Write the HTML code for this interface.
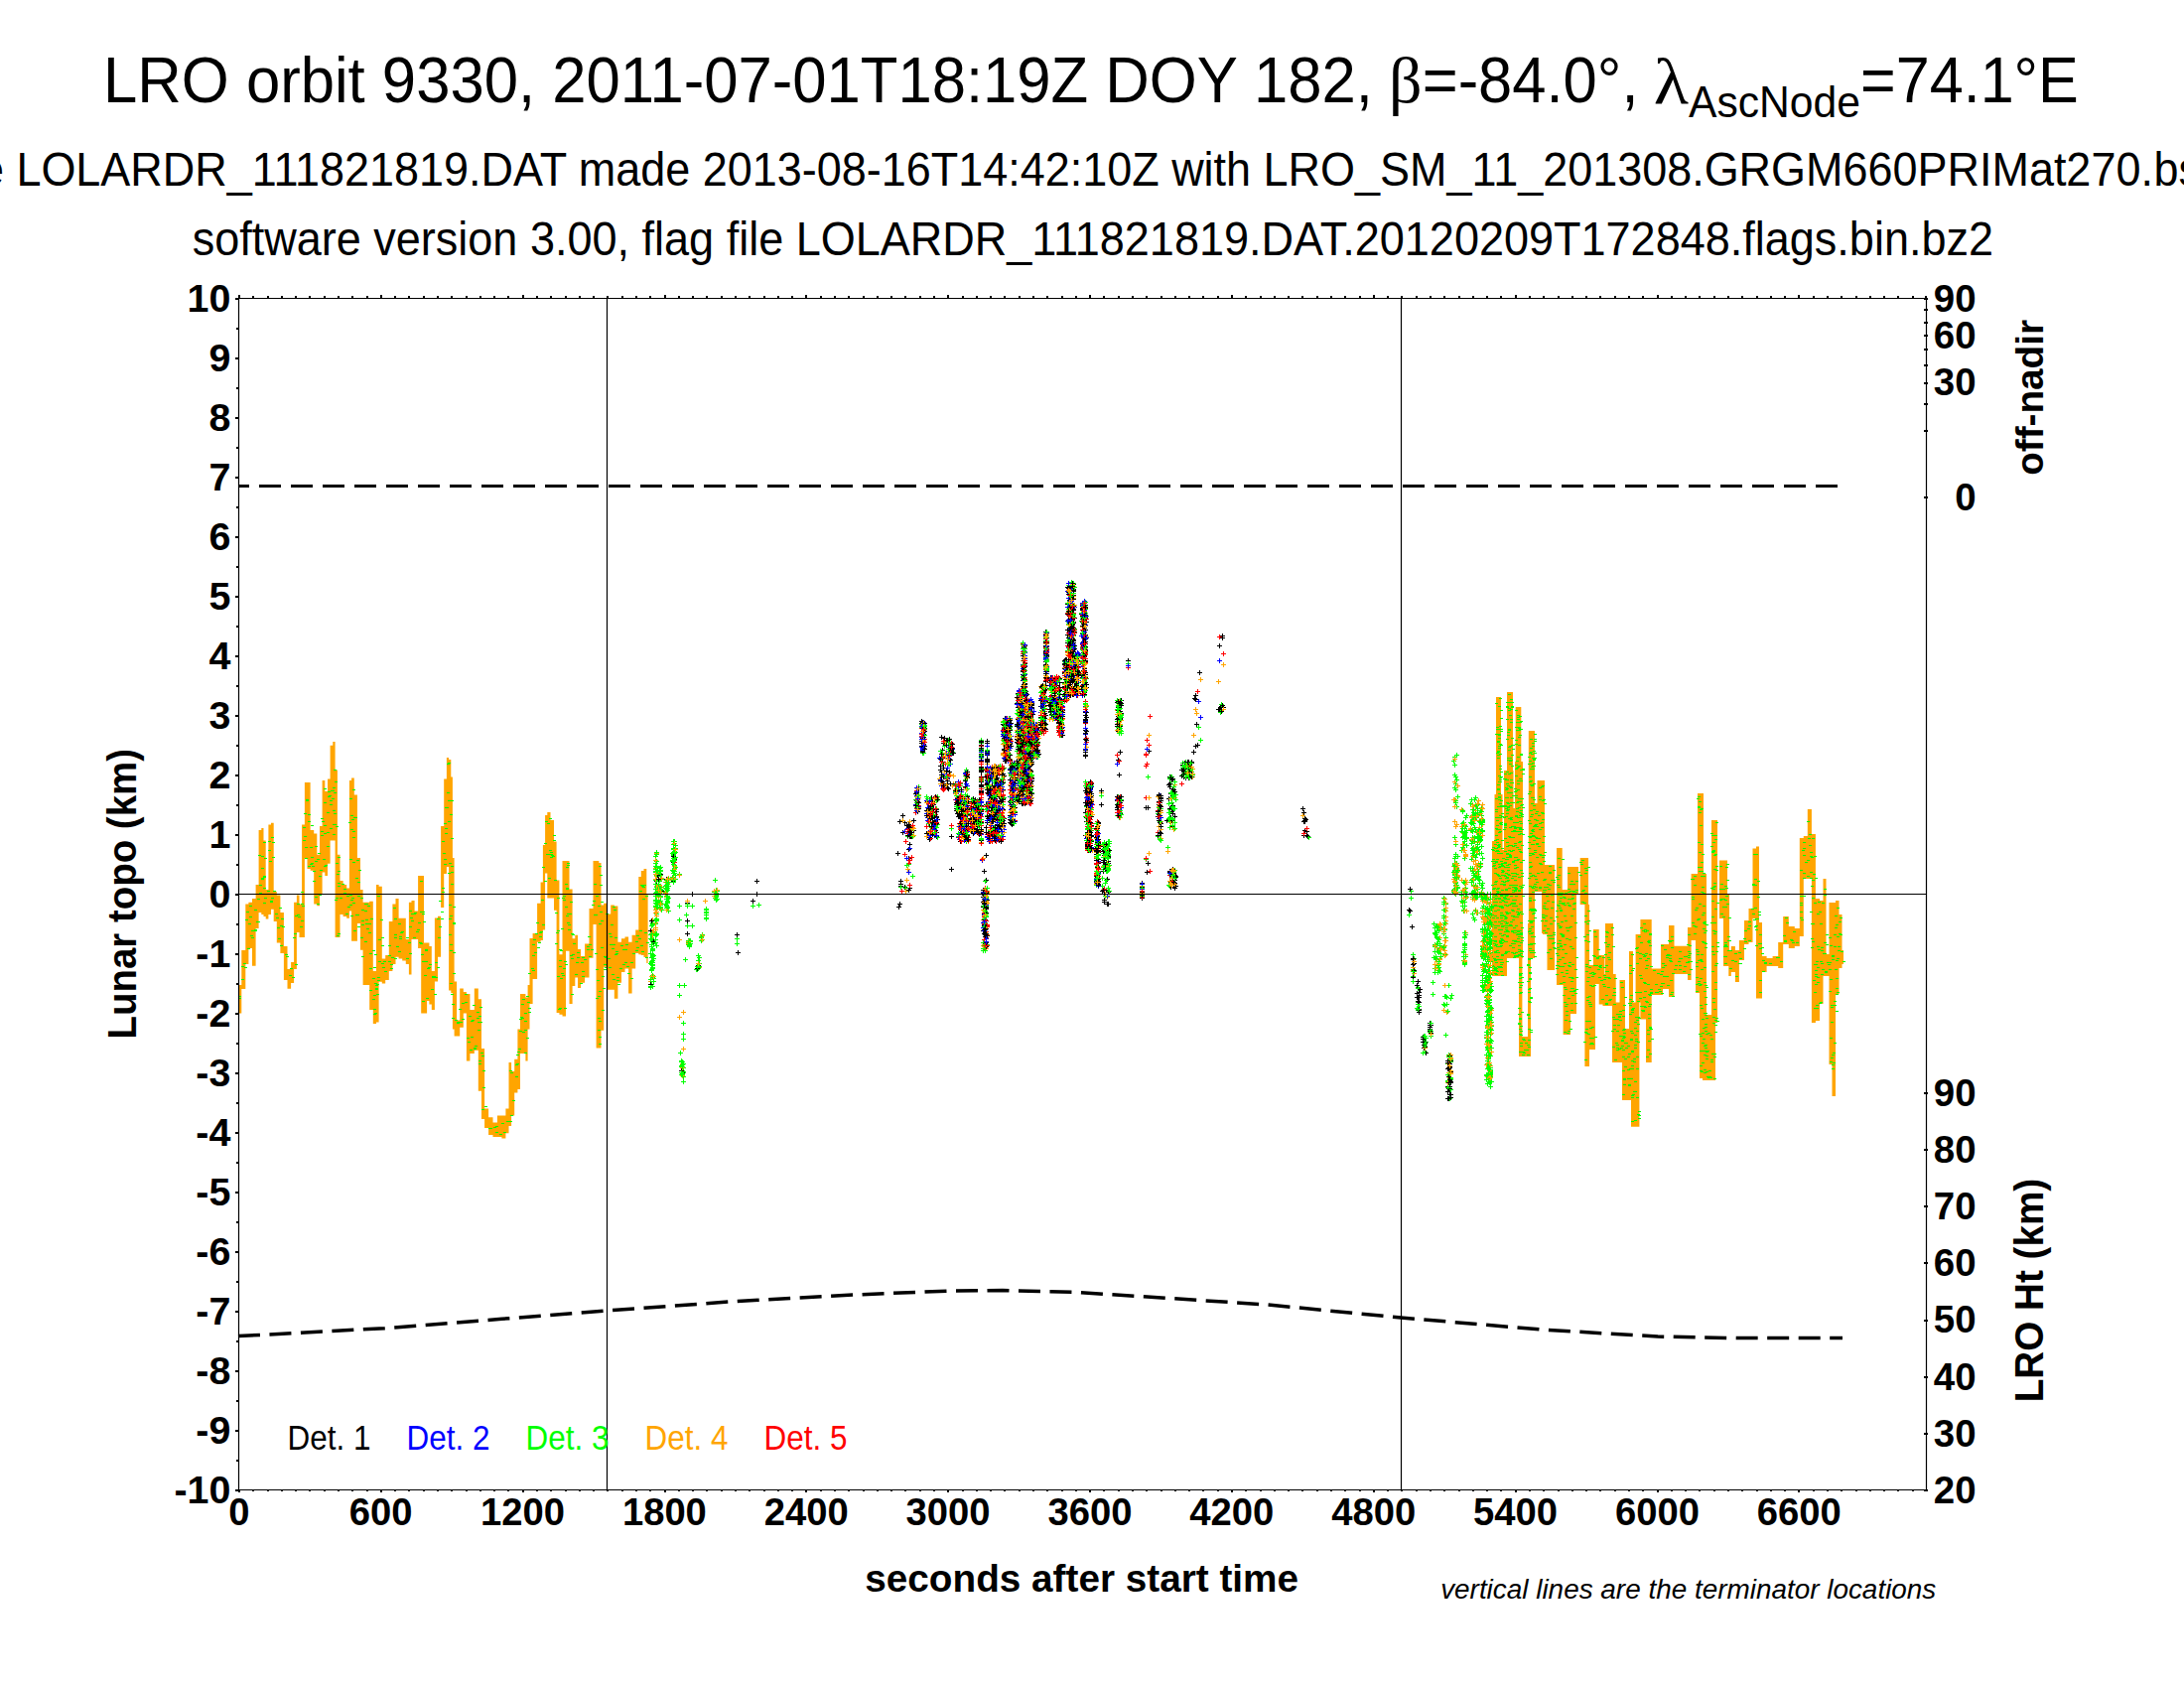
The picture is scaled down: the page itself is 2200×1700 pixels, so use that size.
<!DOCTYPE html><html><head><meta charset="utf-8"><style>html,body{margin:0;padding:0;width:2200px;height:1700px;overflow:hidden;background:#fff}</style></head><body><svg width="2200" height="1700" viewBox="0 0 2200 1700" style="position:absolute;left:0;top:0"><rect width="2200" height="1700" fill="#fff"/><g transform="matrix(0.61623,0,0,0.65217,104.07,103.00)" font-family="Liberation Sans" font-weight="normal" font-style="normal" font-size="100" fill="#000"><text x="0" y="0">LRO orbit 9330, 2011-07-01T18:19Z DOY 182,</text></g><text transform="matrix(0.65854,0,0,0.64945,1399.05,103.36)" font-family="Liberation Serif" font-weight="normal" font-style="normal" font-size="100">β</text><g transform="matrix(0.61529,0,0,0.65217,1432.72,103.00)" font-family="Liberation Sans" font-weight="normal" font-style="normal" font-size="100" fill="#000"><text x="0" y="0">=-84.0°,</text></g><text transform="matrix(0.72667,0,0,0.65429,1665.82,103.70)" font-family="Liberation Serif" font-weight="normal" font-style="normal" font-size="100">λ</text><g transform="matrix(0.42643,0,0,0.44928,1701.00,118.00)" font-family="Liberation Sans" font-weight="normal" font-style="normal" font-size="100" fill="#000"><text x="0" y="0">AscNode</text></g><g transform="matrix(0.61143,0,0,0.65217,1873.94,103.00)" font-family="Liberation Sans" font-weight="normal" font-style="normal" font-size="100" fill="#000"><text x="0" y="0">=74.1°E</text></g><g transform="matrix(0.44968,0,0,0.47826,16.40,187.00)" font-family="Liberation Sans" font-weight="normal" font-style="normal" font-size="100" fill="#000"><text x="0" y="0" text-anchor="end">file&#160;</text><text x="0" y="0">LOLARDR_111821819.DAT made 2013-08-16T14:42:10Z with LRO_SM_11_201308.GRGM660PRIMat270.</text><text x="4788.00" y="0">bsp</text></g><g transform="matrix(0.45027,0,0,0.47826,193.65,257.00)" font-family="Liberation Sans" font-weight="normal" font-style="normal" font-size="100" fill="#000"><text x="0" y="0">software version 3.00, flag file LOLARDR_111821819.DAT.20120209T172848.flags.bin.bz2</text></g><polygon points="240.0,1000.0 240.3,1000.0 240.3,992.0 243.3,992.0 243.3,957.0 247.3,957.0 247.3,910.5 250.4,910.5 250.4,908.7 254.0,908.7 254.0,905.0 257.6,905.0 257.6,891.0 260.6,891.0 260.6,836.0 263.3,836.0 263.3,834.0 265.5,834.0 265.5,846.6 267.7,846.6 267.7,896.0 270.4,896.0 270.4,830.6 273.0,830.6 273.0,828.8 275.7,828.8 275.7,898.0 278.8,898.0 278.8,901.6 282.4,901.6 282.4,919.0 285.9,919.0 285.9,953.0 289.5,953.0 289.5,976.0 293.1,976.0 293.1,969.0 296.1,969.0 296.1,908.7 298.9,908.7 298.9,901.6 301.5,901.6 301.5,910.5 304.1,910.5 304.1,830.6 306.9,830.6 306.9,788.0 309.5,788.0 309.5,788.0 312.6,788.0 312.6,836.0 316.2,836.0 316.2,839.5 319.3,839.5 319.3,860.8 322.0,860.8 322.0,832.0 324.6,832.0 324.6,786.0 327.3,786.0 327.3,797.0 330.0,797.0 330.0,784.4 332.6,784.4 332.6,750.7 335.3,750.7 335.3,747.0 337.6,747.0 337.6,775.5 339.9,775.5 339.9,860.8 342.5,860.8 342.5,887.0 345.6,887.0 345.6,891.0 349.2,891.0 349.2,894.5 351.9,894.5 351.9,786.0 354.1,786.0 354.1,783.5 356.8,783.5 356.8,800.4 359.9,800.4 359.9,864.0 363.0,864.0 363.0,896.0 365.6,896.0 365.6,908.7 368.8,908.7 368.8,908.7 372.2,908.7 372.2,907.8 375.8,907.8 375.8,978.0 379.0,978.0 379.0,891.0 381.6,891.0 381.6,892.8 384.8,892.8 384.8,965.6 388.2,965.6 388.2,962.0 391.8,962.0 391.8,928.0 395.4,928.0 395.4,910.5 398.5,910.5 398.5,905.0 401.6,905.0 401.6,924.7 405.2,924.7 405.2,924.7 408.8,924.7 408.8,946.0 411.9,946.0 411.9,908.7 414.5,908.7 414.5,907.0 417.6,907.0 417.6,917.6 421.1,917.6 421.1,882.0 424.2,882.0 424.2,882.0 427.0,882.0 427.0,949.6 430.1,949.6 430.1,949.6 432.4,949.6 432.4,953.0 434.8,953.0 434.8,978.0 437.9,978.0 437.9,924.6 441.0,924.6 441.0,922.8 444.1,922.8 444.1,832.0 447.2,832.0 447.2,784.4 449.9,784.4 449.9,763.0 452.1,763.0 452.1,765.0 454.3,765.0 454.3,782.6 455.9,782.6 455.9,864.0 457.6,864.0 457.6,988.5 460.1,988.5 460.1,1027.6 463.2,1027.6 463.2,995.6 466.8,995.6 466.8,999.0 469.9,999.0 469.9,1001.0 473.4,1001.0 473.4,1017.0 477.8,1017.0 477.8,995.6 481.8,995.6 481.8,1006.3 485.0,1006.3 485.0,1056.0 488.1,1056.0 488.1,1116.4 492.1,1116.4 492.1,1125.3 496.5,1125.3 496.5,1130.6 500.9,1130.6 500.9,1123.5 505.4,1123.5 505.4,1123.5 509.4,1123.5 509.4,1116.4 512.5,1116.4 512.5,1070.0 515.1,1070.0 515.1,1079.0 518.2,1079.0 518.2,1066.7 521.4,1066.7 521.4,1036.5 524.0,1036.5 524.0,1001.0 526.7,1001.0 526.7,1001.0 529.4,1001.0 529.4,1004.5 531.6,1004.5 531.6,992.0 533.5,992.0 533.5,945.0 536.6,945.0 536.6,940.0 541.1,940.0 541.1,909.7 544.6,909.7 544.6,888.4 546.9,888.4 546.9,851.0 549.1,851.0 549.1,820.9 551.3,820.9 551.3,818.0 554.5,818.0 554.5,826.0 558.0,826.0 558.0,847.5 560.6,847.5 560.6,886.6 563.4,886.6 563.4,961.3 566.5,961.3 566.5,867.0 570.0,867.0 570.0,867.0 573.5,867.0 573.5,895.5 576.6,895.5 576.6,945.3 579.3,945.3 579.3,941.7 582.0,941.7 582.0,956.0 585.1,956.0 585.1,963.0 589.1,963.0 589.1,950.6 593.5,950.6 593.5,915.0 597.5,915.0 597.5,867.0 600.6,867.0 600.6,867.0 603.3,867.0 603.3,868.9 605.5,868.9 605.5,911.5 608.2,911.5 608.2,909.7 611.8,909.7 611.8,920.4 615.2,920.4 615.2,911.5 618.8,911.5 618.8,912.4 622.4,912.4 622.4,948.8 626.0,948.8 626.0,945.3 629.5,945.3 629.5,943.5 633.1,943.5 633.1,948.8 636.6,948.8 636.6,941.7 640.2,941.7 640.2,936.4 643.3,936.4 643.3,883.0 645.8,883.0 645.8,877.0 648.5,877.0 648.5,875.0 651.3,875.0 651.3,900.0 652.6,900.0 652.6,970.0 651.3,970.0 651.3,964.0 648.5,964.0 648.5,962.0 645.8,962.0 645.8,961.3 643.3,961.3 643.3,960.0 640.2,960.0 640.2,975.5 636.6,975.5 636.6,1000.4 633.1,1000.4 633.1,975.5 629.5,975.5 629.5,979.0 626.0,979.0 626.0,989.7 622.4,989.7 622.4,1005.7 618.8,1005.7 618.8,996.8 615.2,996.8 615.2,996.8 611.8,996.8 611.8,973.7 608.2,973.7 608.2,1037.7 605.5,1037.7 605.5,1055.5 603.3,1055.5 603.3,1055.5 600.6,1055.5 600.6,931.0 597.5,931.0 597.5,964.8 593.5,964.8 593.5,984.4 589.1,984.4 589.1,989.7 585.1,989.7 585.1,995.0 582.0,995.0 582.0,984.4 579.3,984.4 579.3,993.0 576.6,993.0 576.6,1011.0 573.5,1011.0 573.5,957.7 570.0,957.7 570.0,1023.5 566.5,1023.5 566.5,1021.7 563.4,1021.7 563.4,1020.0 560.6,1020.0 560.6,916.8 558.0,916.8 558.0,904.4 554.5,904.4 554.5,904.4 551.3,904.4 551.3,879.5 549.1,879.5 549.1,936.4 546.9,936.4 546.9,947.0 544.6,947.0 544.6,948.8 541.1,948.8 541.1,986.0 536.6,986.0 536.6,1011.0 533.5,1011.0 533.5,1036.5 531.6,1036.5 531.6,1068.5 529.4,1068.5 529.4,1061.0 526.7,1061.0 526.7,1061.0 524.0,1061.0 524.0,1097.0 521.4,1097.0 521.4,1100.4 518.2,1100.4 518.2,1123.5 515.1,1123.5 515.1,1134.0 512.5,1134.0 512.5,1141.3 509.4,1141.3 509.4,1146.6 505.4,1146.6 505.4,1145.0 500.9,1145.0 500.9,1145.0 496.5,1145.0 496.5,1143.0 492.1,1143.0 492.1,1136.0 488.1,1136.0 488.1,1127.0 485.0,1127.0 485.0,1098.7 481.8,1098.7 481.8,1057.8 477.8,1057.8 477.8,1061.0 473.4,1061.0 473.4,1068.5 469.9,1068.5 469.9,1020.5 466.8,1020.5 466.8,1034.7 463.2,1034.7 463.2,1043.6 460.1,1043.6 460.1,1043.6 457.6,1043.6 457.6,1036.5 455.9,1036.5 455.9,1000.0 454.3,1000.0 454.3,997.4 452.1,997.4 452.1,873.0 449.9,873.0 449.9,880.0 447.2,880.0 447.2,914.0 444.1,914.0 444.1,963.7 441.0,963.7 441.0,988.5 437.9,988.5 437.9,1017.0 434.8,1017.0 434.8,1011.6 432.4,1011.6 432.4,1008.0 430.1,1008.0 430.1,1020.6 427.0,1020.6 427.0,1020.6 424.2,1020.6 424.2,955.0 421.1,955.0 421.1,946.0 417.6,946.0 417.6,946.0 414.5,946.0 414.5,981.6 411.9,981.6 411.9,971.0 408.8,971.0 408.8,967.4 405.2,967.4 405.2,965.6 401.6,965.6 401.6,963.8 398.5,963.8 398.5,971.0 395.4,971.0 395.4,978.0 391.8,978.0 391.8,987.0 388.2,987.0 388.2,990.4 384.8,990.4 384.8,988.7 381.6,988.7 381.6,1029.5 379.0,1029.5 379.0,1031.0 375.8,1031.0 375.8,1017.0 372.2,1017.0 372.2,992.0 368.8,992.0 368.8,992.0 365.6,992.0 365.6,956.7 363.0,956.7 363.0,930.0 359.9,930.0 359.9,947.8 356.8,947.8 356.8,947.8 354.1,947.8 354.1,917.6 351.9,917.6 351.9,924.7 349.2,924.7 349.2,923.0 345.6,923.0 345.6,921.0 342.5,921.0 342.5,944.0 339.9,944.0 339.9,944.0 337.6,944.0 337.6,846.6 335.3,846.6 335.3,846.6 332.6,846.6 332.6,869.7 330.0,869.7 330.0,882.0 327.3,882.0 327.3,878.5 324.6,878.5 324.6,900.0 322.0,900.0 322.0,912.3 319.3,912.3 319.3,910.5 316.2,910.5 316.2,876.8 312.6,876.8 312.6,875.0 309.5,875.0 309.5,864.0 306.9,864.0 306.9,944.0 304.1,944.0 304.1,944.0 301.5,944.0 301.5,939.0 298.9,939.0 298.9,976.0 296.1,976.0 296.1,990.0 293.1,990.0 293.1,995.8 289.5,995.8 289.5,987.0 285.9,987.0 285.9,960.0 282.4,960.0 282.4,949.6 278.8,949.6 278.8,928.0 275.7,928.0 275.7,915.8 273.0,915.8 273.0,921.0 270.4,921.0 270.4,925.6 267.7,925.6 267.7,923.0 265.5,923.0 265.5,921.0 263.3,921.0 263.3,919.0 260.6,919.0 260.6,935.0 257.6,935.0 257.6,972.7 254.0,972.7 254.0,955.0 250.4,955.0 250.4,971.0 247.3,971.0 247.3,996.0 243.3,996.0 243.3,1020.6 240.3,1020.6 240.3,1021.0 240.0,1021.0" fill="#ffa500"/><polygon points="1741.3,957.0 1743.8,957.0 1743.8,953.0 1747.9,953.0 1747.9,957.0 1751.9,957.0 1751.9,947.0 1757.0,947.0 1757.0,927.0 1761.5,927.0 1761.5,915.0 1765.5,915.0 1765.5,854.5 1769.0,854.5 1769.0,852.5 1772.0,852.5 1772.0,929.0 1775.0,929.0 1775.0,963.0 1779.6,963.0 1779.6,965.0 1785.6,965.0 1785.6,963.0 1791.2,963.0 1791.2,949.0 1796.2,949.0 1796.2,923.0 1801.8,923.0 1801.8,933.0 1807.8,933.0 1807.8,935.0 1812.8,935.0 1812.8,844.0 1816.8,844.0 1816.8,842.0 1820.8,842.0 1820.8,815.0 1824.9,815.0 1824.9,840.0 1828.9,840.0 1828.9,905.0 1833.0,905.0 1833.0,907.0 1836.5,907.0 1836.5,885.0 1839.5,885.0 1839.5,961.0 1842.5,961.0 1842.5,909.0 1845.5,909.0 1845.5,909.0 1849.0,909.0 1849.0,907.0 1852.5,907.0 1852.5,921.0 1855.5,921.0 1855.5,957.0 1857.0,957.0 1857.0,971.0 1855.5,971.0 1855.5,975.0 1852.5,975.0 1852.5,1001.0 1849.0,1001.0 1849.0,1104.0 1845.5,1104.0 1845.5,1072.0 1842.5,1072.0 1842.5,983.0 1839.5,983.0 1839.5,983.0 1836.5,983.0 1836.5,1011.0 1833.0,1011.0 1833.0,1028.0 1828.9,1028.0 1828.9,1030.0 1824.9,1030.0 1824.9,885.0 1820.8,885.0 1820.8,885.0 1816.8,885.0 1816.8,943.0 1812.8,943.0 1812.8,953.0 1807.8,953.0 1807.8,955.0 1801.8,955.0 1801.8,951.0 1796.2,951.0 1796.2,975.0 1791.2,975.0 1791.2,973.0 1785.6,973.0 1785.6,973.0 1779.6,973.0 1779.6,979.0 1775.0,979.0 1775.0,1005.5 1772.0,1005.5 1772.0,1005.5 1769.0,1005.5 1769.0,925.0 1765.5,925.0 1765.5,949.0 1761.5,949.0 1761.5,951.0 1757.0,951.0 1757.0,967.0 1751.9,967.0 1751.9,989.0 1747.9,989.0 1747.9,979.0 1743.8,979.0 1743.8,983.0 1741.3,983.0" fill="#ffa500"/><path fill="#ffa500" d="M1503,847H1507V983H1503ZM1505.5,800H1513.5V983H1505.5ZM1507,702H1512V800H1507ZM1511,856H1518V983H1511ZM1515,776H1524.5V965H1515ZM1518,697H1524V776H1518ZM1526,767H1534V965H1526ZM1526.7,712H1532.3V767H1526.7ZM1524,814H1527V965H1524ZM1530,930H1533.4V1064H1530ZM1539,930H1542V1064H1539ZM1533.4,1044H1539V1064H1533.4ZM1539.8,736H1546V965H1539.8ZM1546,809H1548.5V898H1546ZM1548.5,786H1556V898H1548.5ZM1553,871H1559V940H1553ZM1554,898H1558.5V941H1554ZM1558.5,871H1566V977H1558.5ZM1568,854H1573.7V991H1568ZM1568,896H1575V992H1568ZM1574.6,896H1588V1021H1574.6ZM1574.6,1021H1582V1042H1574.6ZM1579,873H1590V900H1579ZM1591.7,864H1600V911H1591.7ZM1596.4,911H1601V1074H1596.4ZM1601,972H1607V1057H1601ZM1605,936H1610.7V991H1605ZM1610.7,962H1616.4V1011.5H1610.7ZM1617,930H1625V981H1617ZM1614.5,981H1627.7V1013H1614.5ZM1624,1009.6H1631.5V1070H1624ZM1631.5,987H1637V1070H1631.5ZM1634,1036H1643V1108H1634ZM1641,958H1645V1040H1641ZM1643,1009.6H1651.4V1134.7H1643ZM1647.6,941H1653V1009.6H1647.6ZM1652.4,926H1663.7V1026.6H1652.4ZM1658,1026.6H1663.7V1070H1658ZM1663.7,975.4H1675V1002H1663.7ZM1673,951H1681V996H1673ZM1681,932H1686.5V1004H1681ZM1686.5,952.7H1701.7V981H1686.5ZM1700,934H1703.6V987H1700ZM1703.6,880H1708V947H1703.6ZM1710,799H1716V880H1710ZM1708,880H1719V1000H1708ZM1712,1000H1719V1086H1712ZM1715,1022H1728V1088H1715ZM1724,826H1730V1030H1724ZM1732,866.6H1740V925H1732ZM1736,901H1742V973H1736Z"/><path d="M243,973.5h3M243,986.5h3M240,1005.5h3M240,1003.5h3M245,970.5h3M247,926.5h3M246,974.5h3M250,930.5h3M251,912.5h3M251,923.5h3M248,918.5h3M249,955.5h3M253,944.5h3M253,937.5h3M251,912.5h3M252,942.5h3M256,936.5h3M256,916.5h3M258,928.5h3M256,937.5h3M261,899.5h3M259,928.5h3M259,905.5h3M260,861.5h3M261,891.5h3M263,884.5h3M263,862.5h3M263,885.5h3M263,874.5h3M265,882.5h3M265,848.5h3M265,894.5h3M265,909.5h3M266,904.5h3M265,883.5h3M266,864.5h3M270,856.5h3M269,897.5h3M270,847.5h3M272,907.5h3M273,904.5h3M271,867.5h3M272,908.5h3M273,843.5h3M274,863.5h3M275,897.5h3M274,848.5h3M277,920.5h3M279,934.5h3M278,924.5h3M280,945.5h3M282,952.5h3M282,932.5h3M281,914.5h3M283,925.5h3M284,933.5h3M284,933.5h3M287,961.5h3M288,963.5h3M292,975.5h3M291,982.5h3M294,984.5h3M296,940.5h3M295,944.5h3M297,922.5h3M299,910.5h3M297,971.5h3M300,923.5h3M299,921.5h3M304,912.5h3M303,910.5h3M302,933.5h3M303,927.5h3M303,898.5h3M307,853.5h3M307,864.5h3M306,819.5h3M306,842.5h3M305,833.5h3M305,846.5h3M310,827.5h3M310,872.5h3M310,820.5h3M308,806.5h3M308,805.5h3M313,869.5h3M312,853.5h3M313,831.5h3M312,870.5h3M313,863.5h3M314,872.5h3M315,877.5h3M317,867.5h3M315,887.5h3M317,852.5h3M317,903.5h3M319,865.5h3M319,910.5h3M321,882.5h3M320,859.5h3M322,876.5h3M321,901.5h3M325,865.5h3M323,841.5h3M323,837.5h3M324,827.5h3M323,824.5h3M326,831.5h3M327,871.5h3M326,872.5h3M326,839.5h3M326,794.5h3M326,808.5h3M330,802.5h3M329,852.5h3M329,818.5h3M329,838.5h3M330,797.5h3M331,801.5h3M332,806.5h3M332,834.5h3M333,796.5h3M332,810.5h3M335,793.5h3M334,796.5h3M335,816.5h3M335,840.5h3M334,804.5h3M335,830.5h3M336,798.5h3M336,775.5h3M336,819.5h3M337,906.5h3M336,830.5h3M337,787.5h3M340,877.5h3M340,892.5h3M339,942.5h3M340,863.5h3M339,880.5h3M338,832.5h3M338,904.5h3M338,869.5h3M340,889.5h3M342,904.5h3M340,940.5h3M346,895.5h3M344,890.5h3M346,899.5h3M348,920.5h3M349,902.5h3M352,865.5h3M351,828.5h3M350,913.5h3M352,911.5h3M353,906.5h3M352,900.5h3M352,901.5h3M353,835.5h3M353,922.5h3M352,804.5h3M353,821.5h3M355,795.5h3M355,837.5h3M355,909.5h3M355,868.5h3M355,843.5h3M354,825.5h3M354,904.5h3M356,823.5h3M356,937.5h3M360,888.5h3M359,921.5h3M358,884.5h3M360,933.5h3M358,921.5h3M360,902.5h3M359,866.5h3M357,823.5h3M363,904.5h3M361,876.5h3M363,944.5h3M364,916.5h3M364,931.5h3M364,927.5h3M364,963.5h3M368,930.5h3M369,935.5h3M367,910.5h3M367,948.5h3M368,926.5h3M368,910.5h3M367,917.5h3M370,912.5h3M371,930.5h3M372,960.5h3M372,975.5h3M372,997.5h3M371,939.5h3M373,925.5h3M375,957.5h3M376,1021.5h3M375,1006.5h3M376,974.5h3M375,985.5h3M376,1016.5h3M376,1002.5h3M378,995.5h3M377,961.5h3M377,990.5h3M377,1020.5h3M378,992.5h3M378,996.5h3M379,1001.5h3M381,946.5h3M381,968.5h3M379,991.5h3M380,902.5h3M380,984.5h3M380,987.5h3M384,952.5h3M384,970.5h3M385,974.5h3M384,944.5h3M383,926.5h3M387,978.5h3M386,968.5h3M391,968.5h3M391,952.5h3M391,962.5h3M393,971.5h3M393,975.5h3M396,914.5h3M394,964.5h3M397,925.5h3M397,965.5h3M397,944.5h3M397,941.5h3M399,953.5h3M401,958.5h3M401,930.5h3M402,943.5h3M402,945.5h3M404,938.5h3M403,939.5h3M409,944.5h3M409,965.5h3M412,960.5h3M412,933.5h3M411,949.5h3M414,927.5h3M413,924.5h3M412,917.5h3M414,920.5h3M416,920.5h3M417,919.5h3M416,944.5h3M421,929.5h3M422,949.5h3M420,936.5h3M419,938.5h3M424,961.5h3M423,887.5h3M424,900.5h3M423,918.5h3M423,950.5h3M425,918.5h3M425,968.5h3M426,928.5h3M425,920.5h3M427,982.5h3M425,1008.5h3M427,982.5h3M428,957.5h3M428,956.5h3M428,968.5h3M429,1005.5h3M430,975.5h3M431,974.5h3M432,971.5h3M435,983.5h3M434,996.5h3M435,984.5h3M436,983.5h3M437,1001.5h3M438,984.5h3M438,969.5h3M441,944.5h3M440,925.5h3M440,974.5h3M444,918.5h3M442,907.5h3M442,933.5h3M444,925.5h3M447,870.5h3M446,859.5h3M445,894.5h3M445,898.5h3M447,829.5h3M445,847.5h3M447,865.5h3M448,834.5h3M449,813.5h3M448,839.5h3M448,813.5h3M452,911.5h3M452,869.5h3M450,798.5h3M452,925.5h3M451,768.5h3M451,879.5h3M451,806.5h3M452,941.5h3M450,769.5h3M451,827.5h3M453,951.5h3M454,890.5h3M453,990.5h3M453,957.5h3M453,820.5h3M454,844.5h3M454,890.5h3M453,820.5h3M453,922.5h3M454,878.5h3M454,1001.5h3M454,806.5h3M454,872.5h3M455,1011.5h3M455,1025.5h3M456,930.5h3M458,1027.5h3M456,980.5h3M456,959.5h3M456,929.5h3M456,913.5h3M460,1029.5h3M460,1030.5h3M463,1029.5h3M462,1016.5h3M465,1026.5h3M465,1010.5h3M468,1009.5h3M470,1045.5h3M468,1001.5h3M474,1028.5h3M473,1057.5h3M472,1023.5h3M474,1044.5h3M471,1049.5h3M476,1012.5h3M478,1053.5h3M477,1055.5h3M475,1027.5h3M477,1056.5h3M480,1019.5h3M481,1037.5h3M482,1023.5h3M482,1068.5h3M482,1071.5h3M481,1029.5h3M480,1025.5h3M483,1029.5h3M485,1063.5h3M483,1014.5h3M484,1060.5h3M485,1117.5h3M486,1078.5h3M486,1095.5h3M488,1114.5h3M486,1095.5h3M492,1136.5h3M493,1136.5h3M497,1135.5h3M499,1140.5h3M499,1134.5h3M503,1142.5h3M505,1131.5h3M510,1129.5h3M507,1140.5h3M513,1078.5h3M511,1129.5h3M512,1129.5h3M514,1080.5h3M513,1129.5h3M514,1123.5h3M519,1084.5h3M516,1108.5h3M519,1072.5h3M521,1059.5h3M520,1062.5h3M520,1071.5h3M523,1026.5h3M522,1056.5h3M524,1024.5h3M523,1038.5h3M526,1006.5h3M525,1025.5h3M526,1039.5h3M525,1011.5h3M528,1020.5h3M528,1060.5h3M528,1037.5h3M528,1028.5h3M531,1009.5h3M530,1045.5h3M530,1003.5h3M532,1015.5h3M532,1019.5h3M532,980.5h3M536,977.5h3M537,946.5h3M536,962.5h3M536,951.5h3M535,975.5h3M538,959.5h3M541,954.5h3M539,940.5h3M542,949.5h3M540,929.5h3M543,943.5h3M544,938.5h3M543,939.5h3M546,931.5h3M546,873.5h3M545,906.5h3M548,849.5h3M547,900.5h3M549,827.5h3M548,887.5h3M551,829.5h3M550,860.5h3M553,856.5h3M554,858.5h3M554,860.5h3M553,824.5h3M554,863.5h3M552,884.5h3M555,861.5h3M552,860.5h3M556,862.5h3M556,862.5h3M557,841.5h3M557,846.5h3M560,939.5h3M558,886.5h3M559,950.5h3M559,919.5h3M561,983.5h3M561,904.5h3M562,1016.5h3M563,967.5h3M563,1015.5h3M561,937.5h3M563,956.5h3M563,973.5h3M564,985.5h3M567,906.5h3M565,980.5h3M565,935.5h3M564,957.5h3M567,975.5h3M567,902.5h3M566,904.5h3M566,982.5h3M570,922.5h3M569,971.5h3M568,1015.5h3M569,913.5h3M570,895.5h3M571,920.5h3M568,968.5h3M569,890.5h3M570,873.5h3M570,894.5h3M574,962.5h3M573,920.5h3M571,871.5h3M571,929.5h3M572,931.5h3M574,908.5h3M572,936.5h3M571,869.5h3M575,940.5h3M575,965.5h3M576,941.5h3M576,961.5h3M575,1001.5h3M577,950.5h3M579,981.5h3M581,959.5h3M580,969.5h3M581,964.5h3M584,990.5h3M585,969.5h3M586,964.5h3M588,966.5h3M586,983.5h3M586,978.5h3M591,953.5h3M593,951.5h3M593,963.5h3M591,956.5h3M592,943.5h3M598,921.5h3M595,956.5h3M597,907.5h3M597,907.5h3M596,911.5h3M598,890.5h3M600,976.5h3M601,987.5h3M599,921.5h3M599,960.5h3M600,902.5h3M600,1005.5h3M603,872.5h3M602,912.5h3M603,1044.5h3M603,930.5h3M603,930.5h3M602,1037.5h3M603,998.5h3M603,1051.5h3M602,1025.5h3M603,1028.5h3M602,1003.5h3M604,918.5h3M605,908.5h3M605,927.5h3M604,891.5h3M605,954.5h3M604,881.5h3M608,963.5h3M608,971.5h3M606,983.5h3M607,995.5h3M608,976.5h3M606,1017.5h3M609,974.5h3M610,920.5h3M609,964.5h3M612,965.5h3M612,965.5h3M610,920.5h3M615,931.5h3M614,951.5h3M613,940.5h3M613,974.5h3M614,943.5h3M616,955.5h3M618,916.5h3M617,951.5h3M619,944.5h3M619,961.5h3M617,986.5h3M616,981.5h3M617,913.5h3M622,991.5h3M620,958.5h3M621,984.5h3M620,960.5h3M621,987.5h3M627,956.5h3M624,975.5h3M625,952.5h3M627,971.5h3M629,969.5h3M629,956.5h3M632,980.5h3M631,973.5h3M630,951.5h3M637,960.5h3M635,985.5h3M635,969.5h3M640,957.5h3M640,948.5h3M641,954.5h3M643,945.5h3M641,942.5h3M645,891.5h3M645,952.5h3M644,897.5h3M644,937.5h3M646,892.5h3M647,905.5h3M648,891.5h3M647,893.5h3M649,939.5h3M646,958.5h3M650,964.5h3M651,949.5h3M650,902.5h3M651,900.5h3M1742,957.5h3M1742,975.5h3M1744,967.5h3M1747,960.5h3M1747,968.5h3M1748,983.5h3M1751,970.5h3M1751,959.5h3M1752,970.5h3M1752,965.5h3M1757,948.5h3M1756,945.5h3M1757,937.5h3M1756,955.5h3M1761,928.5h3M1760,935.5h3M1761,932.5h3M1761,947.5h3M1765,920.5h3M1764,915.5h3M1766,860.5h3M1765,891.5h3M1766,926.5h3M1765,890.5h3M1768,936.5h3M1768,925.5h3M1769,925.5h3M1768,952.5h3M1767,914.5h3M1768,932.5h3M1767,933.5h3M1768,860.5h3M1767,891.5h3M1767,885.5h3M1772,941.5h3M1770,903.5h3M1772,999.5h3M1771,918.5h3M1772,950.5h3M1770,887.5h3M1772,987.5h3M1771,950.5h3M1771,921.5h3M1772,955.5h3M1775,978.5h3M1774,960.5h3M1774,954.5h3M1775,967.5h3M1777,969.5h3M1777,970.5h3M1782,970.5h3M1789,964.5h3M1790,964.5h3M1796,942.5h3M1797,948.5h3M1793,968.5h3M1797,947.5h3M1803,946.5h3M1798,924.5h3M1804,947.5h3M1799,929.5h3M1805,949.5h3M1806,938.5h3M1809,949.5h3M1813,909.5h3M1813,918.5h3M1813,924.5h3M1813,876.5h3M1813,911.5h3M1813,902.5h3M1816,861.5h3M1815,856.5h3M1816,848.5h3M1816,854.5h3M1816,879.5h3M1816,902.5h3M1814,926.5h3M1816,884.5h3M1821,844.5h3M1820,882.5h3M1818,868.5h3M1820,827.5h3M1820,866.5h3M1822,840.5h3M1822,851.5h3M1825,844.5h3M1825,930.5h3M1823,918.5h3M1823,878.5h3M1824,930.5h3M1823,862.5h3M1824,892.5h3M1825,886.5h3M1825,904.5h3M1824,863.5h3M1824,954.5h3M1825,948.5h3M1823,858.5h3M1823,884.5h3M1824,945.5h3M1829,1012.5h3M1828,884.5h3M1827,862.5h3M1827,1015.5h3M1828,977.5h3M1829,1015.5h3M1828,971.5h3M1828,983.5h3M1828,981.5h3M1827,971.5h3M1828,991.5h3M1826,880.5h3M1826,987.5h3M1830,984.5h3M1827,999.5h3M1829,968.5h3M1827,909.5h3M1831,956.5h3M1833,1009.5h3M1830,974.5h3M1830,920.5h3M1833,968.5h3M1834,954.5h3M1830,953.5h3M1832,1010.5h3M1834,957.5h3M1832,918.5h3M1833,930.5h3M1831,908.5h3M1830,989.5h3M1837,895.5h3M1837,901.5h3M1834,981.5h3M1835,976.5h3M1835,909.5h3M1836,960.5h3M1837,960.5h3M1834,970.5h3M1838,978.5h3M1838,979.5h3M1839,941.5h3M1837,949.5h3M1839,951.5h3M1842,944.5h3M1843,986.5h3M1840,969.5h3M1842,976.5h3M1842,944.5h3M1842,969.5h3M1842,998.5h3M1841,971.5h3M1846,1060.5h3M1845,962.5h3M1843,1069.5h3M1845,1062.5h3M1844,1014.5h3M1846,1070.5h3M1845,966.5h3M1844,1065.5h3M1844,1029.5h3M1845,1072.5h3M1845,963.5h3M1843,952.5h3M1844,1012.5h3M1845,1076.5h3M1843,1045.5h3M1845,1072.5h3M1847,1050.5h3M1849,985.5h3M1850,943.5h3M1846,1012.5h3M1849,931.5h3M1849,1018.5h3M1847,1012.5h3M1849,967.5h3M1847,953.5h3M1849,1001.5h3M1848,922.5h3M1849,995.5h3M1847,1008.5h3M1850,999.5h3M1848,976.5h3M1848,934.5h3M1847,941.5h3M1851,957.5h3M1851,953.5h3M1850,914.5h3M1853,941.5h3M1850,965.5h3M1852,928.5h3M1852,940.5h3M1853,924.5h3M1856,968.5h3M1854,958.5h3M1505,905.5h3M1506,951.5h3M1505,977.5h3M1503,853.5h3M1503,872.5h3M1502,855.5h3M1504,965.5h3M1504,975.5h3M1506,857.5h3M1504,901.5h3M1502,977.5h3M1503,924.5h3M1505,976.5h3M1505,901.5h3M1504,869.5h3M1506,981.5h3M1503,853.5h3M1503,895.5h3M1506,969.5h3M1505,854.5h3M1505,943.5h3M1505,980.5h3M1502,867.5h3M1505,974.5h3M1505,888.5h3M1504,950.5h3M1502,891.5h3M1503,865.5h3M1504,871.5h3M1503,867.5h3M1505,850.5h3M1505,874.5h3M1502,972.5h3M1503,973.5h3M1505,967.5h3M1503,908.5h3M1502,972.5h3M1505,932.5h3M1504,894.5h3M1505,912.5h3M1505,867.5h3M1503,856.5h3M1505,922.5h3M1503,965.5h3M1503,903.5h3M1507,953.5h3M1507,831.5h3M1508,859.5h3M1512,822.5h3M1512,811.5h3M1512,922.5h3M1506,887.5h3M1507,848.5h3M1506,867.5h3M1512,982.5h3M1512,819.5h3M1507,963.5h3M1505,932.5h3M1507,978.5h3M1505,947.5h3M1507,826.5h3M1505,952.5h3M1509,835.5h3M1508,966.5h3M1506,904.5h3M1506,834.5h3M1511,930.5h3M1506,815.5h3M1505,911.5h3M1508,851.5h3M1506,912.5h3M1510,948.5h3M1509,838.5h3M1505,934.5h3M1508,932.5h3M1505,948.5h3M1507,953.5h3M1511,890.5h3M1505,966.5h3M1508,959.5h3M1507,835.5h3M1511,867.5h3M1506,868.5h3M1509,802.5h3M1509,882.5h3M1509,823.5h3M1510,949.5h3M1511,859.5h3M1510,870.5h3M1511,812.5h3M1511,974.5h3M1508,894.5h3M1509,898.5h3M1505,976.5h3M1506,834.5h3M1505,846.5h3M1511,806.5h3M1505,928.5h3M1506,804.5h3M1509,905.5h3M1509,928.5h3M1505,958.5h3M1510,809.5h3M1505,890.5h3M1509,852.5h3M1505,874.5h3M1506,908.5h3M1511,828.5h3M1509,936.5h3M1506,951.5h3M1512,871.5h3M1508,953.5h3M1509,873.5h3M1512,942.5h3M1507,845.5h3M1507,880.5h3M1512,947.5h3M1512,949.5h3M1511,811.5h3M1509,974.5h3M1512,846.5h3M1508,916.5h3M1507,897.5h3M1505,879.5h3M1509,805.5h3M1506,977.5h3M1511,971.5h3M1510,947.5h3M1512,961.5h3M1505,917.5h3M1507,924.5h3M1507,899.5h3M1512,913.5h3M1507,895.5h3M1508,973.5h3M1507,856.5h3M1510,823.5h3M1509,974.5h3M1509,850.5h3M1508,898.5h3M1506,823.5h3M1506,854.5h3M1508,853.5h3M1506,817.5h3M1509,953.5h3M1509,904.5h3M1510,837.5h3M1510,884.5h3M1509,912.5h3M1508,857.5h3M1506,841.5h3M1509,870.5h3M1509,803.5h3M1507,957.5h3M1506,902.5h3M1508,853.5h3M1512,854.5h3M1511,830.5h3M1505,959.5h3M1508,812.5h3M1508,881.5h3M1510,821.5h3M1506,975.5h3M1510,829.5h3M1507,865.5h3M1510,913.5h3M1511,950.5h3M1510,774.5h3M1510,749.5h3M1510,771.5h3M1511,715.5h3M1510,703.5h3M1510,759.5h3M1508,795.5h3M1509,743.5h3M1510,787.5h3M1509,739.5h3M1508,747.5h3M1510,731.5h3M1508,756.5h3M1508,734.5h3M1510,785.5h3M1508,746.5h3M1507,732.5h3M1507,758.5h3M1509,711.5h3M1511,734.5h3M1510,783.5h3M1511,723.5h3M1508,790.5h3M1506,708.5h3M1509,751.5h3M1511,777.5h3M1509,799.5h3M1509,753.5h3M1509,740.5h3M1508,760.5h3M1508,794.5h3M1509,753.5h3M1506,739.5h3M1508,757.5h3M1509,787.5h3M1511,750.5h3M1508,763.5h3M1511,736.5h3M1509,781.5h3M1507,734.5h3M1511,782.5h3M1511,969.5h3M1515,960.5h3M1517,968.5h3M1513,877.5h3M1512,921.5h3M1514,881.5h3M1511,936.5h3M1514,901.5h3M1517,937.5h3M1510,908.5h3M1516,895.5h3M1515,857.5h3M1512,962.5h3M1514,941.5h3M1511,919.5h3M1514,890.5h3M1515,923.5h3M1517,929.5h3M1513,872.5h3M1511,952.5h3M1511,870.5h3M1511,922.5h3M1516,934.5h3M1516,865.5h3M1510,953.5h3M1512,946.5h3M1512,878.5h3M1512,869.5h3M1516,930.5h3M1512,913.5h3M1513,864.5h3M1516,930.5h3M1517,912.5h3M1514,888.5h3M1510,973.5h3M1516,896.5h3M1516,959.5h3M1512,932.5h3M1517,919.5h3M1517,887.5h3M1513,947.5h3M1512,896.5h3M1516,918.5h3M1516,887.5h3M1511,902.5h3M1511,978.5h3M1512,927.5h3M1511,924.5h3M1513,907.5h3M1510,872.5h3M1516,901.5h3M1512,881.5h3M1512,887.5h3M1510,940.5h3M1512,876.5h3M1515,869.5h3M1512,961.5h3M1511,912.5h3M1516,958.5h3M1511,901.5h3M1515,904.5h3M1517,883.5h3M1517,920.5h3M1512,914.5h3M1511,945.5h3M1512,969.5h3M1514,903.5h3M1512,933.5h3M1511,966.5h3M1511,921.5h3M1514,891.5h3M1515,905.5h3M1515,928.5h3M1512,906.5h3M1516,936.5h3M1517,901.5h3M1515,882.5h3M1517,871.5h3M1517,789.5h3M1517,819.5h3M1515,911.5h3M1517,852.5h3M1523,922.5h3M1522,938.5h3M1515,829.5h3M1514,904.5h3M1520,843.5h3M1518,900.5h3M1521,823.5h3M1522,843.5h3M1520,811.5h3M1515,948.5h3M1521,910.5h3M1514,784.5h3M1516,814.5h3M1517,848.5h3M1514,835.5h3M1520,811.5h3M1522,884.5h3M1521,825.5h3M1518,905.5h3M1517,777.5h3M1522,922.5h3M1517,785.5h3M1522,891.5h3M1514,823.5h3M1515,925.5h3M1516,948.5h3M1521,793.5h3M1521,851.5h3M1521,932.5h3M1517,794.5h3M1523,856.5h3M1523,906.5h3M1521,932.5h3M1520,862.5h3M1515,908.5h3M1518,873.5h3M1523,801.5h3M1521,785.5h3M1521,928.5h3M1516,879.5h3M1523,896.5h3M1519,824.5h3M1515,844.5h3M1518,815.5h3M1517,803.5h3M1521,902.5h3M1516,822.5h3M1519,860.5h3M1523,843.5h3M1517,942.5h3M1515,882.5h3M1517,929.5h3M1519,919.5h3M1516,902.5h3M1520,863.5h3M1521,932.5h3M1515,831.5h3M1517,816.5h3M1515,830.5h3M1516,908.5h3M1518,798.5h3M1517,865.5h3M1517,808.5h3M1515,779.5h3M1523,917.5h3M1515,911.5h3M1523,882.5h3M1515,868.5h3M1518,812.5h3M1519,779.5h3M1523,898.5h3M1520,952.5h3M1520,824.5h3M1516,803.5h3M1514,922.5h3M1522,832.5h3M1516,896.5h3M1522,950.5h3M1516,924.5h3M1522,916.5h3M1517,812.5h3M1522,837.5h3M1518,880.5h3M1518,932.5h3M1516,785.5h3M1519,894.5h3M1522,909.5h3M1523,954.5h3M1519,870.5h3M1515,833.5h3M1520,792.5h3M1521,808.5h3M1518,958.5h3M1515,784.5h3M1518,813.5h3M1521,778.5h3M1522,937.5h3M1521,857.5h3M1517,901.5h3M1519,856.5h3M1517,859.5h3M1520,931.5h3M1523,808.5h3M1517,860.5h3M1519,842.5h3M1516,793.5h3M1517,863.5h3M1523,947.5h3M1522,959.5h3M1523,893.5h3M1522,788.5h3M1520,891.5h3M1517,884.5h3M1523,867.5h3M1520,833.5h3M1517,943.5h3M1514,812.5h3M1520,861.5h3M1515,901.5h3M1518,886.5h3M1518,876.5h3M1519,851.5h3M1515,811.5h3M1522,879.5h3M1515,938.5h3M1516,795.5h3M1519,824.5h3M1519,881.5h3M1516,884.5h3M1515,873.5h3M1520,792.5h3M1518,791.5h3M1518,938.5h3M1519,911.5h3M1521,798.5h3M1523,912.5h3M1515,932.5h3M1518,809.5h3M1523,882.5h3M1521,803.5h3M1521,788.5h3M1519,699.5h3M1521,714.5h3M1519,752.5h3M1520,766.5h3M1521,765.5h3M1520,769.5h3M1522,711.5h3M1521,724.5h3M1522,750.5h3M1522,707.5h3M1519,755.5h3M1523,754.5h3M1517,744.5h3M1518,740.5h3M1522,707.5h3M1523,750.5h3M1519,713.5h3M1520,763.5h3M1520,707.5h3M1517,707.5h3M1522,712.5h3M1520,720.5h3M1521,727.5h3M1518,765.5h3M1520,751.5h3M1522,771.5h3M1517,724.5h3M1518,737.5h3M1522,760.5h3M1517,712.5h3M1522,750.5h3M1519,735.5h3M1518,763.5h3M1519,765.5h3M1521,704.5h3M1519,715.5h3M1522,743.5h3M1517,711.5h3M1519,734.5h3M1528,837.5h3M1525,882.5h3M1528,772.5h3M1529,961.5h3M1525,797.5h3M1530,821.5h3M1527,866.5h3M1527,880.5h3M1529,956.5h3M1533,775.5h3M1529,919.5h3M1532,920.5h3M1530,892.5h3M1528,823.5h3M1531,939.5h3M1533,902.5h3M1527,918.5h3M1531,868.5h3M1530,837.5h3M1529,848.5h3M1525,834.5h3M1528,962.5h3M1529,840.5h3M1527,814.5h3M1528,795.5h3M1525,939.5h3M1529,855.5h3M1530,827.5h3M1526,781.5h3M1527,828.5h3M1531,876.5h3M1532,835.5h3M1532,882.5h3M1526,803.5h3M1530,962.5h3M1528,920.5h3M1528,938.5h3M1526,863.5h3M1532,822.5h3M1527,773.5h3M1526,821.5h3M1531,811.5h3M1528,807.5h3M1530,937.5h3M1530,807.5h3M1531,957.5h3M1530,784.5h3M1531,940.5h3M1528,795.5h3M1527,873.5h3M1532,893.5h3M1532,810.5h3M1528,915.5h3M1530,847.5h3M1530,834.5h3M1525,849.5h3M1525,891.5h3M1528,865.5h3M1530,818.5h3M1529,771.5h3M1532,879.5h3M1533,779.5h3M1530,910.5h3M1528,786.5h3M1526,796.5h3M1531,786.5h3M1532,851.5h3M1529,883.5h3M1529,897.5h3M1530,833.5h3M1531,819.5h3M1531,918.5h3M1531,829.5h3M1531,960.5h3M1529,823.5h3M1529,952.5h3M1526,770.5h3M1529,896.5h3M1531,839.5h3M1533,813.5h3M1531,786.5h3M1525,794.5h3M1525,866.5h3M1529,804.5h3M1533,840.5h3M1526,803.5h3M1531,949.5h3M1526,774.5h3M1531,816.5h3M1533,866.5h3M1530,835.5h3M1531,858.5h3M1528,945.5h3M1526,912.5h3M1526,895.5h3M1528,937.5h3M1525,879.5h3M1528,948.5h3M1533,891.5h3M1527,817.5h3M1527,853.5h3M1527,808.5h3M1531,894.5h3M1527,963.5h3M1527,880.5h3M1526,937.5h3M1532,820.5h3M1531,929.5h3M1527,833.5h3M1529,943.5h3M1526,902.5h3M1530,857.5h3M1530,941.5h3M1527,941.5h3M1528,921.5h3M1532,804.5h3M1532,963.5h3M1527,773.5h3M1526,959.5h3M1525,947.5h3M1526,912.5h3M1526,801.5h3M1530,786.5h3M1528,948.5h3M1531,941.5h3M1533,774.5h3M1527,923.5h3M1531,775.5h3M1529,813.5h3M1528,789.5h3M1525,962.5h3M1528,940.5h3M1528,720.5h3M1528,722.5h3M1530,721.5h3M1530,740.5h3M1526,732.5h3M1528,762.5h3M1528,724.5h3M1531,760.5h3M1530,727.5h3M1527,727.5h3M1526,715.5h3M1529,735.5h3M1529,732.5h3M1526,749.5h3M1529,742.5h3M1529,750.5h3M1531,759.5h3M1530,734.5h3M1527,735.5h3M1531,734.5h3M1528,735.5h3M1527,766.5h3M1526,745.5h3M1531,726.5h3M1529,733.5h3M1524,832.5h3M1526,932.5h3M1526,822.5h3M1525,863.5h3M1525,897.5h3M1524,960.5h3M1523,926.5h3M1526,891.5h3M1525,963.5h3M1524,909.5h3M1525,871.5h3M1525,874.5h3M1525,906.5h3M1525,863.5h3M1525,896.5h3M1524,906.5h3M1524,950.5h3M1524,923.5h3M1525,886.5h3M1524,836.5h3M1526,894.5h3M1525,894.5h3M1525,851.5h3M1524,937.5h3M1524,910.5h3M1525,948.5h3M1526,821.5h3M1524,939.5h3M1525,833.5h3M1523,852.5h3M1523,868.5h3M1525,893.5h3M1524,828.5h3M1524,964.5h3M1525,882.5h3M1524,934.5h3M1525,837.5h3M1530,1000.5h3M1530,980.5h3M1530,981.5h3M1529,958.5h3M1531,939.5h3M1530,1026.5h3M1530,974.5h3M1530,1041.5h3M1529,1015.5h3M1532,958.5h3M1530,1036.5h3M1531,980.5h3M1529,989.5h3M1530,1025.5h3M1530,985.5h3M1531,1038.5h3M1530,982.5h3M1531,1053.5h3M1530,1059.5h3M1531,980.5h3M1531,974.5h3M1529,1031.5h3M1530,1000.5h3M1531,1050.5h3M1532,934.5h3M1531,992.5h3M1531,1042.5h3M1530,994.5h3M1532,989.5h3M1531,999.5h3M1532,1019.5h3M1532,984.5h3M1529,1021.5h3M1531,1033.5h3M1532,947.5h3M1530,941.5h3M1532,944.5h3M1529,1030.5h3M1538,1021.5h3M1540,995.5h3M1538,1022.5h3M1539,1008.5h3M1541,1039.5h3M1541,950.5h3M1539,999.5h3M1538,1062.5h3M1539,966.5h3M1539,965.5h3M1541,1004.5h3M1540,986.5h3M1538,971.5h3M1541,1037.5h3M1541,965.5h3M1539,938.5h3M1540,980.5h3M1539,996.5h3M1540,979.5h3M1540,957.5h3M1541,1004.5h3M1538,972.5h3M1540,985.5h3M1540,974.5h3M1539,1036.5h3M1539,1025.5h3M1540,1009.5h3M1539,1054.5h3M1539,1047.5h3M1538,988.5h3M1540,937.5h3M1541,940.5h3M1540,955.5h3M1541,1005.5h3M1535,1057.5h3M1536,1050.5h3M1534,1060.5h3M1533,1062.5h3M1534,1047.5h3M1533,1059.5h3M1538,1052.5h3M1536,1050.5h3M1537,1057.5h3M1533,1046.5h3M1539,927.5h3M1541,790.5h3M1542,809.5h3M1542,772.5h3M1544,811.5h3M1544,771.5h3M1544,959.5h3M1541,744.5h3M1541,882.5h3M1540,861.5h3M1539,842.5h3M1543,835.5h3M1543,763.5h3M1544,765.5h3M1545,963.5h3M1545,856.5h3M1541,816.5h3M1543,850.5h3M1545,758.5h3M1542,933.5h3M1543,860.5h3M1539,769.5h3M1540,940.5h3M1544,789.5h3M1545,744.5h3M1543,957.5h3M1541,951.5h3M1543,748.5h3M1541,839.5h3M1540,906.5h3M1540,916.5h3M1541,753.5h3M1542,759.5h3M1542,916.5h3M1542,842.5h3M1539,854.5h3M1539,884.5h3M1540,868.5h3M1541,822.5h3M1543,774.5h3M1540,951.5h3M1541,928.5h3M1544,846.5h3M1540,758.5h3M1544,764.5h3M1542,859.5h3M1540,843.5h3M1540,859.5h3M1542,820.5h3M1540,829.5h3M1540,766.5h3M1540,935.5h3M1542,939.5h3M1539,951.5h3M1542,917.5h3M1542,893.5h3M1540,907.5h3M1540,797.5h3M1539,826.5h3M1542,803.5h3M1544,756.5h3M1542,790.5h3M1542,915.5h3M1543,751.5h3M1540,873.5h3M1545,746.5h3M1543,894.5h3M1544,815.5h3M1544,842.5h3M1545,739.5h3M1545,831.5h3M1541,757.5h3M1540,904.5h3M1543,771.5h3M1541,769.5h3M1540,787.5h3M1541,959.5h3M1545,917.5h3M1542,850.5h3M1544,943.5h3M1543,881.5h3M1540,879.5h3M1544,916.5h3M1539,900.5h3M1541,774.5h3M1545,890.5h3M1543,768.5h3M1544,950.5h3M1544,906.5h3M1544,919.5h3M1542,836.5h3M1544,915.5h3M1544,805.5h3M1545,858.5h3M1545,763.5h3M1545,916.5h3M1540,927.5h3M1540,782.5h3M1542,791.5h3M1542,943.5h3M1543,898.5h3M1541,915.5h3M1544,892.5h3M1545,924.5h3M1541,757.5h3M1543,927.5h3M1541,872.5h3M1544,917.5h3M1539,848.5h3M1539,762.5h3M1544,832.5h3M1543,841.5h3M1541,786.5h3M1541,929.5h3M1543,803.5h3M1539,799.5h3M1543,837.5h3M1543,920.5h3M1540,892.5h3M1547,826.5h3M1546,893.5h3M1546,830.5h3M1547,863.5h3M1547,844.5h3M1546,893.5h3M1546,896.5h3M1545,882.5h3M1545,856.5h3M1545,825.5h3M1547,850.5h3M1547,832.5h3M1546,819.5h3M1546,885.5h3M1546,843.5h3M1547,888.5h3M1547,817.5h3M1547,849.5h3M1550,860.5h3M1552,828.5h3M1551,861.5h3M1554,842.5h3M1550,894.5h3M1548,879.5h3M1553,848.5h3M1551,870.5h3M1554,867.5h3M1553,791.5h3M1550,802.5h3M1555,885.5h3M1549,852.5h3M1552,792.5h3M1550,869.5h3M1552,818.5h3M1553,819.5h3M1552,833.5h3M1555,858.5h3M1554,861.5h3M1550,893.5h3M1553,863.5h3M1550,805.5h3M1552,878.5h3M1553,825.5h3M1549,844.5h3M1554,805.5h3M1553,806.5h3M1550,793.5h3M1550,829.5h3M1555,893.5h3M1549,821.5h3M1555,809.5h3M1550,835.5h3M1554,898.5h3M1554,937.5h3M1554,886.5h3M1557,902.5h3M1557,915.5h3M1557,893.5h3M1553,923.5h3M1555,909.5h3M1556,922.5h3M1554,896.5h3M1558,907.5h3M1554,914.5h3M1554,924.5h3M1552,927.5h3M1555,896.5h3M1558,890.5h3M1553,921.5h3M1556,927.5h3M1555,932.5h3M1554,912.5h3M1556,939.5h3M1556,927.5h3M1556,915.5h3M1563,908.5h3M1560,956.5h3M1560,891.5h3M1564,927.5h3M1561,942.5h3M1564,886.5h3M1560,879.5h3M1561,924.5h3M1564,941.5h3M1562,914.5h3M1562,900.5h3M1564,954.5h3M1564,888.5h3M1563,950.5h3M1561,965.5h3M1564,949.5h3M1564,939.5h3M1564,886.5h3M1563,945.5h3M1562,901.5h3M1558,935.5h3M1564,900.5h3M1559,895.5h3M1558,942.5h3M1565,955.5h3M1560,945.5h3M1558,959.5h3M1560,872.5h3M1562,886.5h3M1560,878.5h3M1561,930.5h3M1564,876.5h3M1568,885.5h3M1571,901.5h3M1569,932.5h3M1568,962.5h3M1568,968.5h3M1572,928.5h3M1567,960.5h3M1567,923.5h3M1569,864.5h3M1571,953.5h3M1570,909.5h3M1570,934.5h3M1568,972.5h3M1573,964.5h3M1572,899.5h3M1573,865.5h3M1570,873.5h3M1570,947.5h3M1571,916.5h3M1569,881.5h3M1569,893.5h3M1568,954.5h3M1570,914.5h3M1568,950.5h3M1568,891.5h3M1570,950.5h3M1573,956.5h3M1572,979.5h3M1571,952.5h3M1567,883.5h3M1567,972.5h3M1571,940.5h3M1569,912.5h3M1571,990.5h3M1569,901.5h3M1568,930.5h3M1573,973.5h3M1570,907.5h3M1568,911.5h3M1572,941.5h3M1574,983.5h3M1573,942.5h3M1573,909.5h3M1568,950.5h3M1571,917.5h3M1569,899.5h3M1573,964.5h3M1574,989.5h3M1570,966.5h3M1570,973.5h3M1573,910.5h3M1567,917.5h3M1571,933.5h3M1567,975.5h3M1573,941.5h3M1567,981.5h3M1571,904.5h3M1569,956.5h3M1573,943.5h3M1576,927.5h3M1586,944.5h3M1575,970.5h3M1575,922.5h3M1580,969.5h3M1582,984.5h3M1579,905.5h3M1583,904.5h3M1580,946.5h3M1583,985.5h3M1577,977.5h3M1583,955.5h3M1575,1009.5h3M1582,905.5h3M1577,1018.5h3M1577,945.5h3M1584,998.5h3M1582,988.5h3M1574,909.5h3M1587,996.5h3M1574,903.5h3M1577,1011.5h3M1577,980.5h3M1586,976.5h3M1586,929.5h3M1576,899.5h3M1584,910.5h3M1587,984.5h3M1576,996.5h3M1576,960.5h3M1575,994.5h3M1586,1010.5h3M1574,1002.5h3M1581,998.5h3M1580,973.5h3M1582,995.5h3M1575,904.5h3M1581,933.5h3M1579,898.5h3M1584,900.5h3M1585,997.5h3M1580,912.5h3M1582,922.5h3M1579,911.5h3M1587,964.5h3M1578,909.5h3M1583,1002.5h3M1585,909.5h3M1579,934.5h3M1584,915.5h3M1582,1017.5h3M1584,898.5h3M1575,911.5h3M1583,971.5h3M1581,953.5h3M1579,972.5h3M1582,1010.5h3M1583,995.5h3M1586,1000.5h3M1583,901.5h3M1583,1002.5h3M1579,1005.5h3M1576,1013.5h3M1580,984.5h3M1577,934.5h3M1578,937.5h3M1575,951.5h3M1578,1040.5h3M1579,1038.5h3M1581,1036.5h3M1576,1027.5h3M1577,1022.5h3M1575,1039.5h3M1580,1028.5h3M1587,896.5h3M1587,887.5h3M1579,895.5h3M1581,890.5h3M1582,887.5h3M1589,878.5h3M1584,890.5h3M1584,897.5h3M1582,897.5h3M1586,898.5h3M1579,879.5h3M1581,897.5h3M1593,897.5h3M1599,873.5h3M1594,896.5h3M1596,899.5h3M1597,876.5h3M1593,866.5h3M1596,874.5h3M1593,908.5h3M1596,892.5h3M1596,892.5h3M1596,879.5h3M1591,868.5h3M1591,881.5h3M1592,870.5h3M1595,909.5h3M1597,1036.5h3M1596,928.5h3M1597,978.5h3M1599,984.5h3M1599,927.5h3M1600,967.5h3M1599,917.5h3M1599,948.5h3M1599,1041.5h3M1598,957.5h3M1595,943.5h3M1600,937.5h3M1598,1007.5h3M1598,941.5h3M1596,928.5h3M1600,974.5h3M1598,1004.5h3M1596,922.5h3M1595,1049.5h3M1596,1067.5h3M1597,1028.5h3M1596,1039.5h3M1597,971.5h3M1598,930.5h3M1597,1040.5h3M1597,973.5h3M1599,948.5h3M1596,947.5h3M1597,971.5h3M1598,988.5h3M1600,1028.5h3M1605,992.5h3M1600,1009.5h3M1601,1011.5h3M1604,981.5h3M1601,1013.5h3M1601,992.5h3M1603,983.5h3M1600,1003.5h3M1603,1051.5h3M1603,979.5h3M1601,1035.5h3M1603,1045.5h3M1606,1044.5h3M1601,1051.5h3M1603,993.5h3M1601,1045.5h3M1601,980.5h3M1602,1050.5h3M1603,1034.5h3M1600,1011.5h3M1605,972.5h3M1606,943.5h3M1610,963.5h3M1605,938.5h3M1608,964.5h3M1604,962.5h3M1608,965.5h3M1605,963.5h3M1607,972.5h3M1605,980.5h3M1609,976.5h3M1609,956.5h3M1611,974.5h3M1613,1006.5h3M1610,973.5h3M1610,984.5h3M1611,972.5h3M1614,991.5h3M1615,982.5h3M1614,964.5h3M1615,974.5h3M1612,987.5h3M1615,986.5h3M1615,993.5h3M1623,941.5h3M1624,953.5h3M1618,978.5h3M1619,951.5h3M1619,964.5h3M1616,949.5h3M1617,972.5h3M1616,961.5h3M1618,953.5h3M1620,966.5h3M1617,943.5h3M1617,978.5h3M1617,938.5h3M1620,959.5h3M1623,934.5h3M1618,939.5h3M1619,994.5h3M1625,1002.5h3M1625,1011.5h3M1617,1010.5h3M1619,984.5h3M1626,985.5h3M1614,991.5h3M1617,1011.5h3M1625,995.5h3M1620,1007.5h3M1624,1002.5h3M1620,985.5h3M1617,1002.5h3M1621,1006.5h3M1625,1011.5h3M1616,984.5h3M1625,999.5h3M1628,1026.5h3M1625,1032.5h3M1627,1050.5h3M1624,1054.5h3M1628,1038.5h3M1628,1057.5h3M1623,1038.5h3M1628,1052.5h3M1628,1021.5h3M1630,1056.5h3M1625,1036.5h3M1630,1023.5h3M1626,1067.5h3M1630,1024.5h3M1629,1032.5h3M1628,1055.5h3M1624,1024.5h3M1625,1026.5h3M1631,1021.5h3M1633,994.5h3M1634,1064.5h3M1634,1017.5h3M1634,1023.5h3M1631,1027.5h3M1631,1043.5h3M1631,1018.5h3M1636,1050.5h3M1635,1040.5h3M1634,1045.5h3M1636,1004.5h3M1635,1012.5h3M1632,1055.5h3M1634,1057.5h3M1635,1036.5h3M1632,989.5h3M1633,1047.5h3M1634,1037.5h3M1635,1086.5h3M1633,1053.5h3M1635,1087.5h3M1642,1038.5h3M1634,1102.5h3M1642,1047.5h3M1636,1074.5h3M1636,1066.5h3M1637,1055.5h3M1633,1043.5h3M1634,1043.5h3M1639,1086.5h3M1635,1092.5h3M1640,1061.5h3M1637,1050.5h3M1641,1076.5h3M1633,1048.5h3M1639,1064.5h3M1639,1053.5h3M1640,1093.5h3M1634,1078.5h3M1635,1087.5h3M1640,1092.5h3M1635,1044.5h3M1639,1077.5h3M1641,1006.5h3M1640,1010.5h3M1641,980.5h3M1642,1002.5h3M1643,961.5h3M1643,977.5h3M1641,1010.5h3M1643,1008.5h3M1644,975.5h3M1641,1012.5h3M1641,972.5h3M1641,1021.5h3M1643,1016.5h3M1649,1049.5h3M1645,1099.5h3M1642,1086.5h3M1643,1017.5h3M1646,1029.5h3M1650,1119.5h3M1646,1035.5h3M1643,1073.5h3M1646,1055.5h3M1648,1076.5h3M1649,1024.5h3M1643,1058.5h3M1646,1042.5h3M1648,1038.5h3M1645,1069.5h3M1648,1105.5h3M1645,1066.5h3M1650,1126.5h3M1647,1024.5h3M1646,1089.5h3M1644,1015.5h3M1650,1123.5h3M1643,1068.5h3M1647,1048.5h3M1643,1103.5h3M1648,1064.5h3M1643,1059.5h3M1643,1129.5h3M1642,1046.5h3M1648,1027.5h3M1643,1019.5h3M1643,1076.5h3M1649,1031.5h3M1643,1105.5h3M1646,1052.5h3M1643,1040.5h3M1650,1025.5h3M1644,1102.5h3M1649,1122.5h3M1646,1128.5h3M1647,1046.5h3M1646,1099.5h3M1647,955.5h3M1652,949.5h3M1651,965.5h3M1648,959.5h3M1649,1008.5h3M1647,999.5h3M1648,954.5h3M1651,965.5h3M1648,970.5h3M1651,999.5h3M1650,943.5h3M1651,982.5h3M1651,1005.5h3M1648,999.5h3M1651,960.5h3M1656,962.5h3M1656,938.5h3M1654,1017.5h3M1656,990.5h3M1661,1002.5h3M1654,1018.5h3M1660,1025.5h3M1660,1001.5h3M1661,952.5h3M1659,965.5h3M1661,940.5h3M1657,960.5h3M1661,961.5h3M1661,1011.5h3M1661,941.5h3M1662,1000.5h3M1659,991.5h3M1652,1013.5h3M1658,972.5h3M1655,1004.5h3M1660,1013.5h3M1654,961.5h3M1654,937.5h3M1655,930.5h3M1660,949.5h3M1652,934.5h3M1660,947.5h3M1657,967.5h3M1660,1021.5h3M1655,989.5h3M1662,973.5h3M1662,999.5h3M1655,1013.5h3M1658,937.5h3M1658,1009.5h3M1657,975.5h3M1656,1014.5h3M1659,948.5h3M1655,963.5h3M1662,996.5h3M1653,1017.5h3M1652,985.5h3M1656,998.5h3M1656,936.5h3M1657,1008.5h3M1659,1037.5h3M1661,1061.5h3M1658,1064.5h3M1663,1046.5h3M1659,1057.5h3M1662,1036.5h3M1659,1041.5h3M1661,1035.5h3M1660,1048.5h3M1661,1034.5h3M1674,990.5h3M1672,981.5h3M1673,990.5h3M1671,998.5h3M1667,999.5h3M1665,977.5h3M1668,999.5h3M1673,1000.5h3M1668,999.5h3M1669,980.5h3M1670,996.5h3M1667,991.5h3M1674,970.5h3M1676,972.5h3M1673,952.5h3M1675,983.5h3M1678,962.5h3M1674,974.5h3M1673,978.5h3M1679,961.5h3M1677,983.5h3M1678,983.5h3M1678,964.5h3M1679,992.5h3M1672,993.5h3M1676,956.5h3M1684,980.5h3M1681,965.5h3M1684,1003.5h3M1682,987.5h3M1681,947.5h3M1681,962.5h3M1683,954.5h3M1681,948.5h3M1680,947.5h3M1682,968.5h3M1681,967.5h3M1682,1001.5h3M1683,999.5h3M1683,947.5h3M1683,943.5h3M1687,972.5h3M1700,964.5h3M1691,965.5h3M1691,972.5h3M1691,958.5h3M1699,969.5h3M1686,976.5h3M1697,963.5h3M1695,978.5h3M1692,965.5h3M1690,968.5h3M1696,973.5h3M1700,958.5h3M1691,976.5h3M1698,969.5h3M1696,963.5h3M1700,968.5h3M1700,941.5h3M1702,976.5h3M1699,951.5h3M1701,960.5h3M1700,981.5h3M1700,962.5h3M1702,968.5h3M1701,952.5h3M1705,932.5h3M1704,905.5h3M1704,905.5h3M1707,916.5h3M1704,903.5h3M1706,891.5h3M1706,882.5h3M1703,885.5h3M1706,891.5h3M1704,885.5h3M1704,929.5h3M1706,940.5h3M1712,873.5h3M1710,873.5h3M1712,815.5h3M1713,868.5h3M1711,807.5h3M1714,860.5h3M1713,877.5h3M1709,804.5h3M1710,802.5h3M1713,850.5h3M1710,813.5h3M1710,848.5h3M1713,877.5h3M1711,877.5h3M1712,831.5h3M1711,818.5h3M1715,879.5h3M1713,814.5h3M1710,812.5h3M1711,858.5h3M1713,961.5h3M1707,933.5h3M1716,949.5h3M1712,985.5h3M1714,921.5h3M1711,992.5h3M1716,989.5h3M1713,898.5h3M1709,926.5h3M1715,882.5h3M1716,974.5h3M1713,882.5h3M1716,930.5h3M1714,948.5h3M1715,929.5h3M1718,994.5h3M1717,954.5h3M1710,925.5h3M1710,988.5h3M1716,974.5h3M1716,998.5h3M1715,919.5h3M1715,912.5h3M1714,900.5h3M1716,939.5h3M1710,990.5h3M1708,991.5h3M1715,899.5h3M1715,949.5h3M1717,950.5h3M1712,991.5h3M1708,973.5h3M1708,914.5h3M1708,984.5h3M1712,967.5h3M1710,967.5h3M1714,893.5h3M1712,966.5h3M1709,958.5h3M1710,925.5h3M1717,992.5h3M1718,931.5h3M1713,976.5h3M1715,935.5h3M1716,928.5h3M1717,937.5h3M1708,969.5h3M1709,961.5h3M1708,998.5h3M1713,968.5h3M1708,956.5h3M1711,910.5h3M1711,1041.5h3M1712,1073.5h3M1717,1004.5h3M1714,1040.5h3M1716,1062.5h3M1713,1079.5h3M1712,1012.5h3M1717,1011.5h3M1712,1043.5h3M1713,1015.5h3M1718,1041.5h3M1717,1022.5h3M1717,1020.5h3M1717,1052.5h3M1718,1066.5h3M1715,1046.5h3M1717,1038.5h3M1712,1078.5h3M1717,1058.5h3M1716,1020.5h3M1714,1070.5h3M1718,1079.5h3M1712,1058.5h3M1715,1035.5h3M1716,1053.5h3M1720,1040.5h3M1719,1058.5h3M1724,1061.5h3M1716,1080.5h3M1719,1084.5h3M1727,1032.5h3M1722,1085.5h3M1719,1058.5h3M1718,1025.5h3M1717,1031.5h3M1718,1063.5h3M1721,1084.5h3M1723,1046.5h3M1726,1064.5h3M1721,1078.5h3M1723,1046.5h3M1722,1042.5h3M1727,1039.5h3M1727,1027.5h3M1714,1058.5h3M1717,1055.5h3M1716,1077.5h3M1723,1067.5h3M1726,1086.5h3M1723,1069.5h3M1714,1026.5h3M1720,1085.5h3M1718,1059.5h3M1714,1050.5h3M1726,1061.5h3M1725,1024.5h3M1717,1034.5h3M1725,1030.5h3M1725,1005.5h3M1726,892.5h3M1729,909.5h3M1727,841.5h3M1728,1025.5h3M1724,978.5h3M1725,857.5h3M1725,961.5h3M1729,1028.5h3M1729,953.5h3M1727,860.5h3M1727,938.5h3M1725,1009.5h3M1725,856.5h3M1724,857.5h3M1727,989.5h3M1724,929.5h3M1726,940.5h3M1725,937.5h3M1723,839.5h3M1726,875.5h3M1728,876.5h3M1728,876.5h3M1724,923.5h3M1725,895.5h3M1728,872.5h3M1727,996.5h3M1726,929.5h3M1729,949.5h3M1724,841.5h3M1723,894.5h3M1724,958.5h3M1726,889.5h3M1726,1016.5h3M1724,858.5h3M1725,893.5h3M1728,970.5h3M1726,861.5h3M1723,852.5h3M1728,958.5h3M1724,953.5h3M1723,929.5h3M1725,848.5h3M1727,972.5h3M1726,861.5h3M1727,915.5h3M1727,845.5h3M1728,828.5h3M1724,907.5h3M1732,906.5h3M1739,886.5h3M1733,905.5h3M1733,890.5h3M1737,892.5h3M1732,872.5h3M1735,923.5h3M1738,873.5h3M1735,895.5h3M1733,905.5h3M1735,913.5h3M1733,920.5h3M1738,894.5h3M1732,895.5h3M1732,906.5h3M1737,900.5h3M1739,870.5h3M1737,913.5h3M1737,906.5h3M1738,953.5h3M1737,951.5h3M1737,952.5h3M1737,970.5h3M1738,902.5h3M1736,953.5h3M1740,947.5h3M1736,963.5h3M1739,910.5h3M1737,949.5h3M1735,905.5h3M1737,963.5h3M1741,924.5h3M1740,957.5h3M1740,943.5h3M1741,947.5h3" stroke="#0f0" stroke-width="1" shape-rendering="crispEdges" fill="none"/><path d="M655,956.5h5M657.5,954v5M664,897.5h5M666.5,895v5M676,887.5h5M678.5,885v5M918,836.5h5M920.5,834v5M913,855.5h5M915.5,853v5M909,893.5h5M911.5,891v5M914,894.5h5M916.5,892v5M913,830.5h5M915.5,828v5M928,728.5h5M930.5,726v5M928,739.5h5M930.5,737v5M931,816.5h5M933.5,814v5M940,836.5h5M942.5,834v5M934,845.5h5M936.5,843v5M935,824.5h5M937.5,822v5M955,749.5h5M957.5,747v5M948,748.5h5M950.5,746v5M953,794.5h5M955.5,792v5M947,767.5h5M949.5,765v5M948,769.5h5M950.5,767v5M947,763.5h5M949.5,761v5M945,775.5h5M947.5,773v5M952,784.5h5M954.5,782v5M966,815.5h5M968.5,813v5M966,812.5h5M968.5,810v5M965,824.5h5M967.5,822v5M968,834.5h5M970.5,832v5M965,815.5h5M967.5,813v5M970,812.5h5M972.5,810v5M967,831.5h5M969.5,829v5M967,823.5h5M969.5,821v5M970,807.5h5M972.5,805v5M970,812.5h5M972.5,810v5M972,832.5h5M974.5,830v5M971,817.5h5M973.5,815v5M971,811.5h5M973.5,809v5M972,782.5h5M974.5,780v5M983,829.5h5M985.5,827v5M982,823.5h5M984.5,821v5M980,830.5h5M982.5,828v5M982,806.5h5M984.5,804v5M978,830.5h5M980.5,828v5M983,837.5h5M985.5,835v5M981,812.5h5M983.5,810v5M977,831.5h5M979.5,829v5M981,837.5h5M983.5,835v5M978,838.5h5M980.5,836v5M986,798.5h5M988.5,796v5M986,796.5h5M988.5,794v5M986,748.5h5M988.5,746v5M986,837.5h5M988.5,835v5M986,840.5h5M988.5,838v5M986,811.5h5M988.5,809v5M991,886.5h5M993.5,884v5M991,941.5h5M993.5,939v5M990,913.5h5M992.5,911v5M990,931.5h5M992.5,929v5M990,919.5h5M992.5,917v5M990,926.5h5M992.5,924v5M991,935.5h5M993.5,933v5M990,921.5h5M992.5,919v5M990,941.5h5M992.5,939v5M989,907.5h5M991.5,905v5M988,908.5h5M990.5,906v5M989,933.5h5M991.5,931v5M991,933.5h5M993.5,931v5M990,920.5h5M992.5,918v5M992,766.5h5M994.5,764v5M992,758.5h5M994.5,756v5M1004,793.5h5M1006.5,791v5M1001,815.5h5M1003.5,813v5M1008,807.5h5M1010.5,805v5M1006,773.5h5M1008.5,771v5M996,823.5h5M998.5,821v5M1002,821.5h5M1004.5,819v5M1006,837.5h5M1008.5,835v5M999,781.5h5M1001.5,779v5M998,833.5h5M1000.5,831v5M1002,800.5h5M1004.5,798v5M1002,780.5h5M1004.5,778v5M997,801.5h5M999.5,799v5M997,810.5h5M999.5,808v5M1002,794.5h5M1004.5,792v5M994,782.5h5M996.5,780v5M993,809.5h5M995.5,807v5M1000,783.5h5M1002.5,781v5M996,782.5h5M998.5,780v5M1006,845.5h5M1008.5,843v5M994,800.5h5M996.5,798v5M999,841.5h5M1001.5,839v5M1002,838.5h5M1004.5,836v5M1011,754.5h5M1013.5,752v5M1015,748.5h5M1017.5,746v5M1009,754.5h5M1011.5,752v5M1010,766.5h5M1012.5,764v5M1011,739.5h5M1013.5,737v5M1008,729.5h5M1010.5,727v5M1014,755.5h5M1016.5,753v5M1013,744.5h5M1015.5,742v5M1011,755.5h5M1013.5,753v5M1019,793.5h5M1021.5,791v5M1020,784.5h5M1022.5,782v5M1017,830.5h5M1019.5,828v5M1020,826.5h5M1022.5,824v5M1017,796.5h5M1019.5,794v5M1017,781.5h5M1019.5,779v5M1015,825.5h5M1017.5,823v5M1016,791.5h5M1018.5,789v5M1020,791.5h5M1022.5,789v5M1026,715.5h5M1028.5,713v5M1028,712.5h5M1030.5,710v5M1025,758.5h5M1027.5,756v5M1024,782.5h5M1026.5,780v5M1028,716.5h5M1030.5,714v5M1030,774.5h5M1032.5,772v5M1025,736.5h5M1027.5,734v5M1028,717.5h5M1030.5,715v5M1027,699.5h5M1029.5,697v5M1024,715.5h5M1026.5,713v5M1027,705.5h5M1029.5,703v5M1031,709.5h5M1033.5,707v5M1023,702.5h5M1025.5,700v5M1023,698.5h5M1025.5,696v5M1028,734.5h5M1030.5,732v5M1025,777.5h5M1027.5,775v5M1029,705.5h5M1031.5,703v5M1030,697.5h5M1032.5,695v5M1024,734.5h5M1026.5,732v5M1026,757.5h5M1028.5,755v5M1028,809.5h5M1030.5,807v5M1030,700.5h5M1032.5,698v5M1029,674.5h5M1031.5,672v5M1028,673.5h5M1030.5,671v5M1029,683.5h5M1031.5,681v5M1030,656.5h5M1032.5,654v5M1029,683.5h5M1031.5,681v5M1029,663.5h5M1031.5,661v5M1029,652.5h5M1031.5,650v5M1035,790.5h5M1037.5,788v5M1034,771.5h5M1036.5,769v5M1035,766.5h5M1037.5,764v5M1033,728.5h5M1035.5,726v5M1033,803.5h5M1035.5,801v5M1034,737.5h5M1036.5,735v5M1035,707.5h5M1037.5,705v5M1036,787.5h5M1038.5,785v5M1033,794.5h5M1035.5,792v5M1033,724.5h5M1035.5,722v5M1035,768.5h5M1037.5,766v5M1037,783.5h5M1039.5,781v5M1037,713.5h5M1039.5,711v5M1033,799.5h5M1035.5,797v5M1036,776.5h5M1038.5,774v5M1035,713.5h5M1037.5,711v5M1036,741.5h5M1038.5,739v5M1040,751.5h5M1042.5,749v5M1043,743.5h5M1045.5,741v5M1043,757.5h5M1045.5,755v5M1039,737.5h5M1041.5,735v5M1042,749.5h5M1044.5,747v5M1038,749.5h5M1040.5,747v5M1037,747.5h5M1039.5,745v5M1050,723.5h5M1052.5,721v5M1049,693.5h5M1051.5,691v5M1047,701.5h5M1049.5,699v5M1048,701.5h5M1050.5,699v5M1052,650.5h5M1054.5,648v5M1051,639.5h5M1053.5,637v5M1051,651.5h5M1053.5,649v5M1052,674.5h5M1054.5,672v5M1051,640.5h5M1053.5,638v5M1052,661.5h5M1054.5,659v5M1051,673.5h5M1053.5,671v5M1051,672.5h5M1053.5,670v5M1051,682.5h5M1053.5,680v5M1051,650.5h5M1053.5,648v5M1052,642.5h5M1054.5,640v5M1051,656.5h5M1053.5,654v5M1065,695.5h5M1067.5,693v5M1055,714.5h5M1057.5,712v5M1065,694.5h5M1067.5,692v5M1057,687.5h5M1059.5,685v5M1057,700.5h5M1059.5,698v5M1061,688.5h5M1063.5,686v5M1058,722.5h5M1060.5,720v5M1064,721.5h5M1066.5,719v5M1065,732.5h5M1067.5,730v5M1066,708.5h5M1068.5,706v5M1064,727.5h5M1066.5,725v5M1072,703.5h5M1074.5,701v5M1070,669.5h5M1072.5,667v5M1070,680.5h5M1072.5,678v5M1080,653.5h5M1082.5,651v5M1076,642.5h5M1078.5,640v5M1080,622.5h5M1082.5,620v5M1074,674.5h5M1076.5,672v5M1073,680.5h5M1075.5,678v5M1074,683.5h5M1076.5,681v5M1079,699.5h5M1081.5,697v5M1075,598.5h5M1077.5,596v5M1079,588.5h5M1081.5,586v5M1076,637.5h5M1078.5,635v5M1080,653.5h5M1082.5,651v5M1075,643.5h5M1077.5,641v5M1073,639.5h5M1075.5,637v5M1073,608.5h5M1075.5,606v5M1075,689.5h5M1077.5,687v5M1076,646.5h5M1078.5,644v5M1077,640.5h5M1079.5,638v5M1074,587.5h5M1076.5,585v5M1076,692.5h5M1078.5,690v5M1077,642.5h5M1079.5,640v5M1078,655.5h5M1080.5,653v5M1075,684.5h5M1077.5,682v5M1075,626.5h5M1077.5,624v5M1077,586.5h5M1079.5,584v5M1078,603.5h5M1080.5,601v5M1084,660.5h5M1086.5,658v5M1082,689.5h5M1084.5,687v5M1082,674.5h5M1084.5,672v5M1082,691.5h5M1084.5,689v5M1083,657.5h5M1085.5,655v5M1083,669.5h5M1085.5,667v5M1082,694.5h5M1084.5,692v5M1091,683.5h5M1093.5,681v5M1089,610.5h5M1091.5,608v5M1088,691.5h5M1090.5,689v5M1090,636.5h5M1092.5,634v5M1090,699.5h5M1092.5,697v5M1089,650.5h5M1091.5,648v5M1088,610.5h5M1090.5,608v5M1091,626.5h5M1093.5,624v5M1089,666.5h5M1091.5,664v5M1088,612.5h5M1090.5,610v5M1089,678.5h5M1091.5,676v5M1089,635.5h5M1091.5,633v5M1089,642.5h5M1091.5,640v5M1092,692.5h5M1094.5,690v5M1088,614.5h5M1090.5,612v5M1089,670.5h5M1091.5,668v5M1091,796.5h5M1093.5,794v5M1091,841.5h5M1093.5,839v5M1094,814.5h5M1096.5,812v5M1092,827.5h5M1094.5,825v5M1096,849.5h5M1098.5,847v5M1094,829.5h5M1096.5,827v5M1096,841.5h5M1098.5,839v5M1096,807.5h5M1098.5,805v5M1092,823.5h5M1094.5,821v5M1093,809.5h5M1095.5,807v5M1094,840.5h5M1096.5,838v5M1093,822.5h5M1095.5,820v5M1094,789.5h5M1096.5,787v5M1093,851.5h5M1095.5,849v5M1102,843.5h5M1104.5,841v5M1102,834.5h5M1104.5,832v5M1102,891.5h5M1104.5,889v5M1103,853.5h5M1105.5,851v5M1104,847.5h5M1106.5,845v5M1102,882.5h5M1104.5,880v5M1104,849.5h5M1106.5,847v5M1109,877.5h5M1111.5,875v5M1110,861.5h5M1112.5,859v5M1111,859.5h5M1113.5,857v5M1113,856.5h5M1115.5,854v5M1112,896.5h5M1114.5,894v5M1114,898.5h5M1116.5,896v5M1113,885.5h5M1115.5,883v5M1126,723.5h5M1128.5,721v5M1126,720.5h5M1128.5,718v5M1123,707.5h5M1125.5,705v5M1124,723.5h5M1126.5,721v5M1124,715.5h5M1126.5,713v5M1126,723.5h5M1128.5,721v5M1125,821.5h5M1127.5,819v5M1125,806.5h5M1127.5,804v5M1124,806.5h5M1126.5,804v5M1126,823.5h5M1128.5,821v5M1125,819.5h5M1127.5,817v5M1165,800.5h5M1167.5,798v5M1166,821.5h5M1168.5,819v5M1167,829.5h5M1169.5,827v5M1176,792.5h5M1178.5,790v5M1176,782.5h5M1178.5,780v5M1179,814.5h5M1181.5,812v5M1177,824.5h5M1179.5,822v5M1196,773.5h5M1198.5,771v5M1195,783.5h5M1197.5,781v5M1202,751.5h5M1204.5,749v5M1202,704.5h5M1204.5,702v5M1311,818.5h5M1313.5,816v5M1311,841.5h5M1313.5,839v5M1427,1002.5h5M1429.5,1000v5M1427,999.5h5M1429.5,997v5M1433,1050.5h5M1435.5,1048v5M1433,1054.5h5M1435.5,1052v5M1458,1075.5h5M1460.5,1073v5M1459,1067.5h5M1461.5,1065v5M1456,1106.5h5M1458.5,1104v5M1458,1074.5h5M1460.5,1072v5M1458,1094.5h5M1460.5,1092v5M685,1078.5h5M687.5,1076v5M760,887.5h5M762.5,885v5M904,827.5h5M906.5,825v5M907,838.5h5M909.5,836v5M914,850.5h5M916.5,848v5M1312,827.5h5M1314.5,825v5M1315,842.5h5M1317.5,840v5M1420,933.5h5M1422.5,931v5" stroke="#000" stroke-width="1" shape-rendering="crispEdges" fill="none"/><path d="M920,810.5h5M922.5,808v5M923,812.5h5M925.5,810v5M939,841.5h5M941.5,839v5M935,813.5h5M937.5,811v5M931,819.5h5M933.5,817v5M932,839.5h5M934.5,837v5M955,769.5h5M957.5,767v5M957,754.5h5M959.5,752v5M963,792.5h5M965.5,790v5M970,825.5h5M972.5,823v5M972,841.5h5M974.5,839v5M975,819.5h5M977.5,817v5M983,810.5h5M985.5,808v5M975,820.5h5M977.5,818v5M977,834.5h5M979.5,832v5M986,769.5h5M988.5,767v5M986,816.5h5M988.5,814v5M989,921.5h5M991.5,919v5M990,898.5h5M992.5,896v5M988,929.5h5M990.5,927v5M990,907.5h5M992.5,905v5M1009,835.5h5M1011.5,833v5M1005,790.5h5M1007.5,788v5M1008,842.5h5M1010.5,840v5M997,795.5h5M999.5,793v5M1010,760.5h5M1012.5,758v5M1011,743.5h5M1013.5,741v5M1015,723.5h5M1017.5,721v5M1018,789.5h5M1020.5,787v5M1019,771.5h5M1021.5,769v5M1015,802.5h5M1017.5,800v5M1016,815.5h5M1018.5,813v5M1019,768.5h5M1021.5,766v5M1018,794.5h5M1020.5,792v5M1032,739.5h5M1034.5,737v5M1031,719.5h5M1033.5,717v5M1025,720.5h5M1027.5,718v5M1025,709.5h5M1027.5,707v5M1029,721.5h5M1031.5,719v5M1023,715.5h5M1025.5,713v5M1030,713.5h5M1032.5,711v5M1025,701.5h5M1027.5,699v5M1029,656.5h5M1031.5,654v5M1028,673.5h5M1030.5,671v5M1029,693.5h5M1031.5,691v5M1033,781.5h5M1035.5,779v5M1035,805.5h5M1037.5,803v5M1036,733.5h5M1038.5,731v5M1035,713.5h5M1037.5,711v5M1035,775.5h5M1037.5,773v5M1049,725.5h5M1051.5,723v5M1046,717.5h5M1048.5,715v5M1047,704.5h5M1049.5,702v5M1051,676.5h5M1053.5,674v5M1058,692.5h5M1060.5,690v5M1063,711.5h5M1065.5,709v5M1064,719.5h5M1066.5,717v5M1065,708.5h5M1067.5,706v5M1071,671.5h5M1073.5,669v5M1078,589.5h5M1080.5,587v5M1073,595.5h5M1075.5,593v5M1075,680.5h5M1077.5,678v5M1080,611.5h5M1082.5,609v5M1078,665.5h5M1080.5,663v5M1073,611.5h5M1075.5,609v5M1077,676.5h5M1079.5,674v5M1076,614.5h5M1078.5,612v5M1083,659.5h5M1085.5,657v5M1083,683.5h5M1085.5,681v5M1083,676.5h5M1085.5,674v5M1082,698.5h5M1084.5,696v5M1091,668.5h5M1093.5,666v5M1091,621.5h5M1093.5,619v5M1091,612.5h5M1093.5,610v5M1090,607.5h5M1092.5,605v5M1091,757.5h5M1093.5,755v5M1093,792.5h5M1095.5,790v5M1095,848.5h5M1097.5,846v5M1097,853.5h5M1099.5,851v5M1097,855.5h5M1099.5,853v5M1104,878.5h5M1106.5,876v5M1104,831.5h5M1106.5,829v5M1126,819.5h5M1128.5,817v5M1123,805.5h5M1125.5,803v5M1124,809.5h5M1126.5,807v5M1178,889.5h5M1180.5,887v5M913,878.5h5M915.5,876v5" stroke="#00f" stroke-width="1" shape-rendering="crispEdges" fill="none"/><path d="M655,969.5h5M657.5,967v5M655,972.5h5M657.5,970v5M656,950.5h5M658.5,948v5M655,967.5h5M657.5,965v5M654,964.5h5M656.5,962v5M655,969.5h5M657.5,967v5M654,983.5h5M656.5,981v5M659,927.5h5M661.5,925v5M659,900.5h5M661.5,898v5M659,867.5h5M661.5,865v5M659,920.5h5M661.5,918v5M661,897.5h5M663.5,895v5M662,892.5h5M664.5,890v5M660,895.5h5M662.5,893v5M664,916.5h5M666.5,914v5M661,900.5h5M663.5,898v5M661,893.5h5M663.5,891v5M662,894.5h5M664.5,892v5M670,914.5h5M672.5,912v5M675,867.5h5M677.5,865v5M675,883.5h5M677.5,881v5M676,861.5h5M678.5,859v5M677,863.5h5M679.5,861v5M682,881.5h5M684.5,879v5M690,907.5h5M692.5,905v5M690,910.5h5M692.5,908v5M686,1079.5h5M688.5,1077v5M684,1069.5h5M686.5,1067v5M686,1080.5h5M688.5,1078v5M702,964.5h5M704.5,962v5M704,943.5h5M706.5,941v5M719,897.5h5M721.5,895v5M719,903.5h5M721.5,901v5M717,898.5h5M719.5,896v5M719,905.5h5M721.5,903v5M912,842.5h5M914.5,840v5M923,792.5h5M925.5,790v5M928,727.5h5M930.5,725v5M929,740.5h5M931.5,738v5M927,732.5h5M929.5,730v5M936,818.5h5M938.5,816v5M942,830.5h5M944.5,828v5M954,756.5h5M956.5,754v5M954,769.5h5M956.5,767v5M947,769.5h5M949.5,767v5M954,750.5h5M956.5,748v5M963,789.5h5M965.5,787v5M973,827.5h5M975.5,825v5M967,816.5h5M969.5,814v5M971,832.5h5M973.5,830v5M967,828.5h5M969.5,826v5M972,835.5h5M974.5,833v5M971,847.5h5M973.5,845v5M982,820.5h5M984.5,818v5M984,833.5h5M986.5,831v5M978,824.5h5M980.5,822v5M976,813.5h5M978.5,811v5M985,808.5h5M987.5,806v5M977,815.5h5M979.5,813v5M984,835.5h5M986.5,833v5M986,786.5h5M988.5,784v5M986,745.5h5M988.5,743v5M986,767.5h5M988.5,765v5M986,748.5h5M988.5,746v5M990,914.5h5M992.5,912v5M989,912.5h5M991.5,910v5M992,931.5h5M994.5,929v5M992,951.5h5M994.5,949v5M990,918.5h5M992.5,916v5M990,902.5h5M992.5,900v5M1002,787.5h5M1004.5,785v5M1008,807.5h5M1010.5,805v5M1000,796.5h5M1002.5,794v5M1002,843.5h5M1004.5,841v5M1014,737.5h5M1016.5,735v5M1015,734.5h5M1017.5,732v5M1014,724.5h5M1016.5,722v5M1015,732.5h5M1017.5,730v5M1010,738.5h5M1012.5,736v5M1015,778.5h5M1017.5,776v5M1018,786.5h5M1020.5,784v5M1028,747.5h5M1030.5,745v5M1022,730.5h5M1024.5,728v5M1024,714.5h5M1026.5,712v5M1028,751.5h5M1030.5,749v5M1030,698.5h5M1032.5,696v5M1027,751.5h5M1029.5,749v5M1023,707.5h5M1025.5,705v5M1023,768.5h5M1025.5,766v5M1029,754.5h5M1031.5,752v5M1024,774.5h5M1026.5,772v5M1027,807.5h5M1029.5,805v5M1029,785.5h5M1031.5,783v5M1024,759.5h5M1026.5,757v5M1026,737.5h5M1028.5,735v5M1031,759.5h5M1033.5,757v5M1028,776.5h5M1030.5,774v5M1029,656.5h5M1031.5,654v5M1032,747.5h5M1034.5,745v5M1037,798.5h5M1039.5,796v5M1032,807.5h5M1034.5,805v5M1034,807.5h5M1036.5,805v5M1037,725.5h5M1039.5,723v5M1036,732.5h5M1038.5,730v5M1038,749.5h5M1040.5,747v5M1039,732.5h5M1041.5,730v5M1042,729.5h5M1044.5,727v5M1047,728.5h5M1049.5,726v5M1051,703.5h5M1053.5,701v5M1052,654.5h5M1054.5,652v5M1052,636.5h5M1054.5,634v5M1052,675.5h5M1054.5,673v5M1051,647.5h5M1053.5,645v5M1051,642.5h5M1053.5,640v5M1060,682.5h5M1062.5,680v5M1057,686.5h5M1059.5,684v5M1065,684.5h5M1067.5,682v5M1065,694.5h5M1067.5,692v5M1056,694.5h5M1058.5,692v5M1060,709.5h5M1062.5,707v5M1060,684.5h5M1062.5,682v5M1058,687.5h5M1060.5,685v5M1067,727.5h5M1069.5,725v5M1067,730.5h5M1069.5,728v5M1064,732.5h5M1066.5,730v5M1070,666.5h5M1072.5,664v5M1072,679.5h5M1074.5,677v5M1071,668.5h5M1073.5,666v5M1079,677.5h5M1081.5,675v5M1080,683.5h5M1082.5,681v5M1080,686.5h5M1082.5,684v5M1080,683.5h5M1082.5,681v5M1080,663.5h5M1082.5,661v5M1077,617.5h5M1079.5,615v5M1074,626.5h5M1076.5,624v5M1074,628.5h5M1076.5,626v5M1077,684.5h5M1079.5,682v5M1090,610.5h5M1092.5,608v5M1090,627.5h5M1092.5,625v5M1090,617.5h5M1092.5,615v5M1089,657.5h5M1091.5,655v5M1091,709.5h5M1093.5,707v5M1091,822.5h5M1093.5,820v5M1093,796.5h5M1095.5,794v5M1095,842.5h5M1097.5,840v5M1094,828.5h5M1096.5,826v5M1104,877.5h5M1106.5,875v5M1103,849.5h5M1105.5,847v5M1104,861.5h5M1106.5,859v5M1109,872.5h5M1111.5,870v5M1114,857.5h5M1116.5,855v5M1109,866.5h5M1111.5,864v5M1110,859.5h5M1112.5,857v5M1111,870.5h5M1113.5,868v5M1112,851.5h5M1114.5,849v5M1148,894.5h5M1150.5,892v5M1126,730.5h5M1128.5,728v5M1125,707.5h5M1127.5,705v5M1123,821.5h5M1125.5,819v5M1124,802.5h5M1126.5,800v5M1181,828.5h5M1183.5,826v5M1176,815.5h5M1178.5,813v5M1176,833.5h5M1178.5,831v5M1178,804.5h5M1180.5,802v5M1177,782.5h5M1179.5,780v5M1176,827.5h5M1178.5,825v5M1177,803.5h5M1179.5,801v5M1181,876.5h5M1183.5,874v5M1179,883.5h5M1181.5,881v5M1177,880.5h5M1179.5,878v5M1191,772.5h5M1193.5,770v5M1189,773.5h5M1191.5,771v5M1192,777.5h5M1194.5,775v5M1192,767.5h5M1194.5,765v5M1421,961.5h5M1423.5,959v5M1426,1009.5h5M1428.5,1007v5M1426,995.5h5M1428.5,993v5M1427,1013.5h5M1429.5,1011v5M1439,1043.5h5M1441.5,1041v5M1438,1039.5h5M1440.5,1037v5M1443,975.5h5M1445.5,973v5M1446,975.5h5M1448.5,973v5M1448,935.5h5M1450.5,933v5M1448,955.5h5M1450.5,953v5M1445,932.5h5M1447.5,930v5M1445,937.5h5M1447.5,935v5M1441,1001.5h5M1443.5,999v5M1441,989.5h5M1443.5,987v5M1454,1042.5h5M1456.5,1040v5M1452,940.5h5M1454.5,938v5M1453,936.5h5M1455.5,934v5M1452,924.5h5M1454.5,922v5M1452,936.5h5M1454.5,934v5M1456,1094.5h5M1458.5,1092v5M1456,1071.5h5M1458.5,1069v5M1458,1089.5h5M1460.5,1087v5M1457,1062.5h5M1459.5,1060v5M1463,793.5h5M1465.5,791v5M1463,885.5h5M1465.5,883v5M1465,869.5h5M1467.5,867v5M1463,871.5h5M1465.5,869v5M1463,870.5h5M1465.5,868v5M1463,895.5h5M1465.5,893v5M1465,884.5h5M1467.5,882v5M1474,823.5h5M1476.5,821v5M1473,843.5h5M1475.5,841v5M1472,898.5h5M1474.5,896v5M1474,894.5h5M1476.5,892v5M1473,912.5h5M1475.5,910v5M1473,968.5h5M1475.5,966v5M1472,963.5h5M1474.5,961v5M1473,943.5h5M1475.5,941v5M1473,971.5h5M1475.5,969v5M1473,956.5h5M1475.5,954v5M1481,828.5h5M1483.5,826v5M1482,886.5h5M1484.5,884v5M1483,896.5h5M1485.5,894v5M1485,860.5h5M1487.5,858v5M1482,898.5h5M1484.5,896v5M1481,899.5h5M1483.5,897v5M1488,847.5h5M1490.5,845v5M1481,815.5h5M1483.5,813v5M1483,825.5h5M1485.5,823v5M1482,818.5h5M1484.5,816v5M1491,825.5h5M1493.5,823v5M1486,872.5h5M1488.5,870v5M1484,880.5h5M1486.5,878v5M1481,920.5h5M1483.5,918v5M1498,953.5h5M1500.5,951v5M1499,917.5h5M1501.5,915v5M1495,928.5h5M1497.5,926v5M1497,989.5h5M1499.5,987v5M1491,900.5h5M1493.5,898v5M1499,998.5h5M1501.5,996v5M1494,958.5h5M1496.5,956v5M1494,961.5h5M1496.5,959v5M1498,985.5h5M1500.5,983v5M1497,955.5h5M1499.5,953v5M1491,958.5h5M1493.5,956v5M1491,993.5h5M1493.5,991v5M1492,948.5h5M1494.5,946v5M1492,964.5h5M1494.5,962v5M1492,955.5h5M1494.5,953v5M1498,928.5h5M1500.5,926v5M1497,923.5h5M1499.5,921v5M1498,980.5h5M1500.5,978v5M1491,920.5h5M1493.5,918v5M1498,955.5h5M1500.5,953v5M1497,973.5h5M1499.5,971v5M1500,913.5h5M1502.5,911v5M1498,910.5h5M1500.5,908v5M1495,979.5h5M1497.5,977v5M1497,946.5h5M1499.5,944v5M1497,929.5h5M1499.5,927v5M1495,1039.5h5M1497.5,1037v5M1498,1027.5h5M1500.5,1025v5M1498,1082.5h5M1500.5,1080v5M1496,1084.5h5M1498.5,1082v5M1497,1060.5h5M1499.5,1058v5M1499,1080.5h5M1501.5,1078v5M1498,1019.5h5M1500.5,1017v5M1497,1023.5h5M1499.5,1021v5M1499,1079.5h5M1501.5,1077v5M1495,1087.5h5M1497.5,1085v5M1497,1068.5h5M1499.5,1066v5M1499,1047.5h5M1501.5,1045v5M1496,1068.5h5M1498.5,1066v5M682,926.5h5M684.5,924v5M687,992.5h5M689.5,990v5M1174,853.5h5M1176.5,851v5M1316,843.5h5M1318.5,841v5" stroke="#0f0" stroke-width="1" shape-rendering="crispEdges" fill="none"/><path d="M655,942.5h5M657.5,940v5M653,988.5h5M655.5,986v5M659,910.5h5M661.5,908v5M662,874.5h5M664.5,872v5M668,888.5h5M670.5,886v5M691,949.5h5M693.5,947v5M692,950.5h5M694.5,948v5M702,974.5h5M704.5,972v5M917,833.5h5M919.5,831v5M923,800.5h5M925.5,798v5M936,839.5h5M938.5,837v5M936,836.5h5M938.5,834v5M949,781.5h5M951.5,779v5M956,831.5h5M958.5,829v5M966,801.5h5M968.5,799v5M972,777.5h5M974.5,775v5M978,831.5h5M980.5,829v5M977,824.5h5M979.5,822v5M986,805.5h5M988.5,803v5M989,909.5h5M991.5,907v5M989,908.5h5M991.5,906v5M990,920.5h5M992.5,918v5M991,955.5h5M993.5,953v5M997,793.5h5M999.5,791v5M1000,812.5h5M1002.5,810v5M991,774.5h5M993.5,772v5M1003,796.5h5M1005.5,794v5M999,843.5h5M1001.5,841v5M1004,772.5h5M1006.5,770v5M1000,833.5h5M1002.5,831v5M995,809.5h5M997.5,807v5M996,792.5h5M998.5,790v5M1011,730.5h5M1013.5,728v5M1014,746.5h5M1016.5,744v5M1008,758.5h5M1010.5,756v5M1015,764.5h5M1017.5,762v5M1010,751.5h5M1012.5,749v5M1018,803.5h5M1020.5,801v5M1016,775.5h5M1018.5,773v5M1017,771.5h5M1019.5,769v5M1020,820.5h5M1022.5,818v5M1027,752.5h5M1029.5,750v5M1031,717.5h5M1033.5,715v5M1025,769.5h5M1027.5,767v5M1031,806.5h5M1033.5,804v5M1028,770.5h5M1030.5,768v5M1031,716.5h5M1033.5,714v5M1025,787.5h5M1027.5,785v5M1031,710.5h5M1033.5,708v5M1028,694.5h5M1030.5,692v5M1035,731.5h5M1037.5,729v5M1032,744.5h5M1034.5,742v5M1037,717.5h5M1039.5,715v5M1046,691.5h5M1048.5,689v5M1049,710.5h5M1051.5,708v5M1051,694.5h5M1053.5,692v5M1052,678.5h5M1054.5,676v5M1051,673.5h5M1053.5,671v5M1062,694.5h5M1064.5,692v5M1060,686.5h5M1062.5,684v5M1066,718.5h5M1068.5,716v5M1065,737.5h5M1067.5,735v5M1072,676.5h5M1074.5,674v5M1072,690.5h5M1074.5,688v5M1070,673.5h5M1072.5,671v5M1071,678.5h5M1073.5,676v5M1080,668.5h5M1082.5,666v5M1078,698.5h5M1080.5,696v5M1074,642.5h5M1076.5,640v5M1076,663.5h5M1078.5,661v5M1078,626.5h5M1080.5,624v5M1076,639.5h5M1078.5,637v5M1079,611.5h5M1081.5,609v5M1079,602.5h5M1081.5,600v5M1080,609.5h5M1082.5,607v5M1084,683.5h5M1086.5,681v5M1084,694.5h5M1086.5,692v5M1088,659.5h5M1090.5,657v5M1090,637.5h5M1092.5,635v5M1088,663.5h5M1090.5,661v5M1089,637.5h5M1091.5,635v5M1090,625.5h5M1092.5,623v5M1097,805.5h5M1099.5,803v5M1098,820.5h5M1100.5,818v5M1102,890.5h5M1104.5,888v5M1102,880.5h5M1104.5,878v5M1111,864.5h5M1113.5,862v5M1112,852.5h5M1114.5,850v5M1107,798.5h5M1109.5,796v5M1123,715.5h5M1125.5,713v5M1125,735.5h5M1127.5,733v5M1127,710.5h5M1129.5,708v5M1127,820.5h5M1129.5,818v5M1155,740.5h5M1157.5,738v5M1199,774.5h5M1201.5,772v5M1228,715.5h5M1230.5,713v5M1448,944.5h5M1450.5,942v5M1453,947.5h5M1455.5,945v5M1454,917.5h5M1456.5,915v5M1452,938.5h5M1454.5,936v5M1453,905.5h5M1455.5,903v5M1456,1095.5h5M1458.5,1093v5M1459,1065.5h5M1461.5,1063v5M1459,1062.5h5M1461.5,1060v5M1458,1085.5h5M1460.5,1083v5M1463,805.5h5M1465.5,803v5M1464,896.5h5M1466.5,894v5M1462,885.5h5M1464.5,883v5M1465,874.5h5M1467.5,872v5M1465,875.5h5M1467.5,873v5M1466,882.5h5M1468.5,880v5M1470,815.5h5M1472.5,813v5M1484,811.5h5M1486.5,809v5M1491,830.5h5M1493.5,828v5M1479,836.5h5M1481.5,834v5M1490,836.5h5M1492.5,834v5M1488,845.5h5M1490.5,843v5M1486,848.5h5M1488.5,846v5M1484,870.5h5M1486.5,868v5M1481,874.5h5M1483.5,872v5M1481,854.5h5M1483.5,852v5M1493,926.5h5M1495.5,924v5M1497,971.5h5M1499.5,969v5M1495,949.5h5M1497.5,947v5M1497,963.5h5M1499.5,961v5M1499,972.5h5M1501.5,970v5M1498,912.5h5M1500.5,910v5M1500,938.5h5M1502.5,936v5M1496,931.5h5M1498.5,929v5M1493,907.5h5M1495.5,905v5M1491,948.5h5M1493.5,946v5M1491,972.5h5M1493.5,970v5M708,907.5h5M710.5,905v5" stroke="#ffa500" stroke-width="1" shape-rendering="crispEdges" fill="none"/><path d="M915,841.5h5M917.5,839v5M921,796.5h5M923.5,794v5M928,744.5h5M930.5,742v5M927,733.5h5M929.5,731v5M927,730.5h5M929.5,728v5M929,744.5h5M931.5,742v5M931,832.5h5M933.5,830v5M935,844.5h5M937.5,842v5M941,803.5h5M943.5,801v5M956,748.5h5M958.5,746v5M954,780.5h5M956.5,778v5M946,767.5h5M948.5,765v5M948,790.5h5M950.5,788v5M957,749.5h5M959.5,747v5M950,769.5h5M952.5,767v5M966,801.5h5M968.5,799v5M960,805.5h5M962.5,803v5M961,794.5h5M963.5,792v5M968,814.5h5M970.5,812v5M970,845.5h5M972.5,843v5M972,842.5h5M974.5,840v5M967,802.5h5M969.5,800v5M970,793.5h5M972.5,791v5M979,818.5h5M981.5,816v5M976,827.5h5M978.5,825v5M979,812.5h5M981.5,810v5M986,772.5h5M988.5,770v5M986,774.5h5M988.5,772v5M986,831.5h5M988.5,829v5M992,933.5h5M994.5,931v5M989,898.5h5M991.5,896v5M989,955.5h5M991.5,953v5M992,932.5h5M994.5,930v5M989,901.5h5M991.5,899v5M990,894.5h5M992.5,892v5M992,772.5h5M994.5,770v5M1001,818.5h5M1003.5,816v5M1004,779.5h5M1006.5,777v5M1002,815.5h5M1004.5,813v5M992,798.5h5M994.5,796v5M996,826.5h5M998.5,824v5M991,790.5h5M993.5,788v5M1006,800.5h5M1008.5,798v5M1005,806.5h5M1007.5,804v5M1008,807.5h5M1010.5,805v5M1000,807.5h5M1002.5,805v5M995,845.5h5M997.5,843v5M995,773.5h5M997.5,771v5M993,810.5h5M995.5,808v5M1015,729.5h5M1017.5,727v5M1013,730.5h5M1015.5,728v5M1011,742.5h5M1013.5,740v5M1018,777.5h5M1020.5,775v5M1018,798.5h5M1020.5,796v5M1020,770.5h5M1022.5,768v5M1017,817.5h5M1019.5,815v5M1016,770.5h5M1018.5,768v5M1031,708.5h5M1033.5,706v5M1032,704.5h5M1034.5,702v5M1026,746.5h5M1028.5,744v5M1023,729.5h5M1025.5,727v5M1028,755.5h5M1030.5,753v5M1022,741.5h5M1024.5,739v5M1028,681.5h5M1030.5,679v5M1030,650.5h5M1032.5,648v5M1028,671.5h5M1030.5,669v5M1033,731.5h5M1035.5,729v5M1033,765.5h5M1035.5,763v5M1032,807.5h5M1034.5,805v5M1036,782.5h5M1038.5,780v5M1035,733.5h5M1037.5,731v5M1033,720.5h5M1035.5,718v5M1035,809.5h5M1037.5,807v5M1033,708.5h5M1035.5,706v5M1035,803.5h5M1037.5,801v5M1034,705.5h5M1036.5,703v5M1033,804.5h5M1035.5,802v5M1042,744.5h5M1044.5,742v5M1042,740.5h5M1044.5,738v5M1051,670.5h5M1053.5,668v5M1052,655.5h5M1054.5,653v5M1051,674.5h5M1053.5,672v5M1059,702.5h5M1061.5,700v5M1064,733.5h5M1066.5,731v5M1065,730.5h5M1067.5,728v5M1066,705.5h5M1068.5,703v5M1065,740.5h5M1067.5,738v5M1067,711.5h5M1069.5,709v5M1072,670.5h5M1074.5,668v5M1071,682.5h5M1073.5,680v5M1074,651.5h5M1076.5,649v5M1076,621.5h5M1078.5,619v5M1076,658.5h5M1078.5,656v5M1076,664.5h5M1078.5,662v5M1078,656.5h5M1080.5,654v5M1073,617.5h5M1075.5,615v5M1078,652.5h5M1080.5,650v5M1074,655.5h5M1076.5,653v5M1073,650.5h5M1075.5,648v5M1076,606.5h5M1078.5,604v5M1091,659.5h5M1093.5,657v5M1088,699.5h5M1090.5,697v5M1088,608.5h5M1090.5,606v5M1090,627.5h5M1092.5,625v5M1091,728.5h5M1093.5,726v5M1093,799.5h5M1095.5,797v5M1096,788.5h5M1098.5,786v5M1097,813.5h5M1099.5,811v5M1094,800.5h5M1096.5,798v5M1094,798.5h5M1096.5,796v5M1104,847.5h5M1106.5,845v5M1102,843.5h5M1104.5,841v5M1148,893.5h5M1150.5,891v5M1124,811.5h5M1126.5,809v5M1152,803.5h5M1154.5,801v5M1156,877.5h5M1158.5,875v5M1165,801.5h5M1167.5,799v5M1311,839.5h5M1313.5,837v5" stroke="#f00" stroke-width="1" shape-rendering="crispEdges" fill="none"/><path d="M659,887.5h5M661.5,885v5M677,849.5h5M679.5,847v5M690,909.5h5M692.5,907v5M915,842.5h5M917.5,840v5M915,833.5h5M917.5,831v5M914,841.5h5M916.5,839v5M920,799.5h5M922.5,797v5M921,806.5h5M923.5,804v5M928,746.5h5M930.5,744v5M927,732.5h5M929.5,730v5M928,733.5h5M930.5,731v5M928,750.5h5M930.5,748v5M926,746.5h5M928.5,744v5M927,757.5h5M929.5,755v5M927,727.5h5M929.5,725v5M928,749.5h5M930.5,747v5M941,842.5h5M943.5,840v5M933,827.5h5M935.5,825v5M941,829.5h5M943.5,827v5M938,818.5h5M940.5,816v5M934,819.5h5M936.5,817v5M941,815.5h5M943.5,813v5M932,804.5h5M934.5,802v5M940,830.5h5M942.5,828v5M934,829.5h5M936.5,827v5M935,838.5h5M937.5,836v5M933,843.5h5M935.5,841v5M940,802.5h5M942.5,800v5M937,821.5h5M939.5,819v5M937,817.5h5M939.5,815v5M946,782.5h5M948.5,780v5M946,742.5h5M948.5,740v5M955,765.5h5M957.5,763v5M947,755.5h5M949.5,753v5M947,787.5h5M949.5,785v5M961,816.5h5M963.5,814v5M970,843.5h5M972.5,841v5M964,820.5h5M966.5,818v5M965,847.5h5M967.5,845v5M971,814.5h5M973.5,812v5M967,840.5h5M969.5,838v5M968,809.5h5M970.5,807v5M970,841.5h5M972.5,839v5M964,814.5h5M966.5,812v5M965,804.5h5M967.5,802v5M969,838.5h5M971.5,836v5M968,819.5h5M970.5,817v5M971,808.5h5M973.5,806v5M967,827.5h5M969.5,825v5M972,783.5h5M974.5,781v5M980,806.5h5M982.5,804v5M980,820.5h5M982.5,818v5M980,821.5h5M982.5,819v5M978,836.5h5M980.5,834v5M983,820.5h5M985.5,818v5M982,813.5h5M984.5,811v5M982,832.5h5M984.5,830v5M986,817.5h5M988.5,815v5M986,746.5h5M988.5,744v5M986,792.5h5M988.5,790v5M986,792.5h5M988.5,790v5M989,877.5h5M991.5,875v5M989,920.5h5M991.5,918v5M989,901.5h5M991.5,899v5M990,926.5h5M992.5,924v5M990,927.5h5M992.5,925v5M988,955.5h5M990.5,953v5M1005,844.5h5M1007.5,842v5M1002,783.5h5M1004.5,781v5M1004,815.5h5M1006.5,813v5M999,818.5h5M1001.5,816v5M1002,823.5h5M1004.5,821v5M1000,779.5h5M1002.5,777v5M994,777.5h5M996.5,775v5M996,816.5h5M998.5,814v5M997,791.5h5M999.5,789v5M991,833.5h5M993.5,831v5M1002,789.5h5M1004.5,787v5M999,815.5h5M1001.5,813v5M992,843.5h5M994.5,841v5M1009,781.5h5M1011.5,779v5M1003,775.5h5M1005.5,773v5M1003,844.5h5M1005.5,842v5M1002,830.5h5M1004.5,828v5M995,844.5h5M997.5,842v5M1013,732.5h5M1015.5,730v5M1011,740.5h5M1013.5,738v5M1010,723.5h5M1012.5,721v5M1011,753.5h5M1013.5,751v5M1011,759.5h5M1013.5,757v5M1014,724.5h5M1016.5,722v5M1011,742.5h5M1013.5,740v5M1018,820.5h5M1020.5,818v5M1019,789.5h5M1021.5,787v5M1016,826.5h5M1018.5,824v5M1017,788.5h5M1019.5,786v5M1017,776.5h5M1019.5,774v5M1018,827.5h5M1020.5,825v5M1016,829.5h5M1018.5,827v5M1017,827.5h5M1019.5,825v5M1018,812.5h5M1020.5,810v5M1016,806.5h5M1018.5,804v5M1015,828.5h5M1017.5,826v5M1018,826.5h5M1020.5,824v5M1031,699.5h5M1033.5,697v5M1031,800.5h5M1033.5,798v5M1031,803.5h5M1033.5,801v5M1025,769.5h5M1027.5,767v5M1026,792.5h5M1028.5,790v5M1022,766.5h5M1024.5,764v5M1027,750.5h5M1029.5,748v5M1025,719.5h5M1027.5,717v5M1028,789.5h5M1030.5,787v5M1027,809.5h5M1029.5,807v5M1023,741.5h5M1025.5,739v5M1023,806.5h5M1025.5,804v5M1024,769.5h5M1026.5,767v5M1022,747.5h5M1024.5,745v5M1026,781.5h5M1028.5,779v5M1024,772.5h5M1026.5,770v5M1023,712.5h5M1025.5,710v5M1024,798.5h5M1026.5,796v5M1026,733.5h5M1028.5,731v5M1030,689.5h5M1032.5,687v5M1030,668.5h5M1032.5,666v5M1029,684.5h5M1031.5,682v5M1028,679.5h5M1030.5,677v5M1030,650.5h5M1032.5,648v5M1034,720.5h5M1036.5,718v5M1036,789.5h5M1038.5,787v5M1036,722.5h5M1038.5,720v5M1034,796.5h5M1036.5,794v5M1035,743.5h5M1037.5,741v5M1034,804.5h5M1036.5,802v5M1035,736.5h5M1037.5,734v5M1036,795.5h5M1038.5,793v5M1032,710.5h5M1034.5,708v5M1035,790.5h5M1037.5,788v5M1032,778.5h5M1034.5,776v5M1033,780.5h5M1035.5,778v5M1032,771.5h5M1034.5,769v5M1032,787.5h5M1034.5,785v5M1037,783.5h5M1039.5,781v5M1037,732.5h5M1039.5,730v5M1032,741.5h5M1034.5,739v5M1035,807.5h5M1037.5,805v5M1036,754.5h5M1038.5,752v5M1035,762.5h5M1037.5,760v5M1035,740.5h5M1037.5,738v5M1036,734.5h5M1038.5,732v5M1032,708.5h5M1034.5,706v5M1039,739.5h5M1041.5,737v5M1038,746.5h5M1040.5,744v5M1037,748.5h5M1039.5,746v5M1043,760.5h5M1045.5,758v5M1040,735.5h5M1042.5,733v5M1038,745.5h5M1040.5,743v5M1040,758.5h5M1042.5,756v5M1050,695.5h5M1052.5,693v5M1050,694.5h5M1052.5,692v5M1049,707.5h5M1051.5,705v5M1050,734.5h5M1052.5,732v5M1046,722.5h5M1048.5,720v5M1049,693.5h5M1051.5,691v5M1047,730.5h5M1049.5,728v5M1051,706.5h5M1053.5,704v5M1048,703.5h5M1050.5,701v5M1049,734.5h5M1051.5,732v5M1049,721.5h5M1051.5,719v5M1052,674.5h5M1054.5,672v5M1052,659.5h5M1054.5,657v5M1052,653.5h5M1054.5,651v5M1052,647.5h5M1054.5,645v5M1052,670.5h5M1054.5,668v5M1055,693.5h5M1057.5,691v5M1065,683.5h5M1067.5,681v5M1055,705.5h5M1057.5,703v5M1055,707.5h5M1057.5,705v5M1062,682.5h5M1064.5,680v5M1060,706.5h5M1062.5,704v5M1065,704.5h5M1067.5,702v5M1064,695.5h5M1066.5,693v5M1061,693.5h5M1063.5,691v5M1060,689.5h5M1062.5,687v5M1066,734.5h5M1068.5,732v5M1066,739.5h5M1068.5,737v5M1065,736.5h5M1067.5,734v5M1068,719.5h5M1070.5,717v5M1071,684.5h5M1073.5,682v5M1071,680.5h5M1073.5,678v5M1072,699.5h5M1074.5,697v5M1070,677.5h5M1072.5,675v5M1073,591.5h5M1075.5,589v5M1079,613.5h5M1081.5,611v5M1073,697.5h5M1075.5,695v5M1074,592.5h5M1076.5,590v5M1079,603.5h5M1081.5,601v5M1077,625.5h5M1079.5,623v5M1075,644.5h5M1077.5,642v5M1079,679.5h5M1081.5,677v5M1077,656.5h5M1079.5,654v5M1078,628.5h5M1080.5,626v5M1079,626.5h5M1081.5,624v5M1078,678.5h5M1080.5,676v5M1079,654.5h5M1081.5,652v5M1079,639.5h5M1081.5,637v5M1074,596.5h5M1076.5,594v5M1076,672.5h5M1078.5,670v5M1074,642.5h5M1076.5,640v5M1078,640.5h5M1080.5,638v5M1077,595.5h5M1079.5,593v5M1074,683.5h5M1076.5,681v5M1078,699.5h5M1080.5,697v5M1075,667.5h5M1077.5,665v5M1074,669.5h5M1076.5,667v5M1078,699.5h5M1080.5,697v5M1081,695.5h5M1083.5,693v5M1084,693.5h5M1086.5,691v5M1082,680.5h5M1084.5,678v5M1084,694.5h5M1086.5,692v5M1083,677.5h5M1085.5,675v5M1083,668.5h5M1085.5,666v5M1091,681.5h5M1093.5,679v5M1091,634.5h5M1093.5,632v5M1088,620.5h5M1090.5,618v5M1091,620.5h5M1093.5,618v5M1090,668.5h5M1092.5,666v5M1090,673.5h5M1092.5,671v5M1089,662.5h5M1091.5,660v5M1091,612.5h5M1093.5,610v5M1090,626.5h5M1092.5,624v5M1090,630.5h5M1092.5,628v5M1090,624.5h5M1092.5,622v5M1089,622.5h5M1091.5,620v5M1089,680.5h5M1091.5,678v5M1091,622.5h5M1093.5,620v5M1091,646.5h5M1093.5,644v5M1089,681.5h5M1091.5,679v5M1091,744.5h5M1093.5,742v5M1091,726.5h5M1093.5,724v5M1091,760.5h5M1093.5,758v5M1091,818.5h5M1093.5,816v5M1093,846.5h5M1095.5,844v5M1095,792.5h5M1097.5,790v5M1095,843.5h5M1097.5,841v5M1096,828.5h5M1098.5,826v5M1096,793.5h5M1098.5,791v5M1096,856.5h5M1098.5,854v5M1094,825.5h5M1096.5,823v5M1094,790.5h5M1096.5,788v5M1096,834.5h5M1098.5,832v5M1093,852.5h5M1095.5,850v5M1104,868.5h5M1106.5,866v5M1104,878.5h5M1106.5,876v5M1103,838.5h5M1105.5,836v5M1102,844.5h5M1104.5,842v5M1104,858.5h5M1106.5,856v5M1103,838.5h5M1105.5,836v5M1109,877.5h5M1111.5,875v5M1114,867.5h5M1116.5,865v5M1111,870.5h5M1113.5,868v5M1111,855.5h5M1113.5,853v5M1114,863.5h5M1116.5,861v5M1113,862.5h5M1115.5,860v5M1110,861.5h5M1112.5,859v5M1110,900.5h5M1112.5,898v5M1110,906.5h5M1112.5,904v5M1108,897.5h5M1110.5,895v5M1107,796.5h5M1109.5,794v5M1148,898.5h5M1150.5,896v5M1123,731.5h5M1125.5,729v5M1124,710.5h5M1126.5,708v5M1126,705.5h5M1128.5,703v5M1124,708.5h5M1126.5,706v5M1124,714.5h5M1126.5,712v5M1123,806.5h5M1125.5,804v5M1134,665.5h5M1136.5,663v5M1165,810.5h5M1167.5,808v5M1177,799.5h5M1179.5,797v5M1177,824.5h5M1179.5,822v5M1181,822.5h5M1183.5,820v5M1181,881.5h5M1183.5,879v5M1177,888.5h5M1179.5,886v5M1180,879.5h5M1182.5,877v5M1196,774.5h5M1198.5,772v5M1191,768.5h5M1193.5,766v5M1188,775.5h5M1190.5,773v5M1195,782.5h5M1197.5,780v5M1226,650.5h5M1228.5,648v5M1226,714.5h5M1228.5,712v5M1312,826.5h5M1314.5,824v5M1310,821.5h5M1312.5,819v5M1421,984.5h5M1423.5,982v5M1438,1036.5h5M1440.5,1034v5M1431,1049.5h5M1433.5,1047v5M1432,1055.5h5M1434.5,1053v5M1457,1090.5h5M1459.5,1088v5M1458,1088.5h5M1460.5,1086v5M1457,1070.5h5M1459.5,1068v5M741,959.5h5M743.5,957v5" stroke="#000" stroke-width="1" shape-rendering="crispEdges" fill="none"/><path d="M912,834.5h5M914.5,832v5M926,752.5h5M928.5,750v5M933,838.5h5M935.5,836v5M960,798.5h5M962.5,796v5M963,797.5h5M965.5,795v5M972,845.5h5M974.5,843v5M971,821.5h5M973.5,819v5M966,816.5h5M968.5,814v5M968,839.5h5M970.5,837v5M968,842.5h5M970.5,840v5M971,789.5h5M973.5,787v5M979,822.5h5M981.5,820v5M985,821.5h5M987.5,819v5M986,767.5h5M988.5,765v5M989,928.5h5M991.5,926v5M989,936.5h5M991.5,934v5M990,922.5h5M992.5,920v5M989,913.5h5M991.5,911v5M996,794.5h5M998.5,792v5M999,843.5h5M1001.5,841v5M1004,796.5h5M1006.5,794v5M1008,832.5h5M1010.5,830v5M999,779.5h5M1001.5,777v5M993,845.5h5M995.5,843v5M1001,795.5h5M1003.5,793v5M993,787.5h5M995.5,785v5M1005,815.5h5M1007.5,813v5M996,825.5h5M998.5,823v5M996,831.5h5M998.5,829v5M997,775.5h5M999.5,773v5M998,776.5h5M1000.5,774v5M1015,729.5h5M1017.5,727v5M1011,739.5h5M1013.5,737v5M1019,790.5h5M1021.5,788v5M1015,823.5h5M1017.5,821v5M1031,713.5h5M1033.5,711v5M1030,707.5h5M1032.5,705v5M1030,772.5h5M1032.5,770v5M1022,802.5h5M1024.5,800v5M1026,772.5h5M1028.5,770v5M1025,718.5h5M1027.5,716v5M1030,776.5h5M1032.5,774v5M1027,733.5h5M1029.5,731v5M1030,808.5h5M1032.5,806v5M1027,782.5h5M1029.5,780v5M1028,734.5h5M1030.5,732v5M1029,721.5h5M1031.5,719v5M1030,660.5h5M1032.5,658v5M1030,670.5h5M1032.5,668v5M1029,653.5h5M1031.5,651v5M1028,669.5h5M1030.5,667v5M1036,743.5h5M1038.5,741v5M1032,756.5h5M1034.5,754v5M1033,771.5h5M1035.5,769v5M1033,762.5h5M1035.5,760v5M1037,742.5h5M1039.5,740v5M1042,730.5h5M1044.5,728v5M1042,743.5h5M1044.5,741v5M1040,761.5h5M1042.5,759v5M1041,756.5h5M1043.5,754v5M1039,729.5h5M1041.5,727v5M1049,692.5h5M1051.5,690v5M1052,671.5h5M1054.5,669v5M1056,716.5h5M1058.5,714v5M1063,683.5h5M1065.5,681v5M1058,707.5h5M1060.5,705v5M1064,719.5h5M1066.5,717v5M1071,699.5h5M1073.5,697v5M1071,670.5h5M1073.5,668v5M1073,682.5h5M1075.5,680v5M1075,676.5h5M1077.5,674v5M1074,611.5h5M1076.5,609v5M1078,659.5h5M1080.5,657v5M1075,664.5h5M1077.5,662v5M1078,611.5h5M1080.5,609v5M1077,634.5h5M1079.5,632v5M1074,652.5h5M1076.5,650v5M1083,672.5h5M1085.5,670v5M1091,695.5h5M1093.5,693v5M1088,609.5h5M1090.5,607v5M1088,671.5h5M1090.5,669v5M1091,739.5h5M1093.5,737v5M1092,844.5h5M1094.5,842v5M1094,855.5h5M1096.5,853v5M1095,796.5h5M1097.5,794v5M1094,798.5h5M1096.5,796v5M1104,867.5h5M1106.5,865v5M1104,839.5h5M1106.5,837v5M1125,817.5h5M1127.5,815v5M1166,838.5h5M1168.5,836v5M1166,801.5h5M1168.5,799v5M909,837.5h5M911.5,835v5" stroke="#00f" stroke-width="1" shape-rendering="crispEdges" fill="none"/><path d="M655,938.5h5M657.5,936v5M655,975.5h5M657.5,973v5M655,963.5h5M657.5,961v5M653,945.5h5M655.5,943v5M655,931.5h5M657.5,929v5M659,886.5h5M661.5,884v5M658,886.5h5M660.5,884v5M659,881.5h5M661.5,879v5M659,873.5h5M661.5,871v5M659,925.5h5M661.5,923v5M658,942.5h5M660.5,940v5M659,893.5h5M661.5,891v5M658,877.5h5M660.5,875v5M659,918.5h5M661.5,916v5M659,899.5h5M661.5,897v5M658,872.5h5M660.5,870v5M659,910.5h5M661.5,908v5M659,886.5h5M661.5,884v5M663,877.5h5M665.5,875v5M664,896.5h5M666.5,894v5M660,877.5h5M662.5,875v5M662,893.5h5M664.5,891v5M661,887.5h5M663.5,885v5M663,907.5h5M665.5,905v5M671,892.5h5M673.5,890v5M670,902.5h5M672.5,900v5M669,914.5h5M671.5,912v5M668,898.5h5M670.5,896v5M669,905.5h5M671.5,903v5M671,917.5h5M673.5,915v5M670,896.5h5M672.5,894v5M677,847.5h5M679.5,845v5M678,863.5h5M680.5,861v5M678,881.5h5M680.5,879v5M675,859.5h5M677.5,857v5M677,874.5h5M679.5,872v5M676,850.5h5M678.5,848v5M678,854.5h5M680.5,852v5M692,951.5h5M694.5,949v5M692,953.5h5M694.5,951v5M691,949.5h5M693.5,947v5M693,947.5h5M695.5,945v5M700,975.5h5M702.5,973v5M701,974.5h5M703.5,972v5M701,962.5h5M703.5,960v5M700,976.5h5M702.5,974v5M709,925.5h5M711.5,923v5M709,919.5h5M711.5,917v5M709,916.5h5M711.5,914v5M719,896.5h5M721.5,894v5M910,894.5h5M912.5,892v5M920,805.5h5M922.5,803v5M929,730.5h5M931.5,728v5M926,729.5h5M928.5,727v5M928,758.5h5M930.5,756v5M928,727.5h5M930.5,725v5M931,802.5h5M933.5,800v5M949,781.5h5M951.5,779v5M946,763.5h5M948.5,761v5M957,757.5h5M959.5,755v5M970,806.5h5M972.5,804v5M968,839.5h5M970.5,837v5M972,814.5h5M974.5,812v5M971,835.5h5M973.5,833v5M967,837.5h5M969.5,835v5M976,805.5h5M978.5,803v5M984,812.5h5M986.5,810v5M982,827.5h5M984.5,825v5M986,763.5h5M988.5,761v5M986,774.5h5M988.5,772v5M989,928.5h5M991.5,926v5M1008,787.5h5M1010.5,785v5M1000,771.5h5M1002.5,769v5M999,833.5h5M1001.5,831v5M997,837.5h5M999.5,835v5M1002,836.5h5M1004.5,834v5M1000,842.5h5M1002.5,840v5M993,795.5h5M995.5,793v5M1001,802.5h5M1003.5,800v5M997,780.5h5M999.5,778v5M1014,727.5h5M1016.5,725v5M1009,741.5h5M1011.5,739v5M1019,827.5h5M1021.5,825v5M1020,804.5h5M1022.5,802v5M1018,777.5h5M1020.5,775v5M1025,781.5h5M1027.5,779v5M1031,747.5h5M1033.5,745v5M1026,750.5h5M1028.5,748v5M1028,753.5h5M1030.5,751v5M1028,799.5h5M1030.5,797v5M1028,701.5h5M1030.5,699v5M1027,773.5h5M1029.5,771v5M1030,794.5h5M1032.5,792v5M1029,649.5h5M1031.5,647v5M1028,676.5h5M1030.5,674v5M1037,753.5h5M1039.5,751v5M1032,711.5h5M1034.5,709v5M1033,728.5h5M1035.5,726v5M1036,707.5h5M1038.5,705v5M1032,741.5h5M1034.5,739v5M1032,712.5h5M1034.5,710v5M1034,711.5h5M1036.5,709v5M1037,741.5h5M1039.5,739v5M1037,753.5h5M1039.5,751v5M1043,759.5h5M1045.5,757v5M1044,759.5h5M1046.5,757v5M1038,748.5h5M1040.5,746v5M1041,746.5h5M1043.5,744v5M1049,704.5h5M1051.5,702v5M1051,636.5h5M1053.5,634v5M1052,645.5h5M1054.5,643v5M1052,665.5h5M1054.5,663v5M1052,676.5h5M1054.5,674v5M1065,683.5h5M1067.5,681v5M1062,704.5h5M1064.5,702v5M1062,721.5h5M1064.5,719v5M1065,717.5h5M1067.5,715v5M1072,673.5h5M1074.5,671v5M1070,665.5h5M1072.5,663v5M1072,693.5h5M1074.5,691v5M1077,695.5h5M1079.5,693v5M1077,595.5h5M1079.5,593v5M1074,673.5h5M1076.5,671v5M1080,633.5h5M1082.5,631v5M1079,587.5h5M1081.5,585v5M1078,659.5h5M1080.5,657v5M1076,641.5h5M1078.5,639v5M1074,616.5h5M1076.5,614v5M1083,678.5h5M1085.5,676v5M1084,678.5h5M1086.5,676v5M1082,682.5h5M1084.5,680v5M1082,665.5h5M1084.5,663v5M1088,647.5h5M1090.5,645v5M1087,625.5h5M1089.5,623v5M1091,657.5h5M1093.5,655v5M1090,700.5h5M1092.5,698v5M1089,655.5h5M1091.5,653v5M1091,640.5h5M1093.5,638v5M1089,610.5h5M1091.5,608v5M1097,822.5h5M1099.5,820v5M1093,819.5h5M1095.5,817v5M1097,836.5h5M1099.5,834v5M1093,834.5h5M1095.5,832v5M1096,854.5h5M1098.5,852v5M1092,812.5h5M1094.5,810v5M1102,866.5h5M1104.5,864v5M1103,878.5h5M1105.5,876v5M1102,891.5h5M1104.5,889v5M1102,886.5h5M1104.5,884v5M1112,854.5h5M1114.5,852v5M1114,861.5h5M1116.5,859v5M1112,853.5h5M1114.5,851v5M1112,869.5h5M1114.5,867v5M1109,859.5h5M1111.5,857v5M1113,862.5h5M1115.5,860v5M1114,856.5h5M1116.5,854v5M1111,871.5h5M1113.5,869v5M1112,874.5h5M1114.5,872v5M1148,897.5h5M1150.5,895v5M1148,893.5h5M1150.5,891v5M1148,890.5h5M1150.5,888v5M1125,730.5h5M1127.5,728v5M1125,713.5h5M1127.5,711v5M1124,734.5h5M1126.5,732v5M1126,709.5h5M1128.5,707v5M1126,713.5h5M1128.5,711v5M1124,710.5h5M1126.5,708v5M1152,865.5h5M1154.5,863v5M1176,783.5h5M1178.5,781v5M1179,802.5h5M1181.5,800v5M1175,818.5h5M1177.5,816v5M1177,890.5h5M1179.5,888v5M1195,777.5h5M1197.5,775v5M1195,781.5h5M1197.5,779v5M1199,782.5h5M1201.5,780v5M1196,783.5h5M1198.5,781v5M1196,779.5h5M1198.5,777v5M1207,745.5h5M1209.5,743v5M1421,974.5h5M1423.5,972v5M1427,1016.5h5M1429.5,1014v5M1439,1032.5h5M1441.5,1030v5M1434,1049.5h5M1436.5,1047v5M1443,940.5h5M1445.5,938v5M1447,956.5h5M1449.5,954v5M1447,956.5h5M1449.5,954v5M1457,992.5h5M1459.5,990v5M1455,1004.5h5M1457.5,1002v5M1452,904.5h5M1454.5,902v5M1453,960.5h5M1455.5,958v5M1452,916.5h5M1454.5,914v5M1459,1087.5h5M1461.5,1085v5M1459,1069.5h5M1461.5,1067v5M1456,1089.5h5M1458.5,1087v5M1459,1086.5h5M1461.5,1084v5M1459,1086.5h5M1461.5,1084v5M1458,1081.5h5M1460.5,1079v5M1463,864.5h5M1465.5,862v5M1466,862.5h5M1468.5,860v5M1466,802.5h5M1468.5,800v5M1463,871.5h5M1465.5,869v5M1464,883.5h5M1466.5,881v5M1464,888.5h5M1466.5,886v5M1465,885.5h5M1467.5,883v5M1464,889.5h5M1466.5,887v5M1462,878.5h5M1464.5,876v5M1463,881.5h5M1465.5,879v5M1465,873.5h5M1467.5,871v5M1470,856.5h5M1472.5,854v5M1473,847.5h5M1475.5,845v5M1473,864.5h5M1475.5,862v5M1472,917.5h5M1474.5,915v5M1474,903.5h5M1476.5,901v5M1473,889.5h5M1475.5,887v5M1473,950.5h5M1475.5,948v5M1473,954.5h5M1475.5,952v5M1473,939.5h5M1475.5,937v5M1473,969.5h5M1475.5,967v5M1489,837.5h5M1491.5,835v5M1484,810.5h5M1486.5,808v5M1484,835.5h5M1486.5,833v5M1483,833.5h5M1485.5,831v5M1488,835.5h5M1490.5,833v5M1488,859.5h5M1490.5,857v5M1482,829.5h5M1484.5,827v5M1489,846.5h5M1491.5,844v5M1481,885.5h5M1483.5,883v5M1480,886.5h5M1482.5,884v5M1486,850.5h5M1488.5,848v5M1487,806.5h5M1489.5,804v5M1490,826.5h5M1492.5,824v5M1491,827.5h5M1493.5,825v5M1486,919.5h5M1488.5,917v5M1492,997.5h5M1494.5,995v5M1491,992.5h5M1493.5,990v5M1499,963.5h5M1501.5,961v5M1491,952.5h5M1493.5,950v5M1492,965.5h5M1494.5,963v5M1491,936.5h5M1493.5,934v5M1491,938.5h5M1493.5,936v5M1491,923.5h5M1493.5,921v5M1498,943.5h5M1500.5,941v5M1492,956.5h5M1494.5,954v5M1497,980.5h5M1499.5,978v5M1494,955.5h5M1496.5,953v5M1498,974.5h5M1500.5,972v5M1494,985.5h5M1496.5,983v5M1494,959.5h5M1496.5,957v5M1494,929.5h5M1496.5,927v5M1492,925.5h5M1494.5,923v5M1493,936.5h5M1495.5,934v5M1491,971.5h5M1493.5,969v5M1496,903.5h5M1498.5,901v5M1492,960.5h5M1494.5,958v5M1493,942.5h5M1495.5,940v5M1496,1071.5h5M1498.5,1069v5M1495,1007.5h5M1497.5,1005v5M1497,1014.5h5M1499.5,1012v5M1496,1045.5h5M1498.5,1043v5M1496,1057.5h5M1498.5,1055v5M1496,1054.5h5M1498.5,1052v5M1496,1004.5h5M1498.5,1002v5M1496,1076.5h5M1498.5,1074v5M1498,1006.5h5M1500.5,1004v5M1497,1070.5h5M1499.5,1068v5M1500,1033.5h5M1502.5,1031v5M1498,1078.5h5M1500.5,1076v5M1498,1003.5h5M1500.5,1001v5M689,921.5h5M691.5,919v5M695,912.5h5M697.5,910v5M740,945.5h5M742.5,943v5" stroke="#0f0" stroke-width="1" shape-rendering="crispEdges" fill="none"/><path d="M654,932.5h5M656.5,930v5M654,977.5h5M656.5,975v5M659,892.5h5M661.5,890v5M670,889.5h5M672.5,887v5M669,903.5h5M671.5,901v5M670,889.5h5M672.5,887v5M685,1071.5h5M687.5,1069v5M704,943.5h5M706.5,941v5M717,897.5h5M719.5,895v5M923,813.5h5M925.5,811v5M927,751.5h5M929.5,749v5M955,780.5h5M957.5,778v5M958,789.5h5M960.5,787v5M955,758.5h5M957.5,756v5M949,779.5h5M951.5,777v5M962,808.5h5M964.5,806v5M970,824.5h5M972.5,822v5M963,832.5h5M965.5,830v5M965,808.5h5M967.5,806v5M973,847.5h5M975.5,845v5M984,826.5h5M986.5,824v5M982,806.5h5M984.5,804v5M975,833.5h5M977.5,831v5M978,839.5h5M980.5,837v5M986,796.5h5M988.5,794v5M986,829.5h5M988.5,827v5M991,908.5h5M993.5,906v5M988,916.5h5M990.5,914v5M990,931.5h5M992.5,929v5M990,917.5h5M992.5,915v5M1004,797.5h5M1006.5,795v5M1000,778.5h5M1002.5,776v5M996,826.5h5M998.5,824v5M1003,774.5h5M1005.5,772v5M998,799.5h5M1000.5,797v5M1008,796.5h5M1010.5,794v5M1006,820.5h5M1008.5,818v5M1001,776.5h5M1003.5,774v5M1000,826.5h5M1002.5,824v5M997,776.5h5M999.5,774v5M998,795.5h5M1000.5,793v5M1015,745.5h5M1017.5,743v5M1012,754.5h5M1014.5,752v5M1015,790.5h5M1017.5,788v5M1024,739.5h5M1026.5,737v5M1027,698.5h5M1029.5,696v5M1025,732.5h5M1027.5,730v5M1032,775.5h5M1034.5,773v5M1026,718.5h5M1028.5,716v5M1029,705.5h5M1031.5,703v5M1027,771.5h5M1029.5,769v5M1030,768.5h5M1032.5,766v5M1037,791.5h5M1039.5,789v5M1032,768.5h5M1034.5,766v5M1035,756.5h5M1037.5,754v5M1043,733.5h5M1045.5,731v5M1041,733.5h5M1043.5,731v5M1049,736.5h5M1051.5,734v5M1051,648.5h5M1053.5,646v5M1052,673.5h5M1054.5,671v5M1063,724.5h5M1065.5,722v5M1065,705.5h5M1067.5,703v5M1056,695.5h5M1058.5,693v5M1058,723.5h5M1060.5,721v5M1059,696.5h5M1061.5,694v5M1067,716.5h5M1069.5,714v5M1072,688.5h5M1074.5,686v5M1079,635.5h5M1081.5,633v5M1074,678.5h5M1076.5,676v5M1076,609.5h5M1078.5,607v5M1079,593.5h5M1081.5,591v5M1073,675.5h5M1075.5,673v5M1078,660.5h5M1080.5,658v5M1074,629.5h5M1076.5,627v5M1084,666.5h5M1086.5,664v5M1090,612.5h5M1092.5,610v5M1088,653.5h5M1090.5,651v5M1088,626.5h5M1090.5,624v5M1091,712.5h5M1093.5,710v5M1092,752.5h5M1094.5,750v5M1093,804.5h5M1095.5,802v5M1093,822.5h5M1095.5,820v5M1097,820.5h5M1099.5,818v5M1113,869.5h5M1115.5,867v5M1109,872.5h5M1111.5,870v5M1167,816.5h5M1169.5,814v5M1165,832.5h5M1167.5,830v5M1167,844.5h5M1169.5,842v5M1167,835.5h5M1169.5,833v5M1181,803.5h5M1183.5,801v5M1181,882.5h5M1183.5,880v5M1176,887.5h5M1178.5,885v5M1180,877.5h5M1182.5,875v5M1197,775.5h5M1199.5,773v5M1190,782.5h5M1192.5,780v5M1230,669.5h5M1232.5,667v5M1447,968.5h5M1449.5,966v5M1448,966.5h5M1450.5,964v5M1446,977.5h5M1448.5,975v5M1452,1017.5h5M1454.5,1015v5M1453,962.5h5M1455.5,960v5M1454,930.5h5M1456.5,928v5M1459,1080.5h5M1461.5,1078v5M1466,871.5h5M1468.5,869v5M1463,885.5h5M1465.5,883v5M1462,872.5h5M1464.5,870v5M1463,899.5h5M1465.5,897v5M1466,883.5h5M1468.5,881v5M1475,888.5h5M1477.5,886v5M1473,968.5h5M1475.5,966v5M1485,872.5h5M1487.5,870v5M1488,826.5h5M1490.5,824v5M1486,877.5h5M1488.5,875v5M1487,806.5h5M1489.5,804v5M1479,835.5h5M1481.5,833v5M1490,813.5h5M1492.5,811v5M1484,916.5h5M1486.5,914v5M1496,957.5h5M1498.5,955v5M1498,989.5h5M1500.5,987v5M1492,952.5h5M1494.5,950v5M1493,925.5h5M1495.5,923v5M1496,918.5h5M1498.5,916v5M1491,907.5h5M1493.5,905v5M1493,940.5h5M1495.5,938v5M1494,991.5h5M1496.5,989v5M1494,928.5h5M1496.5,926v5M1498,1086.5h5M1500.5,1084v5M1496,1065.5h5M1498.5,1063v5M1497,1012.5h5M1499.5,1010v5M686,1056.5h5M688.5,1054v5M1200,740.5h5M1202.5,738v5" stroke="#ffa500" stroke-width="1" shape-rendering="crispEdges" fill="none"/><path d="M910,847.5h5M912.5,845v5M926,733.5h5M928.5,731v5M940,820.5h5M942.5,818v5M947,794.5h5M949.5,792v5M951,784.5h5M953.5,782v5M953,781.5h5M955.5,779v5M964,829.5h5M966.5,827v5M973,846.5h5M975.5,844v5M973,843.5h5M975.5,841v5M967,826.5h5M969.5,824v5M977,828.5h5M979.5,826v5M977,830.5h5M979.5,828v5M978,806.5h5M980.5,804v5M978,813.5h5M980.5,811v5M985,805.5h5M987.5,803v5M986,827.5h5M988.5,825v5M986,769.5h5M988.5,767v5M986,803.5h5M988.5,801v5M989,923.5h5M991.5,921v5M989,951.5h5M991.5,949v5M992,931.5h5M994.5,929v5M991,938.5h5M993.5,936v5M991,902.5h5M993.5,900v5M1007,774.5h5M1009.5,772v5M997,847.5h5M999.5,845v5M1000,805.5h5M1002.5,803v5M1001,847.5h5M1003.5,845v5M992,788.5h5M994.5,786v5M995,776.5h5M997.5,774v5M992,811.5h5M994.5,809v5M1001,791.5h5M1003.5,789v5M1006,800.5h5M1008.5,798v5M1016,746.5h5M1018.5,744v5M1012,750.5h5M1014.5,748v5M1010,727.5h5M1012.5,725v5M1019,773.5h5M1021.5,771v5M1017,769.5h5M1019.5,767v5M1018,785.5h5M1020.5,783v5M1020,768.5h5M1022.5,766v5M1032,732.5h5M1034.5,730v5M1025,722.5h5M1027.5,720v5M1023,709.5h5M1025.5,707v5M1032,717.5h5M1034.5,715v5M1029,771.5h5M1031.5,769v5M1029,755.5h5M1031.5,753v5M1026,711.5h5M1028.5,709v5M1029,692.5h5M1031.5,690v5M1029,695.5h5M1031.5,693v5M1030,682.5h5M1032.5,680v5M1029,670.5h5M1031.5,668v5M1032,710.5h5M1034.5,708v5M1032,736.5h5M1034.5,734v5M1034,769.5h5M1036.5,767v5M1033,737.5h5M1035.5,735v5M1032,785.5h5M1034.5,783v5M1036,806.5h5M1038.5,804v5M1035,758.5h5M1037.5,756v5M1034,774.5h5M1036.5,772v5M1036,761.5h5M1038.5,759v5M1039,738.5h5M1041.5,736v5M1041,747.5h5M1043.5,745v5M1043,755.5h5M1045.5,753v5M1038,754.5h5M1040.5,752v5M1050,716.5h5M1052.5,714v5M1051,705.5h5M1053.5,703v5M1047,733.5h5M1049.5,731v5M1052,672.5h5M1054.5,670v5M1051,646.5h5M1053.5,644v5M1058,686.5h5M1060.5,684v5M1067,716.5h5M1069.5,714v5M1070,672.5h5M1072.5,670v5M1073,693.5h5M1075.5,691v5M1075,661.5h5M1077.5,659v5M1074,637.5h5M1076.5,635v5M1075,627.5h5M1077.5,625v5M1077,648.5h5M1079.5,646v5M1079,636.5h5M1081.5,634v5M1083,700.5h5M1085.5,698v5M1084,696.5h5M1086.5,694v5M1082,687.5h5M1084.5,685v5M1088,665.5h5M1090.5,663v5M1088,651.5h5M1090.5,649v5M1090,672.5h5M1092.5,670v5M1090,647.5h5M1092.5,645v5M1090,653.5h5M1092.5,651v5M1090,661.5h5M1092.5,659v5M1090,605.5h5M1092.5,603v5M1088,690.5h5M1090.5,688v5M1092,747.5h5M1094.5,745v5M1092,743.5h5M1094.5,741v5M1092,808.5h5M1094.5,806v5M1104,882.5h5M1106.5,880v5M1103,827.5h5M1105.5,825v5M1110,895.5h5M1112.5,893v5M1152,771.5h5M1154.5,769v5M1164,816.5h5M1166.5,814v5M1164,838.5h5M1166.5,836v5M1166,838.5h5M1168.5,836v5M1177,879.5h5M1179.5,877v5" stroke="#f00" stroke-width="1" shape-rendering="crispEdges" fill="none"/><path d="M663,880.5h5M665.5,878v5M676,868.5h5M678.5,866v5M909,828.5h5M911.5,826v5M922,807.5h5M924.5,805v5M927,757.5h5M929.5,755v5M926,742.5h5M928.5,740v5M928,728.5h5M930.5,726v5M929,733.5h5M931.5,731v5M941,805.5h5M943.5,803v5M934,843.5h5M936.5,841v5M941,838.5h5M943.5,836v5M941,823.5h5M943.5,821v5M932,839.5h5M934.5,837v5M935,822.5h5M937.5,820v5M949,791.5h5M951.5,789v5M952,789.5h5M954.5,787v5M951,746.5h5M953.5,744v5M946,777.5h5M948.5,775v5M952,793.5h5M954.5,791v5M948,793.5h5M950.5,791v5M956,758.5h5M958.5,756v5M956,842.5h5M958.5,840v5M960,789.5h5M962.5,787v5M962,819.5h5M964.5,817v5M962,796.5h5M964.5,794v5M961,801.5h5M963.5,799v5M963,822.5h5M965.5,820v5M965,807.5h5M967.5,805v5M967,840.5h5M969.5,838v5M972,811.5h5M974.5,809v5M968,802.5h5M970.5,800v5M973,805.5h5M975.5,803v5M967,830.5h5M969.5,828v5M972,841.5h5M974.5,839v5M963,804.5h5M965.5,802v5M966,815.5h5M968.5,813v5M969,829.5h5M971.5,827v5M970,845.5h5M972.5,843v5M972,780.5h5M974.5,778v5M978,837.5h5M980.5,835v5M980,837.5h5M982.5,835v5M984,819.5h5M986.5,817v5M979,808.5h5M981.5,806v5M986,790.5h5M988.5,788v5M986,836.5h5M988.5,834v5M986,792.5h5M988.5,790v5M986,777.5h5M988.5,775v5M990,936.5h5M992.5,934v5M988,903.5h5M990.5,901v5M992,906.5h5M994.5,904v5M988,913.5h5M990.5,911v5M991,919.5h5M993.5,917v5M992,789.5h5M994.5,787v5M992,760.5h5M994.5,758v5M992,748.5h5M994.5,746v5M992,764.5h5M994.5,762v5M992,746.5h5M994.5,744v5M1004,810.5h5M1006.5,808v5M996,805.5h5M998.5,803v5M1001,818.5h5M1003.5,816v5M1000,835.5h5M1002.5,833v5M1008,795.5h5M1010.5,793v5M994,807.5h5M996.5,805v5M1000,833.5h5M1002.5,831v5M1000,774.5h5M1002.5,772v5M1002,776.5h5M1004.5,774v5M1002,787.5h5M1004.5,785v5M1008,804.5h5M1010.5,802v5M1009,737.5h5M1011.5,735v5M1015,760.5h5M1017.5,758v5M1012,727.5h5M1014.5,725v5M1015,765.5h5M1017.5,763v5M1011,735.5h5M1013.5,733v5M1009,740.5h5M1011.5,738v5M1011,766.5h5M1013.5,764v5M1016,751.5h5M1018.5,749v5M1015,811.5h5M1017.5,809v5M1018,810.5h5M1020.5,808v5M1016,802.5h5M1018.5,800v5M1018,772.5h5M1020.5,770v5M1019,800.5h5M1021.5,798v5M1018,815.5h5M1020.5,813v5M1020,778.5h5M1022.5,776v5M1017,768.5h5M1019.5,766v5M1016,807.5h5M1018.5,805v5M1017,826.5h5M1019.5,824v5M1018,826.5h5M1020.5,824v5M1032,718.5h5M1034.5,716v5M1025,805.5h5M1027.5,803v5M1030,761.5h5M1032.5,759v5M1027,730.5h5M1029.5,728v5M1031,696.5h5M1033.5,694v5M1028,719.5h5M1030.5,717v5M1023,745.5h5M1025.5,743v5M1025,758.5h5M1027.5,756v5M1026,797.5h5M1028.5,795v5M1022,771.5h5M1024.5,769v5M1030,695.5h5M1032.5,693v5M1024,805.5h5M1026.5,803v5M1027,722.5h5M1029.5,720v5M1031,732.5h5M1033.5,730v5M1023,779.5h5M1025.5,777v5M1025,728.5h5M1027.5,726v5M1023,730.5h5M1025.5,728v5M1026,768.5h5M1028.5,766v5M1030,809.5h5M1032.5,807v5M1028,760.5h5M1030.5,758v5M1024,709.5h5M1026.5,707v5M1026,729.5h5M1028.5,727v5M1025,744.5h5M1027.5,742v5M1024,733.5h5M1026.5,731v5M1029,663.5h5M1031.5,661v5M1029,669.5h5M1031.5,667v5M1028,685.5h5M1030.5,683v5M1028,685.5h5M1030.5,683v5M1028,676.5h5M1030.5,674v5M1029,699.5h5M1031.5,697v5M1029,685.5h5M1031.5,683v5M1033,718.5h5M1035.5,716v5M1035,718.5h5M1037.5,716v5M1036,792.5h5M1038.5,790v5M1033,754.5h5M1035.5,752v5M1033,747.5h5M1035.5,745v5M1032,749.5h5M1034.5,747v5M1032,716.5h5M1034.5,714v5M1036,777.5h5M1038.5,775v5M1033,760.5h5M1035.5,758v5M1036,720.5h5M1038.5,718v5M1035,714.5h5M1037.5,712v5M1032,727.5h5M1034.5,725v5M1034,738.5h5M1036.5,736v5M1036,786.5h5M1038.5,784v5M1037,760.5h5M1039.5,758v5M1033,775.5h5M1035.5,773v5M1033,782.5h5M1035.5,780v5M1033,754.5h5M1035.5,752v5M1035,723.5h5M1037.5,721v5M1037,743.5h5M1039.5,741v5M1038,731.5h5M1040.5,729v5M1041,753.5h5M1043.5,751v5M1042,732.5h5M1044.5,730v5M1037,759.5h5M1039.5,757v5M1039,729.5h5M1041.5,727v5M1037,741.5h5M1039.5,739v5M1043,759.5h5M1045.5,757v5M1042,735.5h5M1044.5,733v5M1036,730.5h5M1038.5,728v5M1039,739.5h5M1041.5,737v5M1040,749.5h5M1042.5,747v5M1038,761.5h5M1040.5,759v5M1042,733.5h5M1044.5,731v5M1048,699.5h5M1050.5,697v5M1049,707.5h5M1051.5,705v5M1049,696.5h5M1051.5,694v5M1047,692.5h5M1049.5,690v5M1048,734.5h5M1050.5,732v5M1047,700.5h5M1049.5,698v5M1049,718.5h5M1051.5,716v5M1051,639.5h5M1053.5,637v5M1051,670.5h5M1053.5,668v5M1051,666.5h5M1053.5,664v5M1052,674.5h5M1054.5,672v5M1051,640.5h5M1053.5,638v5M1051,664.5h5M1053.5,662v5M1051,655.5h5M1053.5,653v5M1062,707.5h5M1064.5,705v5M1061,706.5h5M1063.5,704v5M1063,719.5h5M1065.5,717v5M1062,708.5h5M1064.5,706v5M1060,721.5h5M1062.5,719v5M1064,718.5h5M1066.5,716v5M1060,706.5h5M1062.5,704v5M1060,683.5h5M1062.5,681v5M1056,704.5h5M1058.5,702v5M1065,683.5h5M1067.5,681v5M1065,703.5h5M1067.5,701v5M1065,706.5h5M1067.5,704v5M1065,728.5h5M1067.5,726v5M1068,715.5h5M1070.5,713v5M1064,728.5h5M1066.5,726v5M1066,708.5h5M1068.5,706v5M1067,714.5h5M1069.5,712v5M1072,674.5h5M1074.5,672v5M1071,698.5h5M1073.5,696v5M1071,704.5h5M1073.5,702v5M1070,668.5h5M1072.5,666v5M1070,678.5h5M1072.5,676v5M1071,673.5h5M1073.5,671v5M1070,672.5h5M1072.5,670v5M1070,691.5h5M1072.5,689v5M1074,685.5h5M1076.5,683v5M1079,593.5h5M1081.5,591v5M1074,651.5h5M1076.5,649v5M1075,595.5h5M1077.5,593v5M1077,590.5h5M1079.5,588v5M1078,600.5h5M1080.5,598v5M1075,612.5h5M1077.5,610v5M1077,594.5h5M1079.5,592v5M1076,654.5h5M1078.5,652v5M1077,626.5h5M1079.5,624v5M1074,625.5h5M1076.5,623v5M1079,695.5h5M1081.5,693v5M1074,686.5h5M1076.5,684v5M1076,599.5h5M1078.5,597v5M1079,632.5h5M1081.5,630v5M1078,691.5h5M1080.5,689v5M1077,598.5h5M1079.5,596v5M1078,654.5h5M1080.5,652v5M1077,653.5h5M1079.5,651v5M1084,687.5h5M1086.5,685v5M1084,687.5h5M1086.5,685v5M1083,671.5h5M1085.5,669v5M1083,697.5h5M1085.5,695v5M1083,671.5h5M1085.5,669v5M1090,629.5h5M1092.5,627v5M1090,619.5h5M1092.5,617v5M1089,637.5h5M1091.5,635v5M1089,698.5h5M1091.5,696v5M1090,623.5h5M1092.5,621v5M1089,694.5h5M1091.5,692v5M1089,657.5h5M1091.5,655v5M1089,689.5h5M1091.5,687v5M1091,619.5h5M1093.5,617v5M1088,626.5h5M1090.5,624v5M1091,609.5h5M1093.5,607v5M1089,622.5h5M1091.5,620v5M1090,626.5h5M1092.5,624v5M1090,675.5h5M1092.5,673v5M1090,697.5h5M1092.5,695v5M1091,679.5h5M1093.5,677v5M1091,654.5h5M1093.5,652v5M1091,639.5h5M1093.5,637v5M1090,683.5h5M1092.5,681v5M1090,665.5h5M1092.5,663v5M1088,648.5h5M1090.5,646v5M1092,745.5h5M1094.5,743v5M1093,838.5h5M1095.5,836v5M1092,796.5h5M1094.5,794v5M1094,791.5h5M1096.5,789v5M1093,796.5h5M1095.5,794v5M1096,790.5h5M1098.5,788v5M1095,798.5h5M1097.5,796v5M1104,878.5h5M1106.5,876v5M1102,854.5h5M1104.5,852v5M1103,881.5h5M1105.5,879v5M1103,845.5h5M1105.5,843v5M1102,860.5h5M1104.5,858v5M1102,887.5h5M1104.5,885v5M1104,829.5h5M1106.5,827v5M1103,841.5h5M1105.5,839v5M1104,860.5h5M1106.5,858v5M1104,885.5h5M1106.5,883v5M1104,865.5h5M1106.5,863v5M1110,868.5h5M1112.5,866v5M1109,866.5h5M1111.5,864v5M1111,864.5h5M1113.5,862v5M1114,852.5h5M1116.5,850v5M1109,877.5h5M1111.5,875v5M1110,866.5h5M1112.5,864v5M1111,902.5h5M1113.5,900v5M1148,894.5h5M1150.5,892v5M1124,706.5h5M1126.5,704v5M1126,729.5h5M1128.5,727v5M1123,729.5h5M1125.5,727v5M1127,718.5h5M1129.5,716v5M1126,707.5h5M1128.5,705v5M1126,718.5h5M1128.5,716v5M1124,765.5h5M1126.5,763v5M1123,802.5h5M1125.5,800v5M1152,813.5h5M1154.5,811v5M1166,816.5h5M1168.5,814v5M1166,828.5h5M1168.5,826v5M1175,804.5h5M1177.5,802v5M1176,814.5h5M1178.5,812v5M1178,812.5h5M1180.5,810v5M1178,880.5h5M1180.5,878v5M1179,875.5h5M1181.5,873v5M1182,892.5h5M1184.5,890v5M1196,779.5h5M1198.5,777v5M1191,774.5h5M1193.5,772v5M1198,777.5h5M1200.5,775v5M1194,769.5h5M1196.5,767v5M1189,768.5h5M1191.5,766v5M1201,703.5h5M1203.5,701v5M1202,700.5h5M1204.5,698v5M1206,677.5h5M1208.5,675v5M1225,714.5h5M1227.5,712v5M1421,966.5h5M1423.5,964v5M1425,1004.5h5M1427.5,1002v5M1439,1040.5h5M1441.5,1038v5M1432,1043.5h5M1434.5,1041v5M1432,1052.5h5M1434.5,1050v5M1433,1049.5h5M1435.5,1047v5M1457,1084.5h5M1459.5,1082v5M1458,1102.5h5M1460.5,1100v5M1458,1071.5h5M1460.5,1069v5M1458,1096.5h5M1460.5,1094v5M1459,1068.5h5M1461.5,1066v5M1459,1067.5h5M1461.5,1065v5M740,941.5h5M742.5,939v5M756,907.5h5M758.5,905v5M903,913.5h5M905.5,911v5" stroke="#000" stroke-width="1" shape-rendering="crispEdges" fill="none"/><path d="M928,744.5h5M930.5,742v5M927,754.5h5M929.5,752v5M928,727.5h5M930.5,725v5M931,806.5h5M933.5,804v5M942,843.5h5M944.5,841v5M934,841.5h5M936.5,839v5M946,791.5h5M948.5,789v5M952,783.5h5M954.5,781v5M949,779.5h5M951.5,777v5M960,798.5h5M962.5,796v5M964,832.5h5M966.5,830v5M969,846.5h5M971.5,844v5M971,813.5h5M973.5,811v5M971,807.5h5M973.5,805v5M966,824.5h5M968.5,822v5M970,778.5h5M972.5,776v5M983,838.5h5M985.5,836v5M991,945.5h5M993.5,943v5M991,912.5h5M993.5,910v5M998,825.5h5M1000.5,823v5M1008,785.5h5M1010.5,783v5M998,809.5h5M1000.5,807v5M1003,799.5h5M1005.5,797v5M1007,842.5h5M1009.5,840v5M996,797.5h5M998.5,795v5M996,840.5h5M998.5,838v5M1016,741.5h5M1018.5,739v5M1020,785.5h5M1022.5,783v5M1020,801.5h5M1022.5,799v5M1020,779.5h5M1022.5,777v5M1030,792.5h5M1032.5,790v5M1022,777.5h5M1024.5,775v5M1032,747.5h5M1034.5,745v5M1025,731.5h5M1027.5,729v5M1030,751.5h5M1032.5,749v5M1026,717.5h5M1028.5,715v5M1036,716.5h5M1038.5,714v5M1036,780.5h5M1038.5,778v5M1036,738.5h5M1038.5,736v5M1034,808.5h5M1036.5,806v5M1033,741.5h5M1035.5,739v5M1033,767.5h5M1035.5,765v5M1033,739.5h5M1035.5,737v5M1037,755.5h5M1039.5,753v5M1043,738.5h5M1045.5,736v5M1048,732.5h5M1050.5,730v5M1049,711.5h5M1051.5,709v5M1046,717.5h5M1048.5,715v5M1052,666.5h5M1054.5,664v5M1052,637.5h5M1054.5,635v5M1051,664.5h5M1053.5,662v5M1064,721.5h5M1066.5,719v5M1064,717.5h5M1066.5,715v5M1068,711.5h5M1070.5,709v5M1078,621.5h5M1080.5,619v5M1079,672.5h5M1081.5,670v5M1076,606.5h5M1078.5,604v5M1079,618.5h5M1081.5,616v5M1078,692.5h5M1080.5,690v5M1078,671.5h5M1080.5,669v5M1077,671.5h5M1079.5,669v5M1078,687.5h5M1080.5,685v5M1083,658.5h5M1085.5,656v5M1083,659.5h5M1085.5,657v5M1083,698.5h5M1085.5,696v5M1083,685.5h5M1085.5,683v5M1090,644.5h5M1092.5,642v5M1088,679.5h5M1090.5,677v5M1091,711.5h5M1093.5,709v5M1093,805.5h5M1095.5,803v5M1097,841.5h5M1099.5,839v5M1096,795.5h5M1098.5,793v5M1095,847.5h5M1097.5,845v5M1175,891.5h5M1177.5,889v5M1226,665.5h5M1228.5,663v5" stroke="#00f" stroke-width="1" shape-rendering="crispEdges" fill="none"/><path d="M654,941.5h5M656.5,939v5M654,932.5h5M656.5,930v5M655,929.5h5M657.5,927v5M655,955.5h5M657.5,953v5M656,946.5h5M658.5,944v5M653,970.5h5M655.5,968v5M655,926.5h5M657.5,924v5M654,968.5h5M656.5,966v5M655,984.5h5M657.5,982v5M655,975.5h5M657.5,973v5M655,948.5h5M657.5,946v5M655,971.5h5M657.5,969v5M658,930.5h5M660.5,928v5M659,941.5h5M661.5,939v5M659,915.5h5M661.5,913v5M658,940.5h5M660.5,938v5M658,927.5h5M660.5,925v5M658,930.5h5M660.5,928v5M663,913.5h5M665.5,911v5M663,876.5h5M665.5,874v5M662,886.5h5M664.5,884v5M663,902.5h5M665.5,900v5M663,881.5h5M665.5,879v5M662,911.5h5M664.5,909v5M669,897.5h5M671.5,895v5M676,854.5h5M678.5,852v5M678,885.5h5M680.5,883v5M676,877.5h5M678.5,875v5M676,858.5h5M678.5,856v5M676,866.5h5M678.5,864v5M678,873.5h5M680.5,871v5M692,947.5h5M694.5,945v5M684,1080.5h5M686.5,1078v5M685,1081.5h5M687.5,1079v5M686,1084.5h5M688.5,1082v5M685,1078.5h5M687.5,1076v5M685,1080.5h5M687.5,1078v5M701,967.5h5M703.5,965v5M704,947.5h5M706.5,945v5M704,944.5h5M706.5,942v5M705,941.5h5M707.5,939v5M719,902.5h5M721.5,900v5M719,906.5h5M721.5,904v5M720,896.5h5M722.5,894v5M917,882.5h5M919.5,880v5M912,841.5h5M914.5,839v5M915,836.5h5M917.5,834v5M922,811.5h5M924.5,809v5M928,733.5h5M930.5,731v5M941,806.5h5M943.5,804v5M941,833.5h5M943.5,831v5M936,833.5h5M938.5,831v5M945,756.5h5M947.5,754v5M947,759.5h5M949.5,757v5M949,751.5h5M951.5,749v5M956,834.5h5M958.5,832v5M961,794.5h5M963.5,792v5M964,809.5h5M966.5,807v5M970,823.5h5M972.5,821v5M968,828.5h5M970.5,826v5M972,801.5h5M974.5,799v5M965,829.5h5M967.5,827v5M964,808.5h5M966.5,806v5M971,777.5h5M973.5,775v5M983,824.5h5M985.5,822v5M988,949.5h5M990.5,947v5M991,903.5h5M993.5,901v5M988,957.5h5M990.5,955v5M990,898.5h5M992.5,896v5M1004,814.5h5M1006.5,812v5M996,837.5h5M998.5,835v5M992,779.5h5M994.5,777v5M1001,801.5h5M1003.5,799v5M994,825.5h5M996.5,823v5M997,812.5h5M999.5,810v5M1005,822.5h5M1007.5,820v5M1000,837.5h5M1002.5,835v5M1008,774.5h5M1010.5,772v5M992,814.5h5M994.5,812v5M1009,744.5h5M1011.5,742v5M1016,728.5h5M1018.5,726v5M1011,736.5h5M1013.5,734v5M1012,730.5h5M1014.5,728v5M1013,755.5h5M1015.5,753v5M1013,765.5h5M1015.5,763v5M1016,773.5h5M1018.5,771v5M1019,817.5h5M1021.5,815v5M1025,801.5h5M1027.5,799v5M1030,739.5h5M1032.5,737v5M1026,791.5h5M1028.5,789v5M1022,756.5h5M1024.5,754v5M1029,744.5h5M1031.5,742v5M1028,774.5h5M1030.5,772v5M1027,695.5h5M1029.5,693v5M1026,806.5h5M1028.5,804v5M1024,716.5h5M1026.5,714v5M1027,780.5h5M1029.5,778v5M1027,731.5h5M1029.5,729v5M1028,682.5h5M1030.5,680v5M1030,656.5h5M1032.5,654v5M1028,697.5h5M1030.5,695v5M1029,693.5h5M1031.5,691v5M1030,696.5h5M1032.5,694v5M1032,711.5h5M1034.5,709v5M1035,715.5h5M1037.5,713v5M1035,712.5h5M1037.5,710v5M1036,770.5h5M1038.5,768v5M1034,796.5h5M1036.5,794v5M1039,761.5h5M1041.5,759v5M1036,716.5h5M1038.5,714v5M1035,749.5h5M1037.5,747v5M1043,741.5h5M1045.5,739v5M1043,729.5h5M1045.5,727v5M1042,759.5h5M1044.5,757v5M1042,751.5h5M1044.5,749v5M1047,728.5h5M1049.5,726v5M1050,730.5h5M1052.5,728v5M1050,692.5h5M1052.5,690v5M1049,735.5h5M1051.5,733v5M1052,672.5h5M1054.5,670v5M1051,640.5h5M1053.5,638v5M1052,674.5h5M1054.5,672v5M1059,722.5h5M1061.5,720v5M1067,725.5h5M1069.5,723v5M1065,730.5h5M1067.5,728v5M1071,703.5h5M1073.5,701v5M1072,677.5h5M1074.5,675v5M1077,608.5h5M1079.5,606v5M1080,591.5h5M1082.5,589v5M1077,586.5h5M1079.5,584v5M1079,640.5h5M1081.5,638v5M1076,639.5h5M1078.5,637v5M1076,655.5h5M1078.5,653v5M1077,645.5h5M1079.5,643v5M1076,631.5h5M1078.5,629v5M1079,693.5h5M1081.5,691v5M1078,626.5h5M1080.5,624v5M1075,643.5h5M1077.5,641v5M1078,631.5h5M1080.5,629v5M1081,693.5h5M1083.5,691v5M1083,687.5h5M1085.5,685v5M1083,697.5h5M1085.5,695v5M1091,682.5h5M1093.5,680v5M1090,620.5h5M1092.5,618v5M1089,608.5h5M1091.5,606v5M1088,652.5h5M1090.5,650v5M1089,620.5h5M1091.5,618v5M1088,621.5h5M1090.5,619v5M1095,841.5h5M1097.5,839v5M1093,835.5h5M1095.5,833v5M1094,792.5h5M1096.5,790v5M1093,827.5h5M1095.5,825v5M1102,857.5h5M1104.5,855v5M1103,887.5h5M1105.5,885v5M1113,871.5h5M1115.5,869v5M1109,863.5h5M1111.5,861v5M1112,870.5h5M1114.5,868v5M1112,854.5h5M1114.5,852v5M1109,875.5h5M1111.5,873v5M1114,847.5h5M1116.5,845v5M1111,857.5h5M1113.5,855v5M1108,892.5h5M1110.5,890v5M1114,894.5h5M1116.5,892v5M1125,734.5h5M1127.5,732v5M1124,721.5h5M1126.5,719v5M1125,714.5h5M1127.5,712v5M1123,726.5h5M1125.5,724v5M1126,735.5h5M1128.5,733v5M1126,816.5h5M1128.5,814v5M1134,668.5h5M1136.5,666v5M1167,814.5h5M1169.5,812v5M1166,845.5h5M1168.5,843v5M1165,812.5h5M1167.5,810v5M1178,808.5h5M1180.5,806v5M1178,799.5h5M1180.5,797v5M1179,824.5h5M1181.5,822v5M1196,770.5h5M1198.5,768v5M1197,775.5h5M1199.5,773v5M1421,976.5h5M1423.5,974v5M1425,1015.5h5M1427.5,1013v5M1439,1038.5h5M1441.5,1036v5M1432,1043.5h5M1434.5,1041v5M1433,1059.5h5M1435.5,1057v5M1434,1045.5h5M1436.5,1043v5M1432,1049.5h5M1434.5,1047v5M1443,934.5h5M1445.5,932v5M1447,932.5h5M1449.5,930v5M1447,977.5h5M1449.5,975v5M1448,933.5h5M1450.5,931v5M1446,945.5h5M1448.5,943v5M1445,950.5h5M1447.5,948v5M1452,910.5h5M1454.5,908v5M1454,944.5h5M1456.5,942v5M1454,910.5h5M1456.5,908v5M1453,916.5h5M1455.5,914v5M1452,931.5h5M1454.5,929v5M1452,936.5h5M1454.5,934v5M1458,1106.5h5M1460.5,1104v5M1459,1086.5h5M1461.5,1084v5M1456,1088.5h5M1458.5,1086v5M1457,1064.5h5M1459.5,1062v5M1464,806.5h5M1466.5,804v5M1464,860.5h5M1466.5,858v5M1464,808.5h5M1466.5,806v5M1465,874.5h5M1467.5,872v5M1464,891.5h5M1466.5,889v5M1472,850.5h5M1474.5,848v5M1473,840.5h5M1475.5,838v5M1471,853.5h5M1473.5,851v5M1473,895.5h5M1475.5,893v5M1470,901.5h5M1472.5,899v5M1473,970.5h5M1475.5,968v5M1473,944.5h5M1475.5,942v5M1472,967.5h5M1474.5,965v5M1481,821.5h5M1483.5,819v5M1490,859.5h5M1492.5,857v5M1486,856.5h5M1488.5,854v5M1480,846.5h5M1482.5,844v5M1481,877.5h5M1483.5,875v5M1482,855.5h5M1484.5,853v5M1490,817.5h5M1492.5,815v5M1481,843.5h5M1483.5,841v5M1480,865.5h5M1482.5,863v5M1486,903.5h5M1488.5,901v5M1486,882.5h5M1488.5,880v5M1488,839.5h5M1490.5,837v5M1487,883.5h5M1489.5,881v5M1487,838.5h5M1489.5,836v5M1488,886.5h5M1490.5,884v5M1480,822.5h5M1482.5,820v5M1489,900.5h5M1491.5,898v5M1480,805.5h5M1482.5,803v5M1484,891.5h5M1486.5,889v5M1489,845.5h5M1491.5,843v5M1483,820.5h5M1485.5,818v5M1482,854.5h5M1484.5,852v5M1480,888.5h5M1482.5,886v5M1490,903.5h5M1492.5,901v5M1484,803.5h5M1486.5,801v5M1480,829.5h5M1482.5,827v5M1491,826.5h5M1493.5,824v5M1482,891.5h5M1484.5,889v5M1493,996.5h5M1495.5,994v5M1499,959.5h5M1501.5,957v5M1495,959.5h5M1497.5,957v5M1500,993.5h5M1502.5,991v5M1493,957.5h5M1495.5,955v5M1498,959.5h5M1500.5,957v5M1493,945.5h5M1495.5,943v5M1499,929.5h5M1501.5,927v5M1499,929.5h5M1501.5,927v5M1493,902.5h5M1495.5,900v5M1493,918.5h5M1495.5,916v5M1491,955.5h5M1493.5,953v5M1492,972.5h5M1494.5,970v5M1492,976.5h5M1494.5,974v5M1491,952.5h5M1493.5,950v5M1498,991.5h5M1500.5,989v5M1497,933.5h5M1499.5,931v5M1498,955.5h5M1500.5,953v5M1496,991.5h5M1498.5,989v5M1498,959.5h5M1500.5,957v5M1494,915.5h5M1496.5,913v5M1495,941.5h5M1497.5,939v5M1499,964.5h5M1501.5,962v5M1496,978.5h5M1498.5,976v5M1498,951.5h5M1500.5,949v5M1495,959.5h5M1497.5,957v5M1498,1056.5h5M1500.5,1054v5M1496,1049.5h5M1498.5,1047v5M1498,1021.5h5M1500.5,1019v5M1498,1059.5h5M1500.5,1057v5M1498,1026.5h5M1500.5,1024v5M1497,1004.5h5M1499.5,1002v5M1498,1086.5h5M1500.5,1084v5M1495,1042.5h5M1497.5,1040v5M1495,1023.5h5M1497.5,1021v5M1496,1011.5h5M1498.5,1009v5M1500,1037.5h5M1502.5,1035v5M690,932.5h5M692.5,930v5M718,886.5h5M720.5,884v5M762,911.5h5M764.5,909v5" stroke="#0f0" stroke-width="1" shape-rendering="crispEdges" fill="none"/><path d="M655,926.5h5M657.5,924v5M658,926.5h5M660.5,924v5M659,914.5h5M661.5,912v5M658,885.5h5M660.5,883v5M659,882.5h5M661.5,880v5M676,885.5h5M678.5,883v5M691,950.5h5M693.5,948v5M705,942.5h5M707.5,940v5M912,875.5h5M914.5,873v5M916,834.5h5M918.5,832v5M931,821.5h5M933.5,819v5M934,838.5h5M936.5,836v5M950,747.5h5M952.5,745v5M944,784.5h5M946.5,782v5M949,777.5h5M951.5,775v5M957,791.5h5M959.5,789v5M955,754.5h5M957.5,752v5M960,799.5h5M962.5,797v5M967,805.5h5M969.5,803v5M970,830.5h5M972.5,828v5M967,806.5h5M969.5,804v5M978,824.5h5M980.5,822v5M979,809.5h5M981.5,807v5M986,836.5h5M988.5,834v5M986,848.5h5M988.5,846v5M988,896.5h5M990.5,894v5M992,899.5h5M994.5,897v5M988,926.5h5M990.5,924v5M992,941.5h5M994.5,939v5M990,943.5h5M992.5,941v5M991,952.5h5M993.5,950v5M992,909.5h5M994.5,907v5M990,903.5h5M992.5,901v5M992,898.5h5M994.5,896v5M990,901.5h5M992.5,899v5M991,944.5h5M993.5,942v5M996,822.5h5M998.5,820v5M992,773.5h5M994.5,771v5M994,809.5h5M996.5,807v5M997,812.5h5M999.5,810v5M1000,800.5h5M1002.5,798v5M1003,786.5h5M1005.5,784v5M1009,838.5h5M1011.5,836v5M1000,784.5h5M1002.5,782v5M999,802.5h5M1001.5,800v5M995,805.5h5M997.5,803v5M1007,819.5h5M1009.5,817v5M1007,787.5h5M1009.5,785v5M993,794.5h5M995.5,792v5M1007,776.5h5M1009.5,774v5M995,792.5h5M997.5,790v5M1008,726.5h5M1010.5,724v5M1020,817.5h5M1022.5,815v5M1015,811.5h5M1017.5,809v5M1017,772.5h5M1019.5,770v5M1019,778.5h5M1021.5,776v5M1016,802.5h5M1018.5,800v5M1023,699.5h5M1025.5,697v5M1024,710.5h5M1026.5,708v5M1029,778.5h5M1031.5,776v5M1022,775.5h5M1024.5,773v5M1029,796.5h5M1031.5,794v5M1025,705.5h5M1027.5,703v5M1032,708.5h5M1034.5,706v5M1028,665.5h5M1030.5,663v5M1036,801.5h5M1038.5,799v5M1035,709.5h5M1037.5,707v5M1034,806.5h5M1036.5,804v5M1032,787.5h5M1034.5,785v5M1033,775.5h5M1035.5,773v5M1036,763.5h5M1038.5,761v5M1036,738.5h5M1038.5,736v5M1039,742.5h5M1041.5,740v5M1043,747.5h5M1045.5,745v5M1048,707.5h5M1050.5,705v5M1047,701.5h5M1049.5,699v5M1048,709.5h5M1050.5,707v5M1051,683.5h5M1053.5,681v5M1052,660.5h5M1054.5,658v5M1052,670.5h5M1054.5,668v5M1061,689.5h5M1063.5,687v5M1061,701.5h5M1063.5,699v5M1058,692.5h5M1060.5,690v5M1065,712.5h5M1067.5,710v5M1067,715.5h5M1069.5,713v5M1078,687.5h5M1080.5,685v5M1079,590.5h5M1081.5,588v5M1079,682.5h5M1081.5,680v5M1078,648.5h5M1080.5,646v5M1078,640.5h5M1080.5,638v5M1078,644.5h5M1080.5,642v5M1077,652.5h5M1079.5,650v5M1078,610.5h5M1080.5,608v5M1079,663.5h5M1081.5,661v5M1082,661.5h5M1084.5,659v5M1088,659.5h5M1090.5,657v5M1090,625.5h5M1092.5,623v5M1090,612.5h5M1092.5,610v5M1088,667.5h5M1090.5,665v5M1094,795.5h5M1096.5,793v5M1096,814.5h5M1098.5,812v5M1092,798.5h5M1094.5,796v5M1098,856.5h5M1100.5,854v5M1103,878.5h5M1105.5,876v5M1113,903.5h5M1115.5,901v5M1167,816.5h5M1169.5,814v5M1179,833.5h5M1181.5,831v5M1181,790.5h5M1183.5,788v5M1177,828.5h5M1179.5,826v5M1207,684.5h5M1209.5,682v5M1448,965.5h5M1450.5,963v5M1449,955.5h5M1451.5,953v5M1448,930.5h5M1450.5,928v5M1447,970.5h5M1449.5,968v5M1444,975.5h5M1446.5,973v5M1445,954.5h5M1447.5,952v5M1455,1019.5h5M1457.5,1017v5M1454,909.5h5M1456.5,907v5M1454,923.5h5M1456.5,921v5M1457,1063.5h5M1459.5,1061v5M1464,875.5h5M1466.5,873v5M1466,877.5h5M1468.5,875v5M1466,881.5h5M1468.5,879v5M1472,898.5h5M1474.5,896v5M1474,886.5h5M1476.5,884v5M1474,890.5h5M1476.5,888v5M1473,895.5h5M1475.5,893v5M1471,909.5h5M1473.5,907v5M1473,967.5h5M1475.5,965v5M1480,845.5h5M1482.5,843v5M1482,844.5h5M1484.5,842v5M1482,885.5h5M1484.5,883v5M1481,862.5h5M1483.5,860v5M1489,870.5h5M1491.5,868v5M1487,869.5h5M1489.5,867v5M1486,898.5h5M1488.5,896v5M1490,898.5h5M1492.5,896v5M1482,892.5h5M1484.5,890v5M1482,876.5h5M1484.5,874v5M1484,822.5h5M1486.5,820v5M1499,943.5h5M1501.5,941v5M1500,948.5h5M1502.5,946v5M1497,972.5h5M1499.5,970v5M1496,961.5h5M1498.5,959v5M1499,923.5h5M1501.5,921v5M1497,991.5h5M1499.5,989v5M1498,961.5h5M1500.5,959v5M1497,925.5h5M1499.5,923v5M1500,964.5h5M1502.5,962v5M1492,906.5h5M1494.5,904v5M1498,985.5h5M1500.5,983v5M1500,1059.5h5M1502.5,1057v5M1498,1052.5h5M1500.5,1050v5M1499,1016.5h5M1501.5,1014v5M1499,1083.5h5M1501.5,1081v5M1497,1039.5h5M1499.5,1037v5M1497,1030.5h5M1499.5,1028v5M1500,1017.5h5M1502.5,1015v5M1498,1086.5h5M1500.5,1084v5M1500,1032.5h5M1502.5,1030v5M682,946.5h5M684.5,944v5M907,826.5h5M909.5,824v5" stroke="#ffa500" stroke-width="1" shape-rendering="crispEdges" fill="none"/><path d="M916,863.5h5M918.5,861v5M911,831.5h5M913.5,829v5M912,835.5h5M914.5,833v5M923,811.5h5M925.5,809v5M922,805.5h5M924.5,803v5M920,818.5h5M922.5,816v5M935,820.5h5M937.5,818v5M940,838.5h5M942.5,836v5M937,809.5h5M939.5,807v5M932,826.5h5M934.5,824v5M937,834.5h5M939.5,832v5M948,746.5h5M950.5,744v5M949,794.5h5M951.5,792v5M970,800.5h5M972.5,798v5M965,835.5h5M967.5,833v5M972,779.5h5M974.5,777v5M983,824.5h5M985.5,822v5M981,812.5h5M983.5,810v5M986,799.5h5M988.5,797v5M991,941.5h5M993.5,939v5M992,952.5h5M994.5,950v5M990,927.5h5M992.5,925v5M991,944.5h5M993.5,942v5M992,785.5h5M994.5,783v5M997,786.5h5M999.5,784v5M1008,785.5h5M1010.5,783v5M994,786.5h5M996.5,784v5M997,772.5h5M999.5,770v5M993,817.5h5M995.5,815v5M1005,786.5h5M1007.5,784v5M995,828.5h5M997.5,826v5M994,813.5h5M996.5,811v5M996,799.5h5M998.5,797v5M1011,751.5h5M1013.5,749v5M1013,749.5h5M1015.5,747v5M1016,802.5h5M1018.5,800v5M1020,826.5h5M1022.5,824v5M1017,802.5h5M1019.5,800v5M1017,789.5h5M1019.5,787v5M1016,778.5h5M1018.5,776v5M1025,773.5h5M1027.5,771v5M1024,722.5h5M1026.5,720v5M1030,807.5h5M1032.5,805v5M1031,749.5h5M1033.5,747v5M1022,729.5h5M1024.5,727v5M1029,751.5h5M1031.5,749v5M1028,805.5h5M1030.5,803v5M1028,800.5h5M1030.5,798v5M1028,648.5h5M1030.5,646v5M1030,667.5h5M1032.5,665v5M1035,808.5h5M1037.5,806v5M1037,763.5h5M1039.5,761v5M1037,757.5h5M1039.5,755v5M1032,704.5h5M1034.5,702v5M1034,768.5h5M1036.5,766v5M1035,786.5h5M1037.5,784v5M1037,719.5h5M1039.5,717v5M1050,718.5h5M1052.5,716v5M1047,700.5h5M1049.5,698v5M1048,716.5h5M1050.5,714v5M1050,705.5h5M1052.5,703v5M1047,701.5h5M1049.5,699v5M1051,638.5h5M1053.5,636v5M1051,643.5h5M1053.5,641v5M1062,687.5h5M1064.5,685v5M1059,707.5h5M1061.5,705v5M1067,736.5h5M1069.5,734v5M1066,721.5h5M1068.5,719v5M1065,712.5h5M1067.5,710v5M1066,704.5h5M1068.5,702v5M1065,722.5h5M1067.5,720v5M1067,736.5h5M1069.5,734v5M1067,712.5h5M1069.5,710v5M1070,680.5h5M1072.5,678v5M1070,705.5h5M1072.5,703v5M1071,672.5h5M1073.5,670v5M1072,700.5h5M1074.5,698v5M1075,676.5h5M1077.5,674v5M1075,638.5h5M1077.5,636v5M1078,696.5h5M1080.5,694v5M1078,587.5h5M1080.5,585v5M1075,700.5h5M1077.5,698v5M1073,656.5h5M1075.5,654v5M1083,698.5h5M1085.5,696v5M1090,660.5h5M1092.5,658v5M1091,652.5h5M1093.5,650v5M1094,827.5h5M1096.5,825v5M1093,807.5h5M1095.5,805v5M1098,810.5h5M1100.5,808v5M1093,800.5h5M1095.5,798v5M1096,803.5h5M1098.5,801v5M1095,809.5h5M1097.5,807v5M1093,821.5h5M1095.5,819v5M1104,852.5h5M1106.5,850v5M1102,864.5h5M1104.5,862v5M1104,868.5h5M1106.5,866v5M1104,888.5h5M1106.5,886v5M1123,760.5h5M1125.5,758v5M1124,815.5h5M1126.5,813v5M1152,864.5h5M1154.5,862v5M1164,841.5h5M1166.5,839v5M1230,658.5h5M1232.5,656v5" stroke="#f00" stroke-width="1" shape-rendering="crispEdges" fill="none"/><path d="M669,885.5h5M671.5,883v5M677,865.5h5M679.5,863v5M685,1080.5h5M687.5,1078v5M913,896.5h5M915.5,894v5M916,840.5h5M918.5,838v5M914,840.5h5M916.5,838v5M913,831.5h5M915.5,829v5M913,864.5h5M915.5,862v5M921,798.5h5M923.5,796v5M928,742.5h5M930.5,740v5M926,748.5h5M928.5,746v5M928,753.5h5M930.5,751v5M927,758.5h5M929.5,756v5M939,827.5h5M941.5,825v5M935,824.5h5M937.5,822v5M931,839.5h5M933.5,837v5M936,803.5h5M938.5,801v5M937,807.5h5M939.5,805v5M956,752.5h5M958.5,750v5M957,753.5h5M959.5,751v5M946,759.5h5M948.5,757v5M952,793.5h5M954.5,791v5M948,773.5h5M950.5,771v5M945,786.5h5M947.5,784v5M954,744.5h5M956.5,742v5M958,758.5h5M960.5,756v5M954,764.5h5M956.5,762v5M954,759.5h5M956.5,757v5M945,771.5h5M947.5,769v5M956,754.5h5M958.5,752v5M956,756.5h5M958.5,754v5M965,810.5h5M967.5,808v5M961,814.5h5M963.5,812v5M971,841.5h5M973.5,839v5M967,830.5h5M969.5,828v5M965,838.5h5M967.5,836v5M969,835.5h5M971.5,833v5M966,820.5h5M968.5,818v5M964,822.5h5M966.5,820v5M970,792.5h5M972.5,790v5M984,840.5h5M986.5,838v5M977,830.5h5M979.5,828v5M975,834.5h5M977.5,832v5M983,812.5h5M985.5,810v5M982,838.5h5M984.5,836v5M984,839.5h5M986.5,837v5M979,832.5h5M981.5,830v5M986,775.5h5M988.5,773v5M986,776.5h5M988.5,774v5M986,750.5h5M988.5,748v5M986,849.5h5M988.5,847v5M986,796.5h5M988.5,794v5M986,791.5h5M988.5,789v5M986,782.5h5M988.5,780v5M989,922.5h5M991.5,920v5M991,898.5h5M993.5,896v5M989,922.5h5M991.5,920v5M991,920.5h5M993.5,918v5M989,905.5h5M991.5,903v5M990,901.5h5M992.5,899v5M989,951.5h5M991.5,949v5M991,953.5h5M993.5,951v5M989,913.5h5M991.5,911v5M992,765.5h5M994.5,763v5M992,758.5h5M994.5,756v5M992,789.5h5M994.5,787v5M992,786.5h5M994.5,784v5M1004,846.5h5M1006.5,844v5M993,798.5h5M995.5,796v5M999,802.5h5M1001.5,800v5M998,839.5h5M1000.5,837v5M1000,841.5h5M1002.5,839v5M998,795.5h5M1000.5,793v5M1007,825.5h5M1009.5,823v5M1001,785.5h5M1003.5,783v5M1009,824.5h5M1011.5,822v5M999,817.5h5M1001.5,815v5M992,773.5h5M994.5,771v5M1007,830.5h5M1009.5,828v5M1003,819.5h5M1005.5,817v5M1004,802.5h5M1006.5,800v5M999,804.5h5M1001.5,802v5M1007,826.5h5M1009.5,824v5M1000,804.5h5M1002.5,802v5M1008,779.5h5M1010.5,777v5M992,828.5h5M994.5,826v5M998,820.5h5M1000.5,818v5M1008,815.5h5M1010.5,813v5M999,820.5h5M1001.5,818v5M1008,810.5h5M1010.5,808v5M993,795.5h5M995.5,793v5M1001,788.5h5M1003.5,786v5M1006,807.5h5M1008.5,805v5M1008,773.5h5M1010.5,771v5M1007,805.5h5M1009.5,803v5M999,791.5h5M1001.5,789v5M1006,808.5h5M1008.5,806v5M993,839.5h5M995.5,837v5M999,812.5h5M1001.5,810v5M992,788.5h5M994.5,786v5M994,808.5h5M996.5,806v5M1001,789.5h5M1003.5,787v5M999,834.5h5M1001.5,832v5M1008,826.5h5M1010.5,824v5M1012,724.5h5M1014.5,722v5M1014,764.5h5M1016.5,762v5M1013,754.5h5M1015.5,752v5M1011,733.5h5M1013.5,731v5M1012,730.5h5M1014.5,728v5M1015,724.5h5M1017.5,722v5M1008,760.5h5M1010.5,758v5M1008,749.5h5M1010.5,747v5M1011,723.5h5M1013.5,721v5M1017,783.5h5M1019.5,781v5M1017,826.5h5M1019.5,824v5M1019,796.5h5M1021.5,794v5M1018,802.5h5M1020.5,800v5M1017,814.5h5M1019.5,812v5M1018,812.5h5M1020.5,810v5M1017,817.5h5M1019.5,815v5M1015,821.5h5M1017.5,819v5M1016,821.5h5M1018.5,819v5M1020,813.5h5M1022.5,811v5M1017,825.5h5M1019.5,823v5M1029,747.5h5M1031.5,745v5M1022,773.5h5M1024.5,771v5M1031,808.5h5M1033.5,806v5M1032,765.5h5M1034.5,763v5M1023,785.5h5M1025.5,783v5M1031,758.5h5M1033.5,756v5M1028,782.5h5M1030.5,780v5M1030,777.5h5M1032.5,775v5M1032,757.5h5M1034.5,755v5M1029,726.5h5M1031.5,724v5M1029,789.5h5M1031.5,787v5M1032,699.5h5M1034.5,697v5M1029,786.5h5M1031.5,784v5M1022,800.5h5M1024.5,798v5M1023,724.5h5M1025.5,722v5M1031,706.5h5M1033.5,704v5M1031,718.5h5M1033.5,716v5M1028,716.5h5M1030.5,714v5M1026,735.5h5M1028.5,733v5M1031,705.5h5M1033.5,703v5M1029,808.5h5M1031.5,806v5M1030,790.5h5M1032.5,788v5M1027,796.5h5M1029.5,794v5M1026,755.5h5M1028.5,753v5M1024,758.5h5M1026.5,756v5M1024,715.5h5M1026.5,713v5M1028,719.5h5M1030.5,717v5M1030,671.5h5M1032.5,669v5M1029,676.5h5M1031.5,674v5M1028,649.5h5M1030.5,647v5M1029,692.5h5M1031.5,690v5M1037,713.5h5M1039.5,711v5M1035,766.5h5M1037.5,764v5M1035,717.5h5M1037.5,715v5M1032,791.5h5M1034.5,789v5M1032,787.5h5M1034.5,785v5M1037,784.5h5M1039.5,782v5M1037,803.5h5M1039.5,801v5M1035,749.5h5M1037.5,747v5M1037,712.5h5M1039.5,710v5M1034,721.5h5M1036.5,719v5M1033,797.5h5M1035.5,795v5M1036,770.5h5M1038.5,768v5M1034,795.5h5M1036.5,793v5M1036,765.5h5M1038.5,763v5M1036,724.5h5M1038.5,722v5M1032,722.5h5M1034.5,720v5M1035,740.5h5M1037.5,738v5M1043,735.5h5M1045.5,733v5M1044,759.5h5M1046.5,757v5M1043,747.5h5M1045.5,745v5M1036,732.5h5M1038.5,730v5M1043,739.5h5M1045.5,737v5M1042,734.5h5M1044.5,732v5M1042,743.5h5M1044.5,741v5M1048,736.5h5M1050.5,734v5M1050,733.5h5M1052.5,731v5M1048,705.5h5M1050.5,703v5M1048,696.5h5M1050.5,694v5M1050,710.5h5M1052.5,708v5M1046,711.5h5M1048.5,709v5M1048,723.5h5M1050.5,721v5M1047,733.5h5M1049.5,731v5M1047,730.5h5M1049.5,728v5M1050,714.5h5M1052.5,712v5M1047,720.5h5M1049.5,718v5M1052,661.5h5M1054.5,659v5M1051,657.5h5M1053.5,655v5M1051,680.5h5M1053.5,678v5M1065,721.5h5M1067.5,719v5M1058,703.5h5M1060.5,701v5M1060,703.5h5M1062.5,701v5M1061,685.5h5M1063.5,683v5M1063,719.5h5M1065.5,717v5M1061,719.5h5M1063.5,717v5M1059,684.5h5M1061.5,682v5M1060,700.5h5M1062.5,698v5M1058,692.5h5M1060.5,690v5M1060,714.5h5M1062.5,712v5M1065,720.5h5M1067.5,718v5M1065,706.5h5M1067.5,704v5M1067,737.5h5M1069.5,735v5M1067,740.5h5M1069.5,738v5M1064,705.5h5M1066.5,703v5M1066,711.5h5M1068.5,709v5M1067,733.5h5M1069.5,731v5M1065,710.5h5M1067.5,708v5M1065,725.5h5M1067.5,723v5M1067,729.5h5M1069.5,727v5M1070,687.5h5M1072.5,685v5M1070,699.5h5M1072.5,697v5M1071,684.5h5M1073.5,682v5M1072,692.5h5M1074.5,690v5M1073,681.5h5M1075.5,679v5M1073,647.5h5M1075.5,645v5M1076,643.5h5M1078.5,641v5M1078,599.5h5M1080.5,597v5M1073,680.5h5M1075.5,678v5M1075,619.5h5M1077.5,617v5M1078,643.5h5M1080.5,641v5M1073,618.5h5M1075.5,616v5M1074,598.5h5M1076.5,596v5M1077,651.5h5M1079.5,649v5M1075,640.5h5M1077.5,638v5M1075,683.5h5M1077.5,681v5M1078,686.5h5M1080.5,684v5M1078,614.5h5M1080.5,612v5M1076,637.5h5M1078.5,635v5M1078,664.5h5M1080.5,662v5M1084,694.5h5M1086.5,692v5M1082,669.5h5M1084.5,667v5M1082,694.5h5M1084.5,692v5M1084,680.5h5M1086.5,678v5M1082,695.5h5M1084.5,693v5M1084,676.5h5M1086.5,674v5M1088,640.5h5M1090.5,638v5M1089,666.5h5M1091.5,664v5M1088,648.5h5M1090.5,646v5M1089,617.5h5M1091.5,615v5M1090,661.5h5M1092.5,659v5M1088,693.5h5M1090.5,691v5M1087,618.5h5M1089.5,616v5M1090,639.5h5M1092.5,637v5M1089,660.5h5M1091.5,658v5M1091,630.5h5M1093.5,628v5M1091,720.5h5M1093.5,718v5M1091,717.5h5M1093.5,715v5M1091,757.5h5M1093.5,755v5M1092,717.5h5M1094.5,715v5M1091,761.5h5M1093.5,759v5M1092,722.5h5M1094.5,720v5M1091,727.5h5M1093.5,725v5M1097,799.5h5M1099.5,797v5M1094,856.5h5M1096.5,854v5M1097,822.5h5M1099.5,820v5M1095,814.5h5M1097.5,812v5M1094,812.5h5M1096.5,810v5M1096,847.5h5M1098.5,845v5M1097,842.5h5M1099.5,840v5M1095,841.5h5M1097.5,839v5M1097,841.5h5M1099.5,839v5M1095,824.5h5M1097.5,822v5M1093,815.5h5M1095.5,813v5M1104,858.5h5M1106.5,856v5M1104,890.5h5M1106.5,888v5M1104,854.5h5M1106.5,852v5M1103,858.5h5M1105.5,856v5M1103,884.5h5M1105.5,882v5M1102,857.5h5M1104.5,855v5M1103,846.5h5M1105.5,844v5M1104,861.5h5M1106.5,859v5M1103,846.5h5M1105.5,844v5M1103,848.5h5M1105.5,846v5M1110,868.5h5M1112.5,866v5M1113,859.5h5M1115.5,857v5M1114,869.5h5M1116.5,867v5M1109,852.5h5M1111.5,850v5M1109,868.5h5M1111.5,866v5M1112,854.5h5M1114.5,852v5M1148,899.5h5M1150.5,897v5M1127,710.5h5M1129.5,708v5M1124,735.5h5M1126.5,733v5M1125,731.5h5M1127.5,729v5M1126,808.5h5M1128.5,806v5M1124,812.5h5M1126.5,810v5M1123,815.5h5M1125.5,813v5M1126,819.5h5M1128.5,817v5M1124,811.5h5M1126.5,809v5M1123,813.5h5M1125.5,811v5M1155,756.5h5M1157.5,754v5M1167,839.5h5M1169.5,837v5M1179,811.5h5M1181.5,809v5M1180,795.5h5M1182.5,793v5M1181,889.5h5M1183.5,887v5M1176,881.5h5M1178.5,879v5M1180,891.5h5M1182.5,889v5M1195,782.5h5M1197.5,780v5M1194,770.5h5M1196.5,768v5M1190,780.5h5M1192.5,778v5M1431,1046.5h5M1433.5,1044v5M1431,1049.5h5M1433.5,1047v5M1434,1060.5h5M1436.5,1058v5M1459,1097.5h5M1461.5,1095v5M1457,1106.5h5M1459.5,1104v5M1459,1079.5h5M1461.5,1077v5M1459,1081.5h5M1461.5,1079v5M1458,1074.5h5M1460.5,1072v5M1457,1075.5h5M1459.5,1073v5M690,927.5h5M692.5,925v5M695,900.5h5M697.5,898v5" stroke="#000" stroke-width="1" shape-rendering="crispEdges" fill="none"/><path d="M921,801.5h5M923.5,799v5M928,737.5h5M930.5,735v5M932,823.5h5M934.5,821v5M938,831.5h5M940.5,829v5M939,835.5h5M941.5,833v5M933,842.5h5M935.5,840v5M932,808.5h5M934.5,806v5M953,752.5h5M955.5,750v5M963,787.5h5M965.5,785v5M966,816.5h5M968.5,814v5M972,791.5h5M974.5,789v5M980,821.5h5M982.5,819v5M982,828.5h5M984.5,826v5M986,751.5h5M988.5,749v5M986,762.5h5M988.5,760v5M990,920.5h5M992.5,918v5M992,772.5h5M994.5,770v5M992,759.5h5M994.5,757v5M996,793.5h5M998.5,791v5M994,796.5h5M996.5,794v5M1002,817.5h5M1004.5,815v5M1007,792.5h5M1009.5,790v5M1004,773.5h5M1006.5,771v5M1003,774.5h5M1005.5,772v5M999,801.5h5M1001.5,799v5M1013,766.5h5M1015.5,764v5M1015,747.5h5M1017.5,745v5M1009,746.5h5M1011.5,744v5M1009,733.5h5M1011.5,731v5M1015,774.5h5M1017.5,772v5M1028,696.5h5M1030.5,694v5M1026,741.5h5M1028.5,739v5M1024,740.5h5M1026.5,738v5M1022,744.5h5M1024.5,742v5M1024,695.5h5M1026.5,693v5M1031,757.5h5M1033.5,755v5M1027,802.5h5M1029.5,800v5M1031,781.5h5M1033.5,779v5M1030,711.5h5M1032.5,709v5M1029,691.5h5M1031.5,689v5M1029,655.5h5M1031.5,653v5M1029,682.5h5M1031.5,680v5M1029,685.5h5M1031.5,683v5M1036,751.5h5M1038.5,749v5M1032,806.5h5M1034.5,804v5M1034,790.5h5M1036.5,788v5M1034,777.5h5M1036.5,775v5M1036,804.5h5M1038.5,802v5M1034,760.5h5M1036.5,758v5M1042,741.5h5M1044.5,739v5M1049,708.5h5M1051.5,706v5M1051,659.5h5M1053.5,657v5M1051,640.5h5M1053.5,638v5M1057,703.5h5M1059.5,701v5M1058,722.5h5M1060.5,720v5M1057,684.5h5M1059.5,682v5M1056,703.5h5M1058.5,701v5M1065,717.5h5M1067.5,715v5M1056,690.5h5M1058.5,688v5M1063,721.5h5M1065.5,719v5M1064,737.5h5M1066.5,735v5M1068,714.5h5M1070.5,712v5M1067,710.5h5M1069.5,708v5M1077,655.5h5M1079.5,653v5M1079,637.5h5M1081.5,635v5M1079,619.5h5M1081.5,617v5M1076,628.5h5M1078.5,626v5M1082,700.5h5M1084.5,698v5M1082,697.5h5M1084.5,695v5M1084,669.5h5M1086.5,667v5M1090,656.5h5M1092.5,654v5M1090,689.5h5M1092.5,687v5M1088,680.5h5M1090.5,678v5M1091,716.5h5M1093.5,714v5M1094,847.5h5M1096.5,845v5M1094,833.5h5M1096.5,831v5M1093,844.5h5M1095.5,842v5M1097,809.5h5M1099.5,807v5M1093,802.5h5M1095.5,800v5M1102,885.5h5M1104.5,883v5M1113,902.5h5M1115.5,900v5M1125,810.5h5M1127.5,808v5M1126,806.5h5M1128.5,804v5M1165,824.5h5M1167.5,822v5M1178,878.5h5M1180.5,876v5" stroke="#00f" stroke-width="1" shape-rendering="crispEdges" fill="none"/><path d="M656,962.5h5M658.5,960v5M654,946.5h5M656.5,944v5M655,956.5h5M657.5,954v5M654,976.5h5M656.5,974v5M655,947.5h5M657.5,945v5M656,988.5h5M658.5,986v5M656,985.5h5M658.5,983v5M655,957.5h5M657.5,955v5M654,971.5h5M656.5,969v5M658,862.5h5M660.5,860v5M659,941.5h5M661.5,939v5M658,899.5h5M660.5,897v5M658,899.5h5M660.5,897v5M659,867.5h5M661.5,865v5M662,897.5h5M664.5,895v5M664,885.5h5M666.5,883v5M660,914.5h5M662.5,912v5M661,882.5h5M663.5,880v5M663,895.5h5M665.5,893v5M663,907.5h5M665.5,905v5M663,873.5h5M665.5,871v5M663,903.5h5M665.5,901v5M670,888.5h5M672.5,886v5M669,902.5h5M671.5,900v5M670,907.5h5M672.5,905v5M670,903.5h5M672.5,901v5M677,857.5h5M679.5,855v5M676,888.5h5M678.5,886v5M677,849.5h5M679.5,847v5M677,877.5h5M679.5,875v5M676,864.5h5M678.5,862v5M676,847.5h5M678.5,845v5M677,871.5h5M679.5,869v5M676,867.5h5M678.5,865v5M690,912.5h5M692.5,910v5M693,950.5h5M695.5,948v5M691,947.5h5M693.5,945v5M692,952.5h5M694.5,950v5M693,948.5h5M695.5,946v5M685,1078.5h5M687.5,1076v5M686,1084.5h5M688.5,1082v5M684,1078.5h5M686.5,1076v5M686,1075.5h5M688.5,1073v5M702,970.5h5M704.5,968v5M702,970.5h5M704.5,968v5M718,902.5h5M720.5,900v5M720,897.5h5M722.5,895v5M720,905.5h5M722.5,903v5M913,870.5h5M915.5,868v5M926,732.5h5M928.5,730v5M929,734.5h5M931.5,732v5M936,813.5h5M938.5,811v5M942,843.5h5M944.5,841v5M942,802.5h5M944.5,800v5M941,804.5h5M943.5,802v5M935,804.5h5M937.5,802v5M941,814.5h5M943.5,812v5M945,785.5h5M947.5,783v5M953,754.5h5M955.5,752v5M960,797.5h5M962.5,795v5M965,789.5h5M967.5,787v5M973,814.5h5M975.5,812v5M971,813.5h5M973.5,811v5M963,842.5h5M965.5,840v5M971,781.5h5M973.5,779v5M970,781.5h5M972.5,779v5M981,816.5h5M983.5,814v5M978,821.5h5M980.5,819v5M979,828.5h5M981.5,826v5M982,810.5h5M984.5,808v5M976,835.5h5M978.5,833v5M986,784.5h5M988.5,782v5M986,797.5h5M988.5,795v5M990,901.5h5M992.5,899v5M991,920.5h5M993.5,918v5M1009,803.5h5M1011.5,801v5M992,821.5h5M994.5,819v5M1009,773.5h5M1011.5,771v5M1008,810.5h5M1010.5,808v5M998,837.5h5M1000.5,835v5M1007,804.5h5M1009.5,802v5M992,795.5h5M994.5,793v5M994,785.5h5M996.5,783v5M997,804.5h5M999.5,802v5M1014,753.5h5M1016.5,751v5M1010,744.5h5M1012.5,742v5M1014,723.5h5M1016.5,721v5M1016,802.5h5M1018.5,800v5M1018,771.5h5M1020.5,769v5M1017,819.5h5M1019.5,817v5M1018,775.5h5M1020.5,773v5M1029,712.5h5M1031.5,710v5M1024,770.5h5M1026.5,768v5M1026,771.5h5M1028.5,769v5M1024,761.5h5M1026.5,759v5M1029,780.5h5M1031.5,778v5M1031,794.5h5M1033.5,792v5M1026,789.5h5M1028.5,787v5M1025,768.5h5M1027.5,766v5M1025,746.5h5M1027.5,744v5M1027,775.5h5M1029.5,773v5M1029,733.5h5M1031.5,731v5M1031,733.5h5M1033.5,731v5M1023,715.5h5M1025.5,713v5M1024,716.5h5M1026.5,714v5M1029,669.5h5M1031.5,667v5M1028,699.5h5M1030.5,697v5M1034,727.5h5M1036.5,725v5M1034,806.5h5M1036.5,804v5M1037,726.5h5M1039.5,724v5M1034,781.5h5M1036.5,779v5M1034,744.5h5M1036.5,742v5M1036,723.5h5M1038.5,721v5M1032,736.5h5M1034.5,734v5M1035,737.5h5M1037.5,735v5M1034,740.5h5M1036.5,738v5M1033,785.5h5M1035.5,783v5M1035,718.5h5M1037.5,716v5M1038,734.5h5M1040.5,732v5M1037,745.5h5M1039.5,743v5M1037,753.5h5M1039.5,751v5M1039,759.5h5M1041.5,757v5M1037,731.5h5M1039.5,729v5M1049,726.5h5M1051.5,724v5M1046,725.5h5M1048.5,723v5M1051,642.5h5M1053.5,640v5M1052,664.5h5M1054.5,662v5M1051,636.5h5M1053.5,634v5M1057,694.5h5M1059.5,692v5M1058,712.5h5M1060.5,710v5M1062,684.5h5M1064.5,682v5M1059,707.5h5M1061.5,705v5M1057,683.5h5M1059.5,681v5M1057,720.5h5M1059.5,718v5M1066,739.5h5M1068.5,737v5M1068,735.5h5M1070.5,733v5M1067,728.5h5M1069.5,726v5M1066,740.5h5M1068.5,738v5M1073,681.5h5M1075.5,679v5M1074,666.5h5M1076.5,664v5M1075,683.5h5M1077.5,681v5M1074,613.5h5M1076.5,611v5M1079,618.5h5M1081.5,616v5M1078,592.5h5M1080.5,590v5M1077,653.5h5M1079.5,651v5M1075,683.5h5M1077.5,681v5M1078,590.5h5M1080.5,588v5M1084,691.5h5M1086.5,689v5M1082,695.5h5M1084.5,693v5M1090,692.5h5M1092.5,690v5M1088,696.5h5M1090.5,694v5M1088,665.5h5M1090.5,663v5M1090,616.5h5M1092.5,614v5M1091,613.5h5M1093.5,611v5M1088,659.5h5M1090.5,657v5M1092,620.5h5M1094.5,618v5M1091,606.5h5M1093.5,604v5M1090,668.5h5M1092.5,666v5M1092,711.5h5M1094.5,709v5M1093,848.5h5M1095.5,846v5M1096,831.5h5M1098.5,829v5M1102,850.5h5M1104.5,848v5M1104,860.5h5M1106.5,858v5M1110,859.5h5M1112.5,857v5M1114,876.5h5M1116.5,874v5M1112,869.5h5M1114.5,867v5M1114,860.5h5M1116.5,858v5M1113,877.5h5M1115.5,875v5M1110,848.5h5M1112.5,846v5M1114,872.5h5M1116.5,870v5M1112,877.5h5M1114.5,875v5M1148,898.5h5M1150.5,896v5M1148,902.5h5M1150.5,900v5M1124,719.5h5M1126.5,717v5M1126,713.5h5M1128.5,711v5M1125,732.5h5M1127.5,730v5M1124,708.5h5M1126.5,706v5M1126,735.5h5M1128.5,733v5M1124,732.5h5M1126.5,730v5M1126,818.5h5M1128.5,816v5M1154,782.5h5M1156.5,780v5M1176,784.5h5M1178.5,782v5M1179,813.5h5M1181.5,811v5M1179,881.5h5M1181.5,879v5M1176,892.5h5M1178.5,890v5M1196,779.5h5M1198.5,777v5M1189,780.5h5M1191.5,778v5M1198,777.5h5M1200.5,775v5M1192,768.5h5M1194.5,766v5M1422,965.5h5M1424.5,963v5M1422,978.5h5M1424.5,976v5M1427,1017.5h5M1429.5,1015v5M1426,1017.5h5M1428.5,1015v5M1425,1000.5h5M1427.5,998v5M1426,994.5h5M1428.5,992v5M1433,1043.5h5M1435.5,1041v5M1442,930.5h5M1444.5,928v5M1443,953.5h5M1445.5,951v5M1449,960.5h5M1451.5,958v5M1446,979.5h5M1448.5,977v5M1443,934.5h5M1445.5,932v5M1441,1001.5h5M1443.5,999v5M1459,1005.5h5M1461.5,1003v5M1459,1097.5h5M1461.5,1095v5M1462,766.5h5M1464.5,764v5M1464,789.5h5M1466.5,787v5M1465,883.5h5M1467.5,881v5M1464,899.5h5M1466.5,897v5M1463,877.5h5M1465.5,875v5M1463,881.5h5M1465.5,879v5M1463,871.5h5M1465.5,869v5M1463,876.5h5M1465.5,874v5M1466,893.5h5M1468.5,891v5M1465,898.5h5M1467.5,896v5M1471,816.5h5M1473.5,814v5M1471,829.5h5M1473.5,827v5M1475,843.5h5M1477.5,841v5M1475,836.5h5M1477.5,834v5M1475,851.5h5M1477.5,849v5M1472,916.5h5M1474.5,914v5M1473,908.5h5M1475.5,906v5M1471,912.5h5M1473.5,910v5M1474,941.5h5M1476.5,939v5M1473,952.5h5M1475.5,950v5M1490,821.5h5M1492.5,819v5M1483,847.5h5M1485.5,845v5M1485,811.5h5M1487.5,809v5M1482,853.5h5M1484.5,851v5M1490,830.5h5M1492.5,828v5M1490,899.5h5M1492.5,897v5M1485,880.5h5M1487.5,878v5M1485,903.5h5M1487.5,901v5M1482,825.5h5M1484.5,823v5M1487,885.5h5M1489.5,883v5M1487,835.5h5M1489.5,833v5M1491,864.5h5M1493.5,862v5M1486,856.5h5M1488.5,854v5M1483,899.5h5M1485.5,897v5M1491,836.5h5M1493.5,834v5M1483,805.5h5M1485.5,803v5M1483,825.5h5M1485.5,823v5M1491,889.5h5M1493.5,887v5M1484,883.5h5M1486.5,881v5M1485,882.5h5M1487.5,880v5M1483,901.5h5M1485.5,899v5M1483,857.5h5M1485.5,855v5M1482,856.5h5M1484.5,854v5M1486,820.5h5M1488.5,818v5M1484,917.5h5M1486.5,915v5M1483,926.5h5M1485.5,924v5M1495,918.5h5M1497.5,916v5M1499,925.5h5M1501.5,923v5M1496,937.5h5M1498.5,935v5M1492,940.5h5M1494.5,938v5M1499,933.5h5M1501.5,931v5M1493,952.5h5M1495.5,950v5M1499,968.5h5M1501.5,966v5M1491,918.5h5M1493.5,916v5M1491,982.5h5M1493.5,980v5M1491,956.5h5M1493.5,954v5M1494,925.5h5M1496.5,923v5M1496,900.5h5M1498.5,898v5M1491,963.5h5M1493.5,961v5M1499,955.5h5M1501.5,953v5M1495,948.5h5M1497.5,946v5M1499,943.5h5M1501.5,941v5M1495,978.5h5M1497.5,976v5M1493,977.5h5M1495.5,975v5M1500,997.5h5M1502.5,995v5M1496,943.5h5M1498.5,941v5M1497,984.5h5M1499.5,982v5M1493,901.5h5M1495.5,899v5M1498,950.5h5M1500.5,948v5M1497,1031.5h5M1499.5,1029v5M1499,1082.5h5M1501.5,1080v5M1496,1039.5h5M1498.5,1037v5M1499,1077.5h5M1501.5,1075v5M1495,1062.5h5M1497.5,1060v5M1496,1035.5h5M1498.5,1033v5M1498,1090.5h5M1500.5,1088v5M1497,1062.5h5M1499.5,1060v5M1498,1012.5h5M1500.5,1010v5M1497,1056.5h5M1499.5,1054v5M1499,1014.5h5M1501.5,1012v5M1495,1004.5h5M1497.5,1002v5M1498,1007.5h5M1500.5,1005v5M1496,1082.5h5M1498.5,1080v5M1499,1063.5h5M1501.5,1061v5M1497,1002.5h5M1499.5,1000v5M1500,1015.5h5M1502.5,1013v5M682,912.5h5M684.5,910v5M682,1002.5h5M684.5,1000v5M686,1046.5h5M688.5,1044v5" stroke="#0f0" stroke-width="1" shape-rendering="crispEdges" fill="none"/><path d="M654,983.5h5M656.5,981v5M658,934.5h5M660.5,932v5M658,929.5h5M660.5,927v5M658,906.5h5M660.5,904v5M659,859.5h5M661.5,857v5M664,884.5h5M666.5,882v5M664,893.5h5M666.5,891v5M660,901.5h5M662.5,899v5M669,916.5h5M671.5,914v5M677,849.5h5M679.5,847v5M685,1083.5h5M687.5,1081v5M914,837.5h5M916.5,835v5M921,802.5h5M923.5,800v5M923,803.5h5M925.5,801v5M927,733.5h5M929.5,731v5M934,837.5h5M936.5,835v5M935,818.5h5M937.5,816v5M945,789.5h5M947.5,787v5M972,816.5h5M974.5,814v5M969,823.5h5M971.5,821v5M972,826.5h5M974.5,824v5M969,818.5h5M971.5,816v5M983,827.5h5M985.5,825v5M986,812.5h5M988.5,810v5M986,808.5h5M988.5,806v5M990,934.5h5M992.5,932v5M990,934.5h5M992.5,932v5M991,907.5h5M993.5,905v5M989,951.5h5M991.5,949v5M999,771.5h5M1001.5,769v5M1001,812.5h5M1003.5,810v5M999,783.5h5M1001.5,781v5M1006,775.5h5M1008.5,773v5M993,775.5h5M995.5,773v5M996,846.5h5M998.5,844v5M997,798.5h5M999.5,796v5M1006,777.5h5M1008.5,775v5M998,773.5h5M1000.5,771v5M992,782.5h5M994.5,780v5M1000,816.5h5M1002.5,814v5M1010,734.5h5M1012.5,732v5M1012,743.5h5M1014.5,741v5M1009,748.5h5M1011.5,746v5M1013,733.5h5M1015.5,731v5M1011,753.5h5M1013.5,751v5M1011,729.5h5M1013.5,727v5M1017,816.5h5M1019.5,814v5M1016,817.5h5M1018.5,815v5M1017,786.5h5M1019.5,784v5M1022,808.5h5M1024.5,806v5M1029,808.5h5M1031.5,806v5M1029,767.5h5M1031.5,765v5M1032,745.5h5M1034.5,743v5M1026,779.5h5M1028.5,777v5M1025,696.5h5M1027.5,694v5M1032,725.5h5M1034.5,723v5M1025,774.5h5M1027.5,772v5M1028,681.5h5M1030.5,679v5M1029,662.5h5M1031.5,660v5M1032,746.5h5M1034.5,744v5M1035,716.5h5M1037.5,714v5M1034,804.5h5M1036.5,802v5M1034,805.5h5M1036.5,803v5M1032,753.5h5M1034.5,751v5M1033,732.5h5M1035.5,730v5M1038,729.5h5M1040.5,727v5M1038,761.5h5M1040.5,759v5M1039,759.5h5M1041.5,757v5M1037,743.5h5M1039.5,741v5M1044,743.5h5M1046.5,741v5M1047,738.5h5M1049.5,736v5M1049,732.5h5M1051.5,730v5M1051,685.5h5M1053.5,683v5M1052,663.5h5M1054.5,661v5M1065,684.5h5M1067.5,682v5M1055,708.5h5M1057.5,706v5M1064,731.5h5M1066.5,729v5M1065,735.5h5M1067.5,733v5M1073,704.5h5M1075.5,702v5M1079,636.5h5M1081.5,634v5M1078,692.5h5M1080.5,690v5M1074,678.5h5M1076.5,676v5M1078,669.5h5M1080.5,667v5M1078,647.5h5M1080.5,645v5M1077,656.5h5M1079.5,654v5M1076,664.5h5M1078.5,662v5M1080,666.5h5M1082.5,664v5M1079,665.5h5M1081.5,663v5M1073,671.5h5M1075.5,669v5M1075,633.5h5M1077.5,631v5M1090,665.5h5M1092.5,663v5M1093,814.5h5M1095.5,812v5M1093,853.5h5M1095.5,851v5M1094,818.5h5M1096.5,816v5M1104,853.5h5M1106.5,851v5M1103,843.5h5M1105.5,841v5M1104,887.5h5M1106.5,885v5M1102,858.5h5M1104.5,856v5M1103,858.5h5M1105.5,856v5M1102,863.5h5M1104.5,861v5M1148,892.5h5M1150.5,890v5M1123,735.5h5M1125.5,733v5M1124,728.5h5M1126.5,726v5M1127,725.5h5M1129.5,723v5M1155,803.5h5M1157.5,801v5M1167,827.5h5M1169.5,825v5M1165,812.5h5M1167.5,810v5M1179,876.5h5M1181.5,874v5M1421,974.5h5M1423.5,972v5M1439,1041.5h5M1441.5,1039v5M1452,935.5h5M1454.5,933v5M1453,960.5h5M1455.5,958v5M1453,935.5h5M1455.5,933v5M1454,927.5h5M1456.5,925v5M1463,827.5h5M1465.5,825v5M1464,880.5h5M1466.5,878v5M1464,872.5h5M1466.5,870v5M1465,871.5h5M1467.5,869v5M1473,856.5h5M1475.5,854v5M1474,860.5h5M1476.5,858v5M1471,850.5h5M1473.5,848v5M1474,939.5h5M1476.5,937v5M1482,847.5h5M1484.5,845v5M1488,833.5h5M1490.5,831v5M1485,893.5h5M1487.5,891v5M1490,902.5h5M1492.5,900v5M1488,873.5h5M1490.5,871v5M1481,905.5h5M1483.5,903v5M1481,810.5h5M1483.5,808v5M1483,858.5h5M1485.5,856v5M1479,834.5h5M1481.5,832v5M1490,891.5h5M1492.5,889v5M1480,823.5h5M1482.5,821v5M1485,838.5h5M1487.5,836v5M1484,866.5h5M1486.5,864v5M1489,819.5h5M1491.5,817v5M1498,933.5h5M1500.5,931v5M1496,998.5h5M1498.5,996v5M1491,962.5h5M1493.5,960v5M1495,909.5h5M1497.5,907v5M1495,971.5h5M1497.5,969v5M1496,986.5h5M1498.5,984v5M1500,962.5h5M1502.5,960v5M1494,924.5h5M1496.5,922v5M1494,928.5h5M1496.5,926v5M1491,923.5h5M1493.5,921v5M1495,1003.5h5M1497.5,1001v5M1499,1055.5h5M1501.5,1053v5M1496,1034.5h5M1498.5,1032v5M1498,1028.5h5M1500.5,1026v5M1496,1051.5h5M1498.5,1049v5M686,1019.5h5M688.5,1017v5M911,886.5h5M913.5,884v5M1174,857.5h5M1176.5,855v5" stroke="#ffa500" stroke-width="1" shape-rendering="crispEdges" fill="none"/><path d="M914,891.5h5M916.5,889v5M913,869.5h5M915.5,867v5M921,814.5h5M923.5,812v5M926,739.5h5M928.5,737v5M936,815.5h5M938.5,813v5M966,817.5h5M968.5,815v5M967,839.5h5M969.5,837v5M972,808.5h5M974.5,806v5M965,804.5h5M967.5,802v5M972,804.5h5M974.5,802v5M971,780.5h5M973.5,778v5M983,808.5h5M985.5,806v5M986,767.5h5M988.5,765v5M986,849.5h5M988.5,847v5M992,897.5h5M994.5,895v5M990,929.5h5M992.5,927v5M991,948.5h5M993.5,946v5M989,922.5h5M991.5,920v5M989,930.5h5M991.5,928v5M992,751.5h5M994.5,749v5M992,764.5h5M994.5,762v5M997,778.5h5M999.5,776v5M992,817.5h5M994.5,815v5M997,805.5h5M999.5,803v5M1005,774.5h5M1007.5,772v5M991,812.5h5M993.5,810v5M1002,842.5h5M1004.5,840v5M1011,744.5h5M1013.5,742v5M1014,747.5h5M1016.5,745v5M1015,766.5h5M1017.5,764v5M1019,811.5h5M1021.5,809v5M1020,794.5h5M1022.5,792v5M1028,738.5h5M1030.5,736v5M1026,780.5h5M1028.5,778v5M1027,783.5h5M1029.5,781v5M1029,780.5h5M1031.5,778v5M1023,739.5h5M1025.5,737v5M1025,696.5h5M1027.5,694v5M1030,703.5h5M1032.5,701v5M1028,770.5h5M1030.5,768v5M1030,692.5h5M1032.5,690v5M1028,693.5h5M1030.5,691v5M1029,649.5h5M1031.5,647v5M1036,809.5h5M1038.5,807v5M1035,730.5h5M1037.5,728v5M1032,808.5h5M1034.5,806v5M1038,759.5h5M1040.5,757v5M1037,758.5h5M1039.5,756v5M1040,741.5h5M1042.5,739v5M1040,733.5h5M1042.5,731v5M1051,660.5h5M1053.5,658v5M1052,650.5h5M1054.5,648v5M1052,654.5h5M1054.5,652v5M1051,685.5h5M1053.5,683v5M1052,654.5h5M1054.5,652v5M1061,723.5h5M1063.5,721v5M1056,701.5h5M1058.5,699v5M1065,710.5h5M1067.5,708v5M1057,683.5h5M1059.5,681v5M1059,686.5h5M1061.5,684v5M1068,723.5h5M1070.5,721v5M1064,710.5h5M1066.5,708v5M1064,737.5h5M1066.5,735v5M1070,676.5h5M1072.5,674v5M1080,634.5h5M1082.5,632v5M1074,617.5h5M1076.5,615v5M1077,608.5h5M1079.5,606v5M1074,655.5h5M1076.5,653v5M1074,619.5h5M1076.5,617v5M1075,686.5h5M1077.5,684v5M1073,690.5h5M1075.5,688v5M1079,698.5h5M1081.5,696v5M1083,661.5h5M1085.5,659v5M1084,685.5h5M1086.5,683v5M1091,667.5h5M1093.5,665v5M1089,641.5h5M1091.5,639v5M1090,643.5h5M1092.5,641v5M1094,848.5h5M1096.5,846v5M1102,879.5h5M1104.5,877v5M1102,852.5h5M1104.5,850v5M1104,857.5h5M1106.5,855v5M1103,850.5h5M1105.5,848v5M1148,890.5h5M1150.5,888v5M1124,803.5h5M1126.5,801v5M1125,807.5h5M1127.5,805v5M1124,804.5h5M1126.5,802v5M1125,805.5h5M1127.5,803v5M1134,672.5h5M1136.5,670v5M1152,760.5h5M1154.5,758v5M1179,887.5h5M1181.5,885v5M1176,881.5h5M1178.5,879v5M1226,641.5h5M1228.5,639v5M1227,712.5h5M1229.5,710v5" stroke="#f00" stroke-width="1" shape-rendering="crispEdges" fill="none"/><path d="M912,841.5h5M914.5,839v5M914,833.5h5M916.5,831v5M923,814.5h5M925.5,812v5M922,817.5h5M924.5,815v5M923,794.5h5M925.5,792v5M922,815.5h5M924.5,813v5M927,736.5h5M929.5,734v5M927,743.5h5M929.5,741v5M927,756.5h5M929.5,754v5M929,728.5h5M931.5,726v5M934,815.5h5M936.5,813v5M937,828.5h5M939.5,826v5M937,806.5h5M939.5,804v5M936,806.5h5M938.5,804v5M932,807.5h5M934.5,805v5M938,810.5h5M940.5,808v5M941,817.5h5M943.5,815v5M955,753.5h5M957.5,751v5M952,786.5h5M954.5,784v5M948,782.5h5M950.5,780v5M951,750.5h5M953.5,748v5M952,768.5h5M954.5,766v5M955,789.5h5M957.5,787v5M964,814.5h5M966.5,812v5M969,810.5h5M971.5,808v5M969,833.5h5M971.5,831v5M970,813.5h5M972.5,811v5M968,821.5h5M970.5,819v5M967,804.5h5M969.5,802v5M972,815.5h5M974.5,813v5M966,840.5h5M968.5,838v5M972,802.5h5M974.5,800v5M984,805.5h5M986.5,803v5M980,806.5h5M982.5,804v5M976,814.5h5M978.5,812v5M978,839.5h5M980.5,837v5M979,826.5h5M981.5,824v5M979,812.5h5M981.5,810v5M979,824.5h5M981.5,822v5M979,820.5h5M981.5,818v5M984,819.5h5M986.5,817v5M978,837.5h5M980.5,835v5M978,814.5h5M980.5,812v5M980,828.5h5M982.5,826v5M978,808.5h5M980.5,806v5M986,828.5h5M988.5,826v5M986,759.5h5M988.5,757v5M986,822.5h5M988.5,820v5M988,899.5h5M990.5,897v5M991,949.5h5M993.5,947v5M989,937.5h5M991.5,935v5M990,943.5h5M992.5,941v5M991,913.5h5M993.5,911v5M989,932.5h5M991.5,930v5M991,911.5h5M993.5,909v5M991,915.5h5M993.5,913v5M992,769.5h5M994.5,767v5M992,764.5h5M994.5,762v5M1001,809.5h5M1003.5,807v5M995,779.5h5M997.5,777v5M994,810.5h5M996.5,808v5M1007,803.5h5M1009.5,801v5M1008,831.5h5M1010.5,829v5M994,811.5h5M996.5,809v5M998,825.5h5M1000.5,823v5M1002,816.5h5M1004.5,814v5M1003,772.5h5M1005.5,770v5M994,821.5h5M996.5,819v5M1000,796.5h5M1002.5,794v5M995,837.5h5M997.5,835v5M1004,816.5h5M1006.5,814v5M1004,828.5h5M1006.5,826v5M994,809.5h5M996.5,807v5M994,842.5h5M996.5,840v5M1000,773.5h5M1002.5,771v5M1005,806.5h5M1007.5,804v5M998,793.5h5M1000.5,791v5M1008,805.5h5M1010.5,803v5M1002,798.5h5M1004.5,796v5M998,780.5h5M1000.5,778v5M1002,791.5h5M1004.5,789v5M1001,802.5h5M1003.5,800v5M1007,774.5h5M1009.5,772v5M998,827.5h5M1000.5,825v5M993,799.5h5M995.5,797v5M991,810.5h5M993.5,808v5M996,840.5h5M998.5,838v5M1009,740.5h5M1011.5,738v5M1013,760.5h5M1015.5,758v5M1009,730.5h5M1011.5,728v5M1009,741.5h5M1011.5,739v5M1015,744.5h5M1017.5,742v5M1015,735.5h5M1017.5,733v5M1011,764.5h5M1013.5,762v5M1008,729.5h5M1010.5,727v5M1009,755.5h5M1011.5,753v5M1012,759.5h5M1014.5,757v5M1013,753.5h5M1015.5,751v5M1010,740.5h5M1012.5,738v5M1020,783.5h5M1022.5,781v5M1020,818.5h5M1022.5,816v5M1017,779.5h5M1019.5,777v5M1018,773.5h5M1020.5,771v5M1018,792.5h5M1020.5,790v5M1017,828.5h5M1019.5,826v5M1018,800.5h5M1020.5,798v5M1018,805.5h5M1020.5,803v5M1026,744.5h5M1028.5,742v5M1026,795.5h5M1028.5,793v5M1028,744.5h5M1030.5,742v5M1032,712.5h5M1034.5,710v5M1032,711.5h5M1034.5,709v5M1023,780.5h5M1025.5,778v5M1026,764.5h5M1028.5,762v5M1032,783.5h5M1034.5,781v5M1031,779.5h5M1033.5,777v5M1030,772.5h5M1032.5,770v5M1032,705.5h5M1034.5,703v5M1028,796.5h5M1030.5,794v5M1026,731.5h5M1028.5,729v5M1030,783.5h5M1032.5,781v5M1029,745.5h5M1031.5,743v5M1022,731.5h5M1024.5,729v5M1032,719.5h5M1034.5,717v5M1028,731.5h5M1030.5,729v5M1023,774.5h5M1025.5,772v5M1024,749.5h5M1026.5,747v5M1032,770.5h5M1034.5,768v5M1029,763.5h5M1031.5,761v5M1029,662.5h5M1031.5,660v5M1029,689.5h5M1031.5,687v5M1029,684.5h5M1031.5,682v5M1030,653.5h5M1032.5,651v5M1029,689.5h5M1031.5,687v5M1029,682.5h5M1031.5,680v5M1030,691.5h5M1032.5,689v5M1036,737.5h5M1038.5,735v5M1037,769.5h5M1039.5,767v5M1032,771.5h5M1034.5,769v5M1033,757.5h5M1035.5,755v5M1033,717.5h5M1035.5,715v5M1037,738.5h5M1039.5,736v5M1032,737.5h5M1034.5,735v5M1036,752.5h5M1038.5,750v5M1036,749.5h5M1038.5,747v5M1037,731.5h5M1039.5,729v5M1033,773.5h5M1035.5,771v5M1032,732.5h5M1034.5,730v5M1036,738.5h5M1038.5,736v5M1033,708.5h5M1035.5,706v5M1038,736.5h5M1040.5,734v5M1038,745.5h5M1040.5,743v5M1036,746.5h5M1038.5,744v5M1041,735.5h5M1043.5,733v5M1039,754.5h5M1041.5,752v5M1043,759.5h5M1045.5,757v5M1047,723.5h5M1049.5,721v5M1049,696.5h5M1051.5,694v5M1049,724.5h5M1051.5,722v5M1051,729.5h5M1053.5,727v5M1048,708.5h5M1050.5,706v5M1048,706.5h5M1050.5,704v5M1049,691.5h5M1051.5,689v5M1051,671.5h5M1053.5,669v5M1051,658.5h5M1053.5,656v5M1051,645.5h5M1053.5,643v5M1051,646.5h5M1053.5,644v5M1051,636.5h5M1053.5,634v5M1051,647.5h5M1053.5,645v5M1052,661.5h5M1054.5,659v5M1051,656.5h5M1053.5,654v5M1056,685.5h5M1058.5,683v5M1060,695.5h5M1062.5,693v5M1057,707.5h5M1059.5,705v5M1056,682.5h5M1058.5,680v5M1065,687.5h5M1067.5,685v5M1059,716.5h5M1061.5,714v5M1060,687.5h5M1062.5,685v5M1062,713.5h5M1064.5,711v5M1066,704.5h5M1068.5,702v5M1068,740.5h5M1070.5,738v5M1067,706.5h5M1069.5,704v5M1070,687.5h5M1072.5,685v5M1070,665.5h5M1072.5,663v5M1071,693.5h5M1073.5,691v5M1070,700.5h5M1072.5,698v5M1070,701.5h5M1072.5,699v5M1071,673.5h5M1073.5,671v5M1072,664.5h5M1074.5,662v5M1072,686.5h5M1074.5,684v5M1077,628.5h5M1079.5,626v5M1078,651.5h5M1080.5,649v5M1078,675.5h5M1080.5,673v5M1077,601.5h5M1079.5,599v5M1076,674.5h5M1078.5,672v5M1077,631.5h5M1079.5,629v5M1077,640.5h5M1079.5,638v5M1075,620.5h5M1077.5,618v5M1076,627.5h5M1078.5,625v5M1077,630.5h5M1079.5,628v5M1075,672.5h5M1077.5,670v5M1078,622.5h5M1080.5,620v5M1074,687.5h5M1076.5,685v5M1075,670.5h5M1077.5,668v5M1082,666.5h5M1084.5,664v5M1084,682.5h5M1086.5,680v5M1082,672.5h5M1084.5,670v5M1082,694.5h5M1084.5,692v5M1081,669.5h5M1083.5,667v5M1082,662.5h5M1084.5,660v5M1083,672.5h5M1085.5,670v5M1088,631.5h5M1090.5,629v5M1088,638.5h5M1090.5,636v5M1089,675.5h5M1091.5,673v5M1089,692.5h5M1091.5,690v5M1092,626.5h5M1094.5,624v5M1091,651.5h5M1093.5,649v5M1090,668.5h5M1092.5,666v5M1091,655.5h5M1093.5,653v5M1090,632.5h5M1092.5,630v5M1088,625.5h5M1090.5,623v5M1089,666.5h5M1091.5,664v5M1088,613.5h5M1090.5,611v5M1091,687.5h5M1093.5,685v5M1088,693.5h5M1090.5,691v5M1089,696.5h5M1091.5,694v5M1092,736.5h5M1094.5,734v5M1091,735.5h5M1093.5,733v5M1091,738.5h5M1093.5,736v5M1091,755.5h5M1093.5,753v5M1091,706.5h5M1093.5,704v5M1094,848.5h5M1096.5,846v5M1092,793.5h5M1094.5,791v5M1094,844.5h5M1096.5,842v5M1095,828.5h5M1097.5,826v5M1097,792.5h5M1099.5,790v5M1097,801.5h5M1099.5,799v5M1097,847.5h5M1099.5,845v5M1094,823.5h5M1096.5,821v5M1097,841.5h5M1099.5,839v5M1097,831.5h5M1099.5,829v5M1097,822.5h5M1099.5,820v5M1097,789.5h5M1099.5,787v5M1102,870.5h5M1104.5,868v5M1104,861.5h5M1106.5,859v5M1104,856.5h5M1106.5,854v5M1103,840.5h5M1105.5,838v5M1104,848.5h5M1106.5,846v5M1103,842.5h5M1105.5,840v5M1104,869.5h5M1106.5,867v5M1114,862.5h5M1116.5,860v5M1110,852.5h5M1112.5,850v5M1148,893.5h5M1150.5,891v5M1148,904.5h5M1150.5,902v5M1124,712.5h5M1126.5,710v5M1127,705.5h5M1129.5,703v5M1126,716.5h5M1128.5,714v5M1126,724.5h5M1128.5,722v5M1125,780.5h5M1127.5,778v5M1126,819.5h5M1128.5,817v5M1123,810.5h5M1125.5,808v5M1166,838.5h5M1168.5,836v5M1166,816.5h5M1168.5,814v5M1167,806.5h5M1169.5,804v5M1179,794.5h5M1181.5,792v5M1179,832.5h5M1181.5,830v5M1178,826.5h5M1180.5,824v5M1178,826.5h5M1180.5,824v5M1177,823.5h5M1179.5,821v5M1181,797.5h5M1183.5,795v5M1178,880.5h5M1180.5,878v5M1176,877.5h5M1178.5,875v5M1178,882.5h5M1180.5,880v5M1182,883.5h5M1184.5,881v5M1181,894.5h5M1183.5,892v5M1194,769.5h5M1196.5,767v5M1190,774.5h5M1192.5,772v5M1228,711.5h5M1230.5,709v5M1230,712.5h5M1232.5,710v5M1311,827.5h5M1313.5,825v5M1428,996.5h5M1430.5,994v5M1426,1008.5h5M1428.5,1006v5M1426,1004.5h5M1428.5,1002v5M1427,1009.5h5M1429.5,1007v5M1438,1038.5h5M1440.5,1036v5M1457,1096.5h5M1459.5,1094v5M1456,1094.5h5M1458.5,1092v5M1459,1090.5h5M1461.5,1088v5M1459,1102.5h5M1461.5,1100v5M690,940.5h5M692.5,938v5M1173,826.5h5M1175.5,824v5M1310,814.5h5M1312.5,812v5M1314,841.5h5M1316.5,839v5" stroke="#000" stroke-width="1" shape-rendering="crispEdges" fill="none"/><path d="M927,755.5h5M929.5,753v5M932,813.5h5M934.5,811v5M941,841.5h5M943.5,839v5M934,806.5h5M936.5,804v5M938,832.5h5M940.5,830v5M945,785.5h5M947.5,783v5M953,763.5h5M955.5,761v5M952,773.5h5M954.5,771v5M951,758.5h5M953.5,756v5M966,797.5h5M968.5,795v5M961,805.5h5M963.5,803v5M964,812.5h5M966.5,810v5M968,826.5h5M970.5,824v5M971,806.5h5M973.5,804v5M970,779.5h5M972.5,777v5M977,833.5h5M979.5,831v5M979,838.5h5M981.5,836v5M986,765.5h5M988.5,763v5M986,840.5h5M988.5,838v5M987,866.5h5M989.5,864v5M988,898.5h5M990.5,896v5M991,911.5h5M993.5,909v5M990,904.5h5M992.5,902v5M991,945.5h5M993.5,943v5M992,751.5h5M994.5,749v5M992,769.5h5M994.5,767v5M992,785.5h5M994.5,783v5M992,757.5h5M994.5,755v5M998,813.5h5M1000.5,811v5M998,806.5h5M1000.5,804v5M997,812.5h5M999.5,810v5M992,843.5h5M994.5,841v5M992,842.5h5M994.5,840v5M994,793.5h5M996.5,791v5M993,786.5h5M995.5,784v5M1003,821.5h5M1005.5,819v5M992,826.5h5M994.5,824v5M1008,739.5h5M1010.5,737v5M1008,736.5h5M1010.5,734v5M1012,756.5h5M1014.5,754v5M1011,738.5h5M1013.5,736v5M1020,827.5h5M1022.5,825v5M1020,769.5h5M1022.5,767v5M1018,775.5h5M1020.5,773v5M1029,772.5h5M1031.5,770v5M1032,734.5h5M1034.5,732v5M1027,712.5h5M1029.5,710v5M1023,771.5h5M1025.5,769v5M1030,775.5h5M1032.5,773v5M1031,729.5h5M1033.5,727v5M1026,700.5h5M1028.5,698v5M1026,772.5h5M1028.5,770v5M1029,734.5h5M1031.5,732v5M1030,657.5h5M1032.5,655v5M1030,663.5h5M1032.5,661v5M1030,679.5h5M1032.5,677v5M1036,749.5h5M1038.5,747v5M1034,797.5h5M1036.5,795v5M1037,750.5h5M1039.5,748v5M1037,707.5h5M1039.5,705v5M1039,716.5h5M1041.5,714v5M1040,738.5h5M1042.5,736v5M1038,751.5h5M1040.5,749v5M1042,758.5h5M1044.5,756v5M1051,669.5h5M1053.5,667v5M1052,656.5h5M1054.5,654v5M1057,703.5h5M1059.5,701v5M1064,707.5h5M1066.5,705v5M1066,718.5h5M1068.5,716v5M1068,711.5h5M1070.5,709v5M1072,693.5h5M1074.5,691v5M1076,683.5h5M1078.5,681v5M1080,683.5h5M1082.5,681v5M1077,667.5h5M1079.5,665v5M1073,691.5h5M1075.5,689v5M1083,682.5h5M1085.5,680v5M1089,660.5h5M1091.5,658v5M1087,640.5h5M1089.5,638v5M1089,663.5h5M1091.5,661v5M1088,640.5h5M1090.5,638v5M1091,754.5h5M1093.5,752v5M1093,842.5h5M1095.5,840v5M1097,810.5h5M1099.5,808v5M1104,879.5h5M1106.5,877v5M1167,823.5h5M1169.5,821v5M1205,706.5h5M1207.5,704v5M1207,722.5h5M1209.5,720v5" stroke="#00f" stroke-width="1" shape-rendering="crispEdges" fill="none"/><path d="M654,969.5h5M656.5,967v5M655,993.5h5M657.5,991v5M654,951.5h5M656.5,949v5M653,941.5h5M655.5,939v5M655,930.5h5M657.5,928v5M654,953.5h5M656.5,951v5M653,960.5h5M655.5,958v5M656,965.5h5M658.5,963v5M655,974.5h5M657.5,972v5M658,926.5h5M660.5,924v5M659,952.5h5M661.5,950v5M659,858.5h5M661.5,856v5M658,890.5h5M660.5,888v5M659,872.5h5M661.5,870v5M658,946.5h5M660.5,944v5M659,898.5h5M661.5,896v5M658,895.5h5M660.5,893v5M658,869.5h5M660.5,867v5M658,927.5h5M660.5,925v5M659,873.5h5M661.5,871v5M658,916.5h5M660.5,914v5M658,936.5h5M660.5,934v5M658,906.5h5M660.5,904v5M660,910.5h5M662.5,908v5M663,881.5h5M665.5,879v5M662,874.5h5M664.5,872v5M663,893.5h5M665.5,891v5M660,911.5h5M662.5,909v5M669,886.5h5M671.5,884v5M670,913.5h5M672.5,911v5M670,894.5h5M672.5,892v5M670,905.5h5M672.5,903v5M676,879.5h5M678.5,877v5M678,863.5h5M680.5,861v5M676,860.5h5M678.5,858v5M676,860.5h5M678.5,858v5M676,876.5h5M678.5,874v5M690,910.5h5M692.5,908v5M690,907.5h5M692.5,905v5M684,1073.5h5M686.5,1071v5M704,943.5h5M706.5,941v5M709,925.5h5M711.5,923v5M719,902.5h5M721.5,900v5M911,871.5h5M913.5,869v5M921,808.5h5M923.5,806v5M921,813.5h5M923.5,811v5M928,732.5h5M930.5,730v5M927,758.5h5M929.5,756v5M938,820.5h5M940.5,818v5M953,747.5h5M955.5,745v5M953,769.5h5M955.5,767v5M953,745.5h5M955.5,743v5M966,800.5h5M968.5,798v5M963,806.5h5M965.5,804v5M968,805.5h5M970.5,803v5M967,833.5h5M969.5,831v5M965,801.5h5M967.5,799v5M972,794.5h5M974.5,792v5M984,809.5h5M986.5,807v5M984,828.5h5M986.5,826v5M979,809.5h5M981.5,807v5M980,810.5h5M982.5,808v5M983,830.5h5M985.5,828v5M991,900.5h5M993.5,898v5M990,957.5h5M992.5,955v5M992,894.5h5M994.5,892v5M988,912.5h5M990.5,910v5M999,836.5h5M1001.5,834v5M1008,824.5h5M1010.5,822v5M996,811.5h5M998.5,809v5M992,810.5h5M994.5,808v5M995,847.5h5M997.5,845v5M994,777.5h5M996.5,775v5M999,788.5h5M1001.5,786v5M999,834.5h5M1001.5,832v5M998,817.5h5M1000.5,815v5M1003,810.5h5M1005.5,808v5M991,782.5h5M993.5,780v5M991,793.5h5M993.5,791v5M1009,741.5h5M1011.5,739v5M1009,748.5h5M1011.5,746v5M1009,732.5h5M1011.5,730v5M1008,727.5h5M1010.5,725v5M1011,742.5h5M1013.5,740v5M1014,742.5h5M1016.5,740v5M1016,779.5h5M1018.5,777v5M1016,823.5h5M1018.5,821v5M1019,777.5h5M1021.5,775v5M1029,791.5h5M1031.5,789v5M1023,803.5h5M1025.5,801v5M1023,719.5h5M1025.5,717v5M1023,730.5h5M1025.5,728v5M1031,749.5h5M1033.5,747v5M1027,772.5h5M1029.5,770v5M1027,741.5h5M1029.5,739v5M1032,719.5h5M1034.5,717v5M1030,684.5h5M1032.5,682v5M1029,656.5h5M1031.5,654v5M1029,696.5h5M1031.5,694v5M1029,653.5h5M1031.5,651v5M1030,653.5h5M1032.5,651v5M1033,756.5h5M1035.5,754v5M1035,783.5h5M1037.5,781v5M1035,783.5h5M1037.5,781v5M1037,780.5h5M1039.5,778v5M1033,806.5h5M1035.5,804v5M1039,759.5h5M1041.5,757v5M1043,748.5h5M1045.5,746v5M1049,716.5h5M1051.5,714v5M1050,704.5h5M1052.5,702v5M1046,697.5h5M1048.5,695v5M1046,735.5h5M1048.5,733v5M1048,697.5h5M1050.5,695v5M1065,723.5h5M1067.5,721v5M1060,713.5h5M1062.5,711v5M1059,723.5h5M1061.5,721v5M1061,684.5h5M1063.5,682v5M1058,688.5h5M1060.5,686v5M1062,696.5h5M1064.5,694v5M1057,692.5h5M1059.5,690v5M1056,705.5h5M1058.5,703v5M1059,693.5h5M1061.5,691v5M1057,712.5h5M1059.5,710v5M1063,705.5h5M1065.5,703v5M1055,704.5h5M1057.5,702v5M1060,720.5h5M1062.5,718v5M1067,720.5h5M1069.5,718v5M1070,696.5h5M1072.5,694v5M1070,700.5h5M1072.5,698v5M1079,674.5h5M1081.5,672v5M1077,595.5h5M1079.5,593v5M1074,666.5h5M1076.5,664v5M1074,589.5h5M1076.5,587v5M1077,675.5h5M1079.5,673v5M1076,660.5h5M1078.5,658v5M1079,651.5h5M1081.5,649v5M1079,600.5h5M1081.5,598v5M1076,664.5h5M1078.5,662v5M1073,655.5h5M1075.5,653v5M1076,640.5h5M1078.5,638v5M1079,683.5h5M1081.5,681v5M1079,658.5h5M1081.5,656v5M1075,669.5h5M1077.5,667v5M1082,667.5h5M1084.5,665v5M1091,617.5h5M1093.5,615v5M1089,653.5h5M1091.5,651v5M1090,650.5h5M1092.5,648v5M1089,666.5h5M1091.5,664v5M1088,654.5h5M1090.5,652v5M1087,617.5h5M1089.5,615v5M1089,626.5h5M1091.5,624v5M1091,791.5h5M1093.5,789v5M1095,847.5h5M1097.5,845v5M1092,846.5h5M1094.5,844v5M1093,854.5h5M1095.5,852v5M1095,856.5h5M1097.5,854v5M1097,815.5h5M1099.5,813v5M1103,864.5h5M1105.5,862v5M1103,864.5h5M1105.5,862v5M1113,857.5h5M1115.5,855v5M1110,859.5h5M1112.5,857v5M1113,856.5h5M1115.5,854v5M1114,864.5h5M1116.5,862v5M1114,872.5h5M1116.5,870v5M1112,853.5h5M1114.5,851v5M1127,719.5h5M1129.5,717v5M1127,720.5h5M1129.5,718v5M1126,705.5h5M1128.5,703v5M1125,717.5h5M1127.5,715v5M1125,717.5h5M1127.5,715v5M1124,809.5h5M1126.5,807v5M1126,818.5h5M1128.5,816v5M1164,819.5h5M1166.5,817v5M1165,813.5h5M1167.5,811v5M1176,825.5h5M1178.5,823v5M1179,825.5h5M1181.5,823v5M1176,824.5h5M1178.5,822v5M1177,789.5h5M1179.5,787v5M1176,783.5h5M1178.5,781v5M1179,881.5h5M1181.5,879v5M1191,772.5h5M1193.5,770v5M1189,768.5h5M1191.5,766v5M1195,780.5h5M1197.5,778v5M1196,769.5h5M1198.5,767v5M1197,775.5h5M1199.5,773v5M1197,774.5h5M1199.5,772v5M1190,782.5h5M1192.5,780v5M1192,780.5h5M1194.5,778v5M1228,709.5h5M1230.5,707v5M1227,717.5h5M1229.5,715v5M1421,983.5h5M1423.5,981v5M1427,1017.5h5M1429.5,1015v5M1438,1037.5h5M1440.5,1035v5M1433,1051.5h5M1435.5,1049v5M1443,971.5h5M1445.5,969v5M1449,963.5h5M1451.5,961v5M1445,966.5h5M1447.5,964v5M1447,957.5h5M1449.5,955v5M1444,932.5h5M1446.5,930v5M1454,1003.5h5M1456.5,1001v5M1460,1002.5h5M1462.5,1000v5M1453,961.5h5M1455.5,959v5M1452,908.5h5M1454.5,906v5M1456,1082.5h5M1458.5,1080v5M1459,1086.5h5M1461.5,1084v5M1463,780.5h5M1465.5,778v5M1464,782.5h5M1466.5,780v5M1465,760.5h5M1467.5,758v5M1463,762.5h5M1465.5,760v5M1463,869.5h5M1465.5,867v5M1464,899.5h5M1466.5,897v5M1462,896.5h5M1464.5,894v5M1465,891.5h5M1467.5,889v5M1463,897.5h5M1465.5,895v5M1471,817.5h5M1473.5,815v5M1472,828.5h5M1474.5,826v5M1471,843.5h5M1473.5,841v5M1475,821.5h5M1477.5,819v5M1475,821.5h5M1477.5,819v5M1470,898.5h5M1472.5,896v5M1470,901.5h5M1472.5,899v5M1473,954.5h5M1475.5,952v5M1486,810.5h5M1488.5,808v5M1481,854.5h5M1483.5,852v5M1480,849.5h5M1482.5,847v5M1487,877.5h5M1489.5,875v5M1484,819.5h5M1486.5,817v5M1483,855.5h5M1485.5,853v5M1490,902.5h5M1492.5,900v5M1486,895.5h5M1488.5,893v5M1489,816.5h5M1491.5,814v5M1489,842.5h5M1491.5,840v5M1488,827.5h5M1490.5,825v5M1481,847.5h5M1483.5,845v5M1485,823.5h5M1487.5,821v5M1488,841.5h5M1490.5,839v5M1482,903.5h5M1484.5,901v5M1481,874.5h5M1483.5,872v5M1484,863.5h5M1486.5,861v5M1491,894.5h5M1493.5,892v5M1481,903.5h5M1483.5,901v5M1486,814.5h5M1488.5,812v5M1480,899.5h5M1482.5,897v5M1483,843.5h5M1485.5,841v5M1486,838.5h5M1488.5,836v5M1490,891.5h5M1492.5,889v5M1500,940.5h5M1502.5,938v5M1495,946.5h5M1497.5,944v5M1497,949.5h5M1499.5,947v5M1499,905.5h5M1501.5,903v5M1494,994.5h5M1496.5,992v5M1493,989.5h5M1495.5,987v5M1491,914.5h5M1493.5,912v5M1495,994.5h5M1497.5,992v5M1496,945.5h5M1498.5,943v5M1494,955.5h5M1496.5,953v5M1496,936.5h5M1498.5,934v5M1491,987.5h5M1493.5,985v5M1492,994.5h5M1494.5,992v5M1494,922.5h5M1496.5,920v5M1494,938.5h5M1496.5,936v5M1491,997.5h5M1493.5,995v5M1493,973.5h5M1495.5,971v5M1497,930.5h5M1499.5,928v5M1494,914.5h5M1496.5,912v5M1495,917.5h5M1497.5,915v5M1491,953.5h5M1493.5,951v5M1495,915.5h5M1497.5,913v5M1497,961.5h5M1499.5,959v5M1492,956.5h5M1494.5,954v5M1498,1009.5h5M1500.5,1007v5M1496,1048.5h5M1498.5,1046v5M1499,1078.5h5M1501.5,1076v5M1499,1084.5h5M1501.5,1082v5M1499,1075.5h5M1501.5,1073v5M1498,1027.5h5M1500.5,1025v5M1496,1032.5h5M1498.5,1030v5M1497,1070.5h5M1499.5,1068v5M1499,1089.5h5M1501.5,1087v5M1496,1002.5h5M1498.5,1000v5M1500,1029.5h5M1502.5,1027v5M1495,1004.5h5M1497.5,1002v5M688,966.5h5M690.5,964v5M686,1041.5h5M688.5,1039v5M699,976.5h5M701.5,974v5M740,950.5h5M742.5,948v5M1419,904.5h5M1421.5,902v5" stroke="#0f0" stroke-width="1" shape-rendering="crispEdges" fill="none"/><path d="M659,878.5h5M661.5,876v5M661,891.5h5M663.5,889v5M661,903.5h5M663.5,901v5M668,899.5h5M670.5,897v5M671,886.5h5M673.5,884v5M669,903.5h5M671.5,901v5M677,872.5h5M679.5,870v5M676,884.5h5M678.5,882v5M701,973.5h5M703.5,971v5M928,731.5h5M930.5,729v5M928,746.5h5M930.5,744v5M931,808.5h5M933.5,806v5M938,808.5h5M940.5,806v5M936,832.5h5M938.5,830v5M952,764.5h5M954.5,762v5M952,768.5h5M954.5,766v5M966,830.5h5M968.5,828v5M971,795.5h5M973.5,793v5M979,806.5h5M981.5,804v5M986,828.5h5M988.5,826v5M989,953.5h5M991.5,951v5M989,922.5h5M991.5,920v5M992,769.5h5M994.5,767v5M992,793.5h5M994.5,791v5M992,774.5h5M994.5,772v5M1008,816.5h5M1010.5,814v5M1003,788.5h5M1005.5,786v5M1007,838.5h5M1009.5,836v5M997,808.5h5M999.5,806v5M999,780.5h5M1001.5,778v5M1004,841.5h5M1006.5,839v5M1004,798.5h5M1006.5,796v5M995,793.5h5M997.5,791v5M1005,810.5h5M1007.5,808v5M1012,764.5h5M1014.5,762v5M1008,745.5h5M1010.5,743v5M1015,724.5h5M1017.5,722v5M1018,800.5h5M1020.5,798v5M1019,790.5h5M1021.5,788v5M1018,824.5h5M1020.5,822v5M1027,730.5h5M1029.5,728v5M1023,762.5h5M1025.5,760v5M1025,773.5h5M1027.5,771v5M1028,742.5h5M1030.5,740v5M1027,738.5h5M1029.5,736v5M1025,729.5h5M1027.5,727v5M1023,723.5h5M1025.5,721v5M1032,795.5h5M1034.5,793v5M1027,698.5h5M1029.5,696v5M1024,775.5h5M1026.5,773v5M1030,725.5h5M1032.5,723v5M1025,715.5h5M1027.5,713v5M1031,800.5h5M1033.5,798v5M1026,803.5h5M1028.5,801v5M1025,763.5h5M1027.5,761v5M1030,682.5h5M1032.5,680v5M1029,683.5h5M1031.5,681v5M1034,787.5h5M1036.5,785v5M1034,791.5h5M1036.5,789v5M1033,792.5h5M1035.5,790v5M1036,768.5h5M1038.5,766v5M1037,803.5h5M1039.5,801v5M1036,745.5h5M1038.5,743v5M1037,751.5h5M1039.5,749v5M1035,761.5h5M1037.5,759v5M1041,751.5h5M1043.5,749v5M1050,714.5h5M1052.5,712v5M1049,731.5h5M1051.5,729v5M1052,638.5h5M1054.5,636v5M1051,680.5h5M1053.5,678v5M1062,702.5h5M1064.5,700v5M1055,724.5h5M1057.5,722v5M1061,715.5h5M1063.5,713v5M1065,719.5h5M1067.5,717v5M1071,692.5h5M1073.5,690v5M1072,698.5h5M1074.5,696v5M1070,682.5h5M1072.5,680v5M1074,691.5h5M1076.5,689v5M1075,623.5h5M1077.5,621v5M1073,657.5h5M1075.5,655v5M1079,600.5h5M1081.5,598v5M1088,661.5h5M1090.5,659v5M1092,641.5h5M1094.5,639v5M1088,661.5h5M1090.5,659v5M1092,710.5h5M1094.5,708v5M1097,806.5h5M1099.5,804v5M1097,803.5h5M1099.5,801v5M1094,808.5h5M1096.5,806v5M1104,850.5h5M1106.5,848v5M1102,889.5h5M1104.5,887v5M1102,844.5h5M1104.5,842v5M1103,840.5h5M1105.5,838v5M1111,862.5h5M1113.5,860v5M1109,851.5h5M1111.5,849v5M1148,899.5h5M1150.5,897v5M1125,719.5h5M1127.5,717v5M1125,709.5h5M1127.5,707v5M1125,820.5h5M1127.5,818v5M1164,802.5h5M1166.5,800v5M1166,810.5h5M1168.5,808v5M1180,835.5h5M1182.5,833v5M1179,831.5h5M1181.5,829v5M1198,772.5h5M1200.5,770v5M1195,770.5h5M1197.5,768v5M1190,779.5h5M1192.5,777v5M1202,714.5h5M1204.5,712v5M1225,686.5h5M1227.5,684v5M1230,714.5h5M1232.5,712v5M1433,1055.5h5M1435.5,1053v5M1454,947.5h5M1456.5,945v5M1453,905.5h5M1455.5,903v5M1457,1071.5h5M1459.5,1069v5M1456,1090.5h5M1458.5,1088v5M1463,787.5h5M1465.5,785v5M1464,832.5h5M1466.5,830v5M1464,892.5h5M1466.5,890v5M1463,888.5h5M1465.5,886v5M1464,874.5h5M1466.5,872v5M1474,862.5h5M1476.5,860v5M1473,897.5h5M1475.5,895v5M1474,961.5h5M1476.5,959v5M1482,903.5h5M1484.5,901v5M1483,906.5h5M1485.5,904v5M1482,867.5h5M1484.5,865v5M1485,821.5h5M1487.5,819v5M1484,816.5h5M1486.5,814v5M1486,880.5h5M1488.5,878v5M1485,919.5h5M1487.5,917v5M1495,996.5h5M1497.5,994v5M1492,912.5h5M1494.5,910v5M1499,957.5h5M1501.5,955v5M1491,917.5h5M1493.5,915v5M1492,928.5h5M1494.5,926v5M1496,959.5h5M1498.5,957v5M1498,922.5h5M1500.5,920v5M1499,908.5h5M1501.5,906v5M1499,988.5h5M1501.5,986v5M1499,932.5h5M1501.5,930v5M1497,947.5h5M1499.5,945v5M1496,978.5h5M1498.5,976v5M1498,1028.5h5M1500.5,1026v5M1498,1078.5h5M1500.5,1076v5M1498,1031.5h5M1500.5,1029v5M1496,1083.5h5M1498.5,1081v5M1495,1072.5h5M1497.5,1070v5M910,897.5h5M912.5,895v5" stroke="#ffa500" stroke-width="1" shape-rendering="crispEdges" fill="none"/><path d="M956,831.5h5M958.5,829v5M971,826.5h5M973.5,824v5M968,838.5h5M970.5,836v5M966,842.5h5M968.5,840v5M964,845.5h5M966.5,843v5M976,825.5h5M978.5,823v5M977,834.5h5M979.5,832v5M983,839.5h5M985.5,837v5M975,813.5h5M977.5,811v5M986,829.5h5M988.5,827v5M986,756.5h5M988.5,754v5M989,919.5h5M991.5,917v5M992,840.5h5M994.5,838v5M1004,819.5h5M1006.5,817v5M1006,846.5h5M1008.5,844v5M998,819.5h5M1000.5,817v5M1008,829.5h5M1010.5,827v5M1008,823.5h5M1010.5,821v5M1008,800.5h5M1010.5,798v5M998,799.5h5M1000.5,797v5M1020,791.5h5M1022.5,789v5M1018,800.5h5M1020.5,798v5M1018,786.5h5M1020.5,784v5M1015,795.5h5M1017.5,793v5M1016,788.5h5M1018.5,786v5M1017,785.5h5M1019.5,783v5M1016,798.5h5M1018.5,796v5M1017,775.5h5M1019.5,773v5M1029,734.5h5M1031.5,732v5M1029,762.5h5M1031.5,760v5M1031,785.5h5M1033.5,783v5M1029,769.5h5M1031.5,767v5M1028,773.5h5M1030.5,771v5M1024,741.5h5M1026.5,739v5M1032,757.5h5M1034.5,755v5M1029,808.5h5M1031.5,806v5M1031,740.5h5M1033.5,738v5M1028,660.5h5M1030.5,658v5M1029,682.5h5M1031.5,680v5M1036,726.5h5M1038.5,724v5M1035,799.5h5M1037.5,797v5M1035,791.5h5M1037.5,789v5M1038,739.5h5M1040.5,737v5M1043,750.5h5M1045.5,748v5M1049,738.5h5M1051.5,736v5M1050,707.5h5M1052.5,705v5M1050,714.5h5M1052.5,712v5M1052,657.5h5M1054.5,655v5M1062,695.5h5M1064.5,693v5M1062,704.5h5M1064.5,702v5M1062,704.5h5M1064.5,702v5M1062,685.5h5M1064.5,683v5M1064,682.5h5M1066.5,680v5M1065,732.5h5M1067.5,730v5M1068,712.5h5M1070.5,710v5M1066,725.5h5M1068.5,723v5M1071,670.5h5M1073.5,668v5M1072,675.5h5M1074.5,673v5M1071,694.5h5M1073.5,692v5M1072,705.5h5M1074.5,703v5M1079,665.5h5M1081.5,663v5M1076,678.5h5M1078.5,676v5M1074,659.5h5M1076.5,657v5M1074,607.5h5M1076.5,605v5M1083,682.5h5M1085.5,680v5M1083,658.5h5M1085.5,656v5M1089,676.5h5M1091.5,674v5M1089,696.5h5M1091.5,694v5M1090,619.5h5M1092.5,617v5M1092,623.5h5M1094.5,621v5M1091,656.5h5M1093.5,654v5M1088,619.5h5M1090.5,617v5M1088,653.5h5M1090.5,651v5M1089,661.5h5M1091.5,659v5M1088,668.5h5M1090.5,666v5M1091,706.5h5M1093.5,704v5M1096,836.5h5M1098.5,834v5M1093,832.5h5M1095.5,830v5M1093,856.5h5M1095.5,854v5M1097,829.5h5M1099.5,827v5M1095,793.5h5M1097.5,791v5M1094,838.5h5M1096.5,836v5M1102,881.5h5M1104.5,879v5M1102,855.5h5M1104.5,853v5M1102,870.5h5M1104.5,868v5M1102,835.5h5M1104.5,833v5M1124,806.5h5M1126.5,804v5M1123,818.5h5M1125.5,816v5M677,868.5h5M679.5,866v5" stroke="#f00" stroke-width="1" shape-rendering="crispEdges" fill="none"/><path d="M654,927.5h5M656.5,925v5M656,948.5h5M658.5,946v5M661,885.5h5M663.5,883v5M701,972.5h5M703.5,970v5M916,842.5h5M918.5,840v5M914,842.5h5M916.5,840v5M920,811.5h5M922.5,809v5M921,797.5h5M923.5,795v5M926,751.5h5M928.5,749v5M926,728.5h5M928.5,726v5M926,726.5h5M928.5,724v5M927,756.5h5M929.5,754v5M941,822.5h5M943.5,820v5M937,840.5h5M939.5,838v5M940,802.5h5M942.5,800v5M936,823.5h5M938.5,821v5M946,786.5h5M948.5,784v5M949,743.5h5M951.5,741v5M954,760.5h5M956.5,758v5M957,749.5h5M959.5,747v5M957,749.5h5M959.5,747v5M954,777.5h5M956.5,775v5M961,808.5h5M963.5,806v5M961,810.5h5M963.5,808v5M962,804.5h5M964.5,802v5M966,833.5h5M968.5,831v5M965,822.5h5M967.5,820v5M964,821.5h5M966.5,819v5M973,829.5h5M975.5,827v5M965,804.5h5M967.5,802v5M968,802.5h5M970.5,800v5M973,845.5h5M975.5,843v5M969,843.5h5M971.5,841v5M963,803.5h5M965.5,801v5M970,840.5h5M972.5,838v5M979,835.5h5M981.5,833v5M978,824.5h5M980.5,822v5M978,821.5h5M980.5,819v5M976,807.5h5M978.5,805v5M980,809.5h5M982.5,807v5M982,810.5h5M984.5,808v5M978,837.5h5M980.5,835v5M986,772.5h5M988.5,770v5M986,828.5h5M988.5,826v5M986,812.5h5M988.5,810v5M986,797.5h5M988.5,795v5M986,750.5h5M988.5,748v5M986,755.5h5M988.5,753v5M991,912.5h5M993.5,910v5M991,915.5h5M993.5,913v5M988,937.5h5M990.5,935v5M989,926.5h5M991.5,924v5M988,896.5h5M990.5,894v5M990,895.5h5M992.5,893v5M992,746.5h5M994.5,744v5M992,756.5h5M994.5,754v5M992,775.5h5M994.5,773v5M999,844.5h5M1001.5,842v5M992,781.5h5M994.5,779v5M1001,836.5h5M1003.5,834v5M994,786.5h5M996.5,784v5M991,782.5h5M993.5,780v5M997,813.5h5M999.5,811v5M993,798.5h5M995.5,796v5M1006,827.5h5M1008.5,825v5M1009,829.5h5M1011.5,827v5M998,840.5h5M1000.5,838v5M995,822.5h5M997.5,820v5M1008,788.5h5M1010.5,786v5M1002,816.5h5M1004.5,814v5M1002,831.5h5M1004.5,829v5M992,790.5h5M994.5,788v5M994,824.5h5M996.5,822v5M1001,808.5h5M1003.5,806v5M1004,832.5h5M1006.5,830v5M1001,824.5h5M1003.5,822v5M1010,761.5h5M1012.5,759v5M1012,746.5h5M1014.5,744v5M1010,764.5h5M1012.5,762v5M1014,733.5h5M1016.5,731v5M1015,725.5h5M1017.5,723v5M1011,735.5h5M1013.5,733v5M1011,726.5h5M1013.5,724v5M1013,752.5h5M1015.5,750v5M1018,807.5h5M1020.5,805v5M1018,807.5h5M1020.5,805v5M1018,799.5h5M1020.5,797v5M1017,796.5h5M1019.5,794v5M1018,813.5h5M1020.5,811v5M1018,792.5h5M1020.5,790v5M1017,771.5h5M1019.5,769v5M1020,803.5h5M1022.5,801v5M1019,827.5h5M1021.5,825v5M1020,784.5h5M1022.5,782v5M1020,785.5h5M1022.5,783v5M1032,775.5h5M1034.5,773v5M1023,771.5h5M1025.5,769v5M1031,730.5h5M1033.5,728v5M1030,729.5h5M1032.5,727v5M1032,803.5h5M1034.5,801v5M1023,770.5h5M1025.5,768v5M1027,791.5h5M1029.5,789v5M1028,794.5h5M1030.5,792v5M1024,801.5h5M1026.5,799v5M1023,742.5h5M1025.5,740v5M1028,771.5h5M1030.5,769v5M1030,767.5h5M1032.5,765v5M1024,712.5h5M1026.5,710v5M1031,764.5h5M1033.5,762v5M1025,749.5h5M1027.5,747v5M1030,763.5h5M1032.5,761v5M1031,791.5h5M1033.5,789v5M1025,704.5h5M1027.5,702v5M1029,721.5h5M1031.5,719v5M1026,710.5h5M1028.5,708v5M1024,741.5h5M1026.5,739v5M1032,764.5h5M1034.5,762v5M1022,805.5h5M1024.5,803v5M1027,784.5h5M1029.5,782v5M1028,675.5h5M1030.5,673v5M1030,688.5h5M1032.5,686v5M1028,697.5h5M1030.5,695v5M1036,709.5h5M1038.5,707v5M1035,763.5h5M1037.5,761v5M1036,806.5h5M1038.5,804v5M1034,745.5h5M1036.5,743v5M1033,748.5h5M1035.5,746v5M1032,750.5h5M1034.5,748v5M1033,763.5h5M1035.5,761v5M1036,745.5h5M1038.5,743v5M1035,782.5h5M1037.5,780v5M1037,799.5h5M1039.5,797v5M1034,762.5h5M1036.5,760v5M1033,721.5h5M1035.5,719v5M1034,781.5h5M1036.5,779v5M1033,750.5h5M1035.5,748v5M1035,775.5h5M1037.5,773v5M1037,764.5h5M1039.5,762v5M1037,735.5h5M1039.5,733v5M1037,732.5h5M1039.5,730v5M1036,732.5h5M1038.5,730v5M1036,760.5h5M1038.5,758v5M1038,761.5h5M1040.5,759v5M1037,753.5h5M1039.5,751v5M1037,733.5h5M1039.5,731v5M1049,691.5h5M1051.5,689v5M1050,702.5h5M1052.5,700v5M1048,711.5h5M1050.5,709v5M1051,690.5h5M1053.5,688v5M1048,727.5h5M1050.5,725v5M1046,732.5h5M1048.5,730v5M1049,692.5h5M1051.5,690v5M1051,720.5h5M1053.5,718v5M1050,691.5h5M1052.5,689v5M1052,676.5h5M1054.5,674v5M1051,686.5h5M1053.5,684v5M1052,682.5h5M1054.5,680v5M1057,719.5h5M1059.5,717v5M1061,711.5h5M1063.5,709v5M1056,717.5h5M1058.5,715v5M1065,716.5h5M1067.5,714v5M1058,711.5h5M1060.5,709v5M1056,711.5h5M1058.5,709v5M1055,687.5h5M1057.5,685v5M1064,696.5h5M1066.5,694v5M1062,690.5h5M1064.5,688v5M1056,709.5h5M1058.5,707v5M1062,681.5h5M1064.5,679v5M1061,690.5h5M1063.5,688v5M1068,717.5h5M1070.5,715v5M1066,709.5h5M1068.5,707v5M1070,673.5h5M1072.5,671v5M1072,693.5h5M1074.5,691v5M1071,691.5h5M1073.5,689v5M1072,678.5h5M1074.5,676v5M1070,692.5h5M1072.5,690v5M1071,664.5h5M1073.5,662v5M1071,688.5h5M1073.5,686v5M1079,678.5h5M1081.5,676v5M1079,661.5h5M1081.5,659v5M1076,601.5h5M1078.5,599v5M1078,620.5h5M1080.5,618v5M1075,609.5h5M1077.5,607v5M1076,611.5h5M1078.5,609v5M1077,601.5h5M1079.5,599v5M1076,613.5h5M1078.5,611v5M1074,690.5h5M1076.5,688v5M1075,664.5h5M1077.5,662v5M1073,693.5h5M1075.5,691v5M1080,650.5h5M1082.5,648v5M1074,624.5h5M1076.5,622v5M1076,700.5h5M1078.5,698v5M1077,637.5h5M1079.5,635v5M1079,693.5h5M1081.5,691v5M1078,629.5h5M1080.5,627v5M1078,671.5h5M1080.5,669v5M1075,639.5h5M1077.5,637v5M1079,647.5h5M1081.5,645v5M1079,595.5h5M1081.5,593v5M1079,645.5h5M1081.5,643v5M1083,665.5h5M1085.5,663v5M1084,677.5h5M1086.5,675v5M1084,659.5h5M1086.5,657v5M1082,684.5h5M1084.5,682v5M1082,662.5h5M1084.5,660v5M1083,682.5h5M1085.5,680v5M1083,675.5h5M1085.5,673v5M1090,617.5h5M1092.5,615v5M1091,619.5h5M1093.5,617v5M1091,663.5h5M1093.5,661v5M1090,624.5h5M1092.5,622v5M1090,697.5h5M1092.5,695v5M1090,657.5h5M1092.5,655v5M1088,683.5h5M1090.5,681v5M1091,665.5h5M1093.5,663v5M1090,642.5h5M1092.5,640v5M1092,689.5h5M1094.5,687v5M1096,794.5h5M1098.5,792v5M1096,851.5h5M1098.5,849v5M1093,805.5h5M1095.5,803v5M1096,791.5h5M1098.5,789v5M1093,843.5h5M1095.5,841v5M1096,818.5h5M1098.5,816v5M1097,854.5h5M1099.5,852v5M1094,805.5h5M1096.5,803v5M1093,848.5h5M1095.5,846v5M1096,828.5h5M1098.5,826v5M1103,886.5h5M1105.5,884v5M1102,843.5h5M1104.5,841v5M1103,857.5h5M1105.5,855v5M1103,838.5h5M1105.5,836v5M1109,855.5h5M1111.5,853v5M1114,855.5h5M1116.5,853v5M1113,910.5h5M1115.5,908v5M1114,910.5h5M1116.5,908v5M1148,889.5h5M1150.5,887v5M1126,731.5h5M1128.5,729v5M1124,721.5h5M1126.5,719v5M1126,716.5h5M1128.5,714v5M1125,733.5h5M1127.5,731v5M1124,736.5h5M1126.5,734v5M1124,719.5h5M1126.5,717v5M1125,729.5h5M1127.5,727v5M1126,757.5h5M1128.5,755v5M1127,806.5h5M1129.5,804v5M1126,819.5h5M1128.5,817v5M1154,869.5h5M1156.5,867v5M1153,878.5h5M1155.5,876v5M1165,807.5h5M1167.5,805v5M1167,812.5h5M1169.5,810v5M1164,822.5h5M1166.5,820v5M1167,804.5h5M1169.5,802v5M1166,811.5h5M1168.5,809v5M1167,832.5h5M1169.5,830v5M1166,808.5h5M1168.5,806v5M1165,820.5h5M1167.5,818v5M1178,817.5h5M1180.5,815v5M1181,787.5h5M1183.5,785v5M1176,789.5h5M1178.5,787v5M1181,886.5h5M1183.5,884v5M1177,893.5h5M1179.5,891v5M1190,782.5h5M1192.5,780v5M1195,773.5h5M1197.5,771v5M1189,770.5h5M1191.5,768v5M1197,781.5h5M1199.5,779v5M1188,781.5h5M1190.5,779v5M1195,771.5h5M1197.5,769v5M1192,779.5h5M1194.5,777v5M1198,767.5h5M1200.5,765v5M1204,750.5h5M1206.5,748v5M1229,642.5h5M1231.5,640v5M1312,836.5h5M1314.5,834v5M1313,825.5h5M1315.5,823v5M1314,837.5h5M1316.5,835v5M1422,970.5h5M1424.5,968v5M1421,984.5h5M1423.5,982v5M1425,1000.5h5M1427.5,998v5M1427,1004.5h5M1429.5,1002v5M1439,1032.5h5M1441.5,1030v5M1431,1044.5h5M1433.5,1042v5M1458,1063.5h5M1460.5,1061v5M1456,1070.5h5M1458.5,1068v5M1459,1089.5h5M1461.5,1087v5M1203,729.5h5M1205.5,727v5M1312,824.5h5M1314.5,822v5" stroke="#000" stroke-width="1" shape-rendering="crispEdges" fill="none"/><path d="M921,816.5h5M923.5,814v5M922,804.5h5M924.5,802v5M928,729.5h5M930.5,727v5M927,753.5h5M929.5,751v5M956,758.5h5M958.5,756v5M965,806.5h5M967.5,804v5M969,828.5h5M971.5,826v5M970,831.5h5M972.5,829v5M972,837.5h5M974.5,835v5M964,840.5h5M966.5,838v5M963,843.5h5M965.5,841v5M971,812.5h5M973.5,810v5M971,775.5h5M973.5,773v5M980,817.5h5M982.5,815v5M979,814.5h5M981.5,812v5M984,823.5h5M986.5,821v5M976,826.5h5M978.5,824v5M989,937.5h5M991.5,935v5M991,905.5h5M993.5,903v5M997,786.5h5M999.5,784v5M1007,795.5h5M1009.5,793v5M995,773.5h5M997.5,771v5M994,798.5h5M996.5,796v5M1000,811.5h5M1002.5,809v5M1002,792.5h5M1004.5,790v5M998,842.5h5M1000.5,840v5M1001,811.5h5M1003.5,809v5M1015,747.5h5M1017.5,745v5M1019,796.5h5M1021.5,794v5M1017,827.5h5M1019.5,825v5M1020,775.5h5M1022.5,773v5M1016,810.5h5M1018.5,808v5M1016,810.5h5M1018.5,808v5M1018,820.5h5M1020.5,818v5M1022,702.5h5M1024.5,700v5M1025,723.5h5M1027.5,721v5M1024,696.5h5M1026.5,694v5M1028,800.5h5M1030.5,798v5M1028,804.5h5M1030.5,802v5M1023,730.5h5M1025.5,728v5M1024,770.5h5M1026.5,768v5M1027,799.5h5M1029.5,797v5M1024,726.5h5M1026.5,724v5M1031,740.5h5M1033.5,738v5M1030,649.5h5M1032.5,647v5M1029,680.5h5M1031.5,678v5M1029,679.5h5M1031.5,677v5M1035,761.5h5M1037.5,759v5M1037,706.5h5M1039.5,704v5M1036,717.5h5M1038.5,715v5M1042,762.5h5M1044.5,760v5M1051,663.5h5M1053.5,661v5M1052,678.5h5M1054.5,676v5M1056,684.5h5M1058.5,682v5M1066,704.5h5M1068.5,702v5M1066,721.5h5M1068.5,719v5M1068,732.5h5M1070.5,730v5M1071,666.5h5M1073.5,664v5M1070,693.5h5M1072.5,691v5M1072,678.5h5M1074.5,676v5M1079,668.5h5M1081.5,666v5M1076,633.5h5M1078.5,631v5M1077,605.5h5M1079.5,603v5M1084,685.5h5M1086.5,683v5M1088,647.5h5M1090.5,645v5M1091,620.5h5M1093.5,618v5M1088,618.5h5M1090.5,616v5M1091,726.5h5M1093.5,724v5M1096,797.5h5M1098.5,795v5M1092,841.5h5M1094.5,839v5M1094,810.5h5M1096.5,808v5M1092,803.5h5M1094.5,801v5M1104,831.5h5M1106.5,829v5M1103,841.5h5M1105.5,839v5M1103,873.5h5M1105.5,871v5M1104,892.5h5M1106.5,890v5M1148,895.5h5M1150.5,893v5M1148,890.5h5M1150.5,888v5M1127,813.5h5M1129.5,811v5M1124,809.5h5M1126.5,807v5M1134,670.5h5M1136.5,668v5M1134,670.5h5M1136.5,668v5M1165,822.5h5M1167.5,820v5" stroke="#00f" stroke-width="1" shape-rendering="crispEdges" fill="none"/><path d="M654,977.5h5M656.5,975v5M655,984.5h5M657.5,982v5M658,949.5h5M660.5,947v5M659,860.5h5M661.5,858v5M658,878.5h5M660.5,876v5M659,906.5h5M661.5,904v5M658,907.5h5M660.5,905v5M662,879.5h5M664.5,877v5M662,879.5h5M664.5,877v5M661,890.5h5M663.5,888v5M663,914.5h5M665.5,912v5M663,909.5h5M665.5,907v5M669,902.5h5M671.5,900v5M668,910.5h5M670.5,908v5M670,905.5h5M672.5,903v5M669,894.5h5M671.5,892v5M677,855.5h5M679.5,853v5M677,875.5h5M679.5,873v5M678,851.5h5M680.5,849v5M676,870.5h5M678.5,868v5M682,880.5h5M684.5,878v5M685,1069.5h5M687.5,1067v5M685,1082.5h5M687.5,1080v5M684,1074.5h5M686.5,1072v5M701,975.5h5M703.5,973v5M701,970.5h5M703.5,968v5M704,944.5h5M706.5,942v5M709,918.5h5M711.5,916v5M709,921.5h5M711.5,919v5M709,924.5h5M711.5,922v5M718,904.5h5M720.5,902v5M719,901.5h5M721.5,899v5M917,842.5h5M919.5,840v5M936,814.5h5M938.5,812v5M939,838.5h5M941.5,836v5M933,829.5h5M935.5,827v5M957,758.5h5M959.5,756v5M965,791.5h5M967.5,789v5M967,821.5h5M969.5,819v5M971,807.5h5M973.5,805v5M970,809.5h5M972.5,807v5M968,819.5h5M970.5,817v5M978,817.5h5M980.5,815v5M978,831.5h5M980.5,829v5M982,820.5h5M984.5,818v5M984,817.5h5M986.5,815v5M986,745.5h5M988.5,743v5M986,815.5h5M988.5,813v5M986,829.5h5M988.5,827v5M986,783.5h5M988.5,781v5M986,756.5h5M988.5,754v5M986,754.5h5M988.5,752v5M991,912.5h5M993.5,910v5M990,900.5h5M992.5,898v5M991,923.5h5M993.5,921v5M988,955.5h5M990.5,953v5M989,925.5h5M991.5,923v5M990,929.5h5M992.5,927v5M1002,840.5h5M1004.5,838v5M1004,797.5h5M1006.5,795v5M992,780.5h5M994.5,778v5M993,785.5h5M995.5,783v5M1009,726.5h5M1011.5,724v5M1009,745.5h5M1011.5,743v5M1009,738.5h5M1011.5,736v5M1013,742.5h5M1015.5,740v5M1017,770.5h5M1019.5,768v5M1020,788.5h5M1022.5,786v5M1016,781.5h5M1018.5,779v5M1019,791.5h5M1021.5,789v5M1017,800.5h5M1019.5,798v5M1027,715.5h5M1029.5,713v5M1024,786.5h5M1026.5,784v5M1031,747.5h5M1033.5,745v5M1031,748.5h5M1033.5,746v5M1026,759.5h5M1028.5,757v5M1031,803.5h5M1033.5,801v5M1030,783.5h5M1032.5,781v5M1028,788.5h5M1030.5,786v5M1031,715.5h5M1033.5,713v5M1025,725.5h5M1027.5,723v5M1026,782.5h5M1028.5,780v5M1032,734.5h5M1034.5,732v5M1027,700.5h5M1029.5,698v5M1023,699.5h5M1025.5,697v5M1023,784.5h5M1025.5,782v5M1030,675.5h5M1032.5,673v5M1029,690.5h5M1031.5,688v5M1029,649.5h5M1031.5,647v5M1028,647.5h5M1030.5,645v5M1028,670.5h5M1030.5,668v5M1028,681.5h5M1030.5,679v5M1037,764.5h5M1039.5,762v5M1035,728.5h5M1037.5,726v5M1038,749.5h5M1040.5,747v5M1040,754.5h5M1042.5,752v5M1038,760.5h5M1040.5,758v5M1043,755.5h5M1045.5,753v5M1047,696.5h5M1049.5,694v5M1050,702.5h5M1052.5,700v5M1052,683.5h5M1054.5,681v5M1052,636.5h5M1054.5,634v5M1051,645.5h5M1053.5,643v5M1061,693.5h5M1063.5,691v5M1056,693.5h5M1058.5,691v5M1057,704.5h5M1059.5,702v5M1057,715.5h5M1059.5,713v5M1065,711.5h5M1067.5,709v5M1066,717.5h5M1068.5,715v5M1076,680.5h5M1078.5,678v5M1079,664.5h5M1081.5,662v5M1076,616.5h5M1078.5,614v5M1077,646.5h5M1079.5,644v5M1076,644.5h5M1078.5,642v5M1076,592.5h5M1078.5,590v5M1078,659.5h5M1080.5,657v5M1075,652.5h5M1077.5,650v5M1083,676.5h5M1085.5,674v5M1089,679.5h5M1091.5,677v5M1090,652.5h5M1092.5,650v5M1090,605.5h5M1092.5,603v5M1097,846.5h5M1099.5,844v5M1093,820.5h5M1095.5,818v5M1093,839.5h5M1095.5,837v5M1102,852.5h5M1104.5,850v5M1104,850.5h5M1106.5,848v5M1103,836.5h5M1105.5,834v5M1103,877.5h5M1105.5,875v5M1103,847.5h5M1105.5,845v5M1103,847.5h5M1105.5,845v5M1111,860.5h5M1113.5,858v5M1110,854.5h5M1112.5,852v5M1111,864.5h5M1113.5,862v5M1115,849.5h5M1117.5,847v5M1110,871.5h5M1112.5,869v5M1114,855.5h5M1116.5,853v5M1111,902.5h5M1113.5,900v5M1108,884.5h5M1110.5,882v5M1112,886.5h5M1114.5,884v5M1111,889.5h5M1113.5,887v5M1125,725.5h5M1127.5,723v5M1126,733.5h5M1128.5,731v5M1123,705.5h5M1125.5,703v5M1126,721.5h5M1128.5,719v5M1125,738.5h5M1127.5,736v5M1126,820.5h5M1128.5,818v5M1125,817.5h5M1127.5,815v5M1127,805.5h5M1129.5,803v5M1164,842.5h5M1166.5,840v5M1166,827.5h5M1168.5,825v5M1175,809.5h5M1177.5,807v5M1178,782.5h5M1180.5,780v5M1180,792.5h5M1182.5,790v5M1176,818.5h5M1178.5,816v5M1175,891.5h5M1177.5,889v5M1205,732.5h5M1207.5,730v5M1426,1011.5h5M1428.5,1009v5M1433,1043.5h5M1435.5,1041v5M1432,1043.5h5M1434.5,1041v5M1446,950.5h5M1448.5,948v5M1449,934.5h5M1451.5,932v5M1442,964.5h5M1444.5,962v5M1447,936.5h5M1449.5,934v5M1448,950.5h5M1450.5,948v5M1448,952.5h5M1450.5,950v5M1441,989.5h5M1443.5,987v5M1456,1018.5h5M1458.5,1016v5M1452,1011.5h5M1454.5,1009v5M1453,1003.5h5M1455.5,1001v5M1452,953.5h5M1454.5,951v5M1459,1067.5h5M1461.5,1065v5M1459,1085.5h5M1461.5,1083v5M1458,1064.5h5M1460.5,1062v5M1465,785.5h5M1467.5,783v5M1464,869.5h5M1466.5,867v5M1463,880.5h5M1465.5,878v5M1463,869.5h5M1465.5,867v5M1462,898.5h5M1464.5,896v5M1463,899.5h5M1465.5,897v5M1471,838.5h5M1473.5,836v5M1473,831.5h5M1475.5,829v5M1474,898.5h5M1476.5,896v5M1471,908.5h5M1473.5,906v5M1474,904.5h5M1476.5,902v5M1472,958.5h5M1474.5,956v5M1472,959.5h5M1474.5,957v5M1474,963.5h5M1476.5,961v5M1481,837.5h5M1483.5,835v5M1489,872.5h5M1491.5,870v5M1486,844.5h5M1488.5,842v5M1489,842.5h5M1491.5,840v5M1488,900.5h5M1490.5,898v5M1491,837.5h5M1493.5,835v5M1481,822.5h5M1483.5,820v5M1484,819.5h5M1486.5,817v5M1480,836.5h5M1482.5,834v5M1482,825.5h5M1484.5,823v5M1490,814.5h5M1492.5,812v5M1491,828.5h5M1493.5,826v5M1482,856.5h5M1484.5,854v5M1482,881.5h5M1484.5,879v5M1479,828.5h5M1481.5,826v5M1488,844.5h5M1490.5,842v5M1487,882.5h5M1489.5,880v5M1486,818.5h5M1488.5,816v5M1495,943.5h5M1497.5,941v5M1495,984.5h5M1497.5,982v5M1497,987.5h5M1499.5,985v5M1497,930.5h5M1499.5,928v5M1497,986.5h5M1499.5,984v5M1492,912.5h5M1494.5,910v5M1493,931.5h5M1495.5,929v5M1498,997.5h5M1500.5,995v5M1492,959.5h5M1494.5,957v5M1497,931.5h5M1499.5,929v5M1494,902.5h5M1496.5,900v5M1492,947.5h5M1494.5,945v5M1499,996.5h5M1501.5,994v5M1499,981.5h5M1501.5,979v5M1499,941.5h5M1501.5,939v5M1492,960.5h5M1494.5,958v5M1497,964.5h5M1499.5,962v5M1498,948.5h5M1500.5,946v5M1493,939.5h5M1495.5,937v5M1495,946.5h5M1497.5,944v5M1499,939.5h5M1501.5,937v5M1492,978.5h5M1494.5,976v5M1496,954.5h5M1498.5,952v5M1495,987.5h5M1497.5,985v5M1494,976.5h5M1496.5,974v5M1499,954.5h5M1501.5,952v5M1494,993.5h5M1496.5,991v5M1498,949.5h5M1500.5,947v5M1499,900.5h5M1501.5,898v5M1498,940.5h5M1500.5,938v5M1496,906.5h5M1498.5,904v5M1495,1045.5h5M1497.5,1043v5M1497,1086.5h5M1499.5,1084v5M1500,1048.5h5M1502.5,1046v5M1496,1018.5h5M1498.5,1016v5M1497,1017.5h5M1499.5,1015v5M1498,1072.5h5M1500.5,1070v5M1500,1055.5h5M1502.5,1053v5M1499,1081.5h5M1501.5,1079v5M1497,1075.5h5M1499.5,1073v5M1497,1066.5h5M1499.5,1064v5M1498,1083.5h5M1500.5,1081v5M1499,1027.5h5M1501.5,1025v5M1497,1057.5h5M1499.5,1055v5M1497,1021.5h5M1499.5,1019v5M1498,1022.5h5M1500.5,1020v5M1499,1050.5h5M1501.5,1048v5M1497,1056.5h5M1499.5,1054v5M1499,1055.5h5M1501.5,1053v5M686,1030.5h5M688.5,1028v5M686,1089.5h5M688.5,1087v5M1419,897.5h5M1421.5,895v5" stroke="#0f0" stroke-width="1" shape-rendering="crispEdges" fill="none"/><path d="M656,936.5h5M658.5,934v5M658,874.5h5M660.5,872v5M662,913.5h5M664.5,911v5M677,875.5h5M679.5,873v5M691,948.5h5M693.5,946v5M685,1075.5h5M687.5,1073v5M914,827.5h5M916.5,825v5M923,801.5h5M925.5,799v5M928,745.5h5M930.5,743v5M951,790.5h5M953.5,788v5M952,782.5h5M954.5,780v5M960,795.5h5M962.5,793v5M963,816.5h5M965.5,814v5M967,834.5h5M969.5,832v5M966,812.5h5M968.5,810v5M968,844.5h5M970.5,842v5M971,783.5h5M973.5,781v5M976,808.5h5M978.5,806v5M979,810.5h5M981.5,808v5M977,818.5h5M979.5,816v5M992,897.5h5M994.5,895v5M991,910.5h5M993.5,908v5M989,917.5h5M991.5,915v5M992,899.5h5M994.5,897v5M1000,794.5h5M1002.5,792v5M1000,779.5h5M1002.5,777v5M995,830.5h5M997.5,828v5M992,777.5h5M994.5,775v5M1007,812.5h5M1009.5,810v5M1008,782.5h5M1010.5,780v5M1005,801.5h5M1007.5,799v5M1006,796.5h5M1008.5,794v5M997,819.5h5M999.5,817v5M1017,804.5h5M1019.5,802v5M1018,815.5h5M1020.5,813v5M1018,813.5h5M1020.5,811v5M1026,800.5h5M1028.5,798v5M1026,707.5h5M1028.5,705v5M1025,703.5h5M1027.5,701v5M1025,703.5h5M1027.5,701v5M1030,732.5h5M1032.5,730v5M1024,710.5h5M1026.5,708v5M1026,719.5h5M1028.5,717v5M1032,712.5h5M1034.5,710v5M1025,754.5h5M1027.5,752v5M1032,762.5h5M1034.5,760v5M1033,715.5h5M1035.5,713v5M1034,748.5h5M1036.5,746v5M1036,740.5h5M1038.5,738v5M1033,796.5h5M1035.5,794v5M1033,758.5h5M1035.5,756v5M1038,745.5h5M1040.5,743v5M1043,756.5h5M1045.5,754v5M1041,729.5h5M1043.5,727v5M1049,691.5h5M1051.5,689v5M1050,711.5h5M1052.5,709v5M1047,733.5h5M1049.5,731v5M1062,681.5h5M1064.5,679v5M1060,712.5h5M1062.5,710v5M1068,724.5h5M1070.5,722v5M1072,688.5h5M1074.5,686v5M1073,673.5h5M1075.5,671v5M1070,672.5h5M1072.5,670v5M1075,664.5h5M1077.5,662v5M1077,683.5h5M1079.5,681v5M1078,642.5h5M1080.5,640v5M1077,625.5h5M1079.5,623v5M1077,598.5h5M1079.5,596v5M1075,650.5h5M1077.5,648v5M1077,607.5h5M1079.5,605v5M1078,588.5h5M1080.5,586v5M1073,659.5h5M1075.5,657v5M1075,614.5h5M1077.5,612v5M1079,656.5h5M1081.5,654v5M1083,682.5h5M1085.5,680v5M1084,693.5h5M1086.5,691v5M1082,664.5h5M1084.5,662v5M1083,692.5h5M1085.5,690v5M1088,631.5h5M1090.5,629v5M1090,669.5h5M1092.5,667v5M1095,831.5h5M1097.5,829v5M1093,855.5h5M1095.5,853v5M1104,874.5h5M1106.5,872v5M1126,729.5h5M1128.5,727v5M1124,735.5h5M1126.5,733v5M1125,706.5h5M1127.5,704v5M1126,823.5h5M1128.5,821v5M1167,818.5h5M1169.5,816v5M1178,891.5h5M1180.5,889v5M1179,877.5h5M1181.5,875v5M1203,718.5h5M1205.5,716v5M1422,980.5h5M1424.5,978v5M1421,977.5h5M1423.5,975v5M1422,968.5h5M1424.5,966v5M1449,931.5h5M1451.5,929v5M1454,961.5h5M1456.5,959v5M1453,952.5h5M1455.5,950v5M1457,1080.5h5M1459.5,1078v5M1459,1078.5h5M1461.5,1076v5M1464,898.5h5M1466.5,896v5M1464,869.5h5M1466.5,867v5M1463,887.5h5M1465.5,885v5M1465,873.5h5M1467.5,871v5M1462,897.5h5M1464.5,895v5M1474,861.5h5M1476.5,859v5M1470,832.5h5M1472.5,830v5M1475,917.5h5M1477.5,915v5M1486,857.5h5M1488.5,855v5M1483,875.5h5M1485.5,873v5M1486,809.5h5M1488.5,807v5M1484,853.5h5M1486.5,851v5M1491,902.5h5M1493.5,900v5M1494,964.5h5M1496.5,962v5M1493,926.5h5M1495.5,924v5M1496,994.5h5M1498.5,992v5M1496,903.5h5M1498.5,901v5M1494,937.5h5M1496.5,935v5M1499,1073.5h5M1501.5,1071v5M1499,1020.5h5M1501.5,1018v5M1497,1052.5h5M1499.5,1050v5M1497,1035.5h5M1499.5,1033v5M1499,1085.5h5M1501.5,1083v5M1496,1083.5h5M1498.5,1081v5M1497,1044.5h5M1499.5,1042v5" stroke="#ffa500" stroke-width="1" shape-rendering="crispEdges" fill="none"/><path d="M909,860.5h5M911.5,858v5M912,839.5h5M914.5,837v5M935,820.5h5M937.5,818v5M932,821.5h5M934.5,819v5M939,803.5h5M941.5,801v5M933,809.5h5M935.5,807v5M948,795.5h5M950.5,793v5M948,762.5h5M950.5,760v5M965,788.5h5M967.5,786v5M963,789.5h5M965.5,787v5M966,847.5h5M968.5,845v5M964,810.5h5M966.5,808v5M968,826.5h5M970.5,824v5M965,801.5h5M967.5,799v5M972,835.5h5M974.5,833v5M969,836.5h5M971.5,834v5M979,831.5h5M981.5,829v5M979,808.5h5M981.5,806v5M986,783.5h5M988.5,781v5M986,794.5h5M988.5,792v5M986,816.5h5M988.5,814v5M986,839.5h5M988.5,837v5M986,751.5h5M988.5,749v5M986,800.5h5M988.5,798v5M991,927.5h5M993.5,925v5M990,919.5h5M992.5,917v5M990,952.5h5M992.5,950v5M995,842.5h5M997.5,840v5M992,840.5h5M994.5,838v5M995,838.5h5M997.5,836v5M1007,785.5h5M1009.5,783v5M1007,821.5h5M1009.5,819v5M1003,772.5h5M1005.5,770v5M1008,845.5h5M1010.5,843v5M992,783.5h5M994.5,781v5M1007,771.5h5M1009.5,769v5M992,811.5h5M994.5,809v5M1003,776.5h5M1005.5,774v5M1006,796.5h5M1008.5,794v5M1010,732.5h5M1012.5,730v5M1012,723.5h5M1014.5,721v5M1017,785.5h5M1019.5,783v5M1019,800.5h5M1021.5,798v5M1020,779.5h5M1022.5,777v5M1032,791.5h5M1034.5,789v5M1030,742.5h5M1032.5,740v5M1030,762.5h5M1032.5,760v5M1028,771.5h5M1030.5,769v5M1024,754.5h5M1026.5,752v5M1027,801.5h5M1029.5,799v5M1027,772.5h5M1029.5,770v5M1024,758.5h5M1026.5,756v5M1026,727.5h5M1028.5,725v5M1026,700.5h5M1028.5,698v5M1025,697.5h5M1027.5,695v5M1028,658.5h5M1030.5,656v5M1028,656.5h5M1030.5,654v5M1030,684.5h5M1032.5,682v5M1033,751.5h5M1035.5,749v5M1035,765.5h5M1037.5,763v5M1033,706.5h5M1035.5,704v5M1032,708.5h5M1034.5,706v5M1037,752.5h5M1039.5,750v5M1032,740.5h5M1034.5,738v5M1036,761.5h5M1038.5,759v5M1039,756.5h5M1041.5,754v5M1043,741.5h5M1045.5,739v5M1047,736.5h5M1049.5,734v5M1046,720.5h5M1048.5,718v5M1051,652.5h5M1053.5,650v5M1062,713.5h5M1064.5,711v5M1063,712.5h5M1065.5,710v5M1060,690.5h5M1062.5,688v5M1062,681.5h5M1064.5,679v5M1065,721.5h5M1067.5,719v5M1066,707.5h5M1068.5,705v5M1068,735.5h5M1070.5,733v5M1066,708.5h5M1068.5,706v5M1071,680.5h5M1073.5,678v5M1078,697.5h5M1080.5,695v5M1075,593.5h5M1077.5,591v5M1077,612.5h5M1079.5,610v5M1073,645.5h5M1075.5,643v5M1077,660.5h5M1079.5,658v5M1078,654.5h5M1080.5,652v5M1083,662.5h5M1085.5,660v5M1083,666.5h5M1085.5,664v5M1091,658.5h5M1093.5,656v5M1090,626.5h5M1092.5,624v5M1088,649.5h5M1090.5,647v5M1090,682.5h5M1092.5,680v5M1090,636.5h5M1092.5,634v5M1089,611.5h5M1091.5,609v5M1088,678.5h5M1090.5,676v5M1088,686.5h5M1090.5,684v5M1090,684.5h5M1092.5,682v5M1091,663.5h5M1093.5,661v5M1090,639.5h5M1092.5,637v5M1092,789.5h5M1094.5,787v5M1094,801.5h5M1096.5,799v5M1093,853.5h5M1095.5,851v5M1096,825.5h5M1098.5,823v5M1094,822.5h5M1096.5,820v5M1102,840.5h5M1104.5,838v5M1148,903.5h5M1150.5,901v5M1125,817.5h5M1127.5,815v5M1126,802.5h5M1128.5,800v5M1125,822.5h5M1127.5,820v5M1155,750.5h5M1157.5,748v5M1165,808.5h5M1167.5,806v5M1204,696.5h5M1206.5,694v5" stroke="#f00" stroke-width="1" shape-rendering="crispEdges" fill="none"/><path d="M653,937.5h5M655.5,935v5M660,881.5h5M662.5,879v5M912,841.5h5M914.5,839v5M918,826.5h5M920.5,824v5M923,808.5h5M925.5,806v5M929,751.5h5M931.5,749v5M927,736.5h5M929.5,734v5M928,732.5h5M930.5,730v5M926,741.5h5M928.5,739v5M935,812.5h5M937.5,810v5M933,814.5h5M935.5,812v5M939,826.5h5M941.5,824v5M951,776.5h5M953.5,774v5M955,759.5h5M957.5,757v5M952,745.5h5M954.5,743v5M956,875.5h5M958.5,873v5M963,813.5h5M965.5,811v5M963,808.5h5M965.5,806v5M963,812.5h5M965.5,810v5M968,815.5h5M970.5,813v5M972,820.5h5M974.5,818v5M966,836.5h5M968.5,834v5M971,842.5h5M973.5,840v5M967,838.5h5M969.5,836v5M966,817.5h5M968.5,815v5M969,816.5h5M971.5,814v5M968,815.5h5M970.5,813v5M968,802.5h5M970.5,800v5M966,815.5h5M968.5,813v5M979,826.5h5M981.5,824v5M982,815.5h5M984.5,813v5M983,827.5h5M985.5,825v5M982,835.5h5M984.5,833v5M981,813.5h5M983.5,811v5M978,830.5h5M980.5,828v5M984,819.5h5M986.5,817v5M983,837.5h5M985.5,835v5M980,830.5h5M982.5,828v5M980,805.5h5M982.5,803v5M980,832.5h5M982.5,830v5M980,832.5h5M982.5,830v5M981,836.5h5M983.5,834v5M986,825.5h5M988.5,823v5M986,753.5h5M988.5,751v5M986,775.5h5M988.5,773v5M986,747.5h5M988.5,745v5M986,777.5h5M988.5,775v5M986,790.5h5M988.5,788v5M986,835.5h5M988.5,833v5M991,899.5h5M993.5,897v5M989,931.5h5M991.5,929v5M989,940.5h5M991.5,938v5M991,919.5h5M993.5,917v5M989,909.5h5M991.5,907v5M989,910.5h5M991.5,908v5M992,777.5h5M994.5,775v5M992,790.5h5M994.5,788v5M1000,846.5h5M1002.5,844v5M1006,833.5h5M1008.5,831v5M1000,808.5h5M1002.5,806v5M996,806.5h5M998.5,804v5M995,796.5h5M997.5,794v5M1001,788.5h5M1003.5,786v5M995,804.5h5M997.5,802v5M1003,834.5h5M1005.5,832v5M993,824.5h5M995.5,822v5M1000,808.5h5M1002.5,806v5M1000,809.5h5M1002.5,807v5M999,803.5h5M1001.5,801v5M992,822.5h5M994.5,820v5M991,782.5h5M993.5,780v5M1007,830.5h5M1009.5,828v5M1000,837.5h5M1002.5,835v5M991,775.5h5M993.5,773v5M1001,784.5h5M1003.5,782v5M997,774.5h5M999.5,772v5M1001,772.5h5M1003.5,770v5M997,827.5h5M999.5,825v5M1008,801.5h5M1010.5,799v5M1002,792.5h5M1004.5,790v5M995,801.5h5M997.5,799v5M992,795.5h5M994.5,793v5M1009,755.5h5M1011.5,753v5M1014,751.5h5M1016.5,749v5M1015,749.5h5M1017.5,747v5M1011,765.5h5M1013.5,763v5M1014,733.5h5M1016.5,731v5M1009,749.5h5M1011.5,747v5M1011,745.5h5M1013.5,743v5M1015,731.5h5M1017.5,729v5M1009,734.5h5M1011.5,732v5M1018,789.5h5M1020.5,787v5M1015,775.5h5M1017.5,773v5M1017,827.5h5M1019.5,825v5M1018,820.5h5M1020.5,818v5M1016,808.5h5M1018.5,806v5M1017,772.5h5M1019.5,770v5M1019,788.5h5M1021.5,786v5M1017,812.5h5M1019.5,810v5M1031,700.5h5M1033.5,698v5M1022,708.5h5M1024.5,706v5M1023,705.5h5M1025.5,703v5M1026,752.5h5M1028.5,750v5M1026,764.5h5M1028.5,762v5M1026,720.5h5M1028.5,718v5M1026,750.5h5M1028.5,748v5M1030,730.5h5M1032.5,728v5M1028,740.5h5M1030.5,738v5M1022,744.5h5M1024.5,742v5M1031,698.5h5M1033.5,696v5M1024,751.5h5M1026.5,749v5M1023,736.5h5M1025.5,734v5M1024,793.5h5M1026.5,791v5M1030,765.5h5M1032.5,763v5M1028,800.5h5M1030.5,798v5M1023,748.5h5M1025.5,746v5M1026,765.5h5M1028.5,763v5M1022,770.5h5M1024.5,768v5M1031,773.5h5M1033.5,771v5M1027,708.5h5M1029.5,706v5M1028,660.5h5M1030.5,658v5M1029,665.5h5M1031.5,663v5M1029,684.5h5M1031.5,682v5M1035,795.5h5M1037.5,793v5M1035,760.5h5M1037.5,758v5M1034,793.5h5M1036.5,791v5M1033,787.5h5M1035.5,785v5M1033,781.5h5M1035.5,779v5M1034,717.5h5M1036.5,715v5M1034,763.5h5M1036.5,761v5M1037,786.5h5M1039.5,784v5M1033,758.5h5M1035.5,756v5M1034,784.5h5M1036.5,782v5M1034,748.5h5M1036.5,746v5M1034,713.5h5M1036.5,711v5M1036,795.5h5M1038.5,793v5M1034,734.5h5M1036.5,732v5M1037,767.5h5M1039.5,765v5M1036,736.5h5M1038.5,734v5M1037,709.5h5M1039.5,707v5M1035,750.5h5M1037.5,748v5M1036,742.5h5M1038.5,740v5M1034,731.5h5M1036.5,729v5M1036,722.5h5M1038.5,720v5M1038,719.5h5M1040.5,717v5M1042,751.5h5M1044.5,749v5M1042,744.5h5M1044.5,742v5M1038,760.5h5M1040.5,758v5M1039,731.5h5M1041.5,729v5M1037,749.5h5M1039.5,747v5M1039,758.5h5M1041.5,756v5M1036,741.5h5M1038.5,739v5M1042,733.5h5M1044.5,731v5M1041,733.5h5M1043.5,731v5M1043,730.5h5M1045.5,728v5M1050,718.5h5M1052.5,716v5M1048,690.5h5M1050.5,688v5M1049,713.5h5M1051.5,711v5M1047,704.5h5M1049.5,702v5M1050,701.5h5M1052.5,699v5M1050,728.5h5M1052.5,726v5M1048,735.5h5M1050.5,733v5M1046,711.5h5M1048.5,709v5M1051,646.5h5M1053.5,644v5M1051,647.5h5M1053.5,645v5M1052,651.5h5M1054.5,649v5M1051,662.5h5M1053.5,660v5M1062,717.5h5M1064.5,715v5M1063,724.5h5M1065.5,722v5M1062,709.5h5M1064.5,707v5M1062,722.5h5M1064.5,720v5M1058,683.5h5M1060.5,681v5M1063,706.5h5M1065.5,704v5M1060,694.5h5M1062.5,692v5M1065,699.5h5M1067.5,697v5M1059,720.5h5M1061.5,718v5M1062,696.5h5M1064.5,694v5M1065,692.5h5M1067.5,690v5M1063,724.5h5M1065.5,722v5M1066,736.5h5M1068.5,734v5M1068,721.5h5M1070.5,719v5M1064,723.5h5M1066.5,721v5M1064,715.5h5M1066.5,713v5M1066,724.5h5M1068.5,722v5M1065,735.5h5M1067.5,733v5M1070,699.5h5M1072.5,697v5M1072,684.5h5M1074.5,682v5M1072,684.5h5M1074.5,682v5M1072,681.5h5M1074.5,679v5M1072,669.5h5M1074.5,667v5M1073,680.5h5M1075.5,678v5M1071,664.5h5M1073.5,662v5M1073,673.5h5M1075.5,671v5M1074,592.5h5M1076.5,590v5M1076,648.5h5M1078.5,646v5M1076,628.5h5M1078.5,626v5M1077,685.5h5M1079.5,683v5M1073,668.5h5M1075.5,666v5M1078,635.5h5M1080.5,633v5M1079,656.5h5M1081.5,654v5M1079,599.5h5M1081.5,597v5M1076,687.5h5M1078.5,685v5M1076,611.5h5M1078.5,609v5M1074,591.5h5M1076.5,589v5M1076,657.5h5M1078.5,655v5M1077,602.5h5M1079.5,600v5M1076,618.5h5M1078.5,616v5M1077,681.5h5M1079.5,679v5M1079,627.5h5M1081.5,625v5M1077,683.5h5M1079.5,681v5M1078,617.5h5M1080.5,615v5M1083,675.5h5M1085.5,673v5M1083,660.5h5M1085.5,658v5M1082,671.5h5M1084.5,669v5M1082,663.5h5M1084.5,661v5M1082,669.5h5M1084.5,667v5M1090,660.5h5M1092.5,658v5M1089,692.5h5M1091.5,690v5M1089,615.5h5M1091.5,613v5M1088,659.5h5M1090.5,657v5M1091,692.5h5M1093.5,690v5M1091,648.5h5M1093.5,646v5M1089,659.5h5M1091.5,657v5M1090,622.5h5M1092.5,620v5M1091,666.5h5M1093.5,664v5M1088,630.5h5M1090.5,628v5M1090,699.5h5M1092.5,697v5M1088,623.5h5M1090.5,621v5M1088,691.5h5M1090.5,689v5M1091,682.5h5M1093.5,680v5M1096,797.5h5M1098.5,795v5M1096,838.5h5M1098.5,836v5M1096,787.5h5M1098.5,785v5M1095,837.5h5M1097.5,835v5M1095,846.5h5M1097.5,844v5M1092,811.5h5M1094.5,809v5M1093,850.5h5M1095.5,848v5M1096,812.5h5M1098.5,810v5M1092,798.5h5M1094.5,796v5M1103,883.5h5M1105.5,881v5M1103,873.5h5M1105.5,871v5M1104,875.5h5M1106.5,873v5M1103,832.5h5M1105.5,830v5M1103,832.5h5M1105.5,830v5M1104,831.5h5M1106.5,829v5M1102,857.5h5M1104.5,855v5M1104,828.5h5M1106.5,826v5M1104,851.5h5M1106.5,849v5M1112,874.5h5M1114.5,872v5M1110,868.5h5M1112.5,866v5M1111,855.5h5M1113.5,853v5M1110,856.5h5M1112.5,854v5M1110,866.5h5M1112.5,864v5M1110,908.5h5M1112.5,906v5M1109,896.5h5M1111.5,894v5M1107,810.5h5M1109.5,808v5M1148,898.5h5M1150.5,896v5M1148,898.5h5M1150.5,896v5M1124,706.5h5M1126.5,704v5M1127,802.5h5M1129.5,800v5M1125,803.5h5M1127.5,801v5M1167,803.5h5M1169.5,801v5M1165,801.5h5M1167.5,799v5M1167,801.5h5M1169.5,799v5M1164,841.5h5M1166.5,839v5M1165,800.5h5M1167.5,798v5M1177,783.5h5M1179.5,781v5M1178,785.5h5M1180.5,783v5M1177,783.5h5M1179.5,781v5M1175,790.5h5M1177.5,788v5M1179,819.5h5M1181.5,817v5M1179,819.5h5M1181.5,817v5M1182,882.5h5M1184.5,880v5M1176,878.5h5M1178.5,876v5M1194,767.5h5M1196.5,765v5M1198,768.5h5M1200.5,766v5M1190,779.5h5M1192.5,777v5M1195,767.5h5M1197.5,765v5M1229,640.5h5M1231.5,638v5M1229,710.5h5M1231.5,708v5M1422,977.5h5M1424.5,975v5M1426,1008.5h5M1428.5,1006v5M1427,1017.5h5M1429.5,1015v5M1427,1019.5h5M1429.5,1017v5M1438,1034.5h5M1440.5,1032v5M1438,1032.5h5M1440.5,1030v5M1438,1030.5h5M1440.5,1028v5M1456,1068.5h5M1458.5,1066v5M1459,1105.5h5M1461.5,1103v5M1456,1076.5h5M1458.5,1074v5M1457,1090.5h5M1459.5,1088v5M1457,1082.5h5M1459.5,1080v5M760,900.5h5M762.5,898v5M904,910.5h5M906.5,908v5M905,887.5h5M907.5,885v5M905,890.5h5M907.5,888v5M1200,757.5h5M1202.5,755v5M1418,895.5h5M1420.5,893v5M1417,916.5h5M1419.5,914v5" stroke="#000" stroke-width="1" shape-rendering="crispEdges" fill="none"/><path d="M911,864.5h5M913.5,862v5M913,838.5h5M915.5,836v5M926,744.5h5M928.5,742v5M926,738.5h5M928.5,736v5M928,737.5h5M930.5,735v5M928,750.5h5M930.5,748v5M944,763.5h5M946.5,761v5M981,808.5h5M983.5,806v5M976,826.5h5M978.5,824v5M986,807.5h5M988.5,805v5M986,819.5h5M988.5,817v5M990,904.5h5M992.5,902v5M988,934.5h5M990.5,932v5M992,772.5h5M994.5,770v5M1003,835.5h5M1005.5,833v5M992,815.5h5M994.5,813v5M1003,809.5h5M1005.5,807v5M1000,806.5h5M1002.5,804v5M1002,810.5h5M1004.5,808v5M995,825.5h5M997.5,823v5M994,847.5h5M996.5,845v5M994,801.5h5M996.5,799v5M1007,837.5h5M1009.5,835v5M1008,741.5h5M1010.5,739v5M1012,742.5h5M1014.5,740v5M1012,741.5h5M1014.5,739v5M1020,789.5h5M1022.5,787v5M1020,820.5h5M1022.5,818v5M1016,822.5h5M1018.5,820v5M1030,764.5h5M1032.5,762v5M1031,699.5h5M1033.5,697v5M1027,791.5h5M1029.5,789v5M1028,804.5h5M1030.5,802v5M1023,735.5h5M1025.5,733v5M1032,775.5h5M1034.5,773v5M1028,731.5h5M1030.5,729v5M1028,758.5h5M1030.5,756v5M1029,739.5h5M1031.5,737v5M1022,709.5h5M1024.5,707v5M1023,789.5h5M1025.5,787v5M1029,691.5h5M1031.5,689v5M1030,665.5h5M1032.5,663v5M1035,785.5h5M1037.5,783v5M1033,736.5h5M1035.5,734v5M1036,751.5h5M1038.5,749v5M1034,803.5h5M1036.5,801v5M1036,761.5h5M1038.5,759v5M1036,729.5h5M1038.5,727v5M1038,730.5h5M1040.5,728v5M1041,758.5h5M1043.5,756v5M1041,729.5h5M1043.5,727v5M1047,711.5h5M1049.5,709v5M1058,705.5h5M1060.5,703v5M1064,702.5h5M1066.5,700v5M1062,687.5h5M1064.5,685v5M1060,723.5h5M1062.5,721v5M1066,734.5h5M1068.5,732v5M1072,676.5h5M1074.5,674v5M1071,674.5h5M1073.5,672v5M1074,607.5h5M1076.5,605v5M1074,602.5h5M1076.5,600v5M1077,605.5h5M1079.5,603v5M1079,667.5h5M1081.5,665v5M1077,594.5h5M1079.5,592v5M1078,639.5h5M1080.5,637v5M1076,642.5h5M1078.5,640v5M1078,670.5h5M1080.5,668v5M1084,660.5h5M1086.5,658v5M1084,658.5h5M1086.5,656v5M1089,682.5h5M1091.5,680v5M1090,636.5h5M1092.5,634v5M1091,629.5h5M1093.5,627v5M1089,695.5h5M1091.5,693v5M1089,652.5h5M1091.5,650v5M1088,700.5h5M1090.5,698v5M1090,614.5h5M1092.5,612v5M1093,805.5h5M1095.5,803v5M1096,812.5h5M1098.5,810v5M1102,888.5h5M1104.5,886v5M1123,769.5h5M1125.5,767v5M1125,819.5h5M1127.5,817v5M1153,754.5h5M1155.5,752v5M914,854.5h5M916.5,852v5" stroke="#00f" stroke-width="1" shape-rendering="crispEdges" fill="none"/><path d="M653,993.5h5M655.5,991v5M655,982.5h5M657.5,980v5M654,991.5h5M656.5,989v5M658,872.5h5M660.5,870v5M658,913.5h5M660.5,911v5M659,877.5h5M661.5,875v5M659,880.5h5M661.5,878v5M662,899.5h5M664.5,897v5M661,901.5h5M663.5,899v5M662,874.5h5M664.5,872v5M663,895.5h5M665.5,893v5M662,914.5h5M664.5,912v5M671,888.5h5M673.5,886v5M668,892.5h5M670.5,890v5M670,908.5h5M672.5,906v5M670,890.5h5M672.5,888v5M670,909.5h5M672.5,907v5M669,888.5h5M671.5,886v5M671,904.5h5M673.5,902v5M675,866.5h5M677.5,864v5M677,859.5h5M679.5,857v5M677,866.5h5M679.5,864v5M678,858.5h5M680.5,856v5M676,855.5h5M678.5,853v5M676,886.5h5M678.5,884v5M685,1074.5h5M687.5,1072v5M702,973.5h5M704.5,971v5M704,944.5h5M706.5,942v5M709,919.5h5M711.5,917v5M923,801.5h5M925.5,799v5M956,752.5h5M958.5,750v5M961,801.5h5M963.5,799v5M960,790.5h5M962.5,788v5M961,812.5h5M963.5,810v5M963,839.5h5M965.5,837v5M968,830.5h5M970.5,828v5M969,833.5h5M971.5,831v5M970,785.5h5M972.5,783v5M971,775.5h5M973.5,773v5M982,806.5h5M984.5,804v5M977,830.5h5M979.5,828v5M986,825.5h5M988.5,823v5M986,845.5h5M988.5,843v5M990,887.5h5M992.5,885v5M991,922.5h5M993.5,920v5M991,904.5h5M993.5,902v5M989,933.5h5M991.5,931v5M992,755.5h5M994.5,753v5M1008,803.5h5M1010.5,801v5M993,776.5h5M995.5,774v5M1005,771.5h5M1007.5,769v5M1003,797.5h5M1005.5,795v5M999,786.5h5M1001.5,784v5M1005,827.5h5M1007.5,825v5M1007,789.5h5M1009.5,787v5M1002,823.5h5M1004.5,821v5M1006,841.5h5M1008.5,839v5M1005,820.5h5M1007.5,818v5M1014,759.5h5M1016.5,757v5M1014,740.5h5M1016.5,738v5M1010,748.5h5M1012.5,746v5M1009,746.5h5M1011.5,744v5M1017,799.5h5M1019.5,797v5M1020,817.5h5M1022.5,815v5M1020,769.5h5M1022.5,767v5M1019,776.5h5M1021.5,774v5M1017,791.5h5M1019.5,789v5M1023,752.5h5M1025.5,750v5M1028,765.5h5M1030.5,763v5M1024,771.5h5M1026.5,769v5M1025,721.5h5M1027.5,719v5M1028,724.5h5M1030.5,722v5M1031,771.5h5M1033.5,769v5M1030,795.5h5M1032.5,793v5M1024,794.5h5M1026.5,792v5M1022,718.5h5M1024.5,716v5M1028,649.5h5M1030.5,647v5M1029,696.5h5M1031.5,694v5M1030,653.5h5M1032.5,651v5M1037,781.5h5M1039.5,779v5M1033,749.5h5M1035.5,747v5M1033,770.5h5M1035.5,768v5M1035,735.5h5M1037.5,733v5M1043,762.5h5M1045.5,760v5M1040,744.5h5M1042.5,742v5M1039,744.5h5M1041.5,742v5M1042,760.5h5M1044.5,758v5M1047,715.5h5M1049.5,713v5M1050,707.5h5M1052.5,705v5M1047,723.5h5M1049.5,721v5M1049,701.5h5M1051.5,699v5M1051,671.5h5M1053.5,669v5M1051,661.5h5M1053.5,659v5M1051,671.5h5M1053.5,669v5M1052,673.5h5M1054.5,671v5M1051,653.5h5M1053.5,651v5M1060,720.5h5M1062.5,718v5M1057,717.5h5M1059.5,715v5M1061,711.5h5M1063.5,709v5M1062,694.5h5M1064.5,692v5M1063,686.5h5M1065.5,684v5M1068,708.5h5M1070.5,706v5M1071,667.5h5M1073.5,665v5M1072,693.5h5M1074.5,691v5M1072,685.5h5M1074.5,683v5M1070,688.5h5M1072.5,686v5M1076,662.5h5M1078.5,660v5M1079,652.5h5M1081.5,650v5M1079,597.5h5M1081.5,595v5M1079,621.5h5M1081.5,619v5M1076,597.5h5M1078.5,595v5M1078,589.5h5M1080.5,587v5M1082,665.5h5M1084.5,663v5M1084,668.5h5M1086.5,666v5M1082,673.5h5M1084.5,671v5M1090,696.5h5M1092.5,694v5M1088,679.5h5M1090.5,677v5M1092,683.5h5M1094.5,681v5M1090,693.5h5M1092.5,691v5M1090,622.5h5M1092.5,620v5M1088,648.5h5M1090.5,646v5M1088,659.5h5M1090.5,657v5M1091,735.5h5M1093.5,733v5M1091,787.5h5M1093.5,785v5M1097,834.5h5M1099.5,832v5M1095,791.5h5M1097.5,789v5M1095,821.5h5M1097.5,819v5M1093,840.5h5M1095.5,838v5M1093,823.5h5M1095.5,821v5M1104,880.5h5M1106.5,878v5M1102,829.5h5M1104.5,827v5M1104,891.5h5M1106.5,889v5M1114,874.5h5M1116.5,872v5M1109,873.5h5M1111.5,871v5M1110,855.5h5M1112.5,853v5M1109,850.5h5M1111.5,848v5M1112,872.5h5M1114.5,870v5M1114,875.5h5M1116.5,873v5M1113,875.5h5M1115.5,873v5M1113,863.5h5M1115.5,861v5M1110,849.5h5M1112.5,847v5M1115,847.5h5M1117.5,845v5M1148,894.5h5M1150.5,892v5M1148,897.5h5M1150.5,895v5M1127,738.5h5M1129.5,736v5M1124,711.5h5M1126.5,709v5M1127,736.5h5M1129.5,734v5M1124,809.5h5M1126.5,807v5M1125,823.5h5M1127.5,821v5M1176,823.5h5M1178.5,821v5M1182,805.5h5M1184.5,803v5M1182,800.5h5M1184.5,798v5M1177,798.5h5M1179.5,796v5M1175,824.5h5M1177.5,822v5M1179,812.5h5M1181.5,810v5M1178,798.5h5M1180.5,796v5M1180,814.5h5M1182.5,812v5M1181,814.5h5M1183.5,812v5M1180,878.5h5M1182.5,876v5M1197,768.5h5M1199.5,766v5M1195,782.5h5M1197.5,780v5M1421,978.5h5M1423.5,976v5M1421,988.5h5M1423.5,986v5M1439,1030.5h5M1441.5,1028v5M1431,1060.5h5M1433.5,1058v5M1433,1053.5h5M1435.5,1051v5M1443,951.5h5M1445.5,949v5M1448,978.5h5M1450.5,976v5M1444,939.5h5M1446.5,937v5M1447,946.5h5M1449.5,944v5M1446,972.5h5M1448.5,970v5M1443,979.5h5M1445.5,977v5M1444,941.5h5M1446.5,939v5M1445,943.5h5M1447.5,941v5M1443,939.5h5M1445.5,937v5M1447,959.5h5M1449.5,957v5M1448,935.5h5M1450.5,933v5M1453,1012.5h5M1455.5,1010v5M1453,961.5h5M1455.5,959v5M1452,922.5h5M1454.5,920v5M1453,962.5h5M1455.5,960v5M1457,1082.5h5M1459.5,1080v5M1456,1095.5h5M1458.5,1093v5M1463,812.5h5M1465.5,810v5M1464,795.5h5M1466.5,793v5M1464,862.5h5M1466.5,860v5M1463,843.5h5M1465.5,841v5M1464,900.5h5M1466.5,898v5M1465,878.5h5M1467.5,876v5M1463,883.5h5M1465.5,881v5M1466,894.5h5M1468.5,892v5M1471,834.5h5M1473.5,832v5M1470,837.5h5M1472.5,835v5M1473,939.5h5M1475.5,937v5M1489,869.5h5M1491.5,867v5M1481,859.5h5M1483.5,857v5M1490,836.5h5M1492.5,834v5M1485,854.5h5M1487.5,852v5M1483,900.5h5M1485.5,898v5M1485,854.5h5M1487.5,852v5M1490,852.5h5M1492.5,850v5M1484,823.5h5M1486.5,821v5M1479,874.5h5M1481.5,872v5M1486,818.5h5M1488.5,816v5M1488,836.5h5M1490.5,834v5M1483,847.5h5M1485.5,845v5M1479,809.5h5M1481.5,807v5M1482,861.5h5M1484.5,859v5M1495,951.5h5M1497.5,949v5M1497,983.5h5M1499.5,981v5M1500,931.5h5M1502.5,929v5M1492,957.5h5M1494.5,955v5M1491,960.5h5M1493.5,958v5M1498,980.5h5M1500.5,978v5M1491,989.5h5M1493.5,987v5M1494,966.5h5M1496.5,964v5M1499,943.5h5M1501.5,941v5M1492,956.5h5M1494.5,954v5M1493,943.5h5M1495.5,941v5M1497,961.5h5M1499.5,959v5M1500,912.5h5M1502.5,910v5M1499,916.5h5M1501.5,914v5M1495,982.5h5M1497.5,980v5M1498,916.5h5M1500.5,914v5M1496,914.5h5M1498.5,912v5M1496,926.5h5M1498.5,924v5M1500,947.5h5M1502.5,945v5M1495,937.5h5M1497.5,935v5M1492,954.5h5M1494.5,952v5M1494,963.5h5M1496.5,961v5M1495,904.5h5M1497.5,902v5M1492,902.5h5M1494.5,900v5M1492,904.5h5M1494.5,902v5M1499,990.5h5M1501.5,988v5M1500,921.5h5M1502.5,919v5M1491,936.5h5M1493.5,934v5M1495,1028.5h5M1497.5,1026v5M1497,1027.5h5M1499.5,1025v5M1497,1010.5h5M1499.5,1008v5M1498,1025.5h5M1500.5,1023v5M1496,1057.5h5M1498.5,1055v5M1498,1072.5h5M1500.5,1070v5M1495,1023.5h5M1497.5,1021v5M1496,1091.5h5M1498.5,1089v5M1497,1076.5h5M1499.5,1074v5M1498,1029.5h5M1500.5,1027v5M695,932.5h5M697.5,930v5M756,912.5h5M758.5,910v5M1417,921.5h5M1419.5,919v5" stroke="#0f0" stroke-width="1" shape-rendering="crispEdges" fill="none"/><path d="M655,939.5h5M657.5,937v5M654,983.5h5M656.5,981v5M659,922.5h5M661.5,920v5M658,880.5h5M660.5,878v5M658,936.5h5M660.5,934v5M658,919.5h5M660.5,917v5M663,915.5h5M665.5,913v5M661,896.5h5M663.5,894v5M671,884.5h5M673.5,882v5M717,902.5h5M719.5,900v5M928,728.5h5M930.5,726v5M939,804.5h5M941.5,802v5M933,823.5h5M935.5,821v5M942,825.5h5M944.5,823v5M931,842.5h5M933.5,840v5M932,817.5h5M934.5,815v5M950,758.5h5M952.5,756v5M950,761.5h5M952.5,759v5M968,828.5h5M970.5,826v5M966,843.5h5M968.5,841v5M967,836.5h5M969.5,834v5M971,833.5h5M973.5,831v5M969,813.5h5M971.5,811v5M978,836.5h5M980.5,834v5M986,822.5h5M988.5,820v5M986,822.5h5M988.5,820v5M986,787.5h5M988.5,785v5M988,864.5h5M990.5,862v5M990,895.5h5M992.5,893v5M988,952.5h5M990.5,950v5M990,921.5h5M992.5,919v5M1000,774.5h5M1002.5,772v5M1000,771.5h5M1002.5,769v5M995,776.5h5M997.5,774v5M1007,830.5h5M1009.5,828v5M994,779.5h5M996.5,777v5M1001,777.5h5M1003.5,775v5M1001,794.5h5M1003.5,792v5M1006,793.5h5M1008.5,791v5M1014,748.5h5M1016.5,746v5M1008,749.5h5M1010.5,747v5M1016,799.5h5M1018.5,797v5M1019,814.5h5M1021.5,812v5M1019,782.5h5M1021.5,780v5M1017,819.5h5M1019.5,817v5M1015,818.5h5M1017.5,816v5M1026,767.5h5M1028.5,765v5M1032,733.5h5M1034.5,731v5M1032,754.5h5M1034.5,752v5M1032,715.5h5M1034.5,713v5M1032,739.5h5M1034.5,737v5M1022,735.5h5M1024.5,733v5M1024,799.5h5M1026.5,797v5M1025,798.5h5M1027.5,796v5M1029,803.5h5M1031.5,801v5M1023,703.5h5M1025.5,701v5M1024,717.5h5M1026.5,715v5M1029,650.5h5M1031.5,648v5M1029,683.5h5M1031.5,681v5M1029,662.5h5M1031.5,660v5M1030,662.5h5M1032.5,660v5M1030,686.5h5M1032.5,684v5M1033,710.5h5M1035.5,708v5M1032,718.5h5M1034.5,716v5M1035,777.5h5M1037.5,775v5M1034,766.5h5M1036.5,764v5M1037,724.5h5M1039.5,722v5M1033,713.5h5M1035.5,711v5M1035,716.5h5M1037.5,714v5M1035,752.5h5M1037.5,750v5M1037,751.5h5M1039.5,749v5M1043,729.5h5M1045.5,727v5M1047,693.5h5M1049.5,691v5M1051,641.5h5M1053.5,639v5M1062,694.5h5M1064.5,692v5M1065,718.5h5M1067.5,716v5M1058,724.5h5M1060.5,722v5M1065,719.5h5M1067.5,717v5M1070,689.5h5M1072.5,687v5M1072,677.5h5M1074.5,675v5M1075,696.5h5M1077.5,694v5M1078,668.5h5M1080.5,666v5M1077,663.5h5M1079.5,661v5M1074,594.5h5M1076.5,592v5M1080,677.5h5M1082.5,675v5M1075,604.5h5M1077.5,602v5M1074,673.5h5M1076.5,671v5M1075,629.5h5M1077.5,627v5M1073,683.5h5M1075.5,681v5M1076,640.5h5M1078.5,638v5M1083,668.5h5M1085.5,666v5M1083,664.5h5M1085.5,662v5M1083,662.5h5M1085.5,660v5M1089,615.5h5M1091.5,613v5M1090,627.5h5M1092.5,625v5M1089,686.5h5M1091.5,684v5M1091,630.5h5M1093.5,628v5M1097,818.5h5M1099.5,816v5M1104,884.5h5M1106.5,882v5M1114,856.5h5M1116.5,854v5M1114,872.5h5M1116.5,870v5M1123,719.5h5M1125.5,717v5M1155,859.5h5M1157.5,857v5M1177,804.5h5M1179.5,802v5M1178,884.5h5M1180.5,882v5M1181,890.5h5M1183.5,888v5M1180,876.5h5M1182.5,874v5M1199,782.5h5M1201.5,780v5M1193,771.5h5M1195.5,769v5M1443,971.5h5M1445.5,969v5M1445,968.5h5M1447.5,966v5M1443,952.5h5M1445.5,950v5M1447,971.5h5M1449.5,969v5M1453,992.5h5M1455.5,990v5M1453,957.5h5M1455.5,955v5M1453,962.5h5M1455.5,960v5M1463,764.5h5M1465.5,762v5M1462,805.5h5M1464.5,803v5M1465,830.5h5M1467.5,828v5M1465,878.5h5M1467.5,876v5M1463,879.5h5M1465.5,877v5M1464,899.5h5M1466.5,897v5M1464,892.5h5M1466.5,890v5M1472,839.5h5M1474.5,837v5M1475,903.5h5M1477.5,901v5M1470,886.5h5M1472.5,884v5M1490,824.5h5M1492.5,822v5M1488,838.5h5M1490.5,836v5M1488,838.5h5M1490.5,836v5M1491,841.5h5M1493.5,839v5M1486,893.5h5M1488.5,891v5M1493,958.5h5M1495.5,956v5M1495,945.5h5M1497.5,943v5M1499,988.5h5M1501.5,986v5M1499,965.5h5M1501.5,963v5M1499,916.5h5M1501.5,914v5M1492,924.5h5M1494.5,922v5M1492,904.5h5M1494.5,902v5M1494,907.5h5M1496.5,905v5M1495,926.5h5M1497.5,924v5M1496,1006.5h5M1498.5,1004v5M1496,1084.5h5M1498.5,1082v5M1499,1035.5h5M1501.5,1033v5M1496,1013.5h5M1498.5,1011v5M1498,1070.5h5M1500.5,1068v5M1496,1033.5h5M1498.5,1031v5M1498,1056.5h5M1500.5,1054v5M682,1024.5h5M684.5,1022v5" stroke="#ffa500" stroke-width="1" shape-rendering="crispEdges" fill="none"/><path d="M906,897.5h5M908.5,895v5M912,837.5h5M914.5,835v5M917,831.5h5M919.5,829v5M914,836.5h5M916.5,834v5M928,735.5h5M930.5,733v5M927,738.5h5M929.5,736v5M937,817.5h5M939.5,815v5M941,828.5h5M943.5,826v5M955,757.5h5M957.5,755v5M952,781.5h5M954.5,779v5M960,791.5h5M962.5,789v5M964,791.5h5M966.5,789v5M969,836.5h5M971.5,834v5M978,830.5h5M980.5,828v5M981,816.5h5M983.5,814v5M977,830.5h5M979.5,828v5M982,807.5h5M984.5,805v5M976,825.5h5M978.5,823v5M982,824.5h5M984.5,822v5M976,809.5h5M978.5,807v5M978,832.5h5M980.5,830v5M986,812.5h5M988.5,810v5M986,785.5h5M988.5,783v5M989,946.5h5M991.5,944v5M992,776.5h5M994.5,774v5M992,775.5h5M994.5,773v5M1001,838.5h5M1003.5,836v5M993,817.5h5M995.5,815v5M1005,844.5h5M1007.5,842v5M1001,839.5h5M1003.5,837v5M999,839.5h5M1001.5,837v5M1003,824.5h5M1005.5,822v5M1005,794.5h5M1007.5,792v5M1007,818.5h5M1009.5,816v5M1005,794.5h5M1007.5,792v5M1015,741.5h5M1017.5,739v5M1010,766.5h5M1012.5,764v5M1017,800.5h5M1019.5,798v5M1016,780.5h5M1018.5,778v5M1017,804.5h5M1019.5,802v5M1023,705.5h5M1025.5,703v5M1030,764.5h5M1032.5,762v5M1026,700.5h5M1028.5,698v5M1028,757.5h5M1030.5,755v5M1024,744.5h5M1026.5,742v5M1029,723.5h5M1031.5,721v5M1029,671.5h5M1031.5,669v5M1029,675.5h5M1031.5,673v5M1034,764.5h5M1036.5,762v5M1033,729.5h5M1035.5,727v5M1033,743.5h5M1035.5,741v5M1034,804.5h5M1036.5,802v5M1039,744.5h5M1041.5,742v5M1049,720.5h5M1051.5,718v5M1065,720.5h5M1067.5,718v5M1065,711.5h5M1067.5,709v5M1064,693.5h5M1066.5,691v5M1065,705.5h5M1067.5,703v5M1065,737.5h5M1067.5,735v5M1064,725.5h5M1066.5,723v5M1064,731.5h5M1066.5,729v5M1076,620.5h5M1078.5,618v5M1075,660.5h5M1077.5,658v5M1080,634.5h5M1082.5,632v5M1079,622.5h5M1081.5,620v5M1079,617.5h5M1081.5,615v5M1076,661.5h5M1078.5,659v5M1076,619.5h5M1078.5,617v5M1077,694.5h5M1079.5,692v5M1075,599.5h5M1077.5,597v5M1077,640.5h5M1079.5,638v5M1074,651.5h5M1076.5,649v5M1083,679.5h5M1085.5,677v5M1084,672.5h5M1086.5,670v5M1089,628.5h5M1091.5,626v5M1088,666.5h5M1090.5,664v5M1088,634.5h5M1090.5,632v5M1089,670.5h5M1091.5,668v5M1091,611.5h5M1093.5,609v5M1090,612.5h5M1092.5,610v5M1091,714.5h5M1093.5,712v5M1096,849.5h5M1098.5,847v5M1095,809.5h5M1097.5,807v5M1095,809.5h5M1097.5,807v5M1092,841.5h5M1094.5,839v5M1093,849.5h5M1095.5,847v5M1095,807.5h5M1097.5,805v5M1096,845.5h5M1098.5,843v5M1103,839.5h5M1105.5,837v5M1148,897.5h5M1150.5,895v5M1125,822.5h5M1127.5,820v5M1125,811.5h5M1127.5,809v5M1152,759.5h5M1154.5,757v5" stroke="#f00" stroke-width="1" shape-rendering="crispEdges" fill="none"/><path d="M653,991.5h5M655.5,989v5M676,862.5h5M678.5,860v5M684,1078.5h5M686.5,1076v5M700,975.5h5M702.5,973v5M905,892.5h5M907.5,890v5M914,837.5h5M916.5,835v5M913,832.5h5M915.5,830v5M915,838.5h5M917.5,836v5M911,831.5h5M913.5,829v5M929,736.5h5M931.5,734v5M927,733.5h5M929.5,731v5M929,728.5h5M931.5,726v5M929,754.5h5M931.5,752v5M933,827.5h5M935.5,825v5M937,824.5h5M939.5,822v5M935,811.5h5M937.5,809v5M942,805.5h5M944.5,803v5M938,814.5h5M940.5,812v5M934,824.5h5M936.5,822v5M936,832.5h5M938.5,830v5M942,825.5h5M944.5,823v5M931,821.5h5M933.5,819v5M945,764.5h5M947.5,762v5M948,791.5h5M950.5,789v5M946,780.5h5M948.5,778v5M957,753.5h5M959.5,751v5M956,755.5h5M958.5,753v5M957,758.5h5M959.5,756v5M966,795.5h5M968.5,793v5M960,796.5h5M962.5,794v5M962,809.5h5M964.5,807v5M970,842.5h5M972.5,840v5M966,832.5h5M968.5,830v5M971,836.5h5M973.5,834v5M967,821.5h5M969.5,819v5M965,829.5h5M967.5,827v5M972,845.5h5M974.5,843v5M965,821.5h5M967.5,819v5M971,832.5h5M973.5,830v5M973,807.5h5M975.5,805v5M970,786.5h5M972.5,784v5M971,781.5h5M973.5,779v5M972,777.5h5M974.5,775v5M979,808.5h5M981.5,806v5M977,807.5h5M979.5,805v5M985,820.5h5M987.5,818v5M980,831.5h5M982.5,829v5M975,824.5h5M977.5,822v5M979,829.5h5M981.5,827v5M976,825.5h5M978.5,823v5M978,827.5h5M980.5,825v5M979,825.5h5M981.5,823v5M978,804.5h5M980.5,802v5M985,839.5h5M987.5,837v5M986,766.5h5M988.5,764v5M986,761.5h5M988.5,759v5M986,773.5h5M988.5,771v5M986,846.5h5M988.5,844v5M986,787.5h5M988.5,785v5M986,753.5h5M988.5,751v5M986,815.5h5M988.5,813v5M991,861.5h5M993.5,859v5M990,952.5h5M992.5,950v5M990,950.5h5M992.5,948v5M990,935.5h5M992.5,933v5M989,907.5h5M991.5,905v5M992,942.5h5M994.5,940v5M989,936.5h5M991.5,934v5M991,940.5h5M993.5,938v5M991,914.5h5M993.5,912v5M992,767.5h5M994.5,765v5M992,767.5h5M994.5,765v5M995,794.5h5M997.5,792v5M1006,787.5h5M1008.5,785v5M994,791.5h5M996.5,789v5M1005,789.5h5M1007.5,787v5M996,802.5h5M998.5,800v5M1007,780.5h5M1009.5,778v5M1000,820.5h5M1002.5,818v5M998,806.5h5M1000.5,804v5M1000,833.5h5M1002.5,831v5M1001,812.5h5M1003.5,810v5M1001,808.5h5M1003.5,806v5M999,842.5h5M1001.5,840v5M995,783.5h5M997.5,781v5M1002,825.5h5M1004.5,823v5M1007,831.5h5M1009.5,829v5M998,778.5h5M1000.5,776v5M993,798.5h5M995.5,796v5M996,836.5h5M998.5,834v5M994,822.5h5M996.5,820v5M997,823.5h5M999.5,821v5M1006,847.5h5M1008.5,845v5M991,838.5h5M993.5,836v5M1008,805.5h5M1010.5,803v5M994,844.5h5M996.5,842v5M1012,742.5h5M1014.5,740v5M1016,728.5h5M1018.5,726v5M1011,731.5h5M1013.5,729v5M1009,755.5h5M1011.5,753v5M1013,745.5h5M1015.5,743v5M1010,766.5h5M1012.5,764v5M1012,736.5h5M1014.5,734v5M1009,743.5h5M1011.5,741v5M1015,807.5h5M1017.5,805v5M1015,785.5h5M1017.5,783v5M1018,829.5h5M1020.5,827v5M1017,818.5h5M1019.5,816v5M1020,786.5h5M1022.5,784v5M1020,805.5h5M1022.5,803v5M1029,793.5h5M1031.5,791v5M1028,749.5h5M1030.5,747v5M1027,720.5h5M1029.5,718v5M1024,807.5h5M1026.5,805v5M1025,717.5h5M1027.5,715v5M1030,776.5h5M1032.5,774v5M1025,750.5h5M1027.5,748v5M1025,755.5h5M1027.5,753v5M1025,751.5h5M1027.5,749v5M1022,729.5h5M1024.5,727v5M1025,797.5h5M1027.5,795v5M1031,770.5h5M1033.5,768v5M1031,747.5h5M1033.5,745v5M1023,754.5h5M1025.5,752v5M1030,697.5h5M1032.5,695v5M1022,702.5h5M1024.5,700v5M1027,758.5h5M1029.5,756v5M1024,801.5h5M1026.5,799v5M1023,729.5h5M1025.5,727v5M1028,716.5h5M1030.5,714v5M1029,778.5h5M1031.5,776v5M1023,744.5h5M1025.5,742v5M1031,734.5h5M1033.5,732v5M1023,768.5h5M1025.5,766v5M1029,672.5h5M1031.5,670v5M1030,665.5h5M1032.5,663v5M1029,683.5h5M1031.5,681v5M1029,680.5h5M1031.5,678v5M1028,691.5h5M1030.5,689v5M1029,651.5h5M1031.5,649v5M1035,716.5h5M1037.5,714v5M1034,772.5h5M1036.5,770v5M1036,751.5h5M1038.5,749v5M1033,805.5h5M1035.5,803v5M1035,747.5h5M1037.5,745v5M1033,735.5h5M1035.5,733v5M1034,759.5h5M1036.5,757v5M1037,739.5h5M1039.5,737v5M1036,742.5h5M1038.5,740v5M1033,770.5h5M1035.5,768v5M1035,799.5h5M1037.5,797v5M1037,756.5h5M1039.5,754v5M1034,806.5h5M1036.5,804v5M1037,708.5h5M1039.5,706v5M1034,798.5h5M1036.5,796v5M1036,763.5h5M1038.5,761v5M1037,710.5h5M1039.5,708v5M1036,736.5h5M1038.5,734v5M1038,746.5h5M1040.5,744v5M1042,756.5h5M1044.5,754v5M1037,749.5h5M1039.5,747v5M1040,754.5h5M1042.5,752v5M1043,755.5h5M1045.5,753v5M1040,735.5h5M1042.5,733v5M1037,744.5h5M1039.5,742v5M1037,736.5h5M1039.5,734v5M1047,691.5h5M1049.5,689v5M1049,697.5h5M1051.5,695v5M1047,736.5h5M1049.5,734v5M1048,732.5h5M1050.5,730v5M1051,734.5h5M1053.5,732v5M1046,705.5h5M1048.5,703v5M1049,692.5h5M1051.5,690v5M1046,727.5h5M1048.5,725v5M1046,729.5h5M1048.5,727v5M1048,713.5h5M1050.5,711v5M1049,727.5h5M1051.5,725v5M1049,711.5h5M1051.5,709v5M1052,666.5h5M1054.5,664v5M1051,669.5h5M1053.5,667v5M1051,669.5h5M1053.5,667v5M1051,678.5h5M1053.5,676v5M1052,683.5h5M1054.5,681v5M1052,660.5h5M1054.5,658v5M1062,709.5h5M1064.5,707v5M1059,704.5h5M1061.5,702v5M1065,719.5h5M1067.5,717v5M1064,714.5h5M1066.5,712v5M1056,716.5h5M1058.5,714v5M1063,710.5h5M1065.5,708v5M1060,698.5h5M1062.5,696v5M1064,712.5h5M1066.5,710v5M1055,710.5h5M1057.5,708v5M1065,704.5h5M1067.5,702v5M1065,727.5h5M1067.5,725v5M1065,725.5h5M1067.5,723v5M1067,730.5h5M1069.5,728v5M1066,728.5h5M1068.5,726v5M1070,701.5h5M1072.5,699v5M1072,672.5h5M1074.5,670v5M1072,675.5h5M1074.5,673v5M1071,693.5h5M1073.5,691v5M1070,668.5h5M1072.5,666v5M1073,634.5h5M1075.5,632v5M1079,594.5h5M1081.5,592v5M1079,654.5h5M1081.5,652v5M1079,610.5h5M1081.5,608v5M1075,595.5h5M1077.5,593v5M1077,623.5h5M1079.5,621v5M1076,646.5h5M1078.5,644v5M1078,631.5h5M1080.5,629v5M1076,632.5h5M1078.5,630v5M1079,644.5h5M1081.5,642v5M1075,650.5h5M1077.5,648v5M1075,604.5h5M1077.5,602v5M1075,635.5h5M1077.5,633v5M1079,680.5h5M1081.5,678v5M1079,683.5h5M1081.5,681v5M1078,590.5h5M1080.5,588v5M1079,673.5h5M1081.5,671v5M1078,660.5h5M1080.5,658v5M1080,636.5h5M1082.5,634v5M1073,677.5h5M1075.5,675v5M1079,685.5h5M1081.5,683v5M1073,672.5h5M1075.5,670v5M1074,615.5h5M1076.5,613v5M1073,645.5h5M1075.5,643v5M1078,587.5h5M1080.5,585v5M1074,664.5h5M1076.5,662v5M1079,614.5h5M1081.5,612v5M1077,631.5h5M1079.5,629v5M1083,676.5h5M1085.5,674v5M1082,690.5h5M1084.5,688v5M1084,679.5h5M1086.5,677v5M1082,688.5h5M1084.5,686v5M1083,697.5h5M1085.5,695v5M1089,648.5h5M1091.5,646v5M1088,680.5h5M1090.5,678v5M1090,619.5h5M1092.5,617v5M1090,681.5h5M1092.5,679v5M1090,679.5h5M1092.5,677v5M1091,643.5h5M1093.5,641v5M1091,611.5h5M1093.5,609v5M1089,646.5h5M1091.5,644v5M1088,698.5h5M1090.5,696v5M1091,677.5h5M1093.5,675v5M1089,628.5h5M1091.5,626v5M1090,652.5h5M1092.5,650v5M1091,725.5h5M1093.5,723v5M1091,735.5h5M1093.5,733v5M1091,724.5h5M1093.5,722v5M1091,808.5h5M1093.5,806v5M1093,838.5h5M1095.5,836v5M1097,807.5h5M1099.5,805v5M1095,841.5h5M1097.5,839v5M1096,809.5h5M1098.5,807v5M1096,802.5h5M1098.5,800v5M1093,854.5h5M1095.5,852v5M1094,855.5h5M1096.5,853v5M1093,808.5h5M1095.5,806v5M1104,845.5h5M1106.5,843v5M1102,856.5h5M1104.5,854v5M1102,884.5h5M1104.5,882v5M1103,834.5h5M1105.5,832v5M1102,866.5h5M1104.5,864v5M1104,891.5h5M1106.5,889v5M1104,887.5h5M1106.5,885v5M1103,889.5h5M1105.5,887v5M1112,850.5h5M1114.5,848v5M1111,875.5h5M1113.5,873v5M1109,857.5h5M1111.5,855v5M1115,856.5h5M1117.5,854v5M1111,870.5h5M1113.5,868v5M1148,901.5h5M1150.5,899v5M1126,707.5h5M1128.5,705v5M1127,708.5h5M1129.5,706v5M1123,729.5h5M1125.5,727v5M1125,708.5h5M1127.5,706v5M1123,724.5h5M1125.5,722v5M1124,715.5h5M1126.5,713v5M1123,810.5h5M1125.5,808v5M1125,804.5h5M1127.5,802v5M1124,821.5h5M1126.5,819v5M1154,813.5h5M1156.5,811v5M1164,817.5h5M1166.5,815v5M1167,812.5h5M1169.5,810v5M1165,826.5h5M1167.5,824v5M1179,784.5h5M1181.5,782v5M1180,888.5h5M1182.5,886v5M1189,775.5h5M1191.5,773v5M1196,777.5h5M1198.5,775v5M1192,783.5h5M1194.5,781v5M1198,780.5h5M1200.5,778v5M1198,782.5h5M1200.5,780v5M1227,712.5h5M1229.5,710v5M1228,716.5h5M1230.5,714v5M1421,971.5h5M1423.5,969v5M1421,965.5h5M1423.5,963v5M1427,1016.5h5M1429.5,1014v5M1426,988.5h5M1428.5,986v5M1425,992.5h5M1427.5,990v5M1457,1076.5h5M1459.5,1074v5M1458,1087.5h5M1460.5,1085v5M1457,1084.5h5M1459.5,1082v5M1456,1099.5h5M1458.5,1097v5M1458,1071.5h5M1460.5,1069v5M1459,1081.5h5M1461.5,1079v5M902,859.5h5M904.5,857v5M907,821.5h5M909.5,819v5M1418,917.5h5M1420.5,915v5" stroke="#000" stroke-width="1" shape-rendering="crispEdges" fill="none"/><path d="M921,797.5h5M923.5,795v5M921,793.5h5M923.5,791v5M926,731.5h5M928.5,729v5M926,742.5h5M928.5,740v5M941,825.5h5M943.5,823v5M932,826.5h5M934.5,824v5M969,834.5h5M971.5,832v5M966,834.5h5M968.5,832v5M986,808.5h5M988.5,806v5M986,757.5h5M988.5,755v5M991,948.5h5M993.5,946v5M989,928.5h5M991.5,926v5M990,905.5h5M992.5,903v5M996,823.5h5M998.5,821v5M994,777.5h5M996.5,775v5M1006,789.5h5M1008.5,787v5M993,807.5h5M995.5,805v5M1007,814.5h5M1009.5,812v5M999,810.5h5M1001.5,808v5M1003,812.5h5M1005.5,810v5M1002,828.5h5M1004.5,826v5M996,781.5h5M998.5,779v5M1002,845.5h5M1004.5,843v5M1002,790.5h5M1004.5,788v5M995,846.5h5M997.5,844v5M1011,723.5h5M1013.5,721v5M1009,763.5h5M1011.5,761v5M1012,743.5h5M1014.5,741v5M1014,729.5h5M1016.5,727v5M1015,753.5h5M1017.5,751v5M1018,803.5h5M1020.5,801v5M1016,778.5h5M1018.5,776v5M1017,791.5h5M1019.5,789v5M1018,786.5h5M1020.5,784v5M1031,756.5h5M1033.5,754v5M1025,783.5h5M1027.5,781v5M1030,804.5h5M1032.5,802v5M1028,719.5h5M1030.5,717v5M1027,728.5h5M1029.5,726v5M1032,778.5h5M1034.5,776v5M1026,710.5h5M1028.5,708v5M1024,725.5h5M1026.5,723v5M1030,649.5h5M1032.5,647v5M1036,704.5h5M1038.5,702v5M1036,713.5h5M1038.5,711v5M1033,741.5h5M1035.5,739v5M1035,706.5h5M1037.5,704v5M1033,770.5h5M1035.5,768v5M1036,742.5h5M1038.5,740v5M1034,717.5h5M1036.5,715v5M1042,735.5h5M1044.5,733v5M1041,743.5h5M1043.5,741v5M1050,705.5h5M1052.5,703v5M1046,703.5h5M1048.5,701v5M1049,713.5h5M1051.5,711v5M1048,709.5h5M1050.5,707v5M1052,650.5h5M1054.5,648v5M1051,662.5h5M1053.5,660v5M1061,706.5h5M1063.5,704v5M1059,708.5h5M1061.5,706v5M1057,682.5h5M1059.5,680v5M1060,717.5h5M1062.5,715v5M1067,738.5h5M1069.5,736v5M1068,719.5h5M1070.5,717v5M1072,701.5h5M1074.5,699v5M1072,680.5h5M1074.5,678v5M1073,625.5h5M1075.5,623v5M1076,624.5h5M1078.5,622v5M1079,649.5h5M1081.5,647v5M1076,605.5h5M1078.5,603v5M1076,637.5h5M1078.5,635v5M1079,652.5h5M1081.5,650v5M1074,587.5h5M1076.5,585v5M1083,657.5h5M1085.5,655v5M1083,658.5h5M1085.5,656v5M1084,685.5h5M1086.5,683v5M1092,642.5h5M1094.5,640v5M1088,648.5h5M1090.5,646v5M1088,607.5h5M1090.5,605v5M1090,605.5h5M1092.5,603v5M1091,749.5h5M1093.5,747v5M1091,733.5h5M1093.5,731v5M1095,803.5h5M1097.5,801v5M1097,792.5h5M1099.5,790v5M1103,846.5h5M1105.5,844v5M1176,879.5h5M1178.5,877v5" stroke="#00f" stroke-width="1" shape-rendering="crispEdges" fill="none"/><path d="M655,984.5h5M657.5,982v5M655,961.5h5M657.5,959v5M653,994.5h5M655.5,992v5M654,940.5h5M656.5,938v5M653,986.5h5M655.5,984v5M659,940.5h5M661.5,938v5M658,909.5h5M660.5,907v5M658,875.5h5M660.5,873v5M659,913.5h5M661.5,911v5M658,902.5h5M660.5,900v5M659,926.5h5M661.5,924v5M658,912.5h5M660.5,910v5M663,911.5h5M665.5,909v5M662,908.5h5M664.5,906v5M663,913.5h5M665.5,911v5M662,876.5h5M664.5,874v5M660,877.5h5M662.5,875v5M671,885.5h5M673.5,883v5M668,894.5h5M670.5,892v5M669,911.5h5M671.5,909v5M669,895.5h5M671.5,893v5M669,912.5h5M671.5,910v5M669,891.5h5M671.5,889v5M676,866.5h5M678.5,864v5M677,879.5h5M679.5,877v5M677,864.5h5M679.5,862v5M675,876.5h5M677.5,874v5M677,855.5h5M679.5,853v5M676,879.5h5M678.5,877v5M691,949.5h5M693.5,947v5M691,951.5h5M693.5,949v5M685,1072.5h5M687.5,1070v5M684,1080.5h5M686.5,1078v5M684,1068.5h5M686.5,1066v5M686,1071.5h5M688.5,1069v5M684,1082.5h5M686.5,1080v5M700,973.5h5M702.5,971v5M709,918.5h5M711.5,916v5M709,915.5h5M711.5,913v5M709,918.5h5M711.5,916v5M719,899.5h5M721.5,897v5M719,902.5h5M721.5,900v5M905,893.5h5M907.5,891v5M905,893.5h5M907.5,891v5M929,731.5h5M931.5,729v5M932,804.5h5M934.5,802v5M954,759.5h5M956.5,757v5M951,782.5h5M953.5,780v5M962,815.5h5M964.5,813v5M965,812.5h5M967.5,810v5M970,800.5h5M972.5,798v5M971,838.5h5M973.5,836v5M972,840.5h5M974.5,838v5M972,819.5h5M974.5,817v5M982,828.5h5M984.5,826v5M977,805.5h5M979.5,803v5M982,810.5h5M984.5,808v5M986,814.5h5M988.5,812v5M986,844.5h5M988.5,842v5M986,760.5h5M988.5,758v5M990,917.5h5M992.5,915v5M992,894.5h5M994.5,892v5M989,952.5h5M991.5,950v5M995,836.5h5M997.5,834v5M1000,814.5h5M1002.5,812v5M1007,784.5h5M1009.5,782v5M998,802.5h5M1000.5,800v5M994,791.5h5M996.5,789v5M991,815.5h5M993.5,813v5M1001,801.5h5M1003.5,799v5M1005,824.5h5M1007.5,822v5M1007,824.5h5M1009.5,822v5M1010,731.5h5M1012.5,729v5M1016,807.5h5M1018.5,805v5M1017,780.5h5M1019.5,778v5M1019,829.5h5M1021.5,827v5M1020,804.5h5M1022.5,802v5M1019,811.5h5M1021.5,809v5M1032,768.5h5M1034.5,766v5M1031,730.5h5M1033.5,728v5M1032,771.5h5M1034.5,769v5M1025,737.5h5M1027.5,735v5M1031,735.5h5M1033.5,733v5M1026,760.5h5M1028.5,758v5M1029,739.5h5M1031.5,737v5M1022,737.5h5M1024.5,735v5M1024,750.5h5M1026.5,748v5M1030,696.5h5M1032.5,694v5M1025,789.5h5M1027.5,787v5M1029,657.5h5M1031.5,655v5M1029,657.5h5M1031.5,655v5M1029,694.5h5M1031.5,692v5M1028,653.5h5M1030.5,651v5M1030,678.5h5M1032.5,676v5M1030,685.5h5M1032.5,683v5M1034,766.5h5M1036.5,764v5M1033,805.5h5M1035.5,803v5M1032,797.5h5M1034.5,795v5M1035,717.5h5M1037.5,715v5M1033,755.5h5M1035.5,753v5M1036,794.5h5M1038.5,792v5M1036,780.5h5M1038.5,778v5M1037,731.5h5M1039.5,729v5M1032,754.5h5M1034.5,752v5M1032,734.5h5M1034.5,732v5M1035,752.5h5M1037.5,750v5M1038,746.5h5M1040.5,744v5M1039,759.5h5M1041.5,757v5M1037,736.5h5M1039.5,734v5M1040,759.5h5M1042.5,757v5M1038,731.5h5M1040.5,729v5M1046,723.5h5M1048.5,721v5M1050,713.5h5M1052.5,711v5M1049,692.5h5M1051.5,690v5M1046,737.5h5M1048.5,735v5M1049,724.5h5M1051.5,722v5M1052,665.5h5M1054.5,663v5M1052,666.5h5M1054.5,664v5M1064,698.5h5M1066.5,696v5M1057,697.5h5M1059.5,695v5M1063,713.5h5M1065.5,711v5M1064,717.5h5M1066.5,715v5M1065,684.5h5M1067.5,682v5M1059,709.5h5M1061.5,707v5M1065,724.5h5M1067.5,722v5M1066,734.5h5M1068.5,732v5M1067,725.5h5M1069.5,723v5M1065,706.5h5M1067.5,704v5M1076,667.5h5M1078.5,665v5M1073,607.5h5M1075.5,605v5M1073,645.5h5M1075.5,643v5M1074,675.5h5M1076.5,673v5M1079,619.5h5M1081.5,617v5M1078,609.5h5M1080.5,607v5M1078,627.5h5M1080.5,625v5M1076,600.5h5M1078.5,598v5M1083,661.5h5M1085.5,659v5M1090,668.5h5M1092.5,666v5M1088,667.5h5M1090.5,665v5M1091,652.5h5M1093.5,650v5M1091,695.5h5M1093.5,693v5M1088,637.5h5M1090.5,635v5M1088,683.5h5M1090.5,681v5M1090,686.5h5M1092.5,684v5M1091,708.5h5M1093.5,706v5M1097,791.5h5M1099.5,789v5M1094,833.5h5M1096.5,831v5M1093,830.5h5M1095.5,828v5M1094,855.5h5M1096.5,853v5M1102,862.5h5M1104.5,860v5M1103,884.5h5M1105.5,882v5M1102,877.5h5M1104.5,875v5M1102,884.5h5M1104.5,882v5M1104,861.5h5M1106.5,859v5M1103,872.5h5M1105.5,870v5M1111,855.5h5M1113.5,853v5M1115,871.5h5M1117.5,869v5M1114,852.5h5M1116.5,850v5M1113,875.5h5M1115.5,873v5M1114,858.5h5M1116.5,856v5M1114,875.5h5M1116.5,873v5M1115,897.5h5M1117.5,895v5M1107,801.5h5M1109.5,799v5M1126,722.5h5M1128.5,720v5M1123,714.5h5M1125.5,712v5M1124,714.5h5M1126.5,712v5M1126,721.5h5M1128.5,719v5M1127,722.5h5M1129.5,720v5M1124,717.5h5M1126.5,715v5M1127,820.5h5M1129.5,818v5M1167,846.5h5M1169.5,844v5M1181,787.5h5M1183.5,785v5M1179,831.5h5M1181.5,829v5M1179,802.5h5M1181.5,800v5M1180,801.5h5M1182.5,799v5M1181,834.5h5M1183.5,832v5M1181,884.5h5M1183.5,882v5M1199,780.5h5M1201.5,778v5M1192,770.5h5M1194.5,768v5M1193,778.5h5M1195.5,776v5M1194,773.5h5M1196.5,771v5M1189,771.5h5M1191.5,769v5M1192,782.5h5M1194.5,780v5M1207,745.5h5M1209.5,743v5M1426,1016.5h5M1428.5,1014v5M1444,963.5h5M1446.5,961v5M1443,958.5h5M1445.5,956v5M1445,939.5h5M1447.5,937v5M1444,965.5h5M1446.5,963v5M1446,958.5h5M1448.5,956v5M1445,937.5h5M1447.5,935v5M1445,944.5h5M1447.5,942v5M1447,934.5h5M1449.5,932v5M1447,968.5h5M1449.5,966v5M1447,974.5h5M1449.5,972v5M1455,1011.5h5M1457.5,1009v5M1453,929.5h5M1455.5,927v5M1453,916.5h5M1455.5,914v5M1452,954.5h5M1454.5,952v5M1464,850.5h5M1466.5,848v5M1463,770.5h5M1465.5,768v5M1465,812.5h5M1467.5,810v5M1466,876.5h5M1468.5,874v5M1463,872.5h5M1465.5,870v5M1465,878.5h5M1467.5,876v5M1473,837.5h5M1475.5,835v5M1473,839.5h5M1475.5,837v5M1474,838.5h5M1476.5,836v5M1472,842.5h5M1474.5,840v5M1475,844.5h5M1477.5,842v5M1474,832.5h5M1476.5,830v5M1474,843.5h5M1476.5,841v5M1475,900.5h5M1477.5,898v5M1474,902.5h5M1476.5,900v5M1472,888.5h5M1474.5,886v5M1470,907.5h5M1472.5,905v5M1473,951.5h5M1475.5,949v5M1473,944.5h5M1475.5,942v5M1482,879.5h5M1484.5,877v5M1483,821.5h5M1485.5,819v5M1488,843.5h5M1490.5,841v5M1479,809.5h5M1481.5,807v5M1481,856.5h5M1483.5,854v5M1483,824.5h5M1485.5,822v5M1481,825.5h5M1483.5,823v5M1481,877.5h5M1483.5,875v5M1482,826.5h5M1484.5,824v5M1488,889.5h5M1490.5,887v5M1484,899.5h5M1486.5,897v5M1486,853.5h5M1488.5,851v5M1486,842.5h5M1488.5,840v5M1484,892.5h5M1486.5,890v5M1482,815.5h5M1484.5,813v5M1490,903.5h5M1492.5,901v5M1484,903.5h5M1486.5,901v5M1483,856.5h5M1485.5,854v5M1487,855.5h5M1489.5,853v5M1489,828.5h5M1491.5,826v5M1482,924.5h5M1484.5,922v5M1494,904.5h5M1496.5,902v5M1498,920.5h5M1500.5,918v5M1496,919.5h5M1498.5,917v5M1496,953.5h5M1498.5,951v5M1500,914.5h5M1502.5,912v5M1494,966.5h5M1496.5,964v5M1498,979.5h5M1500.5,977v5M1495,955.5h5M1497.5,953v5M1493,962.5h5M1495.5,960v5M1491,963.5h5M1493.5,961v5M1498,984.5h5M1500.5,982v5M1493,973.5h5M1495.5,971v5M1496,989.5h5M1498.5,987v5M1497,916.5h5M1499.5,914v5M1491,961.5h5M1493.5,959v5M1497,968.5h5M1499.5,966v5M1491,935.5h5M1493.5,933v5M1491,905.5h5M1493.5,903v5M1491,971.5h5M1493.5,969v5M1494,987.5h5M1496.5,985v5M1496,966.5h5M1498.5,964v5M1494,904.5h5M1496.5,902v5M1496,954.5h5M1498.5,952v5M1493,943.5h5M1495.5,941v5M1497,978.5h5M1499.5,976v5M1500,940.5h5M1502.5,938v5M1496,955.5h5M1498.5,953v5M1495,970.5h5M1497.5,968v5M1494,935.5h5M1496.5,933v5M1496,944.5h5M1498.5,942v5M1492,942.5h5M1494.5,940v5M1495,996.5h5M1497.5,994v5M1499,1094.5h5M1501.5,1092v5M1497,1075.5h5M1499.5,1073v5M1499,1036.5h5M1501.5,1034v5M1499,1047.5h5M1501.5,1045v5M1495,1082.5h5M1497.5,1080v5M1499,1041.5h5M1501.5,1039v5M1498,1077.5h5M1500.5,1075v5M1499,1029.5h5M1501.5,1027v5M1497,1031.5h5M1499.5,1029v5M1497,1030.5h5M1499.5,1028v5M1496,1082.5h5M1498.5,1080v5M1500,1024.5h5M1502.5,1022v5M1500,1089.5h5M1502.5,1087v5M1496,1008.5h5M1498.5,1006v5M1496,1055.5h5M1498.5,1053v5M1498,1062.5h5M1500.5,1060v5M1495,1083.5h5M1497.5,1081v5M1496,1019.5h5M1498.5,1017v5M1495,1010.5h5M1497.5,1008v5M682,992.5h5M684.5,990v5M683,1060.5h5M685.5,1058v5" stroke="#0f0" stroke-width="1" shape-rendering="crispEdges" fill="none"/><path d="M656,983.5h5M658.5,981v5M658,866.5h5M660.5,864v5M658,916.5h5M660.5,914v5M659,918.5h5M661.5,916v5M663,898.5h5M665.5,896v5M663,910.5h5M665.5,908v5M670,885.5h5M672.5,883v5M678,855.5h5M680.5,853v5M682,881.5h5M684.5,879v5M690,907.5h5M692.5,905v5M701,970.5h5M703.5,968v5M705,946.5h5M707.5,944v5M720,896.5h5M722.5,894v5M918,834.5h5M920.5,832v5M918,841.5h5M920.5,839v5M922,794.5h5M924.5,792v5M922,815.5h5M924.5,813v5M927,736.5h5M929.5,734v5M934,827.5h5M936.5,825v5M958,781.5h5M960.5,779v5M961,798.5h5M963.5,796v5M968,803.5h5M970.5,801v5M972,805.5h5M974.5,803v5M971,818.5h5M973.5,816v5M980,831.5h5M982.5,829v5M977,826.5h5M979.5,824v5M975,836.5h5M977.5,834v5M982,821.5h5M984.5,819v5M979,820.5h5M981.5,818v5M982,822.5h5M984.5,820v5M991,902.5h5M993.5,900v5M1002,810.5h5M1004.5,808v5M1008,833.5h5M1010.5,831v5M995,806.5h5M997.5,804v5M1003,799.5h5M1005.5,797v5M995,835.5h5M997.5,833v5M999,776.5h5M1001.5,774v5M1013,734.5h5M1015.5,732v5M1013,757.5h5M1015.5,755v5M1015,741.5h5M1017.5,739v5M1008,759.5h5M1010.5,757v5M1008,760.5h5M1010.5,758v5M1019,816.5h5M1021.5,814v5M1019,784.5h5M1021.5,782v5M1020,799.5h5M1022.5,797v5M1030,709.5h5M1032.5,707v5M1024,782.5h5M1026.5,780v5M1028,725.5h5M1030.5,723v5M1022,742.5h5M1024.5,740v5M1028,729.5h5M1030.5,727v5M1031,734.5h5M1033.5,732v5M1029,690.5h5M1031.5,688v5M1036,708.5h5M1038.5,706v5M1033,800.5h5M1035.5,798v5M1037,754.5h5M1039.5,752v5M1033,807.5h5M1035.5,805v5M1035,768.5h5M1037.5,766v5M1034,718.5h5M1036.5,716v5M1041,762.5h5M1043.5,760v5M1047,717.5h5M1049.5,715v5M1050,691.5h5M1052.5,689v5M1049,731.5h5M1051.5,729v5M1049,700.5h5M1051.5,698v5M1052,681.5h5M1054.5,679v5M1052,648.5h5M1054.5,646v5M1052,670.5h5M1054.5,668v5M1052,640.5h5M1054.5,638v5M1051,672.5h5M1053.5,670v5M1065,710.5h5M1067.5,708v5M1068,730.5h5M1070.5,728v5M1071,678.5h5M1073.5,676v5M1074,676.5h5M1076.5,674v5M1077,604.5h5M1079.5,602v5M1075,595.5h5M1077.5,593v5M1077,698.5h5M1079.5,696v5M1075,606.5h5M1077.5,604v5M1075,668.5h5M1077.5,666v5M1084,697.5h5M1086.5,695v5M1082,683.5h5M1084.5,681v5M1083,685.5h5M1085.5,683v5M1082,666.5h5M1084.5,664v5M1088,676.5h5M1090.5,674v5M1091,681.5h5M1093.5,679v5M1091,693.5h5M1093.5,691v5M1088,686.5h5M1090.5,684v5M1090,655.5h5M1092.5,653v5M1091,668.5h5M1093.5,666v5M1090,672.5h5M1092.5,670v5M1091,692.5h5M1093.5,690v5M1096,801.5h5M1098.5,799v5M1094,839.5h5M1096.5,837v5M1094,842.5h5M1096.5,840v5M1092,841.5h5M1094.5,839v5M1103,888.5h5M1105.5,886v5M1104,831.5h5M1106.5,829v5M1103,874.5h5M1105.5,872v5M1104,831.5h5M1106.5,829v5M1103,833.5h5M1105.5,831v5M1111,900.5h5M1113.5,898v5M1125,718.5h5M1127.5,716v5M1177,890.5h5M1179.5,888v5M1178,876.5h5M1180.5,874v5M1199,779.5h5M1201.5,777v5M1194,778.5h5M1196.5,776v5M1448,931.5h5M1450.5,929v5M1449,935.5h5M1451.5,933v5M1449,956.5h5M1451.5,954v5M1454,914.5h5M1456.5,912v5M1458,1073.5h5M1460.5,1071v5M1459,1066.5h5M1461.5,1064v5M1459,1081.5h5M1461.5,1079v5M1466,791.5h5M1468.5,789v5M1464,847.5h5M1466.5,845v5M1463,812.5h5M1465.5,810v5M1472,856.5h5M1474.5,854v5M1473,830.5h5M1475.5,828v5M1471,896.5h5M1473.5,894v5M1472,904.5h5M1474.5,902v5M1473,917.5h5M1475.5,915v5M1491,814.5h5M1493.5,812v5M1481,812.5h5M1483.5,810v5M1480,822.5h5M1482.5,820v5M1491,810.5h5M1493.5,808v5M1485,822.5h5M1487.5,820v5M1484,870.5h5M1486.5,868v5M1484,894.5h5M1486.5,892v5M1483,826.5h5M1485.5,824v5M1495,953.5h5M1497.5,951v5M1491,952.5h5M1493.5,950v5M1495,995.5h5M1497.5,993v5M1493,917.5h5M1495.5,915v5M1498,961.5h5M1500.5,959v5M1492,940.5h5M1494.5,938v5M1499,967.5h5M1501.5,965v5M1496,993.5h5M1498.5,991v5M1493,957.5h5M1495.5,955v5M1499,979.5h5M1501.5,977v5M1491,974.5h5M1493.5,972v5M1500,925.5h5M1502.5,923v5M1498,992.5h5M1500.5,990v5M1500,1040.5h5M1502.5,1038v5M1497,1004.5h5M1499.5,1002v5M1497,1003.5h5M1499.5,1001v5M1497,1051.5h5M1499.5,1049v5M1495,1044.5h5M1497.5,1042v5M1495,1051.5h5M1497.5,1049v5M1499,1030.5h5M1501.5,1028v5M1310,821.5h5M1312.5,819v5" stroke="#ffa500" stroke-width="1" shape-rendering="crispEdges" fill="none"/><path d="M926,741.5h5M928.5,739v5M928,734.5h5M930.5,732v5M929,747.5h5M931.5,745v5M940,814.5h5M942.5,812v5M936,809.5h5M938.5,807v5M933,827.5h5M935.5,825v5M935,837.5h5M937.5,835v5M954,761.5h5M956.5,759v5M947,794.5h5M949.5,792v5M956,752.5h5M958.5,750v5M960,791.5h5M962.5,789v5M965,833.5h5M967.5,831v5M968,822.5h5M970.5,820v5M973,834.5h5M975.5,832v5M964,843.5h5M966.5,841v5M964,804.5h5M966.5,802v5M972,817.5h5M974.5,815v5M975,821.5h5M977.5,819v5M986,822.5h5M988.5,820v5M986,785.5h5M988.5,783v5M986,769.5h5M988.5,767v5M987,865.5h5M989.5,863v5M991,897.5h5M993.5,895v5M990,952.5h5M992.5,950v5M992,780.5h5M994.5,778v5M1007,773.5h5M1009.5,771v5M1000,795.5h5M1002.5,793v5M1008,801.5h5M1010.5,799v5M995,847.5h5M997.5,845v5M995,808.5h5M997.5,806v5M995,833.5h5M997.5,831v5M1000,809.5h5M1002.5,807v5M998,839.5h5M1000.5,837v5M1000,808.5h5M1002.5,806v5M999,796.5h5M1001.5,794v5M1008,773.5h5M1010.5,771v5M1008,735.5h5M1010.5,733v5M1012,746.5h5M1014.5,744v5M1011,761.5h5M1013.5,759v5M1013,738.5h5M1015.5,736v5M1012,753.5h5M1014.5,751v5M1010,758.5h5M1012.5,756v5M1019,779.5h5M1021.5,777v5M1018,819.5h5M1020.5,817v5M1024,747.5h5M1026.5,745v5M1028,728.5h5M1030.5,726v5M1032,745.5h5M1034.5,743v5M1029,737.5h5M1031.5,735v5M1023,795.5h5M1025.5,793v5M1031,762.5h5M1033.5,760v5M1030,714.5h5M1032.5,712v5M1032,731.5h5M1034.5,729v5M1030,665.5h5M1032.5,663v5M1029,670.5h5M1031.5,668v5M1032,796.5h5M1034.5,794v5M1036,735.5h5M1038.5,733v5M1036,784.5h5M1038.5,782v5M1036,718.5h5M1038.5,716v5M1033,803.5h5M1035.5,801v5M1036,739.5h5M1038.5,737v5M1038,743.5h5M1040.5,741v5M1037,731.5h5M1039.5,729v5M1042,738.5h5M1044.5,736v5M1041,732.5h5M1043.5,730v5M1038,752.5h5M1040.5,750v5M1049,698.5h5M1051.5,696v5M1048,704.5h5M1050.5,702v5M1047,727.5h5M1049.5,725v5M1047,735.5h5M1049.5,733v5M1051,736.5h5M1053.5,734v5M1052,684.5h5M1054.5,682v5M1052,646.5h5M1054.5,644v5M1061,684.5h5M1063.5,682v5M1061,695.5h5M1063.5,693v5M1056,687.5h5M1058.5,685v5M1058,682.5h5M1060.5,680v5M1065,740.5h5M1067.5,738v5M1064,735.5h5M1066.5,733v5M1070,693.5h5M1072.5,691v5M1079,674.5h5M1081.5,672v5M1075,671.5h5M1077.5,669v5M1074,660.5h5M1076.5,658v5M1080,637.5h5M1082.5,635v5M1078,610.5h5M1080.5,608v5M1090,648.5h5M1092.5,646v5M1090,607.5h5M1092.5,605v5M1088,625.5h5M1090.5,623v5M1088,662.5h5M1090.5,660v5M1090,676.5h5M1092.5,674v5M1090,615.5h5M1092.5,613v5M1091,683.5h5M1093.5,681v5M1089,698.5h5M1091.5,696v5M1097,832.5h5M1099.5,830v5M1094,817.5h5M1096.5,815v5M1095,823.5h5M1097.5,821v5M1096,817.5h5M1098.5,815v5M1097,788.5h5M1099.5,786v5M1104,874.5h5M1106.5,872v5M1104,875.5h5M1106.5,873v5M1102,869.5h5M1104.5,867v5M1125,766.5h5M1127.5,764v5M1125,817.5h5M1127.5,815v5M1127,811.5h5M1129.5,809v5M1126,811.5h5M1128.5,809v5M1153,769.5h5M1155.5,767v5M1156,721.5h5M1158.5,719v5M1153,745.5h5M1155.5,743v5M1165,822.5h5M1167.5,820v5M1314,834.5h5M1316.5,832v5M914,866.5h5M916.5,864v5M1188,789.5h5M1190.5,787v5" stroke="#f00" stroke-width="1" shape-rendering="crispEdges" fill="none"/><path d="M240.5,300.5H1940.5V1500.5H240.5Z M240,900.5H1940 M611.5,300V1500 M1411.5,300V1500" fill="none" stroke="#000" stroke-width="1.2"/><path d="M240,297h2v3h-2zM240,1500h2v3h-2zM254,298h2v2h-2zM254,1500h2v2h-2zM269,298h2v2h-2zM269,1500h2v2h-2zM283,298h2v2h-2zM283,1500h2v2h-2zM297,298h2v2h-2zM297,1500h2v2h-2zM311,298h2v2h-2zM311,1500h2v2h-2zM326,298h2v2h-2zM326,1500h2v2h-2zM340,298h2v2h-2zM340,1500h2v2h-2zM354,298h2v2h-2zM354,1500h2v2h-2zM369,298h2v2h-2zM369,1500h2v2h-2zM383,297h2v3h-2zM383,1500h2v3h-2zM397,298h2v2h-2zM397,1500h2v2h-2zM411,298h2v2h-2zM411,1500h2v2h-2zM426,298h2v2h-2zM426,1500h2v2h-2zM440,298h2v2h-2zM440,1500h2v2h-2zM454,298h2v2h-2zM454,1500h2v2h-2zM469,298h2v2h-2zM469,1500h2v2h-2zM483,298h2v2h-2zM483,1500h2v2h-2zM497,298h2v2h-2zM497,1500h2v2h-2zM511,298h2v2h-2zM511,1500h2v2h-2zM526,297h2v3h-2zM526,1500h2v3h-2zM540,298h2v2h-2zM540,1500h2v2h-2zM554,298h2v2h-2zM554,1500h2v2h-2zM569,298h2v2h-2zM569,1500h2v2h-2zM583,298h2v2h-2zM583,1500h2v2h-2zM597,298h2v2h-2zM597,1500h2v2h-2zM611,298h2v2h-2zM611,1500h2v2h-2zM626,298h2v2h-2zM626,1500h2v2h-2zM640,298h2v2h-2zM640,1500h2v2h-2zM654,298h2v2h-2zM654,1500h2v2h-2zM669,297h2v3h-2zM669,1500h2v3h-2zM683,298h2v2h-2zM683,1500h2v2h-2zM697,298h2v2h-2zM697,1500h2v2h-2zM711,298h2v2h-2zM711,1500h2v2h-2zM726,298h2v2h-2zM726,1500h2v2h-2zM740,298h2v2h-2zM740,1500h2v2h-2zM754,298h2v2h-2zM754,1500h2v2h-2zM769,298h2v2h-2zM769,1500h2v2h-2zM783,298h2v2h-2zM783,1500h2v2h-2zM797,298h2v2h-2zM797,1500h2v2h-2zM811,297h2v3h-2zM811,1500h2v3h-2zM826,298h2v2h-2zM826,1500h2v2h-2zM840,298h2v2h-2zM840,1500h2v2h-2zM854,298h2v2h-2zM854,1500h2v2h-2zM869,298h2v2h-2zM869,1500h2v2h-2zM883,298h2v2h-2zM883,1500h2v2h-2zM897,298h2v2h-2zM897,1500h2v2h-2zM911,298h2v2h-2zM911,1500h2v2h-2zM926,298h2v2h-2zM926,1500h2v2h-2zM940,298h2v2h-2zM940,1500h2v2h-2zM954,297h2v3h-2zM954,1500h2v3h-2zM969,298h2v2h-2zM969,1500h2v2h-2zM983,298h2v2h-2zM983,1500h2v2h-2zM997,298h2v2h-2zM997,1500h2v2h-2zM1011,298h2v2h-2zM1011,1500h2v2h-2zM1026,298h2v2h-2zM1026,1500h2v2h-2zM1040,298h2v2h-2zM1040,1500h2v2h-2zM1054,298h2v2h-2zM1054,1500h2v2h-2zM1069,298h2v2h-2zM1069,1500h2v2h-2zM1083,298h2v2h-2zM1083,1500h2v2h-2zM1097,297h2v3h-2zM1097,1500h2v3h-2zM1111,298h2v2h-2zM1111,1500h2v2h-2zM1126,298h2v2h-2zM1126,1500h2v2h-2zM1140,298h2v2h-2zM1140,1500h2v2h-2zM1154,298h2v2h-2zM1154,1500h2v2h-2zM1169,298h2v2h-2zM1169,1500h2v2h-2zM1183,298h2v2h-2zM1183,1500h2v2h-2zM1197,298h2v2h-2zM1197,1500h2v2h-2zM1211,298h2v2h-2zM1211,1500h2v2h-2zM1226,298h2v2h-2zM1226,1500h2v2h-2zM1240,297h2v3h-2zM1240,1500h2v3h-2zM1254,298h2v2h-2zM1254,1500h2v2h-2zM1269,298h2v2h-2zM1269,1500h2v2h-2zM1283,298h2v2h-2zM1283,1500h2v2h-2zM1297,298h2v2h-2zM1297,1500h2v2h-2zM1311,298h2v2h-2zM1311,1500h2v2h-2zM1326,298h2v2h-2zM1326,1500h2v2h-2zM1340,298h2v2h-2zM1340,1500h2v2h-2zM1354,298h2v2h-2zM1354,1500h2v2h-2zM1369,298h2v2h-2zM1369,1500h2v2h-2zM1383,297h2v3h-2zM1383,1500h2v3h-2zM1397,298h2v2h-2zM1397,1500h2v2h-2zM1411,298h2v2h-2zM1411,1500h2v2h-2zM1426,298h2v2h-2zM1426,1500h2v2h-2zM1440,298h2v2h-2zM1440,1500h2v2h-2zM1454,298h2v2h-2zM1454,1500h2v2h-2zM1469,298h2v2h-2zM1469,1500h2v2h-2zM1483,298h2v2h-2zM1483,1500h2v2h-2zM1497,298h2v2h-2zM1497,1500h2v2h-2zM1511,298h2v2h-2zM1511,1500h2v2h-2zM1526,297h2v3h-2zM1526,1500h2v3h-2zM1540,298h2v2h-2zM1540,1500h2v2h-2zM1554,298h2v2h-2zM1554,1500h2v2h-2zM1569,298h2v2h-2zM1569,1500h2v2h-2zM1583,298h2v2h-2zM1583,1500h2v2h-2zM1597,298h2v2h-2zM1597,1500h2v2h-2zM1611,298h2v2h-2zM1611,1500h2v2h-2zM1626,298h2v2h-2zM1626,1500h2v2h-2zM1640,298h2v2h-2zM1640,1500h2v2h-2zM1654,298h2v2h-2zM1654,1500h2v2h-2zM1669,297h2v3h-2zM1669,1500h2v3h-2zM1683,298h2v2h-2zM1683,1500h2v2h-2zM1697,298h2v2h-2zM1697,1500h2v2h-2zM1711,298h2v2h-2zM1711,1500h2v2h-2zM1726,298h2v2h-2zM1726,1500h2v2h-2zM1740,298h2v2h-2zM1740,1500h2v2h-2zM1754,298h2v2h-2zM1754,1500h2v2h-2zM1769,298h2v2h-2zM1769,1500h2v2h-2zM1783,298h2v2h-2zM1783,1500h2v2h-2zM1797,298h2v2h-2zM1797,1500h2v2h-2zM1811,297h2v3h-2zM1811,1500h2v3h-2zM1826,298h2v2h-2zM1826,1500h2v2h-2zM1840,298h2v2h-2zM1840,1500h2v2h-2zM1854,298h2v2h-2zM1854,1500h2v2h-2zM1869,298h2v2h-2zM1869,1500h2v2h-2zM1883,298h2v2h-2zM1883,1500h2v2h-2zM1897,298h2v2h-2zM1897,1500h2v2h-2zM1911,298h2v2h-2zM1911,1500h2v2h-2zM1926,298h2v2h-2zM1926,1500h2v2h-2zM1939,298h2v2h-2zM1939,1500h2v2h-2zM237,300h3v2h-3zM238,330h2v2h-2zM237,360h3v2h-3zM238,390h2v2h-2zM237,420h3v2h-3zM238,450h2v2h-2zM237,480h3v2h-3zM238,510h2v2h-2zM237,540h3v2h-3zM238,570h2v2h-2zM237,600h3v2h-3zM238,630h2v2h-2zM237,660h3v2h-3zM238,690h2v2h-2zM237,720h3v2h-3zM238,750h2v2h-2zM237,780h3v2h-3zM238,810h2v2h-2zM237,840h3v2h-3zM238,870h2v2h-2zM237,900h3v2h-3zM238,930h2v2h-2zM237,960h3v2h-3zM238,990h2v2h-2zM237,1020h3v2h-3zM238,1050h2v2h-2zM237,1080h3v2h-3zM238,1110h2v2h-2zM237,1140h3v2h-3zM238,1170h2v2h-2zM237,1200h3v2h-3zM238,1230h2v2h-2zM237,1260h3v2h-3zM238,1290h2v2h-2zM237,1320h3v2h-3zM238,1350h2v2h-2zM237,1380h3v2h-3zM238,1410h2v2h-2zM237,1440h3v2h-3zM238,1470h2v2h-2zM237,1500h3v2h-3zM1938,500h4v2h-4zM1938,433h4v2h-4zM1938,406h4v2h-4zM1938,385h4v2h-4zM1938,367h4v2h-4zM1938,351h4v2h-4zM1938,337h4v2h-4zM1938,324h4v2h-4zM1938,311h4v2h-4zM1938,300h4v2h-4zM1938,1500h4v2h-4zM1938,1443h4v2h-4zM1938,1386h4v2h-4zM1938,1329h4v2h-4zM1938,1271h4v2h-4zM1938,1214h4v2h-4zM1938,1157h4v2h-4zM1938,1100h4v2h-4z" fill="#000"/><path d="M240,489.5H1851" stroke="#000" stroke-width="3" stroke-dasharray="22,10" stroke-dashoffset="11" fill="none"/><path d="M240,1345.6 L387.5,1337.7 L505.6,1328.3 L611,1320 L741.8,1310.5 L860,1304 L958,1300 L1010,1299.5 L1086,1301.5 L1277,1314 L1411,1327 L1552,1339 L1670,1346 L1749,1347.6 L1856,1347.5" stroke="#000" stroke-width="3.5" stroke-dasharray="22,9.5" fill="none"/><g font-family="Liberation Sans" font-weight="bold" font-size="100" fill="#000"><text transform="matrix(0.38208,0,0,0.39130,240.80,1535.9)" text-anchor="middle">0</text><text transform="matrix(0.38208,0,0,0.39130,383.66,1535.9)" text-anchor="middle">600</text><text transform="matrix(0.38208,0,0,0.39130,526.52,1535.9)" text-anchor="middle">1200</text><text transform="matrix(0.38208,0,0,0.39130,669.38,1535.9)" text-anchor="middle">1800</text><text transform="matrix(0.38208,0,0,0.39130,812.24,1535.9)" text-anchor="middle">2400</text><text transform="matrix(0.38208,0,0,0.39130,955.10,1535.9)" text-anchor="middle">3000</text><text transform="matrix(0.38208,0,0,0.39130,1097.96,1535.9)" text-anchor="middle">3600</text><text transform="matrix(0.38208,0,0,0.39130,1240.82,1535.9)" text-anchor="middle">4200</text><text transform="matrix(0.38208,0,0,0.39130,1383.68,1535.9)" text-anchor="middle">4800</text><text transform="matrix(0.38208,0,0,0.39130,1526.54,1535.9)" text-anchor="middle">5400</text><text transform="matrix(0.38208,0,0,0.39130,1669.40,1535.9)" text-anchor="middle">6000</text><text transform="matrix(0.38208,0,0,0.39130,1812.26,1535.9)" text-anchor="middle">6600</text><text transform="matrix(0.39416,0,0,0.39130,232.39,1513.80)" text-anchor="end">-10</text><text transform="matrix(0.39416,0,0,0.39130,232.39,1453.80)" text-anchor="end">-9</text><text transform="matrix(0.39416,0,0,0.39130,232.39,1393.80)" text-anchor="end">-8</text><text transform="matrix(0.39416,0,0,0.39130,232.39,1333.80)" text-anchor="end">-7</text><text transform="matrix(0.39416,0,0,0.39130,232.39,1273.80)" text-anchor="end">-6</text><text transform="matrix(0.39416,0,0,0.39130,232.39,1213.80)" text-anchor="end">-5</text><text transform="matrix(0.39416,0,0,0.39130,232.39,1153.80)" text-anchor="end">-4</text><text transform="matrix(0.39416,0,0,0.39130,232.39,1093.80)" text-anchor="end">-3</text><text transform="matrix(0.39416,0,0,0.39130,232.39,1033.80)" text-anchor="end">-2</text><text transform="matrix(0.39416,0,0,0.39130,232.39,973.80)" text-anchor="end">-1</text><text transform="matrix(0.39416,0,0,0.39130,232.39,913.80)" text-anchor="end">0</text><text transform="matrix(0.39416,0,0,0.39130,232.39,853.80)" text-anchor="end">1</text><text transform="matrix(0.39416,0,0,0.39130,232.39,793.80)" text-anchor="end">2</text><text transform="matrix(0.39416,0,0,0.39130,232.39,733.80)" text-anchor="end">3</text><text transform="matrix(0.39416,0,0,0.39130,232.39,673.80)" text-anchor="end">4</text><text transform="matrix(0.39416,0,0,0.39130,232.39,613.80)" text-anchor="end">5</text><text transform="matrix(0.39416,0,0,0.39130,232.39,553.80)" text-anchor="end">6</text><text transform="matrix(0.39416,0,0,0.39130,232.39,493.80)" text-anchor="end">7</text><text transform="matrix(0.39416,0,0,0.39130,232.39,433.80)" text-anchor="end">8</text><text transform="matrix(0.39416,0,0,0.39130,232.39,373.80)" text-anchor="end">9</text><text transform="matrix(0.39416,0,0,0.39130,232.39,313.80)" text-anchor="end">10</text><text transform="matrix(0.38462,0,0,0.39130,1990.53,313.80)" text-anchor="end">90</text><text transform="matrix(0.38462,0,0,0.39130,1990.53,350.50)" text-anchor="end">60</text><text transform="matrix(0.38462,0,0,0.39130,1990.53,398.33)" text-anchor="end">30</text><text transform="matrix(0.38462,0,0,0.39130,1990.53,513.80)" text-anchor="end">0</text><text transform="matrix(0.38462,0,0,0.39130,1990.53,1513.80)" text-anchor="end">20</text><text transform="matrix(0.38462,0,0,0.39130,1990.53,1456.66)" text-anchor="end">30</text><text transform="matrix(0.38462,0,0,0.39130,1990.53,1399.51)" text-anchor="end">40</text><text transform="matrix(0.38462,0,0,0.39130,1990.53,1342.37)" text-anchor="end">50</text><text transform="matrix(0.38462,0,0,0.39130,1990.53,1285.23)" text-anchor="end">60</text><text transform="matrix(0.38462,0,0,0.39130,1990.53,1228.09)" text-anchor="end">70</text><text transform="matrix(0.38462,0,0,0.39130,1990.53,1170.94)" text-anchor="end">80</text><text transform="matrix(0.38462,0,0,0.39130,1990.53,1113.80)" text-anchor="end">90</text></g><g transform="matrix(0.38733,0,0,0.38333,871.25,1602.80)" font-family="Liberation Sans" font-weight="bold" font-style="normal" font-size="100" fill="#000"><text x="0" y="0">seconds after start time</text></g><text transform="translate(136.90,1046.39) rotate(-90) scale(0.38425,0.40290)" font-family="Liberation Sans" font-weight="bold" font-style="normal" font-size="100">Lunar topo (km)</text><text transform="translate(2058.10,478.75) rotate(-90) scale(0.38650,0.38356)" font-family="Liberation Sans" font-weight="bold" font-style="normal" font-size="100">off-nadir</text><text transform="translate(2058.10,1412.31) rotate(-90) scale(0.38669,0.40580)" font-family="Liberation Sans" font-weight="bold" font-style="normal" font-size="100">LRO Ht (km)</text><text transform="matrix(0.31457,0,0,0.34783,289.58,1459.8)" font-family="Liberation Sans" font-size="100" fill="#000">Det. 1</text><text transform="matrix(0.31457,0,0,0.34783,409.58,1459.8)" font-family="Liberation Sans" font-size="100" fill="#00f">Det. 2</text><text transform="matrix(0.31457,0,0,0.34783,529.58,1459.8)" font-family="Liberation Sans" font-size="100" fill="#0f0">Det. 3</text><text transform="matrix(0.31457,0,0,0.34783,649.58,1459.8)" font-family="Liberation Sans" font-size="100" fill="#ffa500">Det. 4</text><text transform="matrix(0.31457,0,0,0.34783,769.58,1459.8)" font-family="Liberation Sans" font-size="100" fill="#f00">Det. 5</text><g transform="matrix(0.27901,0,0,0.27397,1451.13,1610.00)" font-family="Liberation Sans" font-weight="normal" font-style="italic" font-size="100" fill="#000"><text x="0" y="0">vertical lines are the terminator locations</text></g></svg></body></html>
